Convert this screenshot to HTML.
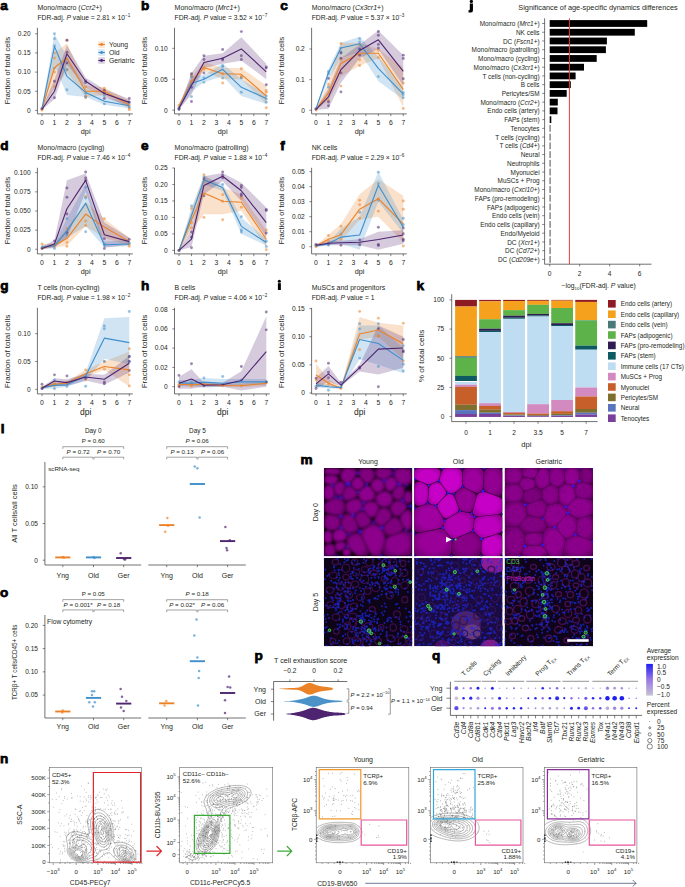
<!DOCTYPE html>
<html><head><meta charset="utf-8"><title>Figure</title>
<style>
html,body{margin:0;padding:0;background:#fff;}
body{width:685px;height:887px;overflow:hidden;position:relative;}
svg{position:absolute;left:0;top:0;display:block;}
text{font-family:"Liberation Sans", sans-serif;}
</style></head><body>
<svg width="685" height="887" viewBox="0 0 685 887">
<rect width="685" height="887" fill="#fff"/>
<g fill="#231f20">
<path d="M42.00,108.10 L54.47,52.95 L66.94,43.38 L85.65,85.51 L104.35,87.42 L129.29,100.83 L129.29,108.48 L104.35,95.08 L85.65,97.00 L66.94,72.10 L54.47,87.42 L42.00,110.02Z" fill="#EC8226" fill-opacity="0.24"/>
<path d="M42.00,107.34 L54.47,33.80 L66.94,56.78 L85.65,87.42 L104.35,97.00 L129.29,102.74 L129.29,108.48 L104.35,104.66 L85.65,97.00 L66.94,95.08 L54.47,64.44 L42.00,109.63Z" fill="#3F8FCB" fill-opacity="0.24"/>
<path d="M42.00,108.10 L54.47,79.76 L66.94,45.29 L85.65,77.84 L104.35,89.34 L129.29,98.91 L129.29,106.57 L104.35,97.00 L85.65,87.42 L66.94,64.44 L54.47,98.91 L42.00,110.02Z" fill="#4E2470" fill-opacity="0.24"/>
<circle cx="42.00" cy="109.25" r="1.45" fill="#EC8226" fill-opacity="0.55"/>
<circle cx="42.00" cy="110.02" r="1.45" fill="#EC8226" fill-opacity="0.55"/>
<circle cx="54.47" cy="52.95" r="1.45" fill="#EC8226" fill-opacity="0.55"/>
<circle cx="54.47" cy="57.93" r="1.45" fill="#EC8226" fill-opacity="0.55"/>
<circle cx="54.47" cy="72.10" r="1.45" fill="#EC8226" fill-opacity="0.55"/>
<circle cx="54.47" cy="86.65" r="1.45" fill="#EC8226" fill-opacity="0.55"/>
<circle cx="66.94" cy="40.31" r="1.45" fill="#EC8226" fill-opacity="0.55"/>
<circle cx="66.94" cy="69.80" r="1.45" fill="#EC8226" fill-opacity="0.55"/>
<circle cx="85.65" cy="87.04" r="1.45" fill="#EC8226" fill-opacity="0.55"/>
<circle cx="85.65" cy="97.76" r="1.45" fill="#EC8226" fill-opacity="0.55"/>
<circle cx="85.65" cy="96.23" r="1.45" fill="#EC8226" fill-opacity="0.55"/>
<circle cx="104.35" cy="88.19" r="1.45" fill="#EC8226" fill-opacity="0.55"/>
<circle cx="104.35" cy="90.48" r="1.45" fill="#EC8226" fill-opacity="0.55"/>
<circle cx="104.35" cy="93.17" r="1.45" fill="#EC8226" fill-opacity="0.55"/>
<circle cx="129.29" cy="108.10" r="1.45" fill="#EC8226" fill-opacity="0.55"/>
<circle cx="129.29" cy="109.63" r="1.45" fill="#EC8226" fill-opacity="0.55"/>
<circle cx="129.29" cy="105.04" r="1.45" fill="#EC8226" fill-opacity="0.55"/>
<circle cx="42.00" cy="108.10" r="1.45" fill="#3F8FCB" fill-opacity="0.55"/>
<circle cx="54.47" cy="33.80" r="1.45" fill="#3F8FCB" fill-opacity="0.55"/>
<circle cx="54.47" cy="38.78" r="1.45" fill="#3F8FCB" fill-opacity="0.55"/>
<circle cx="54.47" cy="45.67" r="1.45" fill="#3F8FCB" fill-opacity="0.55"/>
<circle cx="54.47" cy="68.27" r="1.45" fill="#3F8FCB" fill-opacity="0.55"/>
<circle cx="66.94" cy="69.80" r="1.45" fill="#3F8FCB" fill-opacity="0.55"/>
<circle cx="66.94" cy="89.72" r="1.45" fill="#3F8FCB" fill-opacity="0.55"/>
<circle cx="85.65" cy="97.00" r="1.45" fill="#3F8FCB" fill-opacity="0.55"/>
<circle cx="85.65" cy="93.17" r="1.45" fill="#3F8FCB" fill-opacity="0.55"/>
<circle cx="104.35" cy="95.46" r="1.45" fill="#3F8FCB" fill-opacity="0.55"/>
<circle cx="104.35" cy="103.89" r="1.45" fill="#3F8FCB" fill-opacity="0.55"/>
<circle cx="129.29" cy="102.74" r="1.45" fill="#3F8FCB" fill-opacity="0.55"/>
<circle cx="129.29" cy="106.95" r="1.45" fill="#3F8FCB" fill-opacity="0.55"/>
<circle cx="42.00" cy="108.87" r="1.45" fill="#4E2470" fill-opacity="0.55"/>
<circle cx="54.47" cy="81.29" r="1.45" fill="#4E2470" fill-opacity="0.55"/>
<circle cx="54.47" cy="97.76" r="1.45" fill="#4E2470" fill-opacity="0.55"/>
<circle cx="66.94" cy="40.31" r="1.45" fill="#4E2470" fill-opacity="0.55"/>
<circle cx="66.94" cy="52.18" r="1.45" fill="#4E2470" fill-opacity="0.55"/>
<circle cx="66.94" cy="62.91" r="1.45" fill="#4E2470" fill-opacity="0.55"/>
<circle cx="85.65" cy="80.91" r="1.45" fill="#4E2470" fill-opacity="0.55"/>
<circle cx="85.65" cy="82.44" r="1.45" fill="#4E2470" fill-opacity="0.55"/>
<circle cx="104.35" cy="90.48" r="1.45" fill="#4E2470" fill-opacity="0.55"/>
<circle cx="104.35" cy="92.78" r="1.45" fill="#4E2470" fill-opacity="0.55"/>
<circle cx="104.35" cy="98.53" r="1.45" fill="#4E2470" fill-opacity="0.55"/>
<circle cx="129.29" cy="98.53" r="1.45" fill="#4E2470" fill-opacity="0.55"/>
<circle cx="129.29" cy="101.97" r="1.45" fill="#4E2470" fill-opacity="0.55"/>
<path d="M42.00,109.25 L54.47,67.50 L66.94,58.31 L85.65,91.25 L104.35,91.25 L129.29,105.04" fill="none" stroke="#EC8226" stroke-width="1.1" stroke-linejoin="round"/>
<path d="M42.00,108.48 L54.47,46.44 L66.94,76.31 L85.65,92.40 L104.35,101.21 L129.29,105.80" fill="none" stroke="#3F8FCB" stroke-width="1.1" stroke-linejoin="round"/>
<path d="M42.00,109.25 L54.47,91.25 L66.94,53.72 L85.65,81.29 L104.35,93.55 L129.29,102.36" fill="none" stroke="#4E2470" stroke-width="1.1" stroke-linejoin="round"/>
<line x1="37.40" y1="27.80" x2="37.40" y2="113.90" stroke="#333" stroke-width="0.7" />
<line x1="37.40" y1="113.90" x2="132.79" y2="113.90" stroke="#333" stroke-width="0.7" />
<line x1="35.20" y1="110.40" x2="37.40" y2="110.40" stroke="#333" stroke-width="0.6" />
<text x="30.60" y="112.71" font-size="6.6" text-anchor="end" >0</text>
<line x1="35.20" y1="91.25" x2="37.40" y2="91.25" stroke="#333" stroke-width="0.6" />
<text x="30.60" y="93.56" font-size="6.6" text-anchor="end" >0.05</text>
<line x1="35.20" y1="72.10" x2="37.40" y2="72.10" stroke="#333" stroke-width="0.6" />
<text x="30.60" y="74.41" font-size="6.6" text-anchor="end" >0.10</text>
<line x1="35.20" y1="52.95" x2="37.40" y2="52.95" stroke="#333" stroke-width="0.6" />
<text x="30.60" y="55.26" font-size="6.6" text-anchor="end" >0.15</text>
<line x1="35.20" y1="33.80" x2="37.40" y2="33.80" stroke="#333" stroke-width="0.6" />
<text x="30.60" y="36.11" font-size="6.6" text-anchor="end" >0.20</text>
<line x1="42.00" y1="113.90" x2="42.00" y2="116.10" stroke="#333" stroke-width="0.6" />
<text x="42.00" y="124.98" font-size="6.8" text-anchor="middle" >0</text>
<line x1="54.47" y1="113.90" x2="54.47" y2="116.10" stroke="#333" stroke-width="0.6" />
<text x="54.47" y="124.98" font-size="6.8" text-anchor="middle" >1</text>
<line x1="66.94" y1="113.90" x2="66.94" y2="116.10" stroke="#333" stroke-width="0.6" />
<text x="66.94" y="124.98" font-size="6.8" text-anchor="middle" >2</text>
<line x1="79.41" y1="113.90" x2="79.41" y2="116.10" stroke="#333" stroke-width="0.6" />
<text x="79.41" y="124.98" font-size="6.8" text-anchor="middle" >3</text>
<line x1="91.88" y1="113.90" x2="91.88" y2="116.10" stroke="#333" stroke-width="0.6" />
<text x="91.88" y="124.98" font-size="6.8" text-anchor="middle" >4</text>
<line x1="104.35" y1="113.90" x2="104.35" y2="116.10" stroke="#333" stroke-width="0.6" />
<text x="104.35" y="124.98" font-size="6.8" text-anchor="middle" >5</text>
<line x1="116.82" y1="113.90" x2="116.82" y2="116.10" stroke="#333" stroke-width="0.6" />
<text x="116.82" y="124.98" font-size="6.8" text-anchor="middle" >6</text>
<line x1="129.29" y1="113.90" x2="129.29" y2="116.10" stroke="#333" stroke-width="0.6" />
<text x="129.29" y="124.98" font-size="6.8" text-anchor="middle" >7</text>
<text x="85.65" y="133.75" font-size="7.3" text-anchor="middle" >dpi</text>
<text x="7.70" y="72.95" font-size="7" text-anchor="middle" textLength="67.50" lengthAdjust="spacingAndGlyphs" transform="rotate(-90 7.70 70.50)" >Fraction of total cells</text>
<text x="37.50" y="10.30" font-size="7">Mono/macro (<tspan font-style="italic">Ccr2</tspan>+)</text>
<text x="37.50" y="20.00" font-size="6.75">FDR-adj. <tspan font-style="italic">P</tspan> value = 2.81 × 10<tspan font-size="4.6" dy="-2.8">−1</tspan></text>
<rect x="98.30" y="41.20" width="6.60" height="6.60" fill="#EC8226" fill-opacity="0.2"/>
<line x1="98.30" y1="44.50" x2="104.90" y2="44.50" stroke="#EC8226" stroke-width="1.1" />
<circle cx="101.60" cy="44.50" r="1.45" fill="#EC8226" />
<text x="109.00" y="46.88" font-size="6.8" >Young</text>
<rect x="98.30" y="49.20" width="6.60" height="6.60" fill="#3F8FCB" fill-opacity="0.2"/>
<line x1="98.30" y1="52.50" x2="104.90" y2="52.50" stroke="#3F8FCB" stroke-width="1.1" />
<circle cx="101.60" cy="52.50" r="1.45" fill="#3F8FCB" />
<text x="109.00" y="54.88" font-size="6.8" >Old</text>
<rect x="98.30" y="57.20" width="6.60" height="6.60" fill="#4E2470" fill-opacity="0.2"/>
<line x1="98.30" y1="60.50" x2="104.90" y2="60.50" stroke="#4E2470" stroke-width="1.1" />
<circle cx="101.60" cy="60.50" r="1.45" fill="#4E2470" />
<text x="109.00" y="62.88" font-size="6.8" >Geriatric</text>
<path d="M179.00,104.01 L191.47,77.39 L203.94,61.92 L222.65,68.11 L241.35,68.11 L266.29,85.44 L266.29,104.01 L241.35,79.25 L222.65,79.25 L203.94,71.20 L191.47,85.44 L179.00,107.72Z" fill="#EC8226" fill-opacity="0.24"/>
<path d="M179.00,106.49 L191.47,76.16 L203.94,74.92 L222.65,63.78 L241.35,79.25 L266.29,94.72 L266.29,104.01 L241.35,95.96 L222.65,76.16 L203.94,82.34 L191.47,91.63 L179.00,109.58Z" fill="#3F8FCB" fill-opacity="0.24"/>
<path d="M179.00,106.49 L191.47,73.06 L203.94,55.73 L222.65,53.25 L241.35,37.16 L266.29,63.78 L266.29,79.25 L241.35,60.68 L222.65,63.78 L203.94,68.11 L191.47,94.72 L179.00,109.58Z" fill="#4E2470" fill-opacity="0.24"/>
<circle cx="179.00" cy="105.56" r="1.45" fill="#EC8226" fill-opacity="0.55"/>
<circle cx="179.00" cy="107.11" r="1.45" fill="#EC8226" fill-opacity="0.55"/>
<circle cx="191.47" cy="74.92" r="1.45" fill="#EC8226" fill-opacity="0.55"/>
<circle cx="191.47" cy="76.16" r="1.45" fill="#EC8226" fill-opacity="0.55"/>
<circle cx="191.47" cy="81.73" r="1.45" fill="#EC8226" fill-opacity="0.55"/>
<circle cx="203.94" cy="67.49" r="1.45" fill="#EC8226" fill-opacity="0.55"/>
<circle cx="203.94" cy="69.35" r="1.45" fill="#EC8226" fill-opacity="0.55"/>
<circle cx="222.65" cy="73.68" r="1.45" fill="#EC8226" fill-opacity="0.55"/>
<circle cx="222.65" cy="82.96" r="1.45" fill="#EC8226" fill-opacity="0.55"/>
<circle cx="241.35" cy="68.73" r="1.45" fill="#EC8226" fill-opacity="0.55"/>
<circle cx="241.35" cy="76.16" r="1.45" fill="#EC8226" fill-opacity="0.55"/>
<circle cx="241.35" cy="77.39" r="1.45" fill="#EC8226" fill-opacity="0.55"/>
<circle cx="266.29" cy="90.39" r="1.45" fill="#EC8226" fill-opacity="0.55"/>
<circle cx="266.29" cy="92.25" r="1.45" fill="#EC8226" fill-opacity="0.55"/>
<circle cx="266.29" cy="107.72" r="1.45" fill="#EC8226" fill-opacity="0.55"/>
<circle cx="179.00" cy="108.96" r="1.45" fill="#3F8FCB" fill-opacity="0.55"/>
<circle cx="191.47" cy="76.77" r="1.45" fill="#3F8FCB" fill-opacity="0.55"/>
<circle cx="191.47" cy="96.58" r="1.45" fill="#3F8FCB" fill-opacity="0.55"/>
<circle cx="203.94" cy="78.01" r="1.45" fill="#3F8FCB" fill-opacity="0.55"/>
<circle cx="203.94" cy="82.34" r="1.45" fill="#3F8FCB" fill-opacity="0.55"/>
<circle cx="222.65" cy="65.63" r="1.45" fill="#3F8FCB" fill-opacity="0.55"/>
<circle cx="222.65" cy="66.87" r="1.45" fill="#3F8FCB" fill-opacity="0.55"/>
<circle cx="222.65" cy="78.01" r="1.45" fill="#3F8FCB" fill-opacity="0.55"/>
<circle cx="241.35" cy="92.25" r="1.45" fill="#3F8FCB" fill-opacity="0.55"/>
<circle cx="241.35" cy="78.01" r="1.45" fill="#3F8FCB" fill-opacity="0.55"/>
<circle cx="266.29" cy="95.96" r="1.45" fill="#3F8FCB" fill-opacity="0.55"/>
<circle cx="266.29" cy="99.06" r="1.45" fill="#3F8FCB" fill-opacity="0.55"/>
<circle cx="266.29" cy="102.15" r="1.45" fill="#3F8FCB" fill-opacity="0.55"/>
<circle cx="179.00" cy="109.58" r="1.45" fill="#4E2470" fill-opacity="0.55"/>
<circle cx="179.00" cy="108.34" r="1.45" fill="#4E2470" fill-opacity="0.55"/>
<circle cx="191.47" cy="73.68" r="1.45" fill="#4E2470" fill-opacity="0.55"/>
<circle cx="191.47" cy="87.30" r="1.45" fill="#4E2470" fill-opacity="0.55"/>
<circle cx="191.47" cy="101.53" r="1.45" fill="#4E2470" fill-opacity="0.55"/>
<circle cx="203.94" cy="55.73" r="1.45" fill="#4E2470" fill-opacity="0.55"/>
<circle cx="203.94" cy="59.44" r="1.45" fill="#4E2470" fill-opacity="0.55"/>
<circle cx="203.94" cy="73.06" r="1.45" fill="#4E2470" fill-opacity="0.55"/>
<circle cx="222.65" cy="49.54" r="1.45" fill="#4E2470" fill-opacity="0.55"/>
<circle cx="222.65" cy="58.82" r="1.45" fill="#4E2470" fill-opacity="0.55"/>
<circle cx="222.65" cy="60.06" r="1.45" fill="#4E2470" fill-opacity="0.55"/>
<circle cx="241.35" cy="31.59" r="1.45" fill="#4E2470" fill-opacity="0.55"/>
<circle cx="241.35" cy="55.73" r="1.45" fill="#4E2470" fill-opacity="0.55"/>
<circle cx="241.35" cy="59.44" r="1.45" fill="#4E2470" fill-opacity="0.55"/>
<circle cx="266.29" cy="66.87" r="1.45" fill="#4E2470" fill-opacity="0.55"/>
<circle cx="266.29" cy="68.11" r="1.45" fill="#4E2470" fill-opacity="0.55"/>
<circle cx="266.29" cy="84.82" r="1.45" fill="#4E2470" fill-opacity="0.55"/>
<path d="M179.00,105.56 L191.47,81.73 L203.94,67.49 L222.65,73.68 L241.35,74.30 L266.29,95.96" fill="none" stroke="#EC8226" stroke-width="1.1" stroke-linejoin="round"/>
<path d="M179.00,108.03 L191.47,83.58 L203.94,79.25 L222.65,69.35 L241.35,87.30 L266.29,98.44" fill="none" stroke="#3F8FCB" stroke-width="1.1" stroke-linejoin="round"/>
<path d="M179.00,108.34 L191.47,85.44 L203.94,62.54 L222.65,58.20 L241.35,48.92 L266.29,71.82" fill="none" stroke="#4E2470" stroke-width="1.1" stroke-linejoin="round"/>
<line x1="174.50" y1="27.80" x2="174.50" y2="113.90" stroke="#333" stroke-width="0.7" />
<line x1="174.50" y1="113.90" x2="269.79" y2="113.90" stroke="#333" stroke-width="0.7" />
<line x1="172.30" y1="110.20" x2="174.50" y2="110.20" stroke="#333" stroke-width="0.6" />
<text x="167.70" y="112.51" font-size="6.6" text-anchor="end" >0</text>
<line x1="172.30" y1="79.25" x2="174.50" y2="79.25" stroke="#333" stroke-width="0.6" />
<text x="167.70" y="81.56" font-size="6.6" text-anchor="end" >0.05</text>
<line x1="172.30" y1="48.30" x2="174.50" y2="48.30" stroke="#333" stroke-width="0.6" />
<text x="167.70" y="50.61" font-size="6.6" text-anchor="end" >0.10</text>
<line x1="179.00" y1="113.90" x2="179.00" y2="116.10" stroke="#333" stroke-width="0.6" />
<text x="179.00" y="124.98" font-size="6.8" text-anchor="middle" >0</text>
<line x1="191.47" y1="113.90" x2="191.47" y2="116.10" stroke="#333" stroke-width="0.6" />
<text x="191.47" y="124.98" font-size="6.8" text-anchor="middle" >1</text>
<line x1="203.94" y1="113.90" x2="203.94" y2="116.10" stroke="#333" stroke-width="0.6" />
<text x="203.94" y="124.98" font-size="6.8" text-anchor="middle" >2</text>
<line x1="216.41" y1="113.90" x2="216.41" y2="116.10" stroke="#333" stroke-width="0.6" />
<text x="216.41" y="124.98" font-size="6.8" text-anchor="middle" >3</text>
<line x1="228.88" y1="113.90" x2="228.88" y2="116.10" stroke="#333" stroke-width="0.6" />
<text x="228.88" y="124.98" font-size="6.8" text-anchor="middle" >4</text>
<line x1="241.35" y1="113.90" x2="241.35" y2="116.10" stroke="#333" stroke-width="0.6" />
<text x="241.35" y="124.98" font-size="6.8" text-anchor="middle" >5</text>
<line x1="253.82" y1="113.90" x2="253.82" y2="116.10" stroke="#333" stroke-width="0.6" />
<text x="253.82" y="124.98" font-size="6.8" text-anchor="middle" >6</text>
<line x1="266.29" y1="113.90" x2="266.29" y2="116.10" stroke="#333" stroke-width="0.6" />
<text x="266.29" y="124.98" font-size="6.8" text-anchor="middle" >7</text>
<text x="222.65" y="133.75" font-size="7.3" text-anchor="middle" >dpi</text>
<text x="144.70" y="72.95" font-size="7" text-anchor="middle" textLength="67.50" lengthAdjust="spacingAndGlyphs" transform="rotate(-90 144.70 70.50)" >Fraction of total cells</text>
<text x="174.60" y="10.30" font-size="7">Mono/macro (<tspan font-style="italic">Mrc1</tspan>+)</text>
<text x="174.60" y="20.00" font-size="6.75">FDR-adj. <tspan font-style="italic">P</tspan> value = 3.52 × 10<tspan font-size="4.6" dy="-2.8">−7</tspan></text>
<path d="M316.00,108.46 L328.47,82.72 L340.94,42.87 L359.64,42.87 L378.35,49.00 L403.29,67.39 L403.29,107.23 L378.35,58.19 L359.64,65.86 L340.94,76.58 L328.47,101.10 L316.00,109.99Z" fill="#EC8226" fill-opacity="0.24"/>
<path d="M316.00,107.85 L328.47,68.92 L340.94,42.87 L359.64,36.74 L378.35,56.66 L403.29,87.31 L403.29,99.57 L378.35,81.18 L359.64,52.06 L340.94,58.19 L328.47,79.65 L316.00,109.69Z" fill="#3F8FCB" fill-opacity="0.24"/>
<path d="M316.00,108.46 L328.47,88.84 L340.94,58.19 L359.64,44.40 L378.35,30.61 L403.29,55.13 L403.29,85.78 L378.35,49.00 L359.64,58.19 L340.94,82.72 L328.47,108.77 L316.00,109.99Z" fill="#4E2470" fill-opacity="0.24"/>
<circle cx="316.00" cy="109.38" r="1.45" fill="#EC8226" fill-opacity="0.55"/>
<circle cx="316.00" cy="109.99" r="1.45" fill="#EC8226" fill-opacity="0.55"/>
<circle cx="328.47" cy="84.55" r="1.45" fill="#EC8226" fill-opacity="0.55"/>
<circle cx="328.47" cy="100.49" r="1.45" fill="#EC8226" fill-opacity="0.55"/>
<circle cx="340.94" cy="43.48" r="1.45" fill="#EC8226" fill-opacity="0.55"/>
<circle cx="340.94" cy="59.42" r="1.45" fill="#EC8226" fill-opacity="0.55"/>
<circle cx="340.94" cy="86.09" r="1.45" fill="#EC8226" fill-opacity="0.55"/>
<circle cx="359.64" cy="44.40" r="1.45" fill="#EC8226" fill-opacity="0.55"/>
<circle cx="359.64" cy="59.73" r="1.45" fill="#EC8226" fill-opacity="0.55"/>
<circle cx="359.64" cy="65.55" r="1.45" fill="#EC8226" fill-opacity="0.55"/>
<circle cx="378.35" cy="50.23" r="1.45" fill="#EC8226" fill-opacity="0.55"/>
<circle cx="378.35" cy="57.58" r="1.45" fill="#EC8226" fill-opacity="0.55"/>
<circle cx="403.29" cy="83.02" r="1.45" fill="#EC8226" fill-opacity="0.55"/>
<circle cx="403.29" cy="108.46" r="1.45" fill="#EC8226" fill-opacity="0.55"/>
<circle cx="316.00" cy="108.77" r="1.45" fill="#3F8FCB" fill-opacity="0.55"/>
<circle cx="328.47" cy="71.37" r="1.45" fill="#3F8FCB" fill-opacity="0.55"/>
<circle cx="328.47" cy="73.52" r="1.45" fill="#3F8FCB" fill-opacity="0.55"/>
<circle cx="328.47" cy="87.31" r="1.45" fill="#3F8FCB" fill-opacity="0.55"/>
<circle cx="340.94" cy="48.08" r="1.45" fill="#3F8FCB" fill-opacity="0.55"/>
<circle cx="340.94" cy="52.06" r="1.45" fill="#3F8FCB" fill-opacity="0.55"/>
<circle cx="359.64" cy="38.58" r="1.45" fill="#3F8FCB" fill-opacity="0.55"/>
<circle cx="359.64" cy="41.95" r="1.45" fill="#3F8FCB" fill-opacity="0.55"/>
<circle cx="359.64" cy="49.31" r="1.45" fill="#3F8FCB" fill-opacity="0.55"/>
<circle cx="378.35" cy="76.58" r="1.45" fill="#3F8FCB" fill-opacity="0.55"/>
<circle cx="403.29" cy="92.52" r="1.45" fill="#3F8FCB" fill-opacity="0.55"/>
<circle cx="403.29" cy="94.67" r="1.45" fill="#3F8FCB" fill-opacity="0.55"/>
<circle cx="403.29" cy="97.73" r="1.45" fill="#3F8FCB" fill-opacity="0.55"/>
<circle cx="316.00" cy="109.07" r="1.45" fill="#4E2470" fill-opacity="0.55"/>
<circle cx="328.47" cy="78.42" r="1.45" fill="#4E2470" fill-opacity="0.55"/>
<circle cx="328.47" cy="102.02" r="1.45" fill="#4E2470" fill-opacity="0.55"/>
<circle cx="328.47" cy="105.70" r="1.45" fill="#4E2470" fill-opacity="0.55"/>
<circle cx="340.94" cy="52.98" r="1.45" fill="#4E2470" fill-opacity="0.55"/>
<circle cx="340.94" cy="58.19" r="1.45" fill="#4E2470" fill-opacity="0.55"/>
<circle cx="340.94" cy="72.91" r="1.45" fill="#4E2470" fill-opacity="0.55"/>
<circle cx="340.94" cy="91.91" r="1.45" fill="#4E2470" fill-opacity="0.55"/>
<circle cx="359.64" cy="49.00" r="1.45" fill="#4E2470" fill-opacity="0.55"/>
<circle cx="359.64" cy="55.13" r="1.45" fill="#4E2470" fill-opacity="0.55"/>
<circle cx="378.35" cy="31.53" r="1.45" fill="#4E2470" fill-opacity="0.55"/>
<circle cx="378.35" cy="35.21" r="1.45" fill="#4E2470" fill-opacity="0.55"/>
<circle cx="378.35" cy="44.40" r="1.45" fill="#4E2470" fill-opacity="0.55"/>
<circle cx="378.35" cy="48.08" r="1.45" fill="#4E2470" fill-opacity="0.55"/>
<circle cx="403.29" cy="55.13" r="1.45" fill="#4E2470" fill-opacity="0.55"/>
<circle cx="403.29" cy="58.50" r="1.45" fill="#4E2470" fill-opacity="0.55"/>
<circle cx="403.29" cy="78.73" r="1.45" fill="#4E2470" fill-opacity="0.55"/>
<path d="M316.00,109.38 L328.47,93.14 L340.94,63.41 L359.64,53.29 L378.35,53.29 L403.29,89.46" fill="none" stroke="#EC8226" stroke-width="1.1" stroke-linejoin="round"/>
<path d="M316.00,108.77 L328.47,72.91 L340.94,48.08 L359.64,43.79 L378.35,68.31 L403.29,94.06" fill="none" stroke="#3F8FCB" stroke-width="1.1" stroke-linejoin="round"/>
<path d="M316.00,109.38 L328.47,96.81 L340.94,69.54 L359.64,50.53 L378.35,39.80 L403.29,71.37" fill="none" stroke="#4E2470" stroke-width="1.1" stroke-linejoin="round"/>
<line x1="311.60" y1="27.80" x2="311.60" y2="113.90" stroke="#333" stroke-width="0.7" />
<line x1="311.60" y1="113.90" x2="406.79" y2="113.90" stroke="#333" stroke-width="0.7" />
<line x1="309.40" y1="110.30" x2="311.60" y2="110.30" stroke="#333" stroke-width="0.6" />
<text x="304.80" y="112.61" font-size="6.6" text-anchor="end" >0</text>
<line x1="309.40" y1="79.65" x2="311.60" y2="79.65" stroke="#333" stroke-width="0.6" />
<text x="304.80" y="81.96" font-size="6.6" text-anchor="end" >0.1</text>
<line x1="309.40" y1="49.00" x2="311.60" y2="49.00" stroke="#333" stroke-width="0.6" />
<text x="304.80" y="51.31" font-size="6.6" text-anchor="end" >0.2</text>
<line x1="316.00" y1="113.90" x2="316.00" y2="116.10" stroke="#333" stroke-width="0.6" />
<text x="316.00" y="124.98" font-size="6.8" text-anchor="middle" >0</text>
<line x1="328.47" y1="113.90" x2="328.47" y2="116.10" stroke="#333" stroke-width="0.6" />
<text x="328.47" y="124.98" font-size="6.8" text-anchor="middle" >1</text>
<line x1="340.94" y1="113.90" x2="340.94" y2="116.10" stroke="#333" stroke-width="0.6" />
<text x="340.94" y="124.98" font-size="6.8" text-anchor="middle" >2</text>
<line x1="353.41" y1="113.90" x2="353.41" y2="116.10" stroke="#333" stroke-width="0.6" />
<text x="353.41" y="124.98" font-size="6.8" text-anchor="middle" >3</text>
<line x1="365.88" y1="113.90" x2="365.88" y2="116.10" stroke="#333" stroke-width="0.6" />
<text x="365.88" y="124.98" font-size="6.8" text-anchor="middle" >4</text>
<line x1="378.35" y1="113.90" x2="378.35" y2="116.10" stroke="#333" stroke-width="0.6" />
<text x="378.35" y="124.98" font-size="6.8" text-anchor="middle" >5</text>
<line x1="390.82" y1="113.90" x2="390.82" y2="116.10" stroke="#333" stroke-width="0.6" />
<text x="390.82" y="124.98" font-size="6.8" text-anchor="middle" >6</text>
<line x1="403.29" y1="113.90" x2="403.29" y2="116.10" stroke="#333" stroke-width="0.6" />
<text x="403.29" y="124.98" font-size="6.8" text-anchor="middle" >7</text>
<text x="359.64" y="133.75" font-size="7.3" text-anchor="middle" >dpi</text>
<text x="281.70" y="72.95" font-size="7" text-anchor="middle" textLength="67.50" lengthAdjust="spacingAndGlyphs" transform="rotate(-90 281.70 70.50)" >Fraction of total cells</text>
<text x="311.70" y="10.30" font-size="7">Mono/macro (<tspan font-style="italic">Cx3cr1</tspan>+)</text>
<text x="311.70" y="20.00" font-size="6.75">FDR-adj. <tspan font-style="italic">P</tspan> value = 5.37 × 10<tspan font-size="4.6" dy="-2.8">−3</tspan></text>
<path d="M42.00,243.94 L54.47,243.17 L66.94,228.62 L85.65,201.81 L104.35,218.66 L129.29,237.81 L129.29,245.47 L104.35,237.81 L85.65,226.32 L66.94,245.47 L54.47,247.77 L42.00,249.30Z" fill="#EC8226" fill-opacity="0.24"/>
<path d="M42.00,245.47 L54.47,243.17 L66.94,218.66 L85.65,184.19 L104.35,241.64 L129.29,240.11 L129.29,246.24 L104.35,247.00 L85.65,226.32 L66.94,237.81 L54.47,248.53 L42.00,248.53Z" fill="#3F8FCB" fill-opacity="0.24"/>
<path d="M42.00,247.00 L54.47,240.11 L66.94,180.36 L85.65,173.47 L104.35,222.49 L129.29,237.81 L129.29,244.70 L104.35,247.77 L85.65,191.85 L66.94,237.81 L54.47,247.00 L42.00,249.30Z" fill="#4E2470" fill-opacity="0.24"/>
<circle cx="42.00" cy="243.94" r="1.45" fill="#EC8226" fill-opacity="0.55"/>
<circle cx="42.00" cy="248.53" r="1.45" fill="#EC8226" fill-opacity="0.55"/>
<circle cx="54.47" cy="244.70" r="1.45" fill="#EC8226" fill-opacity="0.55"/>
<circle cx="54.47" cy="246.24" r="1.45" fill="#EC8226" fill-opacity="0.55"/>
<circle cx="66.94" cy="228.62" r="1.45" fill="#EC8226" fill-opacity="0.55"/>
<circle cx="66.94" cy="242.41" r="1.45" fill="#EC8226" fill-opacity="0.55"/>
<circle cx="66.94" cy="246.24" r="1.45" fill="#EC8226" fill-opacity="0.55"/>
<circle cx="85.65" cy="196.45" r="1.45" fill="#EC8226" fill-opacity="0.55"/>
<circle cx="85.65" cy="220.96" r="1.45" fill="#EC8226" fill-opacity="0.55"/>
<circle cx="85.65" cy="225.55" r="1.45" fill="#EC8226" fill-opacity="0.55"/>
<circle cx="104.35" cy="218.66" r="1.45" fill="#EC8226" fill-opacity="0.55"/>
<circle cx="129.29" cy="246.24" r="1.45" fill="#EC8226" fill-opacity="0.55"/>
<circle cx="129.29" cy="243.94" r="1.45" fill="#EC8226" fill-opacity="0.55"/>
<circle cx="42.00" cy="247.00" r="1.45" fill="#3F8FCB" fill-opacity="0.55"/>
<circle cx="54.47" cy="248.53" r="1.45" fill="#3F8FCB" fill-opacity="0.55"/>
<circle cx="66.94" cy="218.66" r="1.45" fill="#3F8FCB" fill-opacity="0.55"/>
<circle cx="66.94" cy="234.75" r="1.45" fill="#3F8FCB" fill-opacity="0.55"/>
<circle cx="85.65" cy="187.25" r="1.45" fill="#3F8FCB" fill-opacity="0.55"/>
<circle cx="85.65" cy="197.98" r="1.45" fill="#3F8FCB" fill-opacity="0.55"/>
<circle cx="85.65" cy="231.68" r="1.45" fill="#3F8FCB" fill-opacity="0.55"/>
<circle cx="104.35" cy="243.94" r="1.45" fill="#3F8FCB" fill-opacity="0.55"/>
<circle cx="104.35" cy="245.47" r="1.45" fill="#3F8FCB" fill-opacity="0.55"/>
<circle cx="129.29" cy="243.17" r="1.45" fill="#3F8FCB" fill-opacity="0.55"/>
<circle cx="42.00" cy="248.53" r="1.45" fill="#4E2470" fill-opacity="0.55"/>
<circle cx="54.47" cy="240.87" r="1.45" fill="#4E2470" fill-opacity="0.55"/>
<circle cx="66.94" cy="188.02" r="1.45" fill="#4E2470" fill-opacity="0.55"/>
<circle cx="66.94" cy="197.21" r="1.45" fill="#4E2470" fill-opacity="0.55"/>
<circle cx="66.94" cy="214.06" r="1.45" fill="#4E2470" fill-opacity="0.55"/>
<circle cx="66.94" cy="232.45" r="1.45" fill="#4E2470" fill-opacity="0.55"/>
<circle cx="85.65" cy="171.93" r="1.45" fill="#4E2470" fill-opacity="0.55"/>
<circle cx="85.65" cy="178.06" r="1.45" fill="#4E2470" fill-opacity="0.55"/>
<circle cx="85.65" cy="180.36" r="1.45" fill="#4E2470" fill-opacity="0.55"/>
<circle cx="104.35" cy="238.58" r="1.45" fill="#4E2470" fill-opacity="0.55"/>
<circle cx="104.35" cy="248.53" r="1.45" fill="#4E2470" fill-opacity="0.55"/>
<circle cx="129.29" cy="239.34" r="1.45" fill="#4E2470" fill-opacity="0.55"/>
<path d="M42.00,247.77 L54.47,245.47 L66.94,238.58 L85.65,214.06 L104.35,227.09 L129.29,241.64" fill="none" stroke="#EC8226" stroke-width="1.1" stroke-linejoin="round"/>
<path d="M42.00,247.00 L54.47,245.85 L66.94,230.92 L85.65,203.34 L104.35,244.70 L129.29,243.94" fill="none" stroke="#3F8FCB" stroke-width="1.1" stroke-linejoin="round"/>
<path d="M42.00,248.53 L54.47,243.94 L66.94,208.70 L85.65,180.36 L104.35,234.75 L129.29,241.64" fill="none" stroke="#4E2470" stroke-width="1.1" stroke-linejoin="round"/>
<line x1="37.40" y1="167.80" x2="37.40" y2="253.90" stroke="#333" stroke-width="0.7" />
<line x1="37.40" y1="253.90" x2="132.79" y2="253.90" stroke="#333" stroke-width="0.7" />
<line x1="35.20" y1="249.30" x2="37.40" y2="249.30" stroke="#333" stroke-width="0.6" />
<text x="30.60" y="251.61" font-size="6.6" text-anchor="end" >0</text>
<line x1="35.20" y1="230.15" x2="37.40" y2="230.15" stroke="#333" stroke-width="0.6" />
<text x="30.60" y="232.46" font-size="6.6" text-anchor="end" >0.025</text>
<line x1="35.20" y1="211.00" x2="37.40" y2="211.00" stroke="#333" stroke-width="0.6" />
<text x="30.60" y="213.31" font-size="6.6" text-anchor="end" >0.050</text>
<line x1="35.20" y1="191.85" x2="37.40" y2="191.85" stroke="#333" stroke-width="0.6" />
<text x="30.60" y="194.16" font-size="6.6" text-anchor="end" >0.075</text>
<line x1="35.20" y1="172.70" x2="37.40" y2="172.70" stroke="#333" stroke-width="0.6" />
<text x="30.60" y="175.01" font-size="6.6" text-anchor="end" >0.100</text>
<line x1="42.00" y1="253.90" x2="42.00" y2="256.10" stroke="#333" stroke-width="0.6" />
<text x="42.00" y="264.98" font-size="6.8" text-anchor="middle" >0</text>
<line x1="54.47" y1="253.90" x2="54.47" y2="256.10" stroke="#333" stroke-width="0.6" />
<text x="54.47" y="264.98" font-size="6.8" text-anchor="middle" >1</text>
<line x1="66.94" y1="253.90" x2="66.94" y2="256.10" stroke="#333" stroke-width="0.6" />
<text x="66.94" y="264.98" font-size="6.8" text-anchor="middle" >2</text>
<line x1="79.41" y1="253.90" x2="79.41" y2="256.10" stroke="#333" stroke-width="0.6" />
<text x="79.41" y="264.98" font-size="6.8" text-anchor="middle" >3</text>
<line x1="91.88" y1="253.90" x2="91.88" y2="256.10" stroke="#333" stroke-width="0.6" />
<text x="91.88" y="264.98" font-size="6.8" text-anchor="middle" >4</text>
<line x1="104.35" y1="253.90" x2="104.35" y2="256.10" stroke="#333" stroke-width="0.6" />
<text x="104.35" y="264.98" font-size="6.8" text-anchor="middle" >5</text>
<line x1="116.82" y1="253.90" x2="116.82" y2="256.10" stroke="#333" stroke-width="0.6" />
<text x="116.82" y="264.98" font-size="6.8" text-anchor="middle" >6</text>
<line x1="129.29" y1="253.90" x2="129.29" y2="256.10" stroke="#333" stroke-width="0.6" />
<text x="129.29" y="264.98" font-size="6.8" text-anchor="middle" >7</text>
<text x="85.65" y="273.75" font-size="7.3" text-anchor="middle" >dpi</text>
<text x="7.70" y="212.95" font-size="7" text-anchor="middle" textLength="67.50" lengthAdjust="spacingAndGlyphs" transform="rotate(-90 7.70 210.50)" >Fraction of total cells</text>
<text x="37.50" y="150.30" font-size="7">Mono/macro (cycling)</text>
<text x="37.50" y="160.00" font-size="6.75">FDR-adj. <tspan font-style="italic">P</tspan> value = 7.46 × 10<tspan font-size="4.6" dy="-2.8">−4</tspan></text>
<path d="M179.00,249.74 L191.47,210.85 L203.94,174.59 L222.65,187.78 L241.35,194.37 L266.29,230.62 L266.29,247.10 L241.35,210.85 L222.65,214.14 L203.94,214.14 L191.47,230.62 L179.00,250.40Z" fill="#EC8226" fill-opacity="0.24"/>
<path d="M179.00,249.74 L191.47,207.55 L203.94,176.24 L222.65,184.48 L241.35,217.44 L266.29,238.86 L266.29,245.46 L241.35,233.92 L222.65,191.07 L203.94,184.48 L191.47,227.33 L179.00,250.40Z" fill="#3F8FCB" fill-opacity="0.24"/>
<path d="M179.00,249.74 L191.47,230.62 L203.94,176.24 L222.65,172.94 L241.35,182.83 L266.29,207.55 L266.29,237.22 L241.35,200.96 L222.65,181.18 L203.94,194.37 L191.47,247.10 L179.00,250.40Z" fill="#4E2470" fill-opacity="0.24"/>
<circle cx="179.00" cy="250.40" r="1.45" fill="#EC8226" fill-opacity="0.55"/>
<circle cx="191.47" cy="208.54" r="1.45" fill="#EC8226" fill-opacity="0.55"/>
<circle cx="191.47" cy="222.71" r="1.45" fill="#EC8226" fill-opacity="0.55"/>
<circle cx="191.47" cy="227.99" r="1.45" fill="#EC8226" fill-opacity="0.55"/>
<circle cx="203.94" cy="174.59" r="1.45" fill="#EC8226" fill-opacity="0.55"/>
<circle cx="203.94" cy="181.84" r="1.45" fill="#EC8226" fill-opacity="0.55"/>
<circle cx="203.94" cy="217.44" r="1.45" fill="#EC8226" fill-opacity="0.55"/>
<circle cx="222.65" cy="194.70" r="1.45" fill="#EC8226" fill-opacity="0.55"/>
<circle cx="222.65" cy="201.29" r="1.45" fill="#EC8226" fill-opacity="0.55"/>
<circle cx="222.65" cy="219.75" r="1.45" fill="#EC8226" fill-opacity="0.55"/>
<circle cx="241.35" cy="198.32" r="1.45" fill="#EC8226" fill-opacity="0.55"/>
<circle cx="241.35" cy="207.22" r="1.45" fill="#EC8226" fill-opacity="0.55"/>
<circle cx="266.29" cy="229.96" r="1.45" fill="#EC8226" fill-opacity="0.55"/>
<circle cx="266.29" cy="249.74" r="1.45" fill="#EC8226" fill-opacity="0.55"/>
<circle cx="179.00" cy="250.40" r="1.45" fill="#3F8FCB" fill-opacity="0.55"/>
<circle cx="191.47" cy="205.90" r="1.45" fill="#3F8FCB" fill-opacity="0.55"/>
<circle cx="203.94" cy="176.90" r="1.45" fill="#3F8FCB" fill-opacity="0.55"/>
<circle cx="222.65" cy="184.48" r="1.45" fill="#3F8FCB" fill-opacity="0.55"/>
<circle cx="241.35" cy="216.78" r="1.45" fill="#3F8FCB" fill-opacity="0.55"/>
<circle cx="241.35" cy="229.96" r="1.45" fill="#3F8FCB" fill-opacity="0.55"/>
<circle cx="241.35" cy="231.94" r="1.45" fill="#3F8FCB" fill-opacity="0.55"/>
<circle cx="266.29" cy="241.17" r="1.45" fill="#3F8FCB" fill-opacity="0.55"/>
<circle cx="266.29" cy="246.44" r="1.45" fill="#3F8FCB" fill-opacity="0.55"/>
<circle cx="179.00" cy="250.40" r="1.45" fill="#4E2470" fill-opacity="0.55"/>
<circle cx="191.47" cy="231.94" r="1.45" fill="#4E2470" fill-opacity="0.55"/>
<circle cx="191.47" cy="237.22" r="1.45" fill="#4E2470" fill-opacity="0.55"/>
<circle cx="191.47" cy="247.76" r="1.45" fill="#4E2470" fill-opacity="0.55"/>
<circle cx="203.94" cy="178.88" r="1.45" fill="#4E2470" fill-opacity="0.55"/>
<circle cx="203.94" cy="195.69" r="1.45" fill="#4E2470" fill-opacity="0.55"/>
<circle cx="222.65" cy="171.96" r="1.45" fill="#4E2470" fill-opacity="0.55"/>
<circle cx="222.65" cy="175.25" r="1.45" fill="#4E2470" fill-opacity="0.55"/>
<circle cx="222.65" cy="177.89" r="1.45" fill="#4E2470" fill-opacity="0.55"/>
<circle cx="241.35" cy="185.47" r="1.45" fill="#4E2470" fill-opacity="0.55"/>
<circle cx="241.35" cy="187.45" r="1.45" fill="#4E2470" fill-opacity="0.55"/>
<circle cx="241.35" cy="194.04" r="1.45" fill="#4E2470" fill-opacity="0.55"/>
<circle cx="241.35" cy="195.69" r="1.45" fill="#4E2470" fill-opacity="0.55"/>
<circle cx="266.29" cy="209.53" r="1.45" fill="#4E2470" fill-opacity="0.55"/>
<circle cx="266.29" cy="210.52" r="1.45" fill="#4E2470" fill-opacity="0.55"/>
<circle cx="266.29" cy="232.93" r="1.45" fill="#4E2470" fill-opacity="0.55"/>
<path d="M179.00,250.40 L191.47,219.75 L203.94,193.05 L222.65,201.29 L241.35,202.28 L266.29,239.19" fill="none" stroke="#EC8226" stroke-width="1.1" stroke-linejoin="round"/>
<path d="M179.00,250.40 L191.47,215.79 L203.94,179.87 L222.65,187.45 L241.35,226.34 L266.29,242.49" fill="none" stroke="#3F8FCB" stroke-width="1.1" stroke-linejoin="round"/>
<path d="M179.00,250.40 L191.47,239.19 L203.94,185.47 L222.65,176.24 L241.35,190.74 L266.29,222.71" fill="none" stroke="#4E2470" stroke-width="1.1" stroke-linejoin="round"/>
<line x1="174.50" y1="167.80" x2="174.50" y2="253.90" stroke="#333" stroke-width="0.7" />
<line x1="174.50" y1="253.90" x2="269.79" y2="253.90" stroke="#333" stroke-width="0.7" />
<line x1="172.30" y1="250.40" x2="174.50" y2="250.40" stroke="#333" stroke-width="0.6" />
<text x="167.70" y="252.71" font-size="6.6" text-anchor="end" >0</text>
<line x1="172.30" y1="233.92" x2="174.50" y2="233.92" stroke="#333" stroke-width="0.6" />
<text x="167.70" y="236.23" font-size="6.6" text-anchor="end" >0.05</text>
<line x1="172.30" y1="217.44" x2="174.50" y2="217.44" stroke="#333" stroke-width="0.6" />
<text x="167.70" y="219.75" font-size="6.6" text-anchor="end" >0.10</text>
<line x1="172.30" y1="200.96" x2="174.50" y2="200.96" stroke="#333" stroke-width="0.6" />
<text x="167.70" y="203.27" font-size="6.6" text-anchor="end" >0.15</text>
<line x1="172.30" y1="184.48" x2="174.50" y2="184.48" stroke="#333" stroke-width="0.6" />
<text x="167.70" y="186.79" font-size="6.6" text-anchor="end" >0.20</text>
<line x1="172.30" y1="168.00" x2="174.50" y2="168.00" stroke="#333" stroke-width="0.6" />
<text x="167.70" y="170.31" font-size="6.6" text-anchor="end" >0.25</text>
<line x1="179.00" y1="253.90" x2="179.00" y2="256.10" stroke="#333" stroke-width="0.6" />
<text x="179.00" y="264.98" font-size="6.8" text-anchor="middle" >0</text>
<line x1="191.47" y1="253.90" x2="191.47" y2="256.10" stroke="#333" stroke-width="0.6" />
<text x="191.47" y="264.98" font-size="6.8" text-anchor="middle" >1</text>
<line x1="203.94" y1="253.90" x2="203.94" y2="256.10" stroke="#333" stroke-width="0.6" />
<text x="203.94" y="264.98" font-size="6.8" text-anchor="middle" >2</text>
<line x1="216.41" y1="253.90" x2="216.41" y2="256.10" stroke="#333" stroke-width="0.6" />
<text x="216.41" y="264.98" font-size="6.8" text-anchor="middle" >3</text>
<line x1="228.88" y1="253.90" x2="228.88" y2="256.10" stroke="#333" stroke-width="0.6" />
<text x="228.88" y="264.98" font-size="6.8" text-anchor="middle" >4</text>
<line x1="241.35" y1="253.90" x2="241.35" y2="256.10" stroke="#333" stroke-width="0.6" />
<text x="241.35" y="264.98" font-size="6.8" text-anchor="middle" >5</text>
<line x1="253.82" y1="253.90" x2="253.82" y2="256.10" stroke="#333" stroke-width="0.6" />
<text x="253.82" y="264.98" font-size="6.8" text-anchor="middle" >6</text>
<line x1="266.29" y1="253.90" x2="266.29" y2="256.10" stroke="#333" stroke-width="0.6" />
<text x="266.29" y="264.98" font-size="6.8" text-anchor="middle" >7</text>
<text x="222.65" y="273.75" font-size="7.3" text-anchor="middle" >dpi</text>
<text x="144.70" y="212.95" font-size="7" text-anchor="middle" textLength="67.50" lengthAdjust="spacingAndGlyphs" transform="rotate(-90 144.70 210.50)" >Fraction of total cells</text>
<text x="174.60" y="150.30" font-size="7">Mono/macro (patrolling)</text>
<text x="174.60" y="160.00" font-size="6.75">FDR-adj. <tspan font-style="italic">P</tspan> value = 1.88 × 10<tspan font-size="4.6" dy="-2.8">−4</tspan></text>
<path d="M316.00,245.20 L328.47,234.70 L340.94,224.20 L359.64,194.20 L378.35,179.20 L403.29,195.70 L403.29,242.20 L378.35,216.70 L359.64,219.70 L340.94,240.70 L328.47,243.70 L316.00,246.70Z" fill="#EC8226" fill-opacity="0.24"/>
<path d="M316.00,245.20 L328.47,242.20 L340.94,228.70 L359.64,216.70 L378.35,171.70 L403.29,219.70 L403.29,233.20 L378.35,201.70 L359.64,249.70 L340.94,243.70 L328.47,245.20 L316.00,246.70Z" fill="#3F8FCB" fill-opacity="0.24"/>
<path d="M316.00,243.70 L328.47,240.70 L340.94,240.70 L359.64,239.20 L378.35,231.70 L403.29,230.20 L403.29,243.70 L378.35,249.70 L359.64,245.20 L340.94,245.20 L328.47,245.20 L316.00,246.70Z" fill="#4E2470" fill-opacity="0.24"/>
<circle cx="316.00" cy="245.95" r="1.45" fill="#EC8226" fill-opacity="0.55"/>
<circle cx="316.00" cy="246.70" r="1.45" fill="#EC8226" fill-opacity="0.55"/>
<circle cx="328.47" cy="235.45" r="1.45" fill="#EC8226" fill-opacity="0.55"/>
<circle cx="328.47" cy="240.70" r="1.45" fill="#EC8226" fill-opacity="0.55"/>
<circle cx="340.94" cy="226.30" r="1.45" fill="#EC8226" fill-opacity="0.55"/>
<circle cx="340.94" cy="239.20" r="1.45" fill="#EC8226" fill-opacity="0.55"/>
<circle cx="359.64" cy="200.20" r="1.45" fill="#EC8226" fill-opacity="0.55"/>
<circle cx="359.64" cy="204.70" r="1.45" fill="#EC8226" fill-opacity="0.55"/>
<circle cx="359.64" cy="218.20" r="1.45" fill="#EC8226" fill-opacity="0.55"/>
<circle cx="378.35" cy="211.15" r="1.45" fill="#EC8226" fill-opacity="0.55"/>
<circle cx="378.35" cy="198.70" r="1.45" fill="#EC8226" fill-opacity="0.55"/>
<circle cx="403.29" cy="200.95" r="1.45" fill="#EC8226" fill-opacity="0.55"/>
<circle cx="403.29" cy="209.20" r="1.45" fill="#EC8226" fill-opacity="0.55"/>
<circle cx="403.29" cy="245.95" r="1.45" fill="#EC8226" fill-opacity="0.55"/>
<circle cx="316.00" cy="245.20" r="1.45" fill="#3F8FCB" fill-opacity="0.55"/>
<circle cx="328.47" cy="245.20" r="1.45" fill="#3F8FCB" fill-opacity="0.55"/>
<circle cx="340.94" cy="234.10" r="1.45" fill="#3F8FCB" fill-opacity="0.55"/>
<circle cx="359.64" cy="212.20" r="1.45" fill="#3F8FCB" fill-opacity="0.55"/>
<circle cx="378.35" cy="172.30" r="1.45" fill="#3F8FCB" fill-opacity="0.55"/>
<circle cx="378.35" cy="183.70" r="1.45" fill="#3F8FCB" fill-opacity="0.55"/>
<circle cx="378.35" cy="200.20" r="1.45" fill="#3F8FCB" fill-opacity="0.55"/>
<circle cx="403.29" cy="218.20" r="1.45" fill="#3F8FCB" fill-opacity="0.55"/>
<circle cx="403.29" cy="224.80" r="1.45" fill="#3F8FCB" fill-opacity="0.55"/>
<circle cx="316.00" cy="244.45" r="1.45" fill="#4E2470" fill-opacity="0.55"/>
<circle cx="328.47" cy="243.70" r="1.45" fill="#4E2470" fill-opacity="0.55"/>
<circle cx="340.94" cy="245.20" r="1.45" fill="#4E2470" fill-opacity="0.55"/>
<circle cx="359.64" cy="239.95" r="1.45" fill="#4E2470" fill-opacity="0.55"/>
<circle cx="359.64" cy="244.75" r="1.45" fill="#4E2470" fill-opacity="0.55"/>
<circle cx="378.35" cy="227.20" r="1.45" fill="#4E2470" fill-opacity="0.55"/>
<circle cx="378.35" cy="244.45" r="1.45" fill="#4E2470" fill-opacity="0.55"/>
<circle cx="378.35" cy="245.50" r="1.45" fill="#4E2470" fill-opacity="0.55"/>
<circle cx="403.29" cy="227.95" r="1.45" fill="#4E2470" fill-opacity="0.55"/>
<circle cx="403.29" cy="233.65" r="1.45" fill="#4E2470" fill-opacity="0.55"/>
<circle cx="403.29" cy="239.20" r="1.45" fill="#4E2470" fill-opacity="0.55"/>
<circle cx="403.29" cy="240.70" r="1.45" fill="#4E2470" fill-opacity="0.55"/>
<path d="M316.00,245.95 L328.47,239.20 L340.94,234.70 L359.64,209.20 L378.35,198.70 L403.29,224.20" fill="none" stroke="#EC8226" stroke-width="1.1" stroke-linejoin="round"/>
<path d="M316.00,245.95 L328.47,243.70 L340.94,237.10 L359.64,235.00 L378.35,185.20 L403.29,227.20" fill="none" stroke="#3F8FCB" stroke-width="1.1" stroke-linejoin="round"/>
<path d="M316.00,245.20 L328.47,243.25 L340.94,242.80 L359.64,242.20 L378.35,239.50 L403.29,235.00" fill="none" stroke="#4E2470" stroke-width="1.1" stroke-linejoin="round"/>
<line x1="311.60" y1="167.80" x2="311.60" y2="253.90" stroke="#333" stroke-width="0.7" />
<line x1="311.60" y1="253.90" x2="406.79" y2="253.90" stroke="#333" stroke-width="0.7" />
<line x1="309.40" y1="246.70" x2="311.60" y2="246.70" stroke="#333" stroke-width="0.6" />
<text x="304.80" y="249.01" font-size="6.6" text-anchor="end" >0</text>
<line x1="309.40" y1="231.70" x2="311.60" y2="231.70" stroke="#333" stroke-width="0.6" />
<text x="304.80" y="234.01" font-size="6.6" text-anchor="end" >0.01</text>
<line x1="309.40" y1="216.70" x2="311.60" y2="216.70" stroke="#333" stroke-width="0.6" />
<text x="304.80" y="219.01" font-size="6.6" text-anchor="end" >0.02</text>
<line x1="309.40" y1="201.70" x2="311.60" y2="201.70" stroke="#333" stroke-width="0.6" />
<text x="304.80" y="204.01" font-size="6.6" text-anchor="end" >0.03</text>
<line x1="309.40" y1="186.70" x2="311.60" y2="186.70" stroke="#333" stroke-width="0.6" />
<text x="304.80" y="189.01" font-size="6.6" text-anchor="end" >0.04</text>
<line x1="309.40" y1="171.70" x2="311.60" y2="171.70" stroke="#333" stroke-width="0.6" />
<text x="304.80" y="174.01" font-size="6.6" text-anchor="end" >0.05</text>
<line x1="316.00" y1="253.90" x2="316.00" y2="256.10" stroke="#333" stroke-width="0.6" />
<text x="316.00" y="264.98" font-size="6.8" text-anchor="middle" >0</text>
<line x1="328.47" y1="253.90" x2="328.47" y2="256.10" stroke="#333" stroke-width="0.6" />
<text x="328.47" y="264.98" font-size="6.8" text-anchor="middle" >1</text>
<line x1="340.94" y1="253.90" x2="340.94" y2="256.10" stroke="#333" stroke-width="0.6" />
<text x="340.94" y="264.98" font-size="6.8" text-anchor="middle" >2</text>
<line x1="353.41" y1="253.90" x2="353.41" y2="256.10" stroke="#333" stroke-width="0.6" />
<text x="353.41" y="264.98" font-size="6.8" text-anchor="middle" >3</text>
<line x1="365.88" y1="253.90" x2="365.88" y2="256.10" stroke="#333" stroke-width="0.6" />
<text x="365.88" y="264.98" font-size="6.8" text-anchor="middle" >4</text>
<line x1="378.35" y1="253.90" x2="378.35" y2="256.10" stroke="#333" stroke-width="0.6" />
<text x="378.35" y="264.98" font-size="6.8" text-anchor="middle" >5</text>
<line x1="390.82" y1="253.90" x2="390.82" y2="256.10" stroke="#333" stroke-width="0.6" />
<text x="390.82" y="264.98" font-size="6.8" text-anchor="middle" >6</text>
<line x1="403.29" y1="253.90" x2="403.29" y2="256.10" stroke="#333" stroke-width="0.6" />
<text x="403.29" y="264.98" font-size="6.8" text-anchor="middle" >7</text>
<text x="359.64" y="273.75" font-size="7.3" text-anchor="middle" >dpi</text>
<text x="281.70" y="212.95" font-size="7" text-anchor="middle" textLength="67.50" lengthAdjust="spacingAndGlyphs" transform="rotate(-90 281.70 210.50)" >Fraction of total cells</text>
<text x="311.70" y="150.30" font-size="7">NK cells</text>
<text x="311.70" y="160.00" font-size="6.75">FDR-adj. <tspan font-style="italic">P</tspan> value = 2.29 × 10<tspan font-size="4.6" dy="-2.8">−6</tspan></text>
<path d="M42.00,385.96 L54.47,382.63 L66.94,381.52 L85.65,369.84 L104.35,361.50 L129.29,351.49 L129.29,386.52 L104.35,369.84 L85.65,377.07 L66.94,384.85 L54.47,386.52 L42.00,388.19Z" fill="#EC8226" fill-opacity="0.24"/>
<path d="M42.00,386.52 L54.47,382.63 L66.94,381.52 L85.65,372.62 L104.35,318.13 L129.29,317.02 L129.29,364.28 L104.35,358.72 L85.65,380.96 L66.94,386.52 L54.47,388.74 L42.00,388.74Z" fill="#3F8FCB" fill-opacity="0.24"/>
<path d="M42.00,387.08 L54.47,378.18 L66.94,379.29 L85.65,373.73 L104.35,374.84 L129.29,355.94 L129.29,372.62 L104.35,384.85 L85.65,380.40 L66.94,385.96 L54.47,385.41 L42.00,389.30Z" fill="#4E2470" fill-opacity="0.24"/>
<circle cx="42.00" cy="387.08" r="1.45" fill="#EC8226" fill-opacity="0.55"/>
<circle cx="54.47" cy="383.18" r="1.45" fill="#EC8226" fill-opacity="0.55"/>
<circle cx="54.47" cy="385.41" r="1.45" fill="#EC8226" fill-opacity="0.55"/>
<circle cx="66.94" cy="382.07" r="1.45" fill="#EC8226" fill-opacity="0.55"/>
<circle cx="85.65" cy="369.84" r="1.45" fill="#EC8226" fill-opacity="0.55"/>
<circle cx="85.65" cy="379.85" r="1.45" fill="#EC8226" fill-opacity="0.55"/>
<circle cx="104.35" cy="361.50" r="1.45" fill="#EC8226" fill-opacity="0.55"/>
<circle cx="104.35" cy="369.28" r="1.45" fill="#EC8226" fill-opacity="0.55"/>
<circle cx="129.29" cy="348.71" r="1.45" fill="#EC8226" fill-opacity="0.55"/>
<circle cx="129.29" cy="374.84" r="1.45" fill="#EC8226" fill-opacity="0.55"/>
<circle cx="129.29" cy="385.96" r="1.45" fill="#EC8226" fill-opacity="0.55"/>
<circle cx="42.00" cy="388.19" r="1.45" fill="#3F8FCB" fill-opacity="0.55"/>
<circle cx="54.47" cy="379.85" r="1.45" fill="#3F8FCB" fill-opacity="0.55"/>
<circle cx="54.47" cy="388.74" r="1.45" fill="#3F8FCB" fill-opacity="0.55"/>
<circle cx="66.94" cy="386.52" r="1.45" fill="#3F8FCB" fill-opacity="0.55"/>
<circle cx="85.65" cy="386.24" r="1.45" fill="#3F8FCB" fill-opacity="0.55"/>
<circle cx="104.35" cy="325.92" r="1.45" fill="#3F8FCB" fill-opacity="0.55"/>
<circle cx="104.35" cy="328.70" r="1.45" fill="#3F8FCB" fill-opacity="0.55"/>
<circle cx="104.35" cy="361.50" r="1.45" fill="#3F8FCB" fill-opacity="0.55"/>
<circle cx="129.29" cy="311.46" r="1.45" fill="#3F8FCB" fill-opacity="0.55"/>
<circle cx="129.29" cy="356.50" r="1.45" fill="#3F8FCB" fill-opacity="0.55"/>
<circle cx="129.29" cy="361.50" r="1.45" fill="#3F8FCB" fill-opacity="0.55"/>
<circle cx="42.00" cy="384.30" r="1.45" fill="#4E2470" fill-opacity="0.55"/>
<circle cx="42.00" cy="388.74" r="1.45" fill="#4E2470" fill-opacity="0.55"/>
<circle cx="54.47" cy="374.84" r="1.45" fill="#4E2470" fill-opacity="0.55"/>
<circle cx="66.94" cy="375.96" r="1.45" fill="#4E2470" fill-opacity="0.55"/>
<circle cx="85.65" cy="378.18" r="1.45" fill="#4E2470" fill-opacity="0.55"/>
<circle cx="104.35" cy="382.07" r="1.45" fill="#4E2470" fill-opacity="0.55"/>
<circle cx="104.35" cy="383.74" r="1.45" fill="#4E2470" fill-opacity="0.55"/>
<circle cx="129.29" cy="356.50" r="1.45" fill="#4E2470" fill-opacity="0.55"/>
<circle cx="129.29" cy="370.40" r="1.45" fill="#4E2470" fill-opacity="0.55"/>
<circle cx="129.29" cy="361.50" r="1.45" fill="#4E2470" fill-opacity="0.55"/>
<path d="M42.00,387.08 L54.47,384.30 L66.94,383.18 L85.65,373.73 L104.35,366.50 L129.29,369.84" fill="none" stroke="#EC8226" stroke-width="1.1" stroke-linejoin="round"/>
<path d="M42.00,387.63 L54.47,385.41 L66.94,384.85 L85.65,375.96 L104.35,338.15 L129.29,342.60" fill="none" stroke="#3F8FCB" stroke-width="1.1" stroke-linejoin="round"/>
<path d="M42.00,388.19 L54.47,380.96 L66.94,382.63 L85.65,377.07 L104.35,379.29 L129.29,363.17" fill="none" stroke="#4E2470" stroke-width="1.1" stroke-linejoin="round"/>
<line x1="37.40" y1="307.80" x2="37.40" y2="393.90" stroke="#333" stroke-width="0.7" />
<line x1="37.40" y1="393.90" x2="132.79" y2="393.90" stroke="#333" stroke-width="0.7" />
<line x1="35.20" y1="389.30" x2="37.40" y2="389.30" stroke="#333" stroke-width="0.6" />
<text x="30.60" y="391.61" font-size="6.6" text-anchor="end" >0</text>
<line x1="35.20" y1="361.50" x2="37.40" y2="361.50" stroke="#333" stroke-width="0.6" />
<text x="30.60" y="363.81" font-size="6.6" text-anchor="end" >0.05</text>
<line x1="35.20" y1="333.70" x2="37.40" y2="333.70" stroke="#333" stroke-width="0.6" />
<text x="30.60" y="336.01" font-size="6.6" text-anchor="end" >0.10</text>
<line x1="42.00" y1="393.90" x2="42.00" y2="396.10" stroke="#333" stroke-width="0.6" />
<text x="42.00" y="404.98" font-size="6.8" text-anchor="middle" >0</text>
<line x1="54.47" y1="393.90" x2="54.47" y2="396.10" stroke="#333" stroke-width="0.6" />
<text x="54.47" y="404.98" font-size="6.8" text-anchor="middle" >1</text>
<line x1="66.94" y1="393.90" x2="66.94" y2="396.10" stroke="#333" stroke-width="0.6" />
<text x="66.94" y="404.98" font-size="6.8" text-anchor="middle" >2</text>
<line x1="79.41" y1="393.90" x2="79.41" y2="396.10" stroke="#333" stroke-width="0.6" />
<text x="79.41" y="404.98" font-size="6.8" text-anchor="middle" >3</text>
<line x1="91.88" y1="393.90" x2="91.88" y2="396.10" stroke="#333" stroke-width="0.6" />
<text x="91.88" y="404.98" font-size="6.8" text-anchor="middle" >4</text>
<line x1="104.35" y1="393.90" x2="104.35" y2="396.10" stroke="#333" stroke-width="0.6" />
<text x="104.35" y="404.98" font-size="6.8" text-anchor="middle" >5</text>
<line x1="116.82" y1="393.90" x2="116.82" y2="396.10" stroke="#333" stroke-width="0.6" />
<text x="116.82" y="404.98" font-size="6.8" text-anchor="middle" >6</text>
<line x1="129.29" y1="393.90" x2="129.29" y2="396.10" stroke="#333" stroke-width="0.6" />
<text x="129.29" y="404.98" font-size="6.8" text-anchor="middle" >7</text>
<text x="85.65" y="414.78" font-size="8.5" text-anchor="middle" >dpi</text>
<text x="7.40" y="354.30" font-size="8.0" text-anchor="middle" textLength="73.60" lengthAdjust="spacingAndGlyphs" transform="rotate(-90 7.40 351.50)" >Fraction of total cells</text>
<text x="37.50" y="290.30" font-size="7">T cells (non-cycling)</text>
<text x="37.50" y="300.00" font-size="6.75">FDR-adj. <tspan font-style="italic">P</tspan> value = 1.98 × 10<tspan font-size="4.6" dy="-2.8">−2</tspan></text>
<path d="M179.00,382.36 L191.47,382.84 L203.94,382.36 L222.65,383.81 L241.35,383.81 L266.29,380.92 L266.29,385.74 L241.35,387.18 L222.65,386.70 L203.94,386.22 L191.47,386.70 L179.00,386.22Z" fill="#EC8226" fill-opacity="0.24"/>
<path d="M179.00,379.95 L191.47,379.95 L203.94,378.03 L222.65,378.99 L241.35,378.99 L266.29,378.99 L266.29,384.77 L241.35,384.77 L222.65,386.70 L203.94,387.66 L191.47,385.74 L179.00,385.74Z" fill="#3F8FCB" fill-opacity="0.24"/>
<path d="M179.00,377.06 L191.47,369.35 L203.94,382.84 L222.65,382.84 L241.35,371.28 L266.29,316.35 L266.29,386.70 L241.35,390.56 L222.65,386.70 L203.94,386.70 L191.47,388.63 L179.00,388.63Z" fill="#4E2470" fill-opacity="0.24"/>
<circle cx="179.00" cy="384.29" r="1.45" fill="#EC8226" fill-opacity="0.55"/>
<circle cx="179.00" cy="385.74" r="1.45" fill="#EC8226" fill-opacity="0.55"/>
<circle cx="191.47" cy="384.77" r="1.45" fill="#EC8226" fill-opacity="0.55"/>
<circle cx="191.47" cy="386.22" r="1.45" fill="#EC8226" fill-opacity="0.55"/>
<circle cx="203.94" cy="383.81" r="1.45" fill="#EC8226" fill-opacity="0.55"/>
<circle cx="222.65" cy="385.74" r="1.45" fill="#EC8226" fill-opacity="0.55"/>
<circle cx="241.35" cy="385.74" r="1.45" fill="#EC8226" fill-opacity="0.55"/>
<circle cx="266.29" cy="382.84" r="1.45" fill="#EC8226" fill-opacity="0.55"/>
<circle cx="179.00" cy="381.88" r="1.45" fill="#3F8FCB" fill-opacity="0.55"/>
<circle cx="191.47" cy="381.88" r="1.45" fill="#3F8FCB" fill-opacity="0.55"/>
<circle cx="203.94" cy="378.03" r="1.45" fill="#3F8FCB" fill-opacity="0.55"/>
<circle cx="222.65" cy="376.48" r="1.45" fill="#3F8FCB" fill-opacity="0.55"/>
<circle cx="241.35" cy="379.95" r="1.45" fill="#3F8FCB" fill-opacity="0.55"/>
<circle cx="266.29" cy="381.88" r="1.45" fill="#3F8FCB" fill-opacity="0.55"/>
<circle cx="179.00" cy="375.42" r="1.45" fill="#4E2470" fill-opacity="0.55"/>
<circle cx="179.00" cy="386.70" r="1.45" fill="#4E2470" fill-opacity="0.55"/>
<circle cx="191.47" cy="363.76" r="1.45" fill="#4E2470" fill-opacity="0.55"/>
<circle cx="203.94" cy="385.74" r="1.45" fill="#4E2470" fill-opacity="0.55"/>
<circle cx="222.65" cy="384.77" r="1.45" fill="#4E2470" fill-opacity="0.55"/>
<circle cx="241.35" cy="366.46" r="1.45" fill="#4E2470" fill-opacity="0.55"/>
<circle cx="266.29" cy="312.01" r="1.45" fill="#4E2470" fill-opacity="0.55"/>
<circle cx="266.29" cy="329.84" r="1.45" fill="#4E2470" fill-opacity="0.55"/>
<circle cx="266.29" cy="381.88" r="1.45" fill="#4E2470" fill-opacity="0.55"/>
<path d="M179.00,384.29 L191.47,384.77 L203.94,384.29 L222.65,385.45 L241.35,385.74 L266.29,383.23" fill="none" stroke="#EC8226" stroke-width="1.1" stroke-linejoin="round"/>
<path d="M179.00,382.84 L191.47,383.23 L203.94,382.17 L222.65,383.23 L241.35,381.88 L266.29,381.88" fill="none" stroke="#3F8FCB" stroke-width="1.1" stroke-linejoin="round"/>
<path d="M179.00,383.23 L191.47,378.99 L203.94,385.25 L222.65,384.77 L241.35,380.53 L266.29,351.52" fill="none" stroke="#4E2470" stroke-width="1.1" stroke-linejoin="round"/>
<line x1="174.50" y1="307.80" x2="174.50" y2="393.90" stroke="#333" stroke-width="0.7" />
<line x1="174.50" y1="393.90" x2="269.79" y2="393.90" stroke="#333" stroke-width="0.7" />
<line x1="172.30" y1="386.70" x2="174.50" y2="386.70" stroke="#333" stroke-width="0.6" />
<text x="167.70" y="389.01" font-size="6.6" text-anchor="end" >0</text>
<line x1="172.30" y1="367.43" x2="174.50" y2="367.43" stroke="#333" stroke-width="0.6" />
<text x="167.70" y="369.74" font-size="6.6" text-anchor="end" >0.02</text>
<line x1="172.30" y1="348.15" x2="174.50" y2="348.15" stroke="#333" stroke-width="0.6" />
<text x="167.70" y="350.46" font-size="6.6" text-anchor="end" >0.04</text>
<line x1="172.30" y1="328.88" x2="174.50" y2="328.88" stroke="#333" stroke-width="0.6" />
<text x="167.70" y="331.19" font-size="6.6" text-anchor="end" >0.06</text>
<line x1="172.30" y1="309.60" x2="174.50" y2="309.60" stroke="#333" stroke-width="0.6" />
<text x="167.70" y="311.91" font-size="6.6" text-anchor="end" >0.08</text>
<line x1="179.00" y1="393.90" x2="179.00" y2="396.10" stroke="#333" stroke-width="0.6" />
<text x="179.00" y="404.98" font-size="6.8" text-anchor="middle" >0</text>
<line x1="191.47" y1="393.90" x2="191.47" y2="396.10" stroke="#333" stroke-width="0.6" />
<text x="191.47" y="404.98" font-size="6.8" text-anchor="middle" >1</text>
<line x1="203.94" y1="393.90" x2="203.94" y2="396.10" stroke="#333" stroke-width="0.6" />
<text x="203.94" y="404.98" font-size="6.8" text-anchor="middle" >2</text>
<line x1="216.41" y1="393.90" x2="216.41" y2="396.10" stroke="#333" stroke-width="0.6" />
<text x="216.41" y="404.98" font-size="6.8" text-anchor="middle" >3</text>
<line x1="228.88" y1="393.90" x2="228.88" y2="396.10" stroke="#333" stroke-width="0.6" />
<text x="228.88" y="404.98" font-size="6.8" text-anchor="middle" >4</text>
<line x1="241.35" y1="393.90" x2="241.35" y2="396.10" stroke="#333" stroke-width="0.6" />
<text x="241.35" y="404.98" font-size="6.8" text-anchor="middle" >5</text>
<line x1="253.82" y1="393.90" x2="253.82" y2="396.10" stroke="#333" stroke-width="0.6" />
<text x="253.82" y="404.98" font-size="6.8" text-anchor="middle" >6</text>
<line x1="266.29" y1="393.90" x2="266.29" y2="396.10" stroke="#333" stroke-width="0.6" />
<text x="266.29" y="404.98" font-size="6.8" text-anchor="middle" >7</text>
<text x="222.65" y="414.78" font-size="8.5" text-anchor="middle" >dpi</text>
<text x="144.40" y="354.30" font-size="8.0" text-anchor="middle" textLength="73.60" lengthAdjust="spacingAndGlyphs" transform="rotate(-90 144.40 351.50)" >Fraction of total cells</text>
<text x="174.60" y="290.30" font-size="7">B cells</text>
<text x="174.60" y="300.00" font-size="6.75">FDR-adj. <tspan font-style="italic">P</tspan> value = 4.06 × 10<tspan font-size="4.6" dy="-2.8">−2</tspan></text>
<path d="M316.00,363.74 L328.47,378.93 L340.94,387.37 L359.64,317.04 L378.35,322.66 L403.29,325.48 L403.29,359.24 L378.35,336.73 L359.64,339.54 L340.94,389.06 L328.47,386.25 L316.00,387.37Z" fill="#EC8226" fill-opacity="0.24"/>
<path d="M316.00,382.87 L328.47,384.56 L340.94,386.81 L359.64,325.48 L378.35,325.48 L403.29,347.98 L403.29,373.31 L378.35,364.87 L359.64,359.24 L340.94,388.50 L328.47,388.50 L316.00,387.37Z" fill="#3F8FCB" fill-opacity="0.24"/>
<path d="M316.00,377.81 L328.47,365.99 L340.94,382.87 L359.64,364.87 L378.35,325.48 L403.29,336.73 L403.29,367.68 L378.35,374.43 L359.64,371.62 L340.94,386.25 L328.47,381.75 L316.00,388.50Z" fill="#4E2470" fill-opacity="0.24"/>
<circle cx="316.00" cy="360.93" r="1.45" fill="#EC8226" fill-opacity="0.55"/>
<circle cx="316.00" cy="380.06" r="1.45" fill="#EC8226" fill-opacity="0.55"/>
<circle cx="328.47" cy="382.87" r="1.45" fill="#EC8226" fill-opacity="0.55"/>
<circle cx="328.47" cy="384.56" r="1.45" fill="#EC8226" fill-opacity="0.55"/>
<circle cx="340.94" cy="388.50" r="1.45" fill="#EC8226" fill-opacity="0.55"/>
<circle cx="359.64" cy="311.41" r="1.45" fill="#EC8226" fill-opacity="0.55"/>
<circle cx="359.64" cy="349.67" r="1.45" fill="#EC8226" fill-opacity="0.55"/>
<circle cx="378.35" cy="318.16" r="1.45" fill="#EC8226" fill-opacity="0.55"/>
<circle cx="378.35" cy="335.60" r="1.45" fill="#EC8226" fill-opacity="0.55"/>
<circle cx="378.35" cy="336.73" r="1.45" fill="#EC8226" fill-opacity="0.55"/>
<circle cx="403.29" cy="323.23" r="1.45" fill="#EC8226" fill-opacity="0.55"/>
<circle cx="403.29" cy="360.93" r="1.45" fill="#EC8226" fill-opacity="0.55"/>
<circle cx="316.00" cy="386.25" r="1.45" fill="#3F8FCB" fill-opacity="0.55"/>
<circle cx="328.47" cy="390.19" r="1.45" fill="#3F8FCB" fill-opacity="0.55"/>
<circle cx="340.94" cy="387.37" r="1.45" fill="#3F8FCB" fill-opacity="0.55"/>
<circle cx="359.64" cy="323.79" r="1.45" fill="#3F8FCB" fill-opacity="0.55"/>
<circle cx="359.64" cy="328.85" r="1.45" fill="#3F8FCB" fill-opacity="0.55"/>
<circle cx="359.64" cy="358.11" r="1.45" fill="#3F8FCB" fill-opacity="0.55"/>
<circle cx="378.35" cy="323.79" r="1.45" fill="#3F8FCB" fill-opacity="0.55"/>
<circle cx="378.35" cy="366.55" r="1.45" fill="#3F8FCB" fill-opacity="0.55"/>
<circle cx="403.29" cy="345.73" r="1.45" fill="#3F8FCB" fill-opacity="0.55"/>
<circle cx="403.29" cy="364.30" r="1.45" fill="#3F8FCB" fill-opacity="0.55"/>
<circle cx="403.29" cy="371.05" r="1.45" fill="#3F8FCB" fill-opacity="0.55"/>
<circle cx="316.00" cy="378.09" r="1.45" fill="#4E2470" fill-opacity="0.55"/>
<circle cx="316.00" cy="388.50" r="1.45" fill="#4E2470" fill-opacity="0.55"/>
<circle cx="328.47" cy="363.18" r="1.45" fill="#4E2470" fill-opacity="0.55"/>
<circle cx="328.47" cy="372.18" r="1.45" fill="#4E2470" fill-opacity="0.55"/>
<circle cx="328.47" cy="377.81" r="1.45" fill="#4E2470" fill-opacity="0.55"/>
<circle cx="340.94" cy="382.31" r="1.45" fill="#4E2470" fill-opacity="0.55"/>
<circle cx="359.64" cy="367.12" r="1.45" fill="#4E2470" fill-opacity="0.55"/>
<circle cx="359.64" cy="368.24" r="1.45" fill="#4E2470" fill-opacity="0.55"/>
<circle cx="378.35" cy="328.85" r="1.45" fill="#4E2470" fill-opacity="0.55"/>
<circle cx="378.35" cy="386.81" r="1.45" fill="#4E2470" fill-opacity="0.55"/>
<circle cx="403.29" cy="339.54" r="1.45" fill="#4E2470" fill-opacity="0.55"/>
<circle cx="403.29" cy="350.80" r="1.45" fill="#4E2470" fill-opacity="0.55"/>
<circle cx="403.29" cy="351.92" r="1.45" fill="#4E2470" fill-opacity="0.55"/>
<path d="M316.00,374.99 L328.47,383.15 L340.94,388.27 L359.64,333.92 L378.35,329.98 L403.29,343.76" fill="none" stroke="#EC8226" stroke-width="1.1" stroke-linejoin="round"/>
<path d="M316.00,385.12 L328.47,386.81 L340.94,387.65 L359.64,339.54 L378.35,343.48 L403.29,360.36" fill="none" stroke="#3F8FCB" stroke-width="1.1" stroke-linejoin="round"/>
<path d="M316.00,383.83 L328.47,373.87 L340.94,385.12 L359.64,367.68 L378.35,349.11 L403.29,347.98" fill="none" stroke="#4E2470" stroke-width="1.1" stroke-linejoin="round"/>
<line x1="311.60" y1="307.80" x2="311.60" y2="393.90" stroke="#333" stroke-width="0.7" />
<line x1="311.60" y1="393.90" x2="406.79" y2="393.90" stroke="#333" stroke-width="0.7" />
<line x1="309.40" y1="393.00" x2="311.60" y2="393.00" stroke="#333" stroke-width="0.6" />
<text x="304.80" y="395.31" font-size="6.6" text-anchor="end" >0</text>
<line x1="309.40" y1="364.87" x2="311.60" y2="364.87" stroke="#333" stroke-width="0.6" />
<text x="304.80" y="367.18" font-size="6.6" text-anchor="end" >0.05</text>
<line x1="309.40" y1="336.73" x2="311.60" y2="336.73" stroke="#333" stroke-width="0.6" />
<text x="304.80" y="339.04" font-size="6.6" text-anchor="end" >0.10</text>
<line x1="309.40" y1="308.60" x2="311.60" y2="308.60" stroke="#333" stroke-width="0.6" />
<text x="304.80" y="310.91" font-size="6.6" text-anchor="end" >0.15</text>
<line x1="316.00" y1="393.90" x2="316.00" y2="396.10" stroke="#333" stroke-width="0.6" />
<text x="316.00" y="404.98" font-size="6.8" text-anchor="middle" >0</text>
<line x1="328.47" y1="393.90" x2="328.47" y2="396.10" stroke="#333" stroke-width="0.6" />
<text x="328.47" y="404.98" font-size="6.8" text-anchor="middle" >1</text>
<line x1="340.94" y1="393.90" x2="340.94" y2="396.10" stroke="#333" stroke-width="0.6" />
<text x="340.94" y="404.98" font-size="6.8" text-anchor="middle" >2</text>
<line x1="353.41" y1="393.90" x2="353.41" y2="396.10" stroke="#333" stroke-width="0.6" />
<text x="353.41" y="404.98" font-size="6.8" text-anchor="middle" >3</text>
<line x1="365.88" y1="393.90" x2="365.88" y2="396.10" stroke="#333" stroke-width="0.6" />
<text x="365.88" y="404.98" font-size="6.8" text-anchor="middle" >4</text>
<line x1="378.35" y1="393.90" x2="378.35" y2="396.10" stroke="#333" stroke-width="0.6" />
<text x="378.35" y="404.98" font-size="6.8" text-anchor="middle" >5</text>
<line x1="390.82" y1="393.90" x2="390.82" y2="396.10" stroke="#333" stroke-width="0.6" />
<text x="390.82" y="404.98" font-size="6.8" text-anchor="middle" >6</text>
<line x1="403.29" y1="393.90" x2="403.29" y2="396.10" stroke="#333" stroke-width="0.6" />
<text x="403.29" y="404.98" font-size="6.8" text-anchor="middle" >7</text>
<text x="359.64" y="414.78" font-size="8.5" text-anchor="middle" >dpi</text>
<text x="281.40" y="354.30" font-size="8.0" text-anchor="middle" textLength="73.60" lengthAdjust="spacingAndGlyphs" transform="rotate(-90 281.40 351.50)" >Fraction of total cells</text>
<text x="311.70" y="290.30" font-size="7">MuSCs and progenitors</text>
<text x="311.70" y="300.00" font-size="6.75">FDR-adj. <tspan font-style="italic">P</tspan> value = 1</text>
<text x="0.30" y="10.00" font-size="13.6" font-weight="bold" fill="#000" stroke="#000" stroke-width="0.75">a</text>
<text x="141.00" y="10.00" font-size="13.6" font-weight="bold" fill="#000" stroke="#000" stroke-width="0.75">b</text>
<text x="280.20" y="10.00" font-size="13.6" font-weight="bold" fill="#000" stroke="#000" stroke-width="0.75">c</text>
<text x="0.30" y="150.00" font-size="13.6" font-weight="bold" fill="#000" stroke="#000" stroke-width="0.75">d</text>
<text x="141.00" y="150.00" font-size="13.6" font-weight="bold" fill="#000" stroke="#000" stroke-width="0.75">e</text>
<text x="280.20" y="150.00" font-size="13.6" font-weight="bold" fill="#000" stroke="#000" stroke-width="0.75">f</text>
<text x="0.30" y="290.00" font-size="13.6" font-weight="bold" fill="#000" stroke="#000" stroke-width="0.75">g</text>
<text x="141.00" y="290.00" font-size="13.6" font-weight="bold" fill="#000" stroke="#000" stroke-width="0.75">h</text>
<rect x="277.9" y="283.2" width="2.95" height="6.8" fill="#000"/><circle cx="279.35" cy="281.2" r="1.55" fill="#000"/>
<path d="M469.8,3.5 H472.95 V10.4 Q472.95,12.6 470.3,12.6 H468.5 V10.2 H469.2 Q469.8,10.2 469.8,9.5 Z" fill="#000"/><circle cx="471.35" cy="1.45" r="1.6" fill="#000"/>
<text x="598.00" y="9.65" font-size="7" text-anchor="middle" textLength="159.30" lengthAdjust="spacingAndGlyphs" >Significance of age-specific dynamics differences</text>
<rect x="549.70" y="20.10" width="97.50" height="6.80" fill="#000" />
<line x1="542.20" y1="23.50" x2="544.60" y2="23.50" stroke="#333" stroke-width="0.6" />
<text x="539.6" y="26.10" font-size="6.45" text-anchor="end">Mono/macro (<tspan font-style="italic">Mrc1</tspan>+)</text>
<rect x="549.70" y="28.84" width="85.10" height="6.80" fill="#000" />
<line x1="542.20" y1="32.24" x2="544.60" y2="32.24" stroke="#333" stroke-width="0.6" />
<text x="539.6" y="34.84" font-size="6.45" text-anchor="end">NK cells</text>
<rect x="549.70" y="37.57" width="57.20" height="6.80" fill="#000" />
<line x1="542.20" y1="40.97" x2="544.60" y2="40.97" stroke="#333" stroke-width="0.6" />
<text x="539.6" y="43.57" font-size="6.45" text-anchor="end">DC (<tspan font-style="italic">Fscn1</tspan>+)</text>
<rect x="549.70" y="46.31" width="56.20" height="6.80" fill="#000" />
<line x1="542.20" y1="49.71" x2="544.60" y2="49.71" stroke="#333" stroke-width="0.6" />
<text x="539.6" y="52.31" font-size="6.45" text-anchor="end">Mono/macro (patrolling)</text>
<rect x="549.70" y="55.05" width="47.00" height="6.80" fill="#000" />
<line x1="542.20" y1="58.45" x2="544.60" y2="58.45" stroke="#333" stroke-width="0.6" />
<text x="539.6" y="61.05" font-size="6.45" text-anchor="end">Mono/macro (cycling)</text>
<rect x="549.70" y="63.79" width="34.30" height="6.80" fill="#000" />
<line x1="542.20" y1="67.19" x2="544.60" y2="67.19" stroke="#333" stroke-width="0.6" />
<text x="539.6" y="69.78" font-size="6.45" text-anchor="end">Mono/macro (<tspan font-style="italic">Cx3cr1</tspan>+)</text>
<rect x="549.70" y="72.52" width="25.90" height="6.80" fill="#000" />
<line x1="542.20" y1="75.92" x2="544.60" y2="75.92" stroke="#333" stroke-width="0.6" />
<text x="539.6" y="78.52" font-size="6.45" text-anchor="end">T cells (non-cycling)</text>
<rect x="549.70" y="81.26" width="21.10" height="6.80" fill="#000" />
<line x1="542.20" y1="84.66" x2="544.60" y2="84.66" stroke="#333" stroke-width="0.6" />
<text x="539.6" y="87.26" font-size="6.45" text-anchor="end">B cells</text>
<rect x="549.70" y="90.00" width="17.00" height="6.80" fill="#000" />
<line x1="542.20" y1="93.40" x2="544.60" y2="93.40" stroke="#333" stroke-width="0.6" />
<text x="539.6" y="96.00" font-size="6.45" text-anchor="end">Pericytes/SM</text>
<rect x="549.70" y="98.73" width="8.10" height="6.80" fill="#000" />
<line x1="542.20" y1="102.13" x2="544.60" y2="102.13" stroke="#333" stroke-width="0.6" />
<text x="539.6" y="104.73" font-size="6.45" text-anchor="end">Mono/macro (<tspan font-style="italic">Ccr2</tspan>+)</text>
<rect x="549.70" y="107.47" width="7.80" height="6.80" fill="#000" />
<line x1="542.20" y1="110.87" x2="544.60" y2="110.87" stroke="#333" stroke-width="0.6" />
<text x="539.6" y="113.47" font-size="6.45" text-anchor="end">Endo cells (artery)</text>
<rect x="549.70" y="116.21" width="1.60" height="6.80" fill="#000" />
<line x1="542.20" y1="119.61" x2="544.60" y2="119.61" stroke="#333" stroke-width="0.6" />
<text x="539.6" y="122.21" font-size="6.45" text-anchor="end">FAPs (stem)</text>
<rect x="549.70" y="124.94" width="0.70" height="6.80" fill="#000" />
<line x1="542.20" y1="128.34" x2="544.60" y2="128.34" stroke="#333" stroke-width="0.6" />
<text x="539.6" y="130.94" font-size="6.45" text-anchor="end">Tenocytes</text>
<rect x="549.70" y="133.68" width="0.70" height="6.80" fill="#000" />
<line x1="542.20" y1="137.08" x2="544.60" y2="137.08" stroke="#333" stroke-width="0.6" />
<text x="539.6" y="139.68" font-size="6.45" text-anchor="end">T cells (cycling)</text>
<rect x="549.70" y="142.42" width="0.70" height="6.80" fill="#000" />
<line x1="542.20" y1="145.82" x2="544.60" y2="145.82" stroke="#333" stroke-width="0.6" />
<text x="539.6" y="148.42" font-size="6.45" text-anchor="end">T cells (<tspan font-style="italic">Cd4</tspan>+)</text>
<rect x="549.70" y="151.16" width="0.70" height="6.80" fill="#000" />
<line x1="542.20" y1="154.56" x2="544.60" y2="154.56" stroke="#333" stroke-width="0.6" />
<text x="539.6" y="157.16" font-size="6.45" text-anchor="end">Neural</text>
<rect x="549.70" y="159.89" width="0.70" height="6.80" fill="#000" />
<line x1="542.20" y1="163.29" x2="544.60" y2="163.29" stroke="#333" stroke-width="0.6" />
<text x="539.6" y="165.89" font-size="6.45" text-anchor="end">Neutrophils</text>
<rect x="549.70" y="168.63" width="0.70" height="6.80" fill="#000" />
<line x1="542.20" y1="172.03" x2="544.60" y2="172.03" stroke="#333" stroke-width="0.6" />
<text x="539.6" y="174.63" font-size="6.45" text-anchor="end">Myonuclei</text>
<rect x="549.70" y="177.37" width="0.70" height="6.80" fill="#000" />
<line x1="542.20" y1="180.77" x2="544.60" y2="180.77" stroke="#333" stroke-width="0.6" />
<text x="539.6" y="183.37" font-size="6.45" text-anchor="end">MuSCs + Prog</text>
<rect x="549.70" y="186.10" width="0.70" height="6.80" fill="#000" />
<line x1="542.20" y1="189.50" x2="544.60" y2="189.50" stroke="#333" stroke-width="0.6" />
<text x="539.6" y="192.10" font-size="6.45" text-anchor="end">Mono/macro (<tspan font-style="italic">Cxcl10</tspan>+)</text>
<rect x="549.70" y="194.84" width="0.70" height="6.80" fill="#000" />
<line x1="542.20" y1="198.24" x2="544.60" y2="198.24" stroke="#333" stroke-width="0.6" />
<text x="539.6" y="200.84" font-size="6.45" text-anchor="end">FAPs (pro-remodeling)</text>
<rect x="549.70" y="203.58" width="0.70" height="6.80" fill="#000" />
<line x1="542.20" y1="206.98" x2="544.60" y2="206.98" stroke="#333" stroke-width="0.6" />
<text x="539.6" y="209.58" font-size="6.45" text-anchor="end">FAPs (adipogenic)</text>
<rect x="549.70" y="212.31" width="0.70" height="6.80" fill="#000" />
<line x1="542.20" y1="215.71" x2="544.60" y2="215.71" stroke="#333" stroke-width="0.6" />
<text x="539.6" y="218.31" font-size="6.45" text-anchor="end">Endo cells (vein)</text>
<rect x="549.70" y="221.05" width="0.70" height="6.80" fill="#000" />
<line x1="542.20" y1="224.45" x2="544.60" y2="224.45" stroke="#333" stroke-width="0.6" />
<text x="539.6" y="227.05" font-size="6.45" text-anchor="end">Endo cells (capillary)</text>
<rect x="549.70" y="229.79" width="0.70" height="6.80" fill="#000" />
<line x1="542.20" y1="233.19" x2="544.60" y2="233.19" stroke="#333" stroke-width="0.6" />
<text x="539.6" y="235.79" font-size="6.45" text-anchor="end">Endo/Myeloid</text>
<rect x="549.70" y="238.53" width="0.70" height="6.80" fill="#000" />
<line x1="542.20" y1="241.93" x2="544.60" y2="241.93" stroke="#333" stroke-width="0.6" />
<text x="539.6" y="244.53" font-size="6.45" text-anchor="end">DC (<tspan font-style="italic">Xcr1</tspan>+)</text>
<rect x="549.70" y="247.26" width="0.70" height="6.80" fill="#000" />
<line x1="542.20" y1="250.66" x2="544.60" y2="250.66" stroke="#333" stroke-width="0.6" />
<text x="539.6" y="253.26" font-size="6.45" text-anchor="end">DC (<tspan font-style="italic">Cd72</tspan>+)</text>
<rect x="549.70" y="256.00" width="0.70" height="6.80" fill="#000" />
<line x1="542.20" y1="259.40" x2="544.60" y2="259.40" stroke="#333" stroke-width="0.6" />
<text x="539.6" y="262.00" font-size="6.45" text-anchor="end">DC (<tspan font-style="italic">Cd209e</tspan>+)</text>
<line x1="544.60" y1="18.30" x2="544.60" y2="264.20" stroke="#333" stroke-width="0.7" />
<line x1="544.60" y1="264.20" x2="651.50" y2="264.20" stroke="#333" stroke-width="0.7" />
<line x1="569.40" y1="18.30" x2="569.40" y2="264.20" stroke="#E2403F" stroke-width="1.0" />
<line x1="549.70" y1="264.20" x2="549.70" y2="266.40" stroke="#333" stroke-width="0.6" />
<text x="549.70" y="276.31" font-size="6.6" text-anchor="middle" >0</text>
<line x1="579.70" y1="264.20" x2="579.70" y2="266.40" stroke="#333" stroke-width="0.6" />
<text x="579.70" y="276.31" font-size="6.6" text-anchor="middle" >2</text>
<line x1="609.70" y1="264.20" x2="609.70" y2="266.40" stroke="#333" stroke-width="0.6" />
<text x="609.70" y="276.31" font-size="6.6" text-anchor="middle" >4</text>
<line x1="639.70" y1="264.20" x2="639.70" y2="266.40" stroke="#333" stroke-width="0.6" />
<text x="639.70" y="276.31" font-size="6.6" text-anchor="middle" >6</text>
<text x="598.6" y="288.2" font-size="6.8" text-anchor="middle">−log<tspan font-size="4.4" dy="1.6">10</tspan><tspan dy="-1.6">(FDR-adj. </tspan><tspan font-style="italic">P</tspan> value)</text>
<text x="416.40" y="289.60" font-size="13.6" font-weight="bold" fill="#000" stroke="#000" stroke-width="0.75">k</text>
<rect x="455.10" y="299.90" width="21.80" height="6.65" fill="#8E1B24" />
<rect x="455.10" y="306.50" width="21.80" height="49.75" fill="#F5A11E" />
<rect x="455.10" y="356.20" width="21.80" height="1.65" fill="#4B7A78" />
<rect x="455.10" y="357.80" width="21.80" height="18.15" fill="#5DB34A" />
<rect x="455.10" y="375.90" width="21.80" height="5.25" fill="#0D5A63" />
<rect x="455.10" y="381.10" width="21.80" height="0.95" fill="#FFFFFF" />
<rect x="455.10" y="382.00" width="21.80" height="2.75" fill="#BEDCF2" />
<rect x="455.10" y="384.70" width="21.80" height="2.25" fill="#D28AC0" />
<rect x="455.10" y="386.90" width="21.80" height="17.85" fill="#C65F29" />
<rect x="455.10" y="404.70" width="21.80" height="5.45" fill="#7F6F2F" />
<rect x="455.10" y="410.10" width="21.80" height="3.95" fill="#5A73BF" />
<rect x="455.10" y="414.00" width="21.80" height="2.95" fill="#7A3F9B" />
<rect x="479.13" y="299.90" width="21.80" height="1.45" fill="#8E1B24" />
<rect x="479.13" y="301.30" width="21.80" height="17.95" fill="#F5A11E" />
<rect x="479.13" y="319.20" width="21.80" height="9.55" fill="#5DB34A" />
<rect x="479.13" y="328.70" width="21.80" height="2.15" fill="#2F1D52" />
<rect x="479.13" y="330.80" width="21.80" height="1.25" fill="#0D5A63" />
<rect x="479.13" y="332.00" width="21.80" height="71.25" fill="#BEDCF2" />
<rect x="479.13" y="403.20" width="21.80" height="2.75" fill="#D28AC0" />
<rect x="479.13" y="405.90" width="21.80" height="3.85" fill="#C65F29" />
<rect x="479.13" y="409.70" width="21.80" height="3.05" fill="#7F6F2F" />
<rect x="479.13" y="412.70" width="21.80" height="1.35" fill="#5A73BF" />
<rect x="479.13" y="414.00" width="21.80" height="2.95" fill="#7A3F9B" />
<rect x="503.16" y="299.90" width="21.80" height="1.15" fill="#8E1B24" />
<rect x="503.16" y="301.00" width="21.80" height="9.15" fill="#F5A11E" />
<rect x="503.16" y="310.10" width="21.80" height="5.65" fill="#5DB34A" />
<rect x="503.16" y="315.70" width="21.80" height="2.05" fill="#2F1D52" />
<rect x="503.16" y="317.70" width="21.80" height="1.15" fill="#0D5A63" />
<rect x="503.16" y="318.80" width="21.80" height="93.25" fill="#BEDCF2" />
<rect x="503.16" y="412.00" width="21.80" height="0.85" fill="#D28AC0" />
<rect x="503.16" y="412.80" width="21.80" height="1.75" fill="#C65F29" />
<rect x="503.16" y="414.50" width="21.80" height="1.05" fill="#7F6F2F" />
<rect x="503.16" y="415.50" width="21.80" height="0.55" fill="#5A73BF" />
<rect x="503.16" y="416.00" width="21.80" height="0.95" fill="#7A3F9B" />
<rect x="527.19" y="299.90" width="21.80" height="0.95" fill="#8E1B24" />
<rect x="527.19" y="300.80" width="21.80" height="4.05" fill="#F5A11E" />
<rect x="527.19" y="304.80" width="21.80" height="9.25" fill="#5DB34A" />
<rect x="527.19" y="314.00" width="21.80" height="1.55" fill="#2F1D52" />
<rect x="527.19" y="315.50" width="21.80" height="1.05" fill="#0D5A63" />
<rect x="527.19" y="316.50" width="21.80" height="87.75" fill="#BEDCF2" />
<rect x="527.19" y="404.20" width="21.80" height="9.45" fill="#D28AC0" />
<rect x="527.19" y="413.60" width="21.80" height="1.45" fill="#C65F29" />
<rect x="527.19" y="415.00" width="21.80" height="0.85" fill="#7F6F2F" />
<rect x="527.19" y="415.80" width="21.80" height="0.45" fill="#5A73BF" />
<rect x="527.19" y="416.20" width="21.80" height="0.75" fill="#7A3F9B" />
<rect x="551.22" y="299.90" width="21.80" height="0.75" fill="#8E1B24" />
<rect x="551.22" y="300.60" width="21.80" height="7.45" fill="#F5A11E" />
<rect x="551.22" y="308.00" width="21.80" height="15.25" fill="#5DB34A" />
<rect x="551.22" y="323.20" width="21.80" height="1.85" fill="#2F1D52" />
<rect x="551.22" y="325.00" width="21.80" height="1.05" fill="#0D5A63" />
<rect x="551.22" y="326.00" width="21.80" height="74.05" fill="#BEDCF2" />
<rect x="551.22" y="400.00" width="21.80" height="11.25" fill="#D28AC0" />
<rect x="551.22" y="411.20" width="21.80" height="2.65" fill="#C65F29" />
<rect x="551.22" y="413.80" width="21.80" height="1.55" fill="#7F6F2F" />
<rect x="551.22" y="415.30" width="21.80" height="0.65" fill="#5A73BF" />
<rect x="551.22" y="415.90" width="21.80" height="1.05" fill="#7A3F9B" />
<rect x="575.25" y="299.90" width="21.80" height="2.05" fill="#8E1B24" />
<rect x="575.25" y="301.90" width="21.80" height="18.15" fill="#F5A11E" />
<rect x="575.25" y="320.00" width="21.80" height="0.55" fill="#4B7A78" />
<rect x="575.25" y="320.50" width="21.80" height="25.25" fill="#5DB34A" />
<rect x="575.25" y="345.70" width="21.80" height="4.05" fill="#0D5A63" />
<rect x="575.25" y="349.70" width="21.80" height="37.85" fill="#BEDCF2" />
<rect x="575.25" y="387.50" width="21.80" height="9.05" fill="#D28AC0" />
<rect x="575.25" y="396.50" width="21.80" height="12.55" fill="#C65F29" />
<rect x="575.25" y="409.00" width="21.80" height="3.75" fill="#7F6F2F" />
<rect x="575.25" y="412.70" width="21.80" height="1.85" fill="#5A73BF" />
<rect x="575.25" y="414.50" width="21.80" height="2.45" fill="#7A3F9B" />
<line x1="451.70" y1="294.20" x2="451.70" y2="421.60" stroke="#333" stroke-width="0.7" />
<line x1="451.70" y1="421.60" x2="597.60" y2="421.60" stroke="#333" stroke-width="0.7" />
<line x1="449.50" y1="416.60" x2="451.70" y2="416.60" stroke="#333" stroke-width="0.6" />
<text x="444.30" y="418.91" font-size="6.6" text-anchor="end" >0</text>
<line x1="449.50" y1="387.43" x2="451.70" y2="387.43" stroke="#333" stroke-width="0.6" />
<text x="444.30" y="389.74" font-size="6.6" text-anchor="end" >25</text>
<line x1="449.50" y1="358.26" x2="451.70" y2="358.26" stroke="#333" stroke-width="0.6" />
<text x="444.30" y="360.57" font-size="6.6" text-anchor="end" >50</text>
<line x1="449.50" y1="329.09" x2="451.70" y2="329.09" stroke="#333" stroke-width="0.6" />
<text x="444.30" y="331.40" font-size="6.6" text-anchor="end" >75</text>
<line x1="449.50" y1="299.92" x2="451.70" y2="299.92" stroke="#333" stroke-width="0.6" />
<text x="444.30" y="302.23" font-size="6.6" text-anchor="end" >100</text>
<line x1="466.00" y1="421.60" x2="466.00" y2="423.80" stroke="#333" stroke-width="0.6" />
<text x="466.00" y="435.01" font-size="6.6" text-anchor="middle" >0</text>
<line x1="490.03" y1="421.60" x2="490.03" y2="423.80" stroke="#333" stroke-width="0.6" />
<text x="490.03" y="435.01" font-size="6.6" text-anchor="middle" >1</text>
<line x1="514.06" y1="421.60" x2="514.06" y2="423.80" stroke="#333" stroke-width="0.6" />
<text x="514.06" y="435.01" font-size="6.6" text-anchor="middle" >2</text>
<line x1="538.09" y1="421.60" x2="538.09" y2="423.80" stroke="#333" stroke-width="0.6" />
<text x="538.09" y="435.01" font-size="6.6" text-anchor="middle" >3.5</text>
<line x1="562.12" y1="421.60" x2="562.12" y2="423.80" stroke="#333" stroke-width="0.6" />
<text x="562.12" y="435.01" font-size="6.6" text-anchor="middle" >5</text>
<line x1="586.15" y1="421.60" x2="586.15" y2="423.80" stroke="#333" stroke-width="0.6" />
<text x="586.15" y="435.01" font-size="6.6" text-anchor="middle" >7</text>
<text x="526.40" y="446.56" font-size="7.6" text-anchor="middle" >dpi</text>
<text x="421.20" y="358.45" font-size="7" text-anchor="middle" textLength="52.40" lengthAdjust="spacingAndGlyphs" transform="rotate(-90 421.20 356.00)" >% of total cells</text>
<rect x="608.00" y="300.00" width="7.70" height="7.60" fill="#8E1B24" />
<text x="620.70" y="306.42" font-size="6.35" >Endo cells (artery)</text>
<rect x="608.00" y="310.40" width="7.70" height="7.60" fill="#F5A11E" />
<text x="620.70" y="316.82" font-size="6.35" >Endo cells (capillary)</text>
<rect x="608.00" y="320.80" width="7.70" height="7.60" fill="#4B7A78" />
<text x="620.70" y="327.22" font-size="6.35" >Endo cells (vein)</text>
<rect x="608.00" y="331.20" width="7.70" height="7.60" fill="#5DB34A" />
<text x="620.70" y="337.62" font-size="6.35" >FAPs (adipogenic)</text>
<rect x="608.00" y="341.60" width="7.70" height="7.60" fill="#2F1D52" />
<text x="620.70" y="348.02" font-size="6.35" >FAPs (pro-remodeling)</text>
<rect x="608.00" y="352.00" width="7.70" height="7.60" fill="#0D5A63" />
<text x="620.70" y="358.42" font-size="6.35" >FAPs (stem)</text>
<rect x="608.00" y="362.40" width="7.70" height="7.60" fill="#BEDCF2" />
<text x="620.70" y="368.82" font-size="6.35" >Immune cells (17 CTs)</text>
<rect x="608.00" y="372.80" width="7.70" height="7.60" fill="#D28AC0" />
<text x="620.70" y="379.22" font-size="6.35" >MuSCs + Prog</text>
<rect x="608.00" y="383.20" width="7.70" height="7.60" fill="#C65F29" />
<text x="620.70" y="389.62" font-size="6.35" >Myonuclei</text>
<rect x="608.00" y="393.60" width="7.70" height="7.60" fill="#7F6F2F" />
<text x="620.70" y="400.02" font-size="6.35" >Pericytes/SM</text>
<rect x="608.00" y="404.00" width="7.70" height="7.60" fill="#5A73BF" />
<text x="620.70" y="410.42" font-size="6.35" >Neural</text>
<rect x="608.00" y="414.40" width="7.70" height="7.60" fill="#7A3F9B" />
<text x="620.70" y="420.82" font-size="6.35" >Tenocytes</text>
<text x="0.80" y="432.60" font-size="13.6" font-weight="bold" fill="#000" stroke="#000" stroke-width="0.75">l</text>
<text x="93.30" y="432.54" font-size="6.4" text-anchor="middle" >Day 0</text>
<text x="197.40" y="432.54" font-size="6.4" text-anchor="middle" >Day 5</text>
<text x="93.25" y="443.37" font-size="6.2" text-anchor="middle">P = 0.60</text>
<path d="M62.80,448.90 L62.80,446.70 L123.70,446.70 L123.70,448.90" fill="none" stroke="#666" stroke-width="0.6" />
<text x="78.15" y="454.37" font-size="6.2" text-anchor="middle"><tspan font-style="italic">P</tspan> = 0.72</text>
<text x="108.60" y="454.37" font-size="6.2" text-anchor="middle"><tspan font-style="italic">P</tspan> = 0.70</text>
<path d="M62.80,459.40 L62.80,457.20 L93.00,457.20 L93.00,459.40" fill="none" stroke="#666" stroke-width="0.6" />
<path d="M94.00,459.40 L94.00,457.20 L123.70,457.20 L123.70,459.40" fill="none" stroke="#666" stroke-width="0.6" />
<text x="197.15" y="443.37" font-size="6.2" text-anchor="middle"><tspan font-style="italic">P</tspan> = 0.06</text>
<path d="M166.70,448.90 L166.70,446.70 L227.60,446.70 L227.60,448.90" fill="none" stroke="#666" stroke-width="0.6" />
<text x="182.05" y="454.37" font-size="6.2" text-anchor="middle"><tspan font-style="italic">P</tspan> = 0.13</text>
<text x="212.50" y="454.37" font-size="6.2" text-anchor="middle"><tspan font-style="italic">P</tspan> = 0.06</text>
<path d="M166.70,459.40 L166.70,457.20 L196.90,457.20 L196.90,459.40" fill="none" stroke="#666" stroke-width="0.6" />
<path d="M197.90,459.40 L197.90,457.20 L227.60,457.20 L227.60,459.40" fill="none" stroke="#666" stroke-width="0.6" />
<line x1="44.90" y1="462.00" x2="44.90" y2="565.00" stroke="#333" stroke-width="0.7" />
<line x1="44.90" y1="565.00" x2="141.20" y2="565.00" stroke="#333" stroke-width="0.7" />
<line x1="148.30" y1="565.00" x2="245.80" y2="565.00" stroke="#333" stroke-width="0.7" />
<line x1="42.70" y1="560.20" x2="44.90" y2="560.20" stroke="#333" stroke-width="0.6" />
<text x="38.00" y="562.51" font-size="6.6" text-anchor="end" >0</text>
<line x1="42.70" y1="523.50" x2="44.90" y2="523.50" stroke="#333" stroke-width="0.6" />
<text x="38.00" y="525.81" font-size="6.6" text-anchor="end" >0.05</text>
<line x1="42.70" y1="486.80" x2="44.90" y2="486.80" stroke="#333" stroke-width="0.6" />
<text x="38.00" y="489.11" font-size="6.6" text-anchor="end" >0.10</text>
<text x="48.20" y="470.77" font-size="6.2" >scRNA-seq</text>
<text x="14.30" y="516.05" font-size="7" text-anchor="middle" textLength="58.50" lengthAdjust="spacingAndGlyphs" transform="rotate(-90 14.30 513.60)" >All T cells/all cells</text>
<line x1="62.80" y1="565.00" x2="62.80" y2="567.20" stroke="#333" stroke-width="0.6" />
<text x="62.80" y="577.85" font-size="7" text-anchor="middle" >Yng</text>
<line x1="93.50" y1="565.00" x2="93.50" y2="567.20" stroke="#333" stroke-width="0.6" />
<text x="93.50" y="577.85" font-size="7" text-anchor="middle" >Old</text>
<line x1="123.70" y1="565.00" x2="123.70" y2="567.20" stroke="#333" stroke-width="0.6" />
<text x="123.70" y="577.85" font-size="7" text-anchor="middle" >Ger</text>
<line x1="166.70" y1="565.00" x2="166.70" y2="567.20" stroke="#333" stroke-width="0.6" />
<text x="166.70" y="577.85" font-size="7" text-anchor="middle" >Yng</text>
<line x1="197.40" y1="565.00" x2="197.40" y2="567.20" stroke="#333" stroke-width="0.6" />
<text x="197.40" y="577.85" font-size="7" text-anchor="middle" >Old</text>
<line x1="227.60" y1="565.00" x2="227.60" y2="567.20" stroke="#333" stroke-width="0.6" />
<text x="227.60" y="577.85" font-size="7" text-anchor="middle" >Ger</text>
<line x1="55.20" y1="557.40" x2="70.40" y2="557.40" stroke="#EC8226" stroke-width="1.9" />
<circle cx="62.80" cy="557.00" r="1.25" fill="#EC8226" fill-opacity="0.7"/>
<circle cx="63.80" cy="557.80" r="1.25" fill="#EC8226" fill-opacity="0.7"/>
<line x1="85.90" y1="557.40" x2="101.10" y2="557.40" stroke="#3F8FCB" stroke-width="1.9" />
<circle cx="93.50" cy="557.00" r="1.25" fill="#3F8FCB" fill-opacity="0.7"/>
<circle cx="94.50" cy="558.00" r="1.25" fill="#3F8FCB" fill-opacity="0.7"/>
<line x1="116.10" y1="558.00" x2="131.30" y2="558.00" stroke="#4E2470" stroke-width="1.9" />
<circle cx="120.70" cy="553.20" r="1.25" fill="#4E2470" fill-opacity="0.7"/>
<circle cx="124.20" cy="559.20" r="1.25" fill="#4E2470" fill-opacity="0.7"/>
<circle cx="125.20" cy="559.60" r="1.25" fill="#4E2470" fill-opacity="0.7"/>
<line x1="159.10" y1="525.10" x2="174.30" y2="525.10" stroke="#EC8226" stroke-width="1.9" />
<circle cx="167.40" cy="517.90" r="1.25" fill="#EC8226" fill-opacity="0.7"/>
<circle cx="168.00" cy="525.80" r="1.25" fill="#EC8226" fill-opacity="0.7"/>
<circle cx="165.20" cy="531.70" r="1.25" fill="#EC8226" fill-opacity="0.7"/>
<line x1="189.80" y1="484.00" x2="205.00" y2="484.00" stroke="#3F8FCB" stroke-width="1.9" />
<circle cx="194.70" cy="466.40" r="1.25" fill="#3F8FCB" fill-opacity="0.7"/>
<circle cx="197.40" cy="468.20" r="1.25" fill="#3F8FCB" fill-opacity="0.7"/>
<circle cx="199.60" cy="517.40" r="1.25" fill="#3F8FCB" fill-opacity="0.7"/>
<line x1="220.00" y1="541.10" x2="235.20" y2="541.10" stroke="#4E2470" stroke-width="1.9" />
<circle cx="225.40" cy="527.10" r="1.25" fill="#4E2470" fill-opacity="0.7"/>
<circle cx="229.80" cy="540.20" r="1.25" fill="#4E2470" fill-opacity="0.7"/>
<circle cx="226.50" cy="548.10" r="1.25" fill="#4E2470" fill-opacity="0.7"/>
<circle cx="227.10" cy="550.30" r="1.25" fill="#4E2470" fill-opacity="0.7"/>
<text x="0.00" y="596.90" font-size="13.6" font-weight="bold" fill="#000" stroke="#000" stroke-width="0.75">o</text>
<text x="93.25" y="596.27" font-size="6.2" text-anchor="middle">P = 0.05</text>
<path d="M62.80,601.80 L62.80,599.60 L123.70,599.60 L123.70,601.80" fill="none" stroke="#666" stroke-width="0.6" />
<text x="78.15" y="607.07" font-size="6.2" text-anchor="middle"><tspan font-style="italic">P</tspan> = 0.001*</text>
<text x="108.60" y="607.07" font-size="6.2" text-anchor="middle"><tspan font-style="italic">P</tspan> = 0.18</text>
<path d="M62.80,612.10 L62.80,609.90 L93.00,609.90 L93.00,612.10" fill="none" stroke="#666" stroke-width="0.6" />
<path d="M94.00,612.10 L94.00,609.90 L123.70,609.90 L123.70,612.10" fill="none" stroke="#666" stroke-width="0.6" />
<text x="197.15" y="596.37" font-size="6.2" text-anchor="middle"><tspan font-style="italic">P</tspan> = 0.18</text>
<path d="M166.70,601.90 L166.70,599.70 L227.60,599.70 L227.60,601.90" fill="none" stroke="#666" stroke-width="0.6" />
<text x="182.05" y="607.17" font-size="6.2" text-anchor="middle"><tspan font-style="italic">P</tspan> = 0.02*</text>
<text x="212.50" y="607.17" font-size="6.2" text-anchor="middle"><tspan font-style="italic">P</tspan> = 0.06</text>
<path d="M166.70,612.20 L166.70,610.00 L196.90,610.00 L196.90,612.20" fill="none" stroke="#666" stroke-width="0.6" />
<path d="M197.90,612.20 L197.90,610.00 L227.60,610.00 L227.60,612.20" fill="none" stroke="#666" stroke-width="0.6" />
<line x1="44.90" y1="615.00" x2="44.90" y2="718.00" stroke="#333" stroke-width="0.7" />
<line x1="44.90" y1="718.00" x2="141.20" y2="718.00" stroke="#333" stroke-width="0.7" />
<line x1="148.30" y1="718.00" x2="245.80" y2="718.00" stroke="#333" stroke-width="0.7" />
<line x1="42.70" y1="695.07" x2="44.90" y2="695.07" stroke="#333" stroke-width="0.6" />
<text x="38.00" y="697.38" font-size="6.6" text-anchor="end" >0.05</text>
<line x1="42.70" y1="671.85" x2="44.90" y2="671.85" stroke="#333" stroke-width="0.6" />
<text x="38.00" y="674.16" font-size="6.6" text-anchor="end" >0.10</text>
<line x1="42.70" y1="648.62" x2="44.90" y2="648.62" stroke="#333" stroke-width="0.6" />
<text x="38.00" y="650.93" font-size="6.6" text-anchor="end" >0.15</text>
<line x1="42.70" y1="625.40" x2="44.90" y2="625.40" stroke="#333" stroke-width="0.6" />
<text x="38.00" y="627.71" font-size="6.6" text-anchor="end" >0.20</text>
<text x="47.10" y="624.35" font-size="6.7" >Flow cytometry</text>
<text x="14.30" y="664.75" font-size="7" text-anchor="middle" textLength="75.40" lengthAdjust="spacingAndGlyphs" transform="rotate(-90 14.30 662.30)" >TCRβ+ T cells/CD45+ cells</text>
<line x1="62.80" y1="718.00" x2="62.80" y2="720.20" stroke="#333" stroke-width="0.6" />
<text x="62.80" y="729.45" font-size="7" text-anchor="middle" >Yng</text>
<line x1="93.50" y1="718.00" x2="93.50" y2="720.20" stroke="#333" stroke-width="0.6" />
<text x="93.50" y="729.45" font-size="7" text-anchor="middle" >Old</text>
<line x1="123.70" y1="718.00" x2="123.70" y2="720.20" stroke="#333" stroke-width="0.6" />
<text x="123.70" y="729.45" font-size="7" text-anchor="middle" >Ger</text>
<line x1="166.70" y1="718.00" x2="166.70" y2="720.20" stroke="#333" stroke-width="0.6" />
<text x="166.70" y="729.45" font-size="7" text-anchor="middle" >Yng</text>
<line x1="197.40" y1="718.00" x2="197.40" y2="720.20" stroke="#333" stroke-width="0.6" />
<text x="197.40" y="729.45" font-size="7" text-anchor="middle" >Old</text>
<line x1="227.60" y1="718.00" x2="227.60" y2="720.20" stroke="#333" stroke-width="0.6" />
<text x="227.60" y="729.45" font-size="7" text-anchor="middle" >Ger</text>
<line x1="55.20" y1="711.50" x2="70.40" y2="711.50" stroke="#EC8226" stroke-width="1.9" />
<circle cx="62.80" cy="710.50" r="1.25" fill="#EC8226" fill-opacity="0.7"/>
<circle cx="62.30" cy="712.50" r="1.25" fill="#EC8226" fill-opacity="0.7"/>
<line x1="85.90" y1="697.90" x2="101.10" y2="697.90" stroke="#3F8FCB" stroke-width="1.9" />
<circle cx="92.00" cy="691.30" r="1.25" fill="#3F8FCB" fill-opacity="0.7"/>
<circle cx="94.20" cy="691.30" r="1.25" fill="#3F8FCB" fill-opacity="0.7"/>
<circle cx="92.00" cy="695.00" r="1.25" fill="#3F8FCB" fill-opacity="0.7"/>
<circle cx="89.30" cy="702.30" r="1.25" fill="#3F8FCB" fill-opacity="0.7"/>
<circle cx="94.80" cy="702.30" r="1.25" fill="#3F8FCB" fill-opacity="0.7"/>
<circle cx="93.00" cy="706.60" r="1.25" fill="#3F8FCB" fill-opacity="0.7"/>
<line x1="116.10" y1="703.60" x2="131.30" y2="703.60" stroke="#4E2470" stroke-width="1.9" />
<circle cx="120.60" cy="688.90" r="1.25" fill="#4E2470" fill-opacity="0.7"/>
<circle cx="122.00" cy="696.80" r="1.25" fill="#4E2470" fill-opacity="0.7"/>
<circle cx="126.30" cy="701.00" r="1.25" fill="#4E2470" fill-opacity="0.7"/>
<circle cx="121.00" cy="707.50" r="1.25" fill="#4E2470" fill-opacity="0.7"/>
<circle cx="123.70" cy="711.00" r="1.25" fill="#4E2470" fill-opacity="0.7"/>
<line x1="159.10" y1="703.30" x2="174.30" y2="703.30" stroke="#EC8226" stroke-width="1.9" />
<circle cx="166.30" cy="701.00" r="1.25" fill="#EC8226" fill-opacity="0.7"/>
<circle cx="164.50" cy="705.50" r="1.25" fill="#EC8226" fill-opacity="0.7"/>
<line x1="189.80" y1="661.20" x2="205.00" y2="661.20" stroke="#3F8FCB" stroke-width="1.9" />
<circle cx="196.50" cy="619.60" r="1.25" fill="#3F8FCB" fill-opacity="0.7"/>
<circle cx="194.30" cy="635.60" r="1.25" fill="#3F8FCB" fill-opacity="0.7"/>
<circle cx="197.40" cy="657.50" r="1.25" fill="#3F8FCB" fill-opacity="0.7"/>
<circle cx="199.10" cy="671.10" r="1.25" fill="#3F8FCB" fill-opacity="0.7"/>
<circle cx="198.70" cy="677.90" r="1.25" fill="#3F8FCB" fill-opacity="0.7"/>
<circle cx="198.00" cy="705.50" r="1.25" fill="#3F8FCB" fill-opacity="0.7"/>
<line x1="220.00" y1="693.00" x2="235.20" y2="693.00" stroke="#4E2470" stroke-width="1.9" />
<circle cx="229.10" cy="676.60" r="1.25" fill="#4E2470" fill-opacity="0.7"/>
<circle cx="227.60" cy="687.10" r="1.25" fill="#4E2470" fill-opacity="0.7"/>
<circle cx="230.20" cy="687.50" r="1.25" fill="#4E2470" fill-opacity="0.7"/>
<circle cx="225.00" cy="700.20" r="1.25" fill="#4E2470" fill-opacity="0.7"/>
<circle cx="225.00" cy="713.10" r="1.25" fill="#4E2470" fill-opacity="0.7"/>
<defs><clipPath id="clipT"><rect x="0" y="0" width="88.50" height="88.40"/></clipPath><filter id="blur0" x="-5%" y="-5%" width="110%" height="110%"><feGaussianBlur stdDeviation="0.85"/></filter><filter id="blur1" x="-5%" y="-5%" width="110%" height="110%"><feGaussianBlur stdDeviation="0.7"/></filter><filter id="blur2" x="-5%" y="-5%" width="110%" height="110%"><feGaussianBlur stdDeviation="0.7"/></filter><radialGradient id="edgeShade" cx="0.5" cy="0.5" r="0.62"><stop offset="0.55" stop-color="#000" stop-opacity="0"/><stop offset="1" stop-color="#000" stop-opacity="1"/></radialGradient><filter id="blur5" x="-5%" y="-5%" width="110%" height="110%"><feGaussianBlur stdDeviation="0.4"/></filter></defs>
<text x="300.60" y="463.80" font-size="13.6" font-weight="bold" fill="#000" stroke="#000" stroke-width="0.75">m</text>
<text x="368.00" y="464.35" font-size="7" text-anchor="middle" >Young</text>
<text x="458.20" y="464.05" font-size="7" text-anchor="middle" >Old</text>
<text x="548.70" y="464.05" font-size="7" text-anchor="middle" >Geriatric</text>
<text x="315.40" y="514.65" font-size="7" text-anchor="middle" transform="rotate(-90 315.40 512.20)" >Day 0</text>
<text x="315.40" y="604.45" font-size="7" text-anchor="middle" transform="rotate(-90 315.40 602.00)" >Day 5</text>
<g transform="translate(323.80,467.90)" clip-path="url(#clipT)">
<rect x="0.00" y="0.00" width="88.50" height="88.40" fill="#160016" />
<g filter="url(#blur0)">
<path d="M13.42,29.58 L11.26,29.93 L2.36,34.48 L0.93,35.81 L0.40,37.69 L0.40,41.63 L0.76,43.20 L1.77,44.46 L3.23,45.15 L15.03,47.75 L16.60,47.74 L18.01,47.08 L19.64,45.82 L20.67,44.56 L21.04,42.98 L21.06,35.78 L20.78,34.38 L19.98,33.20 L17.64,30.90 L15.64,29.90Z" fill="#800080"/>
<path d="M13.42,29.58 L11.26,29.93 L2.36,34.48 L0.93,35.81 L0.40,37.69 L0.40,41.63 L0.76,43.20 L1.77,44.46 L3.23,45.15 L15.03,47.75 L16.60,47.74 L18.01,47.08 L19.64,45.82 L20.67,44.56 L21.04,42.98 L21.06,35.78 L20.78,34.38 L19.98,33.20 L17.64,30.90 L15.64,29.90Z" fill="url(#edgeShade)" fill-opacity="0.35"/>
<path d="M51.67,6.69 L52.39,8.33 L53.81,9.42 L58.50,11.42 L60.29,11.69 L61.99,11.05 L67.43,7.19 L68.89,4.87 L68.69,2.57 L67.36,0.99 L65.39,0.40 L54.88,0.40 L52.91,0.98 L51.58,2.55 L51.33,4.58Z" fill="#800080"/>
<path d="M51.67,6.69 L52.39,8.33 L53.81,9.42 L58.50,11.42 L60.29,11.69 L61.99,11.05 L67.43,7.19 L68.89,4.87 L68.69,2.57 L67.36,0.99 L65.39,0.40 L54.88,0.40 L52.91,0.98 L51.58,2.55 L51.33,4.58Z" fill="url(#edgeShade)" fill-opacity="0.35"/>
<path d="M20.80,80.12 L21.97,78.61 L22.19,76.71 L21.42,74.96 L19.86,73.86 L17.95,73.71 L13.93,74.49 L12.13,75.42 L11.12,77.19 L11.23,79.23 L11.86,80.99 L12.77,82.39 L14.21,83.23 L15.88,83.33 L17.41,82.67Z" fill="#860086"/>
<path d="M20.80,80.12 L21.97,78.61 L22.19,76.71 L21.42,74.96 L19.86,73.86 L17.95,73.71 L13.93,74.49 L12.13,75.42 L11.12,77.19 L11.23,79.23 L11.86,80.99 L12.77,82.39 L14.21,83.23 L15.88,83.33 L17.41,82.67Z" fill="url(#edgeShade)" fill-opacity="0.35"/>
<path d="M12.96,14.11 L14.11,12.77 L14.48,11.04 L13.99,9.35 L12.75,8.09 L11.07,7.57 L4.18,7.22 L2.31,7.64 L0.91,8.97 L0.40,10.82 L0.40,12.35 L1.14,14.54 L3.06,15.83 L6.82,16.84 L8.39,16.91 L9.84,16.31Z" fill="#880088"/>
<path d="M12.96,14.11 L14.11,12.77 L14.48,11.04 L13.99,9.35 L12.75,8.09 L11.07,7.57 L4.18,7.22 L2.31,7.64 L0.91,8.97 L0.40,10.82 L0.40,12.35 L1.14,14.54 L3.06,15.83 L6.82,16.84 L8.39,16.91 L9.84,16.31Z" fill="url(#edgeShade)" fill-opacity="0.35"/>
<path d="M88.10,45.43 L87.71,43.79 L86.61,42.51 L85.05,41.87 L83.37,42.01 L81.94,42.90 L77.11,47.80 L76.10,49.86 L76.55,52.11 L81.37,60.57 L82.69,61.90 L84.49,62.39 L86.29,61.91 L87.62,60.59 L88.10,58.79Z" fill="#8a008a"/>
<path d="M88.10,45.43 L87.71,43.79 L86.61,42.51 L85.05,41.87 L83.37,42.01 L81.94,42.90 L77.11,47.80 L76.10,49.86 L76.55,52.11 L81.37,60.57 L82.69,61.90 L84.49,62.39 L86.29,61.91 L87.62,60.59 L88.10,58.79Z" fill="url(#edgeShade)" fill-opacity="0.35"/>
<path d="M32.57,45.66 L31.42,46.89 L30.96,48.51 L31.28,50.16 L35.01,58.35 L36.31,59.86 L38.22,60.45 L40.15,59.93 L45.92,56.44 L47.31,54.89 L47.61,52.82 L46.72,50.94 L40.51,44.09 L39.12,43.14 L37.45,42.92 L35.86,43.50Z" fill="#7f007f"/>
<path d="M32.57,45.66 L31.42,46.89 L30.96,48.51 L31.28,50.16 L35.01,58.35 L36.31,59.86 L38.22,60.45 L40.15,59.93 L45.92,56.44 L47.31,54.89 L47.61,52.82 L46.72,50.94 L40.51,44.09 L39.12,43.14 L37.45,42.92 L35.86,43.50Z" fill="url(#edgeShade)" fill-opacity="0.35"/>
<path d="M54.16,25.92 L52.94,26.86 L52.22,28.23 L51.65,30.32 L51.59,32.00 L52.30,33.53 L55.48,37.50 L56.62,38.45 L58.05,38.85 L62.73,39.17 L64.56,38.81 L65.96,37.58 L68.60,33.66 L69.19,32.02 L68.95,30.30 L67.37,26.36 L66.58,25.16 L65.39,24.37 L62.60,23.24 L61.15,22.97 L59.71,23.31Z" fill="#8a008a"/>
<path d="M54.16,25.92 L52.94,26.86 L52.22,28.23 L51.65,30.32 L51.59,32.00 L52.30,33.53 L55.48,37.50 L56.62,38.45 L58.05,38.85 L62.73,39.17 L64.56,38.81 L65.96,37.58 L68.60,33.66 L69.19,32.02 L68.95,30.30 L67.37,26.36 L66.58,25.16 L65.39,24.37 L62.60,23.24 L61.15,22.97 L59.71,23.31Z" fill="url(#edgeShade)" fill-opacity="0.35"/>
<path d="M9.15,70.32 L9.78,72.27 L11.38,73.57 L13.43,73.77 L19.85,72.53 L21.42,71.80 L22.47,70.42 L23.10,68.96 L23.31,66.75 L22.18,64.83 L18.82,61.87 L17.01,61.02 L15.03,61.26 L11.24,62.88 L9.63,64.24 L9.06,66.27Z" fill="#8d008d"/>
<path d="M9.15,70.32 L9.78,72.27 L11.38,73.57 L13.43,73.77 L19.85,72.53 L21.42,71.80 L22.47,70.42 L23.10,68.96 L23.31,66.75 L22.18,64.83 L18.82,61.87 L17.01,61.02 L15.03,61.26 L11.24,62.88 L9.63,64.24 L9.06,66.27Z" fill="url(#edgeShade)" fill-opacity="0.35"/>
<path d="M50.72,51.20 L50.34,52.95 L50.85,54.66 L52.12,55.91 L55.43,57.84 L56.93,58.32 L58.49,58.12 L59.81,57.26 L67.08,49.87 L68.08,47.86 L67.70,45.66 L65.69,41.88 L64.47,40.54 L62.76,39.97 L58.90,39.71 L56.87,40.18 L55.44,41.70Z" fill="#810081"/>
<path d="M50.72,51.20 L50.34,52.95 L50.85,54.66 L52.12,55.91 L55.43,57.84 L56.93,58.32 L58.49,58.12 L59.81,57.26 L67.08,49.87 L68.08,47.86 L67.70,45.66 L65.69,41.88 L64.47,40.54 L62.76,39.97 L58.90,39.71 L56.87,40.18 L55.44,41.70Z" fill="url(#edgeShade)" fill-opacity="0.35"/>
<path d="M66.67,37.96 L66.07,39.78 L66.48,41.65 L69.00,46.41 L69.89,47.50 L72.49,48.58 L74.43,48.63 L76.11,47.67 L82.54,41.16 L83.48,39.42 L83.37,37.44 L82.23,35.83 L79.60,33.71 L77.54,32.92 L72.36,32.64 L70.56,33.01 L69.18,34.23Z" fill="#810081"/>
<path d="M66.67,37.96 L66.07,39.78 L66.48,41.65 L69.00,46.41 L69.89,47.50 L72.49,48.58 L74.43,48.63 L76.11,47.67 L82.54,41.16 L83.48,39.42 L83.37,37.44 L82.23,35.83 L79.60,33.71 L77.54,32.92 L72.36,32.64 L70.56,33.01 L69.18,34.23Z" fill="url(#edgeShade)" fill-opacity="0.35"/>
<path d="M88.10,26.61 L87.69,24.94 L86.55,23.65 L84.95,23.04 L83.24,23.23 L81.82,24.20 L81.01,25.72 L79.87,30.20 L79.94,32.22 L81.10,33.89 L82.24,34.81 L84.08,35.58 L86.05,35.25 L87.55,33.92 L88.10,32.00Z" fill="#830083"/>
<path d="M88.10,26.61 L87.69,24.94 L86.55,23.65 L84.95,23.04 L83.24,23.23 L81.82,24.20 L81.01,25.72 L79.87,30.20 L79.94,32.22 L81.10,33.89 L82.24,34.81 L84.08,35.58 L86.05,35.25 L87.55,33.92 L88.10,32.00Z" fill="url(#edgeShade)" fill-opacity="0.35"/>
<path d="M52.03,34.47 L50.35,33.30 L48.30,33.24 L42.34,34.81 L40.66,35.80 L39.74,37.52 L39.34,39.35 L39.38,41.05 L40.19,42.54 L45.65,48.56 L47.09,49.53 L48.81,49.71 L50.42,49.07 L51.54,47.75 L54.77,41.23 L55.13,39.25 L54.36,37.39Z" fill="#890089"/>
<path d="M52.03,34.47 L50.35,33.30 L48.30,33.24 L42.34,34.81 L40.66,35.80 L39.74,37.52 L39.34,39.35 L39.38,41.05 L40.19,42.54 L45.65,48.56 L47.09,49.53 L48.81,49.71 L50.42,49.07 L51.54,47.75 L54.77,41.23 L55.13,39.25 L54.36,37.39Z" fill="url(#edgeShade)" fill-opacity="0.35"/>
<path d="M29.90,49.06 L28.96,47.83 L27.60,47.09 L23.26,45.87 L21.60,45.80 L20.08,46.49 L18.65,47.60 L17.59,48.92 L17.25,50.58 L17.53,58.17 L17.87,59.57 L18.74,60.73 L23.36,64.81 L24.84,65.60 L26.52,65.63 L32.10,64.41 L33.94,63.37 L34.88,61.49 L34.61,59.40Z" fill="#7f007f"/>
<path d="M29.90,49.06 L28.96,47.83 L27.60,47.09 L23.26,45.87 L21.60,45.80 L20.08,46.49 L18.65,47.60 L17.59,48.92 L17.25,50.58 L17.53,58.17 L17.87,59.57 L18.74,60.73 L23.36,64.81 L24.84,65.60 L26.52,65.63 L32.10,64.41 L33.94,63.37 L34.88,61.49 L34.61,59.40Z" fill="url(#edgeShade)" fill-opacity="0.35"/>
<path d="M23.40,77.42 L24.49,79.35 L32.82,87.04 L35.26,88.00 L41.23,88.00 L42.97,87.55 L44.28,86.31 L44.82,84.60 L44.47,82.83 L36.82,67.02 L35.83,65.78 L34.40,65.08 L32.81,65.07 L26.71,66.41 L25.19,67.14 L24.17,68.49 L22.86,71.52 L22.64,73.67Z" fill="#840084"/>
<path d="M23.40,77.42 L24.49,79.35 L32.82,87.04 L35.26,88.00 L41.23,88.00 L42.97,87.55 L44.28,86.31 L44.82,84.60 L44.47,82.83 L36.82,67.02 L35.83,65.78 L34.40,65.08 L32.81,65.07 L26.71,66.41 L25.19,67.14 L24.17,68.49 L22.86,71.52 L22.64,73.67Z" fill="url(#edgeShade)" fill-opacity="0.35"/>
<path d="M81.66,17.07 L83.52,16.89 L85.76,16.06 L87.46,14.74 L88.10,12.68 L88.10,4.00 L87.62,2.20 L86.30,0.88 L84.50,0.40 L73.51,0.40 L71.89,0.79 L70.61,1.86 L69.96,3.39 L69.66,5.11 L70.17,7.65 L74.61,14.67 L75.66,15.74 L77.06,16.30Z" fill="#840084"/>
<path d="M81.66,17.07 L83.52,16.89 L85.76,16.06 L87.46,14.74 L88.10,12.68 L88.10,4.00 L87.62,2.20 L86.30,0.88 L84.50,0.40 L73.51,0.40 L71.89,0.79 L70.61,1.86 L69.96,3.39 L69.66,5.11 L70.17,7.65 L74.61,14.67 L75.66,15.74 L77.06,16.30Z" fill="url(#edgeShade)" fill-opacity="0.35"/>
<path d="M46.50,19.15 L44.96,17.95 L43.03,17.74 L41.26,18.56 L35.67,23.36 L34.78,24.51 L34.42,25.93 L34.35,27.46 L34.60,28.95 L35.44,30.20 L38.53,33.19 L40.13,34.09 L41.95,34.09 L48.39,32.38 L50.01,31.46 L50.94,29.86 L51.42,28.12 L51.49,26.50 L50.85,25.02Z" fill="#8d008d"/>
<path d="M46.50,19.15 L44.96,17.95 L43.03,17.74 L41.26,18.56 L35.67,23.36 L34.78,24.51 L34.42,25.93 L34.35,27.46 L34.60,28.95 L35.44,30.20 L38.53,33.19 L40.13,34.09 L41.95,34.09 L48.39,32.38 L50.01,31.46 L50.94,29.86 L51.42,28.12 L51.49,26.50 L50.85,25.02Z" fill="url(#edgeShade)" fill-opacity="0.35"/>
<path d="M3.15,76.53 L1.73,77.23 L0.75,78.48 L0.40,80.03 L0.40,84.40 L0.88,86.20 L2.20,87.52 L4.00,88.00 L8.40,88.00 L10.05,87.60 L11.34,86.48 L11.96,84.89 L11.79,83.19 L10.01,78.19 L9.05,76.74 L7.51,75.91 L5.77,75.90Z" fill="#820082"/>
<path d="M3.15,76.53 L1.73,77.23 L0.75,78.48 L0.40,80.03 L0.40,84.40 L0.88,86.20 L2.20,87.52 L4.00,88.00 L8.40,88.00 L10.05,87.60 L11.34,86.48 L11.96,84.89 L11.79,83.19 L10.01,78.19 L9.05,76.74 L7.51,75.91 L5.77,75.90Z" fill="url(#edgeShade)" fill-opacity="0.35"/>
<path d="M31.75,21.52 L33.26,22.33 L34.98,22.36 L36.51,21.58 L39.43,19.07 L40.47,17.57 L40.64,15.76 L39.90,14.09 L36.58,9.93 L34.82,8.73 L32.70,8.73 L30.95,9.93 L28.03,13.60 L27.30,15.24 L27.45,17.02 L28.43,18.51Z" fill="#870087"/>
<path d="M31.75,21.52 L33.26,22.33 L34.98,22.36 L36.51,21.58 L39.43,19.07 L40.47,17.57 L40.64,15.76 L39.90,14.09 L36.58,9.93 L34.82,8.73 L32.70,8.73 L30.95,9.93 L28.03,13.60 L27.30,15.24 L27.45,17.02 L28.43,18.51Z" fill="url(#edgeShade)" fill-opacity="0.35"/>
<path d="M50.70,23.47 L51.94,24.53 L53.53,24.93 L55.12,24.59 L58.46,23.02 L60.04,21.57 L60.52,19.48 L60.18,15.12 L59.52,13.30 L58.01,12.08 L54.30,10.50 L51.99,10.32 L50.05,11.59 L47.55,14.78 L46.78,16.95 L47.49,19.14Z" fill="#890089"/>
<path d="M50.70,23.47 L51.94,24.53 L53.53,24.93 L55.12,24.59 L58.46,23.02 L60.04,21.57 L60.52,19.48 L60.18,15.12 L59.52,13.30 L58.01,12.08 L54.30,10.50 L51.99,10.32 L50.05,11.59 L47.55,14.78 L46.78,16.95 L47.49,19.14Z" fill="url(#edgeShade)" fill-opacity="0.35"/>
<path d="M69.54,29.61 L70.78,31.19 L72.68,31.86 L75.59,32.01 L77.20,31.73 L78.52,30.76 L79.27,29.31 L81.20,21.76 L81.14,19.80 L80.08,18.16 L78.30,17.32 L77.22,17.13 L75.51,17.26 L74.05,18.16 L69.23,23.05 L68.27,24.87 L68.46,26.92Z" fill="#7f007f"/>
<path d="M69.54,29.61 L70.78,31.19 L72.68,31.86 L75.59,32.01 L77.20,31.73 L78.52,30.76 L79.27,29.31 L81.20,21.76 L81.14,19.80 L80.08,18.16 L78.30,17.32 L77.22,17.13 L75.51,17.26 L74.05,18.16 L69.23,23.05 L68.27,24.87 L68.46,26.92Z" fill="url(#edgeShade)" fill-opacity="0.35"/>
<path d="M8.99,30.20 L10.27,29.10 L10.91,27.55 L10.78,25.87 L8.82,19.90 L7.88,18.41 L6.34,17.54 L4.94,17.16 L3.30,17.11 L1.81,17.78 L0.77,19.05 L0.40,20.64 L0.40,28.70 L0.86,30.46 L2.12,31.77 L3.86,32.30 L5.64,31.91Z" fill="#8b008b"/>
<path d="M8.99,30.20 L10.27,29.10 L10.91,27.55 L10.78,25.87 L8.82,19.90 L7.88,18.41 L6.34,17.54 L4.94,17.16 L3.30,17.11 L1.81,17.78 L0.77,19.05 L0.40,20.64 L0.40,28.70 L0.86,30.46 L2.12,31.77 L3.86,32.30 L5.64,31.91Z" fill="url(#edgeShade)" fill-opacity="0.35"/>
<path d="M27.84,46.33 L29.37,46.42 L30.80,45.87 L36.93,41.84 L38.47,39.60 L39.01,37.14 L38.94,35.33 L37.99,33.78 L35.44,31.31 L33.64,30.37 L31.62,30.55 L24.14,33.48 L22.48,34.80 L21.86,36.82 L21.84,41.90 L22.57,44.08 L24.46,45.38Z" fill="#860086"/>
<path d="M27.84,46.33 L29.37,46.42 L30.80,45.87 L36.93,41.84 L38.47,39.60 L39.01,37.14 L38.94,35.33 L37.99,33.78 L35.44,31.31 L33.64,30.37 L31.62,30.55 L24.14,33.48 L22.48,34.80 L21.86,36.82 L21.84,41.90 L22.57,44.08 L24.46,45.38Z" fill="url(#edgeShade)" fill-opacity="0.35"/>
<path d="M83.15,63.17 L80.68,63.20 L64.45,69.37 L63.04,70.34 L62.24,71.85 L59.25,83.51 L59.37,85.66 L60.69,87.36 L62.74,88.00 L84.50,88.00 L86.30,87.52 L87.62,86.20 L88.10,84.40 L88.10,67.45 L87.44,65.37 L85.69,64.06Z" fill="#8b008b"/>
<path d="M83.15,63.17 L80.68,63.20 L64.45,69.37 L63.04,70.34 L62.24,71.85 L59.25,83.51 L59.37,85.66 L60.69,87.36 L62.74,88.00 L84.50,88.00 L86.30,87.52 L87.62,86.20 L88.10,84.40 L88.10,67.45 L87.44,65.37 L85.69,64.06Z" fill="url(#edgeShade)" fill-opacity="0.35"/>
<path d="M21.50,14.92 L23.20,15.61 L25.01,15.37 L26.47,14.28 L32.60,6.57 L33.39,4.06 L32.92,2.24 L31.60,0.89 L29.79,0.40 L21.08,0.40 L18.92,1.12 L17.62,3.00 L16.58,6.60 L16.50,8.28 L16.89,10.30 L18.27,12.50Z" fill="#850085"/>
<path d="M21.50,14.92 L23.20,15.61 L25.01,15.37 L26.47,14.28 L32.60,6.57 L33.39,4.06 L32.92,2.24 L31.60,0.89 L29.79,0.40 L21.08,0.40 L18.92,1.12 L17.62,3.00 L16.58,6.60 L16.50,8.28 L16.89,10.30 L18.27,12.50Z" fill="url(#edgeShade)" fill-opacity="0.35"/>
<path d="M20.26,81.52 L19.15,82.91 L18.84,84.66 L19.40,86.35 L20.70,87.56 L22.43,88.00 L23.47,88.00 L25.13,87.59 L26.42,86.47 L27.04,84.88 L26.86,83.18 L25.45,81.32 L24.01,80.51 L22.35,80.43Z" fill="#8c008c"/>
<path d="M20.26,81.52 L19.15,82.91 L18.84,84.66 L19.40,86.35 L20.70,87.56 L22.43,88.00 L23.47,88.00 L25.13,87.59 L26.42,86.47 L27.04,84.88 L26.86,83.18 L25.45,81.32 L24.01,80.51 L22.35,80.43Z" fill="url(#edgeShade)" fill-opacity="0.35"/>
<path d="M38.76,61.71 L37.53,62.96 L37.03,64.64 L37.39,66.36 L46.88,85.97 L48.20,87.45 L50.12,88.00 L54.48,88.00 L56.02,87.66 L57.26,86.69 L57.97,85.29 L61.63,70.99 L61.43,68.63 L58.07,61.10 L56.60,59.46 L51.27,56.34 L49.42,55.84 L47.58,56.36Z" fill="#8c008c"/>
<path d="M38.76,61.71 L37.53,62.96 L37.03,64.64 L37.39,66.36 L46.88,85.97 L48.20,87.45 L50.12,88.00 L54.48,88.00 L56.02,87.66 L57.26,86.69 L57.97,85.29 L61.63,70.99 L61.43,68.63 L58.07,61.10 L56.60,59.46 L51.27,56.34 L49.42,55.84 L47.58,56.36Z" fill="url(#edgeShade)" fill-opacity="0.35"/>
<path d="M2.56,0.40 L1.48,0.69 L0.69,1.48 L0.40,2.56 L0.40,4.18 L0.67,5.23 L1.42,6.01 L2.45,6.34 L13.92,6.91 L14.87,6.75 L15.65,6.19 L16.11,5.36 L16.74,3.16 L16.79,2.17 L16.40,1.26 L15.63,0.63 L14.67,0.40Z" fill="#820082"/>
<path d="M2.56,0.40 L1.48,0.69 L0.69,1.48 L0.40,2.56 L0.40,4.18 L0.67,5.23 L1.42,6.01 L2.45,6.34 L13.92,6.91 L14.87,6.75 L15.65,6.19 L16.11,5.36 L16.74,3.16 L16.79,2.17 L16.40,1.26 L15.63,0.63 L14.67,0.40Z" fill="url(#edgeShade)" fill-opacity="0.35"/>
<path d="M71.63,49.15 L69.69,49.11 L68.01,50.07 L60.11,58.10 L59.13,59.98 L59.39,62.09 L61.19,66.12 L62.31,67.53 L63.97,68.22 L65.76,68.02 L77.39,63.60 L79.02,62.36 L79.71,60.43 L79.24,58.45 L75.13,51.25 L73.06,49.59Z" fill="#7f007f"/>
<path d="M71.63,49.15 L69.69,49.11 L68.01,50.07 L60.11,58.10 L59.13,59.98 L59.39,62.09 L61.19,66.12 L62.31,67.53 L63.97,68.22 L65.76,68.02 L77.39,63.60 L79.02,62.36 L79.71,60.43 L79.24,58.45 L75.13,51.25 L73.06,49.59Z" fill="url(#edgeShade)" fill-opacity="0.35"/>
<path d="M27.47,18.72 L26.00,17.92 L24.31,17.87 L22.79,18.59 L21.77,19.93 L18.48,27.33 L18.23,29.46 L19.25,31.35 L19.90,31.99 L21.70,32.95 L23.73,32.78 L31.30,29.81 L32.92,28.56 L33.59,26.62 L33.34,24.50 L32.43,23.21Z" fill="#810081"/>
<path d="M27.47,18.72 L26.00,17.92 L24.31,17.87 L22.79,18.59 L21.77,19.93 L18.48,27.33 L18.23,29.46 L19.25,31.35 L19.90,31.99 L21.70,32.95 L23.73,32.78 L31.30,29.81 L32.92,28.56 L33.59,26.62 L33.34,24.50 L32.43,23.21Z" fill="url(#edgeShade)" fill-opacity="0.35"/>
<path d="M11.52,25.58 L12.43,27.03 L13.91,27.91 L15.62,27.99 L17.18,27.28 L18.23,25.92 L21.22,19.20 L21.52,17.63 L21.12,16.08 L20.08,14.86 L18.88,13.96 L16.77,13.24 L14.65,13.90 L11.18,16.34 L9.84,18.15 L9.83,20.40Z" fill="#850085"/>
<path d="M11.52,25.58 L12.43,27.03 L13.91,27.91 L15.62,27.99 L17.18,27.28 L18.23,25.92 L21.22,19.20 L21.52,17.63 L21.12,16.08 L20.08,14.86 L18.88,13.96 L16.77,13.24 L14.65,13.90 L11.18,16.34 L9.84,18.15 L9.83,20.40Z" fill="url(#edgeShade)" fill-opacity="0.35"/>
<path d="M5.90,63.01 L3.54,62.58 L1.94,63.20 L0.81,64.49 L0.40,66.15 L0.40,71.80 L1.03,73.84 L2.71,75.16 L4.85,75.30 L7.07,74.39 L8.05,73.11 L8.37,71.53 L8.26,66.31 L7.59,64.30Z" fill="#8c008c"/>
<path d="M5.90,63.01 L3.54,62.58 L1.94,63.20 L0.81,64.49 L0.40,66.15 L0.40,71.80 L1.03,73.84 L2.71,75.16 L4.85,75.30 L7.07,74.39 L8.05,73.11 L8.37,71.53 L8.26,66.31 L7.59,64.30Z" fill="url(#edgeShade)" fill-opacity="0.35"/>
<path d="M34.18,4.32 L34.97,6.63 L41.19,14.42 L42.95,15.62 L45.08,15.61 L46.83,14.40 L50.23,10.06 L50.89,8.74 L50.95,7.26 L50.32,3.42 L49.68,1.87 L48.40,0.79 L46.77,0.40 L37.79,0.40 L36.01,0.87 L34.69,2.16Z" fill="#800080"/>
<path d="M34.18,4.32 L34.97,6.63 L41.19,14.42 L42.95,15.62 L45.08,15.61 L46.83,14.40 L50.23,10.06 L50.89,8.74 L50.95,7.26 L50.32,3.42 L49.68,1.87 L48.40,0.79 L46.77,0.40 L37.79,0.40 L36.01,0.87 L34.69,2.16Z" fill="url(#edgeShade)" fill-opacity="0.35"/>
<path d="M61.34,19.71 L62.02,21.55 L63.57,22.76 L64.78,23.26 L66.86,23.45 L68.70,22.45 L72.72,18.38 L73.56,17.02 L73.73,15.43 L73.19,13.92 L70.92,10.34 L69.50,9.05 L67.61,8.67 L65.80,9.33 L62.48,11.68 L61.30,13.09 L60.97,14.90Z" fill="#8a008a"/>
<path d="M61.34,19.71 L62.02,21.55 L63.57,22.76 L64.78,23.26 L66.86,23.45 L68.70,22.45 L72.72,18.38 L73.56,17.02 L73.73,15.43 L73.19,13.92 L70.92,10.34 L69.50,9.05 L67.61,8.67 L65.80,9.33 L62.48,11.68 L61.30,13.09 L60.97,14.90Z" fill="url(#edgeShade)" fill-opacity="0.35"/>
<path d="M7.24,62.65 L9.90,62.58 L14.51,60.61 L16.14,59.23 L16.69,57.17 L16.49,51.65 L16.09,50.13 L15.09,48.93 L13.66,48.27 L4.77,46.31 L2.67,46.48 L1.02,47.81 L0.40,49.83 L0.40,57.63 L1.05,59.69 L2.76,61.01Z" fill="#810081"/>
<path d="M7.24,62.65 L9.90,62.58 L14.51,60.61 L16.14,59.23 L16.69,57.17 L16.49,51.65 L16.09,50.13 L15.09,48.93 L13.66,48.27 L4.77,46.31 L2.67,46.48 L1.02,47.81 L0.40,49.83 L0.40,57.63 L1.05,59.69 L2.76,61.01Z" fill="url(#edgeShade)" fill-opacity="0.35"/>
<circle cx="88.50" cy="88.40" r="1.22" fill="#2a1cf4" fill-opacity="1"/>
<circle cx="88.50" cy="38.41" r="1.22" fill="#2a1cf4" fill-opacity="1"/>
<circle cx="69.00" cy="6.56" r="1.04" fill="#2a1cf4" fill-opacity="1"/>
<circle cx="82.66" cy="17.65" r="1.12" fill="#2a1cf4" fill-opacity="1"/>
<circle cx="33.76" cy="5.75" r="1.10" fill="#2a1cf4" fill-opacity="1"/>
<circle cx="22.88" cy="16.45" r="1.28" fill="#2a1cf4" fill-opacity="1"/>
<circle cx="81.90" cy="62.31" r="1.02" fill="#2a1cf4" fill-opacity="1"/>
<circle cx="88.50" cy="64.62" r="1.22" fill="#2a1cf4" fill-opacity="1"/>
<circle cx="38.51" cy="41.28" r="1.18" fill="#2a1cf4" fill-opacity="1"/>
<circle cx="17.19" cy="59.90" r="1.22" fill="#2a1cf4" fill-opacity="1"/>
<circle cx="88.50" cy="0.00" r="1.07" fill="#2a1cf4" fill-opacity="1"/>
<circle cx="24.62" cy="66.45" r="1.04" fill="#2a1cf4" fill-opacity="1"/>
<circle cx="8.53" cy="17.72" r="1.17" fill="#2a1cf4" fill-opacity="1"/>
<circle cx="42.62" cy="16.86" r="1.22" fill="#2a1cf4" fill-opacity="1"/>
<circle cx="34.10" cy="24.18" r="1.00" fill="#2a1cf4" fill-opacity="1"/>
<circle cx="78.85" cy="32.59" r="1.17" fill="#2a1cf4" fill-opacity="1"/>
<circle cx="23.27" cy="78.76" r="1.03" fill="#2a1cf4" fill-opacity="1"/>
<circle cx="16.99" cy="29.70" r="1.33" fill="#2a1cf4" fill-opacity="1"/>
<circle cx="49.41" cy="54.79" r="1.07" fill="#2a1cf4" fill-opacity="1"/>
<circle cx="29.49" cy="47.21" r="1.39" fill="#2a1cf4" fill-opacity="1"/>
<circle cx="12.22" cy="29.00" r="1.04" fill="#2a1cf4" fill-opacity="1"/>
<circle cx="70.14" cy="0.00" r="1.35" fill="#2a1cf4" fill-opacity="1"/>
<circle cx="0.00" cy="88.40" r="1.36" fill="#2a1cf4" fill-opacity="1"/>
<circle cx="36.51" cy="62.61" r="1.03" fill="#2a1cf4" fill-opacity="1"/>
<circle cx="75.23" cy="16.39" r="1.37" fill="#2a1cf4" fill-opacity="1"/>
<circle cx="57.91" cy="59.76" r="1.37" fill="#2a1cf4" fill-opacity="1"/>
<circle cx="16.77" cy="48.54" r="1.28" fill="#2a1cf4" fill-opacity="1"/>
<circle cx="85.92" cy="38.29" r="1.36" fill="#2a1cf4" fill-opacity="1"/>
<circle cx="39.88" cy="35.05" r="1.15" fill="#2a1cf4" fill-opacity="1"/>
<circle cx="35.81" cy="64.00" r="1.30" fill="#2a1cf4" fill-opacity="1"/>
<circle cx="57.59" cy="88.40" r="1.26" fill="#2a1cf4" fill-opacity="1"/>
<circle cx="25.38" cy="16.29" r="1.33" fill="#2a1cf4" fill-opacity="1"/>
<circle cx="12.74" cy="88.40" r="1.32" fill="#2a1cf4" fill-opacity="1"/>
<circle cx="60.40" cy="12.67" r="1.26" fill="#2a1cf4" fill-opacity="1"/>
</g>
</g>
<g transform="translate(414.10,467.90)" clip-path="url(#clipT)">
<rect x="0.00" y="0.00" width="88.50" height="88.40" fill="#300030" />
<g filter="url(#blur1)">
<path d="M22.40,39.59 L19.76,37.58 L14.80,36.18 L12.12,36.26 L3.34,39.27 L1.14,40.91 L0.30,43.53 L0.30,60.06 L1.06,62.56 L3.09,64.22 L5.70,64.47 L25.60,60.42 L27.83,59.25 L29.08,57.05 L29.74,54.27 L29.22,50.91Z" fill="#9f039f"/>
<path d="M22.40,39.59 L19.76,37.58 L14.80,36.18 L12.12,36.26 L3.34,39.27 L1.14,40.91 L0.30,43.53 L0.30,60.06 L1.06,62.56 L3.09,64.22 L5.70,64.47 L25.60,60.42 L27.83,59.25 L29.08,57.05 L29.74,54.27 L29.22,50.91Z" fill="url(#edgeShade)" fill-opacity="0.25"/>
<path d="M51.05,20.40 L48.59,19.97 L46.28,20.91 L42.47,23.91 L40.92,26.23 L41.03,29.01 L45.28,40.52 L46.57,42.38 L48.60,43.37 L53.37,44.34 L55.60,44.23 L57.50,43.07 L58.60,41.14 L61.76,29.74 L61.85,27.68 L61.00,25.80 L59.41,24.50Z" fill="#940294"/>
<path d="M51.05,20.40 L48.59,19.97 L46.28,20.91 L42.47,23.91 L40.92,26.23 L41.03,29.01 L45.28,40.52 L46.57,42.38 L48.60,43.37 L53.37,44.34 L55.60,44.23 L57.50,43.07 L58.60,41.14 L61.76,29.74 L61.85,27.68 L61.00,25.80 L59.41,24.50Z" fill="url(#edgeShade)" fill-opacity="0.25"/>
<path d="M13.01,16.25 L14.80,16.60 L16.59,16.21 L22.47,13.59 L24.03,12.44 L24.96,10.73 L26.31,6.05 L26.41,3.98 L25.58,2.09 L23.99,0.77 L21.98,0.30 L4.80,0.30 L2.55,0.90 L0.90,2.55 L0.30,4.80 L0.30,7.90 L1.05,10.39 L3.05,12.05Z" fill="#c403c4"/>
<path d="M13.01,16.25 L14.80,16.60 L16.59,16.21 L22.47,13.59 L24.03,12.44 L24.96,10.73 L26.31,6.05 L26.41,3.98 L25.58,2.09 L23.99,0.77 L21.98,0.30 L4.80,0.30 L2.55,0.90 L0.90,2.55 L0.30,4.80 L0.30,7.90 L1.05,10.39 L3.05,12.05Z" fill="url(#edgeShade)" fill-opacity="0.25"/>
<path d="M24.47,35.36 L23.44,37.02 L23.22,38.97 L23.84,40.82 L28.26,48.17 L29.94,49.78 L32.20,50.35 L34.44,49.70 L42.37,44.92 L43.84,43.49 L44.52,41.55 L44.26,39.51 L40.28,28.73 L38.83,26.74 L36.55,25.81 L34.20,26.01 L32.50,27.11Z" fill="#c403c4"/>
<path d="M24.47,35.36 L23.44,37.02 L23.22,38.97 L23.84,40.82 L28.26,48.17 L29.94,49.78 L32.20,50.35 L34.44,49.70 L42.37,44.92 L43.84,43.49 L44.52,41.55 L44.26,39.51 L40.28,28.73 L38.83,26.74 L36.55,25.81 L34.20,26.01 L32.50,27.11Z" fill="url(#edgeShade)" fill-opacity="0.25"/>
<path d="M10.35,36.23 L12.45,34.72 L13.37,32.31 L14.25,20.76 L13.61,18.07 L11.51,16.27 L6.55,14.18 L4.38,13.84 L2.31,14.57 L0.83,16.20 L0.30,18.32 L0.30,33.38 L0.80,35.44 L2.19,37.04 L4.15,37.83 L6.26,37.63Z" fill="#bb03bb"/>
<path d="M10.35,36.23 L12.45,34.72 L13.37,32.31 L14.25,20.76 L13.61,18.07 L11.51,16.27 L6.55,14.18 L4.38,13.84 L2.31,14.57 L0.83,16.20 L0.30,18.32 L0.30,33.38 L0.80,35.44 L2.19,37.04 L4.15,37.83 L6.26,37.63Z" fill="url(#edgeShade)" fill-opacity="0.25"/>
<path d="M85.06,65.10 L87.33,63.47 L88.20,60.82 L88.20,51.41 L87.52,49.04 L85.69,47.38 L83.25,46.94 L64.24,48.83 L62.31,49.49 L60.86,50.94 L60.21,52.87 L59.44,60.70 L59.69,62.68 L60.77,64.35 L65.38,68.86 L67.49,70.02 L69.89,69.93Z" fill="#bd03bd"/>
<path d="M85.06,65.10 L87.33,63.47 L88.20,60.82 L88.20,51.41 L87.52,49.04 L85.69,47.38 L83.25,46.94 L64.24,48.83 L62.31,49.49 L60.86,50.94 L60.21,52.87 L59.44,60.70 L59.69,62.68 L60.77,64.35 L65.38,68.86 L67.49,70.02 L69.89,69.93Z" fill="url(#edgeShade)" fill-opacity="0.25"/>
<path d="M83.70,88.10 L85.95,87.50 L87.60,85.85 L88.20,83.60 L88.20,70.89 L87.71,68.85 L86.36,67.26 L84.43,66.45 L82.34,66.60 L70.61,70.33 L68.36,71.93 L67.47,74.53 L67.30,83.52 L67.88,85.80 L69.53,87.48 L71.80,88.10Z" fill="#c503c5"/>
<path d="M83.70,88.10 L85.95,87.50 L87.60,85.85 L88.20,83.60 L88.20,70.89 L87.71,68.85 L86.36,67.26 L84.43,66.45 L82.34,66.60 L70.61,70.33 L68.36,71.93 L67.47,74.53 L67.30,83.52 L67.88,85.80 L69.53,87.48 L71.80,88.10Z" fill="url(#edgeShade)" fill-opacity="0.25"/>
<path d="M52.96,0.30 L50.68,0.92 L49.03,2.61 L48.46,4.90 L48.70,15.88 L49.41,18.21 L51.22,19.82 L61.17,24.69 L63.12,25.15 L65.08,24.71 L66.18,24.19 L67.99,22.62 L68.74,20.35 L69.50,5.02 L68.97,2.68 L67.32,0.94 L65.00,0.30Z" fill="#9d039d"/>
<path d="M52.96,0.30 L50.68,0.92 L49.03,2.61 L48.46,4.90 L48.70,15.88 L49.41,18.21 L51.22,19.82 L61.17,24.69 L63.12,25.15 L65.08,24.71 L66.18,24.19 L67.99,22.62 L68.74,20.35 L69.50,5.02 L68.97,2.68 L67.32,0.94 L65.00,0.30Z" fill="url(#edgeShade)" fill-opacity="0.25"/>
<path d="M58.82,42.61 L58.76,44.77 L59.71,46.71 L61.46,47.98 L63.60,48.29 L84.15,46.24 L86.20,45.51 L87.67,43.89 L88.20,41.77 L88.20,33.59 L87.38,31.00 L85.21,29.35 L70.67,24.18 L68.93,23.92 L67.23,24.36 L65.22,25.31 L63.71,26.48 L62.82,28.17Z" fill="#c603c6"/>
<path d="M58.82,42.61 L58.76,44.77 L59.71,46.71 L61.46,47.98 L63.60,48.29 L84.15,46.24 L86.20,45.51 L87.67,43.89 L88.20,41.77 L88.20,33.59 L87.38,31.00 L85.21,29.35 L70.67,24.18 L68.93,23.92 L67.23,24.36 L65.22,25.31 L63.71,26.48 L62.82,28.17Z" fill="url(#edgeShade)" fill-opacity="0.25"/>
<path d="M0.30,83.60 L0.90,85.85 L2.55,87.50 L4.80,88.10 L32.74,88.10 L34.93,87.53 L36.56,85.97 L37.23,83.80 L37.68,73.82 L36.72,70.84 L30.26,62.62 L28.27,61.17 L25.83,60.99 L3.90,65.45 L2.05,66.29 L0.76,67.87 L0.30,69.86Z" fill="#980398"/>
<path d="M0.30,83.60 L0.90,85.85 L2.55,87.50 L4.80,88.10 L32.74,88.10 L34.93,87.53 L36.56,85.97 L37.23,83.80 L37.68,73.82 L36.72,70.84 L30.26,62.62 L28.27,61.17 L25.83,60.99 L3.90,65.45 L2.05,66.29 L0.76,67.87 L0.30,69.86Z" fill="url(#edgeShade)" fill-opacity="0.25"/>
<path d="M69.37,19.68 L70.13,22.40 L72.36,24.14 L82.19,27.64 L84.31,27.86 L86.29,27.08 L87.70,25.47 L88.20,23.40 L88.20,4.80 L87.60,2.55 L85.95,0.90 L83.70,0.30 L74.61,0.30 L72.43,0.87 L70.79,2.42 L70.12,4.58Z" fill="#910291"/>
<path d="M69.37,19.68 L70.13,22.40 L72.36,24.14 L82.19,27.64 L84.31,27.86 L86.29,27.08 L87.70,25.47 L88.20,23.40 L88.20,4.80 L87.60,2.55 L85.95,0.90 L83.70,0.30 L74.61,0.30 L72.43,0.87 L70.79,2.42 L70.12,4.58Z" fill="url(#edgeShade)" fill-opacity="0.25"/>
<path d="M25.58,10.73 L25.48,12.80 L26.32,14.69 L32.91,23.39 L34.28,24.59 L36.01,25.15 L37.62,25.32 L40.89,24.39 L46.40,20.06 L47.69,18.44 L48.12,16.42 L47.85,4.70 L47.22,2.49 L45.58,0.89 L43.35,0.30 L31.97,0.30 L29.27,1.20 L27.65,3.55Z" fill="#c904c9"/>
<path d="M25.58,10.73 L25.48,12.80 L26.32,14.69 L32.91,23.39 L34.28,24.59 L36.01,25.15 L37.62,25.32 L40.89,24.39 L46.40,20.06 L47.69,18.44 L48.12,16.42 L47.85,4.70 L47.22,2.49 L45.58,0.89 L43.35,0.30 L31.97,0.30 L29.27,1.20 L27.65,3.55Z" fill="url(#edgeShade)" fill-opacity="0.25"/>
<path d="M66.90,73.15 L66.56,71.36 L65.54,69.85 L61.02,65.43 L58.69,64.22 L56.08,64.52 L40.92,71.13 L39.01,72.71 L38.22,75.05 L37.85,83.40 L38.38,85.73 L40.04,87.46 L42.35,88.10 L62.20,88.10 L64.43,87.51 L66.07,85.90 L66.70,83.68Z" fill="#870287"/>
<path d="M66.90,73.15 L66.56,71.36 L65.54,69.85 L61.02,65.43 L58.69,64.22 L56.08,64.52 L40.92,71.13 L39.01,72.71 L38.22,75.05 L37.85,83.40 L38.38,85.73 L40.04,87.46 L42.35,88.10 L62.20,88.10 L64.43,87.51 L66.07,85.90 L66.70,83.68Z" fill="url(#edgeShade)" fill-opacity="0.25"/>
<path d="M56.21,63.81 L58.05,62.33 L58.89,60.12 L59.81,50.78 L58.90,47.60 L58.55,47.14 L55.88,45.47 L47.69,43.80 L44.47,44.35 L32.37,51.65 L31.05,52.85 L30.31,54.47 L29.49,57.92 L29.48,59.93 L30.33,61.74 L36.00,68.95 L37.52,70.19 L39.42,70.67 L41.34,70.29Z" fill="#b103b1"/>
<path d="M56.21,63.81 L58.05,62.33 L58.89,60.12 L59.81,50.78 L58.90,47.60 L58.55,47.14 L55.88,45.47 L47.69,43.80 L44.47,44.35 L32.37,51.65 L31.05,52.85 L30.31,54.47 L29.49,57.92 L29.48,59.93 L30.33,61.74 L36.00,68.95 L37.52,70.19 L39.42,70.67 L41.34,70.29Z" fill="url(#edgeShade)" fill-opacity="0.25"/>
<path d="M19.01,36.74 L21.39,36.76 L23.45,35.55 L30.83,27.97 L31.90,26.15 L32.03,24.05 L31.19,22.11 L26.69,16.18 L25.16,14.89 L23.23,14.39 L21.27,14.78 L17.55,16.44 L15.70,17.96 L14.89,20.21 L14.03,31.59 L14.34,33.61 L15.51,35.28 L17.30,36.26Z" fill="#c703c7"/>
<path d="M19.01,36.74 L21.39,36.76 L23.45,35.55 L30.83,27.97 L31.90,26.15 L32.03,24.05 L31.19,22.11 L26.69,16.18 L25.16,14.89 L23.23,14.39 L21.27,14.78 L17.55,16.44 L15.70,17.96 L14.89,20.21 L14.03,31.59 L14.34,33.61 L15.51,35.28 L17.30,36.26Z" fill="url(#edgeShade)" fill-opacity="0.25"/>
<circle cx="0.00" cy="88.40" r="1.44" fill="#2a1cf4" fill-opacity="1"/>
<circle cx="28.36" cy="0.00" r="1.44" fill="#2a1cf4" fill-opacity="1"/>
<circle cx="88.50" cy="0.00" r="1.04" fill="#2a1cf4" fill-opacity="1"/>
<circle cx="88.50" cy="64.33" r="1.06" fill="#2a1cf4" fill-opacity="1"/>
<circle cx="67.23" cy="71.09" r="1.41" fill="#2a1cf4" fill-opacity="1"/>
<circle cx="24.63" cy="12.96" r="1.13" fill="#2a1cf4" fill-opacity="1"/>
<circle cx="60.29" cy="48.92" r="1.26" fill="#2a1cf4" fill-opacity="1"/>
<circle cx="-0.00" cy="-0.00" r="1.25" fill="#2a1cf4" fill-opacity="1"/>
<circle cx="-0.00" cy="65.93" r="1.10" fill="#2a1cf4" fill-opacity="1"/>
<circle cx="37.33" cy="88.40" r="1.22" fill="#2a1cf4" fill-opacity="1"/>
<circle cx="0.00" cy="40.10" r="1.33" fill="#2a1cf4" fill-opacity="1"/>
<circle cx="21.67" cy="37.80" r="1.27" fill="#2a1cf4" fill-opacity="1"/>
<circle cx="13.44" cy="35.49" r="1.12" fill="#2a1cf4" fill-opacity="1"/>
<circle cx="70.05" cy="0.00" r="1.42" fill="#2a1cf4" fill-opacity="1"/>
<circle cx="66.91" cy="88.40" r="1.08" fill="#2a1cf4" fill-opacity="1"/>
<circle cx="48.05" cy="-0.00" r="1.15" fill="#2a1cf4" fill-opacity="1"/>
<circle cx="57.70" cy="45.53" r="1.07" fill="#2a1cf4" fill-opacity="1"/>
<circle cx="68.90" cy="23.23" r="1.35" fill="#2a1cf4" fill-opacity="1"/>
<circle cx="28.67" cy="60.11" r="1.27" fill="#2a1cf4" fill-opacity="1"/>
<circle cx="48.47" cy="18.81" r="1.09" fill="#2a1cf4" fill-opacity="1"/>
<circle cx="58.92" cy="62.96" r="1.14" fill="#2a1cf4" fill-opacity="1"/>
<circle cx="88.50" cy="88.40" r="1.28" fill="#2a1cf4" fill-opacity="1"/>
<circle cx="33.92" cy="25.22" r="1.41" fill="#2a1cf4" fill-opacity="1"/>
<circle cx="39.54" cy="25.83" r="1.07" fill="#2a1cf4" fill-opacity="1"/>
<circle cx="38.06" cy="72.05" r="1.16" fill="#2a1cf4" fill-opacity="1"/>
<circle cx="88.50" cy="46.11" r="1.08" fill="#2a1cf4" fill-opacity="1"/>
<circle cx="30.48" cy="52.44" r="1.07" fill="#2a1cf4" fill-opacity="1"/>
<circle cx="14.81" cy="17.34" r="1.02" fill="#2a1cf4" fill-opacity="1"/>
<circle cx="0.00" cy="11.09" r="1.43" fill="#2a1cf4" fill-opacity="1"/>
<circle cx="45.92" cy="43.13" r="1.12" fill="#2a1cf4" fill-opacity="1"/>
</g>
</g>
<g transform="translate(504.60,467.90)" clip-path="url(#clipT)">
<rect x="0.00" y="0.00" width="88.50" height="88.40" fill="#500050" />
<g filter="url(#blur2)">
<path d="M59.67,69.62 L61.31,70.56 L63.19,70.32 L69.26,67.41 L70.43,66.42 L70.96,64.97 L72.05,52.63 L71.73,50.99 L70.58,49.77 L65.38,46.73 L64.08,46.32 L62.74,46.54 L61.62,47.32 L52.44,57.61 L51.76,58.89 L51.77,60.34 L52.45,61.61Z" fill="#900490"/>
<path d="M59.67,69.62 L61.31,70.56 L63.19,70.32 L69.26,67.41 L70.43,66.42 L70.96,64.97 L72.05,52.63 L71.73,50.99 L70.58,49.77 L65.38,46.73 L64.08,46.32 L62.74,46.54 L61.62,47.32 L52.44,57.61 L51.76,58.89 L51.77,60.34 L52.45,61.61Z" fill="url(#edgeShade)" fill-opacity="0.3"/>
<path d="M19.79,79.03 L20.15,77.38 L19.40,66.44 L18.64,64.63 L14.32,59.84 L13.34,59.12 L12.16,58.85 L3.31,58.67 L1.79,59.05 L0.66,60.15 L0.25,61.67 L0.25,85.15 L0.65,86.65 L1.75,87.75 L3.25,88.15 L13.01,88.15 L14.53,87.73 L15.64,86.59Z" fill="#850485"/>
<path d="M19.79,79.03 L20.15,77.38 L19.40,66.44 L18.64,64.63 L14.32,59.84 L13.34,59.12 L12.16,58.85 L3.31,58.67 L1.79,59.05 L0.66,60.15 L0.25,61.67 L0.25,85.15 L0.65,86.65 L1.75,87.75 L3.25,88.15 L13.01,88.15 L14.53,87.73 L15.64,86.59Z" fill="url(#edgeShade)" fill-opacity="0.3"/>
<path d="M38.64,32.76 L37.18,31.94 L35.50,32.03 L23.54,36.24 L22.35,37.01 L21.65,38.24 L21.59,39.65 L22.66,45.10 L23.46,46.62 L24.97,47.45 L35.77,49.80 L37.20,49.76 L38.46,49.05 L39.24,47.84 L42.32,38.90 L42.41,37.26 L41.63,35.82Z" fill="#880488"/>
<path d="M38.64,32.76 L37.18,31.94 L35.50,32.03 L23.54,36.24 L22.35,37.01 L21.65,38.24 L21.59,39.65 L22.66,45.10 L23.46,46.62 L24.97,47.45 L35.77,49.80 L37.20,49.76 L38.46,49.05 L39.24,47.84 L42.32,38.90 L42.41,37.26 L41.63,35.82Z" fill="url(#edgeShade)" fill-opacity="0.3"/>
<path d="M75.00,10.58 L75.55,12.37 L77.07,13.49 L84.32,15.85 L85.72,15.96 L87.01,15.42 L87.92,14.36 L88.25,13.00 L88.25,3.25 L87.85,1.75 L86.75,0.65 L85.25,0.25 L78.14,0.25 L76.66,0.64 L75.56,1.72 L75.14,3.19Z" fill="#7b037b"/>
<path d="M75.00,10.58 L75.55,12.37 L77.07,13.49 L84.32,15.85 L85.72,15.96 L87.01,15.42 L87.92,14.36 L88.25,13.00 L88.25,3.25 L87.85,1.75 L86.75,0.65 L85.25,0.25 L78.14,0.25 L76.66,0.64 L75.56,1.72 L75.14,3.19Z" fill="url(#edgeShade)" fill-opacity="0.3"/>
<path d="M17.47,9.63 L17.83,7.53 L16.88,2.67 L16.31,1.43 L15.26,0.56 L13.93,0.25 L3.25,0.25 L1.75,0.65 L0.65,1.75 L0.25,3.25 L0.25,12.73 L0.66,14.24 L1.76,15.34 L3.27,15.73 L12.24,15.66 L13.72,15.26 L14.80,14.18Z" fill="#890489"/>
<path d="M17.47,9.63 L17.83,7.53 L16.88,2.67 L16.31,1.43 L15.26,0.56 L13.93,0.25 L3.25,0.25 L1.75,0.65 L0.65,1.75 L0.25,3.25 L0.25,12.73 L0.66,14.24 L1.76,15.34 L3.27,15.73 L12.24,15.66 L13.72,15.26 L14.80,14.18Z" fill="url(#edgeShade)" fill-opacity="0.3"/>
<path d="M71.51,64.40 L71.96,66.26 L73.44,67.47 L84.19,71.53 L85.62,71.70 L86.96,71.19 L87.91,70.11 L88.25,68.72 L88.25,50.73 L87.72,49.03 L86.30,47.93 L84.52,47.82 L74.78,50.28 L73.23,51.24 L72.53,52.92Z" fill="#890489"/>
<path d="M71.51,64.40 L71.96,66.26 L73.44,67.47 L84.19,71.53 L85.62,71.70 L86.96,71.19 L87.91,70.11 L88.25,68.72 L88.25,50.73 L87.72,49.03 L86.30,47.93 L84.52,47.82 L74.78,50.28 L73.23,51.24 L72.53,52.92Z" fill="url(#edgeShade)" fill-opacity="0.3"/>
<path d="M29.97,13.33 L29.17,12.00 L27.80,11.25 L20.60,9.51 L18.72,9.66 L17.31,10.90 L15.33,14.28 L14.91,15.88 L15.41,17.45 L18.07,21.46 L19.03,22.38 L20.31,22.79 L21.63,22.61 L28.98,19.82 L30.19,18.98 L30.85,17.66 L30.80,16.18Z" fill="#8b048b"/>
<path d="M29.97,13.33 L29.17,12.00 L27.80,11.25 L20.60,9.51 L18.72,9.66 L17.31,10.90 L15.33,14.28 L14.91,15.88 L15.41,17.45 L18.07,21.46 L19.03,22.38 L20.31,22.79 L21.63,22.61 L28.98,19.82 L30.19,18.98 L30.85,17.66 L30.80,16.18Z" fill="url(#edgeShade)" fill-opacity="0.3"/>
<path d="M37.53,29.91 L38.37,31.77 L42.18,35.67 L43.42,36.43 L44.87,36.53 L51.75,35.26 L53.03,34.69 L53.92,33.59 L54.20,32.21 L53.85,21.53 L53.28,19.88 L51.90,18.82 L47.21,17.06 L45.87,16.89 L44.59,17.32 L38.46,21.07 L37.36,22.27 L37.04,23.87Z" fill="#870487"/>
<path d="M37.53,29.91 L38.37,31.77 L42.18,35.67 L43.42,36.43 L44.87,36.53 L51.75,35.26 L53.03,34.69 L53.92,33.59 L54.20,32.21 L53.85,21.53 L53.28,19.88 L51.90,18.82 L47.21,17.06 L45.87,16.89 L44.59,17.32 L38.46,21.07 L37.36,22.27 L37.04,23.87Z" fill="url(#edgeShade)" fill-opacity="0.3"/>
<path d="M24.73,47.91 L23.10,48.01 L21.76,48.95 L15.52,56.63 L14.91,57.89 L14.95,59.30 L15.62,60.53 L18.71,63.96 L19.81,64.73 L21.13,64.95 L37.20,63.93 L38.41,63.59 L39.38,62.77 L41.27,60.34 L41.89,58.78 L41.57,57.13 L39.01,52.14 L38.17,51.13 L36.98,50.57Z" fill="#820382"/>
<path d="M24.73,47.91 L23.10,48.01 L21.76,48.95 L15.52,56.63 L14.91,57.89 L14.95,59.30 L15.62,60.53 L18.71,63.96 L19.81,64.73 L21.13,64.95 L37.20,63.93 L38.41,63.59 L39.38,62.77 L41.27,60.34 L41.89,58.78 L41.57,57.13 L39.01,52.14 L38.17,51.13 L36.98,50.57Z" fill="url(#edgeShade)" fill-opacity="0.3"/>
<path d="M18.78,25.03 L18.34,22.78 L14.85,17.50 L13.76,16.51 L12.32,16.16 L3.23,16.23 L1.74,16.64 L0.65,17.74 L0.25,19.23 L0.25,31.30 L0.69,32.86 L1.87,33.97 L3.46,34.30 L14.82,33.50 L16.59,32.77 L17.55,31.10Z" fill="#890489"/>
<path d="M18.78,25.03 L18.34,22.78 L14.85,17.50 L13.76,16.51 L12.32,16.16 L3.23,16.23 L1.74,16.64 L0.65,17.74 L0.25,19.23 L0.25,31.30 L0.69,32.86 L1.87,33.97 L3.46,34.30 L14.82,33.50 L16.59,32.77 L17.55,31.10Z" fill="url(#edgeShade)" fill-opacity="0.3"/>
<path d="M55.45,35.80 L53.43,35.46 L45.12,36.99 L43.71,37.66 L42.83,38.96 L39.22,49.43 L39.06,50.62 L39.39,51.77 L42.15,57.17 L43.13,58.28 L44.52,58.79 L48.69,59.20 L50.07,59.01 L51.22,58.22 L61.82,46.35 L62.51,45.01 L62.46,43.50 L61.47,40.18 L60.07,38.42Z" fill="#8f048f"/>
<path d="M55.45,35.80 L53.43,35.46 L45.12,36.99 L43.71,37.66 L42.83,38.96 L39.22,49.43 L39.06,50.62 L39.39,51.77 L42.15,57.17 L43.13,58.28 L44.52,58.79 L48.69,59.20 L50.07,59.01 L51.22,58.22 L61.82,46.35 L62.51,45.01 L62.46,43.50 L61.47,40.18 L60.07,38.42Z" fill="url(#edgeShade)" fill-opacity="0.3"/>
<path d="M22.25,78.44 L20.84,78.90 L19.83,79.98 L17.79,83.71 L17.42,85.20 L17.84,86.68 L18.93,87.76 L20.42,88.15 L39.32,88.15 L40.84,87.74 L41.94,86.61 L42.32,85.09 L41.87,83.58 L38.97,78.86 L37.78,77.76 L36.20,77.44Z" fill="#8f048f"/>
<path d="M22.25,78.44 L20.84,78.90 L19.83,79.98 L17.79,83.71 L17.42,85.20 L17.84,86.68 L18.93,87.76 L20.42,88.15 L39.32,88.15 L40.84,87.74 L41.94,86.61 L42.32,85.09 L41.87,83.58 L38.97,78.86 L37.78,77.76 L36.20,77.44Z" fill="url(#edgeShade)" fill-opacity="0.3"/>
<path d="M74.64,3.31 L74.26,1.78 L73.16,0.66 L71.64,0.25 L62.79,0.25 L61.22,0.69 L60.12,1.88 L59.79,3.47 L60.52,13.37 L61.16,15.02 L62.64,16.02 L67.13,17.39 L68.64,17.45 L69.98,16.77 L73.46,13.74 L74.20,12.74 L74.48,11.54Z" fill="#8f048f"/>
<path d="M74.64,3.31 L74.26,1.78 L73.16,0.66 L71.64,0.25 L62.79,0.25 L61.22,0.69 L60.12,1.88 L59.79,3.47 L60.52,13.37 L61.16,15.02 L62.64,16.02 L67.13,17.39 L68.64,17.45 L69.98,16.77 L73.46,13.74 L74.20,12.74 L74.48,11.54Z" fill="url(#edgeShade)" fill-opacity="0.3"/>
<path d="M27.33,10.62 L29.25,10.45 L30.67,9.15 L33.10,4.69 L33.47,3.20 L33.05,1.72 L31.96,0.64 L30.47,0.25 L20.56,0.25 L18.89,0.75 L17.79,2.10 L17.61,3.83 L18.16,6.60 L18.93,8.10 L20.39,8.94Z" fill="#8a048a"/>
<path d="M27.33,10.62 L29.25,10.45 L30.67,9.15 L33.10,4.69 L33.47,3.20 L33.05,1.72 L31.96,0.64 L30.47,0.25 L20.56,0.25 L18.89,0.75 L17.79,2.10 L17.61,3.83 L18.16,6.60 L18.93,8.10 L20.39,8.94Z" fill="url(#edgeShade)" fill-opacity="0.3"/>
<path d="M70.48,17.00 L69.58,18.39 L69.56,20.05 L71.47,27.08 L72.32,28.49 L73.79,29.23 L84.67,31.38 L86.40,31.21 L87.75,30.10 L88.25,28.44 L88.25,19.83 L87.68,18.07 L86.18,16.98 L76.38,13.79 L74.85,13.70 L73.48,14.38Z" fill="#840384"/>
<path d="M70.48,17.00 L69.58,18.39 L69.56,20.05 L71.47,27.08 L72.32,28.49 L73.79,29.23 L84.67,31.38 L86.40,31.21 L87.75,30.10 L88.25,28.44 L88.25,19.83 L87.68,18.07 L86.18,16.98 L76.38,13.79 L74.85,13.70 L73.48,14.38Z" fill="url(#edgeShade)" fill-opacity="0.3"/>
<path d="M35.23,77.00 L36.60,76.56 L37.61,75.52 L38.01,74.14 L38.28,67.68 L37.89,66.07 L36.71,64.92 L35.09,64.56 L22.85,65.34 L21.38,65.84 L20.35,67.01 L20.05,68.54 L20.49,75.04 L20.99,76.51 L22.17,77.53 L23.70,77.83Z" fill="#890489"/>
<path d="M35.23,77.00 L36.60,76.56 L37.61,75.52 L38.01,74.14 L38.28,67.68 L37.89,66.07 L36.71,64.92 L35.09,64.56 L22.85,65.34 L21.38,65.84 L20.35,67.01 L20.05,68.54 L20.49,75.04 L20.99,76.51 L22.17,77.53 L23.70,77.83Z" fill="url(#edgeShade)" fill-opacity="0.3"/>
<path d="M30.55,10.40 L30.30,12.67 L31.76,17.71 L33.08,19.44 L35.06,20.65 L36.63,21.09 L38.20,20.65 L43.89,17.16 L45.03,15.90 L45.30,14.22 L43.87,2.87 L43.35,1.54 L42.28,0.59 L40.89,0.25 L37.88,0.25 L36.35,0.67 L35.25,1.81Z" fill="#8d048d"/>
<path d="M30.55,10.40 L30.30,12.67 L31.76,17.71 L33.08,19.44 L35.06,20.65 L36.63,21.09 L38.20,20.65 L43.89,17.16 L45.03,15.90 L45.30,14.22 L43.87,2.87 L43.35,1.54 L42.28,0.59 L40.89,0.25 L37.88,0.25 L36.35,0.67 L35.25,1.81Z" fill="url(#edgeShade)" fill-opacity="0.3"/>
<path d="M33.10,20.04 L31.82,19.61 L30.47,19.79 L21.06,23.36 L19.83,24.22 L19.18,25.57 L17.91,31.88 L17.98,33.37 L18.77,34.64 L19.53,35.37 L20.98,36.14 L22.61,36.04 L34.93,31.70 L36.03,31.01 L36.74,29.92 L36.92,28.63 L36.51,23.57 L36.08,22.24 L35.09,21.25Z" fill="#7b037b"/>
<path d="M33.10,20.04 L31.82,19.61 L30.47,19.79 L21.06,23.36 L19.83,24.22 L19.18,25.57 L17.91,31.88 L17.98,33.37 L18.77,34.64 L19.53,35.37 L20.98,36.14 L22.61,36.04 L34.93,31.70 L36.03,31.01 L36.74,29.92 L36.92,28.63 L36.51,23.57 L36.08,22.24 L35.09,21.25Z" fill="url(#edgeShade)" fill-opacity="0.3"/>
<path d="M38.44,76.06 L38.88,77.76 L44.40,86.72 L45.49,87.77 L46.95,88.15 L54.86,88.15 L56.18,87.85 L57.22,87.00 L57.80,85.78 L60.51,73.17 L60.48,71.76 L59.81,70.53 L50.96,60.72 L49.03,59.74 L44.50,59.29 L43.02,59.52 L41.83,60.43 L39.51,63.42 L38.88,65.13Z" fill="#920492"/>
<path d="M38.44,76.06 L38.88,77.76 L44.40,86.72 L45.49,87.77 L46.95,88.15 L54.86,88.15 L56.18,87.85 L57.22,87.00 L57.80,85.78 L60.51,73.17 L60.48,71.76 L59.81,70.53 L50.96,60.72 L49.03,59.74 L44.50,59.29 L43.02,59.52 L41.83,60.43 L39.51,63.42 L38.88,65.13Z" fill="url(#edgeShade)" fill-opacity="0.3"/>
<path d="M58.55,16.41 L59.69,15.22 L60.03,13.60 L59.26,3.03 L58.79,1.63 L57.71,0.62 L56.27,0.25 L47.44,0.25 L45.83,0.72 L44.73,1.97 L44.46,3.63 L45.81,14.29 L46.43,15.78 L47.74,16.73 L52.67,18.57 L53.97,18.75 L55.23,18.35Z" fill="#8b048b"/>
<path d="M58.55,16.41 L59.69,15.22 L60.03,13.60 L59.26,3.03 L58.79,1.63 L57.71,0.62 L56.27,0.25 L47.44,0.25 L45.83,0.72 L44.73,1.97 L44.46,3.63 L45.81,14.29 L46.43,15.78 L47.74,16.73 L52.67,18.57 L53.97,18.75 L55.23,18.35Z" fill="url(#edgeShade)" fill-opacity="0.3"/>
<path d="M62.97,37.66 L62.13,39.07 L62.15,40.70 L63.08,43.87 L64.44,45.60 L71.46,49.71 L73.71,50.03 L85.98,46.94 L87.16,46.35 L87.96,45.31 L88.25,44.03 L88.25,35.06 L87.94,33.73 L87.07,32.68 L85.83,32.12 L73.35,29.66 L71.94,29.72 L70.71,30.41Z" fill="#8f048f"/>
<path d="M62.97,37.66 L62.13,39.07 L62.15,40.70 L63.08,43.87 L64.44,45.60 L71.46,49.71 L73.71,50.03 L85.98,46.94 L87.16,46.35 L87.96,45.31 L88.25,44.03 L88.25,35.06 L87.94,33.73 L87.07,32.68 L85.83,32.12 L73.35,29.66 L71.94,29.72 L70.71,30.41Z" fill="url(#edgeShade)" fill-opacity="0.3"/>
<path d="M69.02,19.95 L68.27,18.65 L66.99,17.87 L61.71,16.26 L60.49,16.15 L59.33,16.54 L55.83,18.58 L54.71,19.72 L54.34,21.27 L54.74,33.18 L55.17,34.63 L56.26,35.69 L59.38,37.46 L61.22,37.82 L62.91,37.03 L70.16,30.24 L71.00,28.87 L71.00,27.27Z" fill="#910491"/>
<path d="M69.02,19.95 L68.27,18.65 L66.99,17.87 L61.71,16.26 L60.49,16.15 L59.33,16.54 L55.83,18.58 L54.71,19.72 L54.34,21.27 L54.74,33.18 L55.17,34.63 L56.26,35.69 L59.38,37.46 L61.22,37.82 L62.91,37.03 L70.16,30.24 L71.00,28.87 L71.00,27.27Z" fill="url(#edgeShade)" fill-opacity="0.3"/>
<path d="M20.75,38.00 L19.89,36.41 L18.18,34.76 L17.12,34.10 L15.89,33.93 L3.04,34.83 L1.63,35.29 L0.62,36.38 L0.25,37.82 L0.25,55.17 L0.64,56.65 L1.71,57.74 L3.19,58.17 L11.99,58.35 L13.31,58.07 L14.37,57.24 L21.67,48.27 L22.26,47.10 L22.29,45.80Z" fill="#890489"/>
<path d="M20.75,38.00 L19.89,36.41 L18.18,34.76 L17.12,34.10 L15.89,33.93 L3.04,34.83 L1.63,35.29 L0.62,36.38 L0.25,37.82 L0.25,55.17 L0.64,56.65 L1.71,57.74 L3.19,58.17 L11.99,58.35 L13.31,58.07 L14.37,57.24 L21.67,48.27 L22.26,47.10 L22.29,45.80Z" fill="url(#edgeShade)" fill-opacity="0.3"/>
<path d="M62.65,71.13 L61.59,71.98 L61.01,73.21 L58.58,84.52 L58.73,86.27 L59.83,87.64 L61.51,88.15 L85.25,88.15 L86.75,87.75 L87.85,86.65 L88.25,85.15 L88.25,75.66 L87.72,73.96 L86.31,72.86 L72.25,67.56 L71.07,67.37 L69.90,67.66Z" fill="#8b048b"/>
<path d="M62.65,71.13 L61.59,71.98 L61.01,73.21 L58.58,84.52 L58.73,86.27 L59.83,87.64 L61.51,88.15 L85.25,88.15 L86.75,87.75 L87.85,86.65 L88.25,85.15 L88.25,75.66 L87.72,73.96 L86.31,72.86 L72.25,67.56 L71.07,67.37 L69.90,67.66Z" fill="url(#edgeShade)" fill-opacity="0.3"/>
<circle cx="20.80" cy="36.94" r="1.36" fill="#2a1cf4" fill-opacity="1"/>
<circle cx="14.93" cy="88.40" r="1.18" fill="#2a1cf4" fill-opacity="1"/>
<circle cx="88.50" cy="73.42" r="1.37" fill="#2a1cf4" fill-opacity="1"/>
<circle cx="20.46" cy="78.31" r="1.41" fill="#2a1cf4" fill-opacity="1"/>
<circle cx="63.21" cy="45.17" r="1.35" fill="#2a1cf4" fill-opacity="1"/>
<circle cx="88.50" cy="0.00" r="1.29" fill="#2a1cf4" fill-opacity="1"/>
<circle cx="68.79" cy="18.15" r="1.37" fill="#2a1cf4" fill-opacity="1"/>
<circle cx="74.95" cy="-0.00" r="1.03" fill="#2a1cf4" fill-opacity="1"/>
<circle cx="61.34" cy="38.85" r="1.30" fill="#2a1cf4" fill-opacity="1"/>
<circle cx="50.31" cy="59.62" r="1.23" fill="#2a1cf4" fill-opacity="1"/>
<circle cx="38.14" cy="77.05" r="1.28" fill="#2a1cf4" fill-opacity="1"/>
<circle cx="43.75" cy="0.00" r="1.32" fill="#2a1cf4" fill-opacity="1"/>
<circle cx="38.53" cy="50.65" r="1.00" fill="#2a1cf4" fill-opacity="1"/>
<circle cx="71.04" cy="66.84" r="1.23" fill="#2a1cf4" fill-opacity="1"/>
<circle cx="59.29" cy="0.00" r="1.33" fill="#2a1cf4" fill-opacity="1"/>
<circle cx="74.70" cy="12.98" r="1.23" fill="#2a1cf4" fill-opacity="1"/>
</g>
<path d="M6.4,7.5h.01M7.4,2.7h.01M27.9,21.2h.01M30.0,56.3h.01M69.8,52.8h.01M78.4,61.8h.01M48.1,38.0h.01M78.1,10.5h.01M7.3,71.1h.01M70.4,55.0h.01M72.0,42.2h.01M50.9,55.2h.01M3.9,16.0h.01M13.9,9.6h.01M2.3,30.3h.01M33.2,21.6h.01M10.8,57.3h.01M10.4,85.8h.01M73.5,65.8h.01M15.4,85.7h.01M15.0,57.9h.01M72.7,62.3h.01M32.1,73.2h.01M32.4,10.6h.01M0.6,63.3h.01M31.6,27.8h.01M3.9,45.7h.01M53.3,3.5h.01M84.4,40.7h.01M30.3,46.1h.01M27.3,29.4h.01M67.6,71.6h.01M22.3,78.9h.01M33.4,16.9h.01M52.5,41.2h.01M66.8,80.1h.01M58.0,71.9h.01M9.8,71.6h.01M48.9,12.0h.01M40.8,76.8h.01M77.2,15.9h.01M41.6,76.4h.01M41.5,37.7h.01M77.6,8.2h.01M73.8,3.3h.01M8.6,79.1h.01M41.9,19.5h.01M4.0,49.1h.01M34.2,45.0h.01M8.0,58.4h.01M56.5,24.4h.01M77.5,52.2h.01M34.6,49.3h.01M59.6,24.3h.01M85.7,65.6h.01M77.1,35.1h.01M56.7,64.5h.01M45.5,43.3h.01M54.5,60.9h.01M48.5,69.7h.01M65.3,36.2h.01M42.6,43.7h.01M71.9,30.9h.01M69.9,25.3h.01M39.2,39.5h.01M22.9,34.1h.01M73.7,58.3h.01M75.9,2.5h.01M88.1,68.0h.01M29.3,60.1h.01M49.3,61.6h.01M7.5,74.1h.01M69.2,33.6h.01M88.2,6.2h.01M60.1,77.4h.01M86.3,46.3h.01M85.8,60.8h.01M9.3,65.0h.01M48.3,20.4h.01M32.8,39.0h.01M43.1,1.1h.01M7.8,46.8h.01M30.7,36.7h.01M45.1,18.4h.01M22.9,40.2h.01M16.5,76.6h.01M13.2,40.9h.01M59.3,23.0h.01M67.1,43.3h.01M39.9,41.6h.01M14.4,48.0h.01M45.0,13.2h.01M28.8,48.3h.01M41.1,5.6h.01M38.7,80.3h.01M43.7,49.4h.01M25.8,71.6h.01M13.2,59.0h.01M16.9,69.3h.01M56.2,17.6h.01M27.7,32.5h.01M30.4,49.8h.01M4.4,87.0h.01M53.9,46.0h.01M44.5,40.1h.01M61.1,22.2h.01M15.4,24.4h.01M14.0,71.4h.01M69.6,19.5h.01M75.9,64.5h.01M33.8,52.4h.01M66.7,48.3h.01M77.8,44.2h.01M77.6,10.7h.01M32.3,67.9h.01M21.5,82.1h.01M58.9,61.4h.01M57.2,6.4h.01M73.1,78.5h.01M57.1,79.8h.01M9.6,63.7h.01M5.6,63.2h.01M13.7,20.2h.01M69.9,39.4h.01M27.5,76.8h.01M48.8,13.6h.01M15.8,74.4h.01M81.5,76.2h.01M81.7,65.2h.01M3.2,64.1h.01M26.4,84.6h.01M23.3,72.6h.01M86.8,6.2h.01M11.2,66.5h.01M46.0,43.8h.01M80.8,80.8h.01M21.2,11.2h.01M80.9,70.4h.01M64.4,72.0h.01M55.3,11.5h.01M86.5,41.7h.01M21.2,44.3h.01M45.1,3.0h.01M82.1,0.0h.01M41.2,54.9h.01M86.4,10.3h.01M65.4,70.7h.01M73.9,46.9h.01M63.7,56.6h.01M2.7,53.0h.01M9.0,44.3h.01M30.5,24.2h.01M3.3,87.9h.01M78.4,5.1h.01M52.8,37.2h.01M25.4,2.6h.01M54.1,29.1h.01M50.2,8.3h.01M40.6,55.4h.01M1.0,34.9h.01M79.1,66.5h.01M53.3,87.7h.01M18.4,52.4h.01M76.0,8.1h.01M17.2,5.5h.01M51.8,74.1h.01M66.4,74.5h.01M38.1,14.1h.01M5.3,48.3h.01M18.5,18.6h.01M87.0,49.6h.01M54.1,44.7h.01M74.9,27.0h.01M43.9,23.3h.01M44.5,64.7h.01M31.1,39.4h.01M79.0,58.1h.01M61.3,71.3h.01M5.7,18.3h.01M54.3,81.7h.01M13.2,49.0h.01M38.8,27.2h.01M28.1,51.2h.01M48.0,68.4h.01M23.0,13.3h.01M27.2,77.7h.01M20.6,3.8h.01M69.0,52.3h.01M42.6,38.3h.01M24.8,56.9h.01M76.6,40.5h.01M23.3,80.5h.01M85.0,47.2h.01M45.8,48.7h.01M6.7,3.7h.01M66.3,41.9h.01M72.3,19.6h.01M50.1,48.0h.01M59.9,34.4h.01M68.4,59.7h.01M13.9,86.8h.01M31.8,44.2h.01M28.2,80.1h.01M77.5,46.1h.01M44.0,75.6h.01M5.9,85.0h.01M53.4,77.2h.01M50.0,12.7h.01M77.3,6.1h.01M23.0,0.9h.01M79.1,26.7h.01M17.8,34.0h.01M2.1,36.7h.01M9.5,37.6h.01M43.1,86.9h.01M54.8,43.5h.01M77.1,82.4h.01M2.7,13.2h.01M34.1,9.7h.01M15.5,53.9h.01M40.6,81.6h.01M27.6,65.8h.01M23.0,30.0h.01M42.3,35.9h.01M21.2,3.1h.01M27.1,38.3h.01M46.6,5.7h.01M83.1,57.5h.01M49.8,56.5h.01M83.2,30.3h.01M57.1,46.3h.01M10.6,23.4h.01M74.4,22.6h.01M35.8,20.8h.01M34.4,8.0h.01M44.7,9.5h.01M8.8,78.7h.01M52.8,55.8h.01M74.2,59.7h.01M51.4,77.4h.01M44.0,37.8h.01M27.0,9.8h.01M59.1,15.4h.01M38.0,35.9h.01M27.5,53.4h.01M71.0,44.5h.01M47.7,34.6h.01M14.6,86.3h.01M42.6,76.8h.01M73.9,23.7h.01M41.5,21.8h.01M11.3,41.2h.01M74.6,46.4h.01M85.6,10.9h.01M77.3,61.7h.01M79.5,19.8h.01M59.9,65.7h.01M20.4,59.2h.01M2.3,39.6h.01M16.4,69.1h.01M42.5,85.0h.01M25.7,79.8h.01M28.8,32.8h.01M87.7,67.2h.01M23.3,9.0h.01M50.8,72.4h.01M28.9,31.1h.01M36.0,59.5h.01M75.0,59.2h.01M51.4,44.6h.01M77.5,63.2h.01M62.2,77.3h.01M79.1,7.1h.01M71.7,25.9h.01M85.2,15.3h.01M42.0,67.2h.01M21.6,38.1h.01M61.8,52.0h.01M75.3,68.4h.01M40.0,11.0h.01M32.9,15.3h.01M34.8,35.7h.01M9.4,75.1h.01M2.7,57.4h.01M2.1,8.5h.01M62.9,74.0h.01M36.4,87.9h.01M26.0,47.1h.01M86.0,1.5h.01M62.2,57.3h.01M41.7,32.2h.01M67.8,64.6h.01M10.5,80.4h.01M51.5,55.0h.01M19.4,43.4h.01M1.6,16.2h.01M79.6,10.6h.01M70.0,6.7h.01M31.5,62.4h.01M46.4,78.0h.01" stroke="#4a084a" stroke-width="0.9" stroke-linecap="round" stroke-opacity="0.55"/>
</g>
<g transform="translate(323.80,557.90)" clip-path="url(#clipT)">
<rect x="0.00" y="0.00" width="88.50" height="88.40" fill="#0e0418" />
<g filter="url(#blur5)">
<ellipse cx="27.8" cy="76.7" rx="4.1" ry="3.7" fill="none" stroke="#3a0c48" stroke-width="1.3"/>
<ellipse cx="22.3" cy="19.3" rx="3.2" ry="2.8" fill="none" stroke="#3a0c48" stroke-width="1.3"/>
<ellipse cx="80.1" cy="15.1" rx="3.9" ry="3.4" fill="none" stroke="#3a0c48" stroke-width="1.3"/>
<ellipse cx="22.0" cy="10.3" rx="3.9" ry="4.1" fill="none" stroke="#3a0c48" stroke-width="1.3"/>
<ellipse cx="48.2" cy="78.1" rx="3.4" ry="3.3" fill="none" stroke="#3a0c48" stroke-width="1.3"/>
<ellipse cx="52.1" cy="29.3" rx="4.1" ry="4.4" fill="none" stroke="#3a0c48" stroke-width="1.3"/>
<ellipse cx="81.0" cy="41.8" rx="3.0" ry="3.2" fill="none" stroke="#3a0c48" stroke-width="1.3"/>
<ellipse cx="21.4" cy="53.2" rx="3.4" ry="3.9" fill="none" stroke="#3a0c48" stroke-width="1.3"/>
<ellipse cx="84.9" cy="77.2" rx="3.1" ry="2.9" fill="none" stroke="#3a0c48" stroke-width="1.3"/>
<ellipse cx="40.9" cy="21.4" rx="4.1" ry="4.1" fill="none" stroke="#3a0c48" stroke-width="1.3"/>
<ellipse cx="45.5" cy="4.2" rx="3.8" ry="3.9" fill="none" stroke="#3a0c48" stroke-width="1.3"/>
<ellipse cx="57.2" cy="7.4" rx="3.1" ry="2.6" fill="none" stroke="#3a0c48" stroke-width="1.3"/>
<ellipse cx="12.6" cy="73.6" rx="2.9" ry="2.7" fill="none" stroke="#3a0c48" stroke-width="1.3"/>
<ellipse cx="14.3" cy="38.6" rx="2.9" ry="2.5" fill="none" stroke="#3a0c48" stroke-width="1.3"/>
<ellipse cx="6.0" cy="32.4" rx="3.5" ry="3.2" fill="none" stroke="#3a0c48" stroke-width="1.3"/>
<ellipse cx="32.2" cy="14.8" rx="3.6" ry="3.3" fill="none" stroke="#3a0c48" stroke-width="1.3"/>
<ellipse cx="25.0" cy="37.0" rx="3.6" ry="3.7" fill="none" stroke="#3a0c48" stroke-width="1.3"/>
<ellipse cx="80.2" cy="71.2" rx="4.0" ry="3.2" fill="none" stroke="#3a0c48" stroke-width="1.3"/>
<ellipse cx="69.0" cy="4.3" rx="3.9" ry="3.6" fill="none" stroke="#3a0c48" stroke-width="1.3"/>
<ellipse cx="48.4" cy="51.4" rx="3.1" ry="2.6" fill="none" stroke="#3a0c48" stroke-width="1.3"/>
<ellipse cx="17.8" cy="46.9" rx="3.6" ry="3.7" fill="none" stroke="#3a0c48" stroke-width="1.3"/>
<ellipse cx="38.5" cy="77.5" rx="4.2" ry="3.8" fill="none" stroke="#3a0c48" stroke-width="1.3"/>
<ellipse cx="44.7" cy="68.8" rx="4.2" ry="4.1" fill="none" stroke="#3a0c48" stroke-width="1.3"/>
<ellipse cx="67.2" cy="80.7" rx="4.1" ry="3.4" fill="none" stroke="#3a0c48" stroke-width="1.3"/>
<ellipse cx="60.3" cy="21.0" rx="2.9" ry="2.7" fill="none" stroke="#3a0c48" stroke-width="1.3"/>
<ellipse cx="85.6" cy="84.6" rx="2.8" ry="2.6" fill="none" stroke="#3a0c48" stroke-width="1.3"/>
<ellipse cx="79.3" cy="5.7" rx="2.8" ry="3.1" fill="none" stroke="#3a0c48" stroke-width="1.3"/>
<ellipse cx="9.1" cy="83.4" rx="2.9" ry="2.9" fill="none" stroke="#3a0c48" stroke-width="1.3"/>
<ellipse cx="62.6" cy="4.7" rx="4.2" ry="4.0" fill="none" stroke="#3a0c48" stroke-width="1.3"/>
<ellipse cx="69.4" cy="69.5" rx="3.2" ry="3.6" fill="none" stroke="#3a0c48" stroke-width="1.3"/>
<ellipse cx="9.5" cy="17.6" rx="3.8" ry="3.3" fill="none" stroke="#3a0c48" stroke-width="1.3"/>
<ellipse cx="54.4" cy="83.4" rx="3.4" ry="3.1" fill="none" stroke="#3a0c48" stroke-width="1.3"/>
<ellipse cx="16.6" cy="28.6" rx="3.9" ry="3.8" fill="none" stroke="#3a0c48" stroke-width="1.3"/>
<ellipse cx="67.8" cy="12.5" rx="3.4" ry="3.2" fill="none" stroke="#3a0c48" stroke-width="1.3"/>
<ellipse cx="78.3" cy="83.2" rx="3.8" ry="4.3" fill="none" stroke="#3a0c48" stroke-width="1.3"/>
<ellipse cx="80.7" cy="27.3" rx="3.7" ry="3.5" fill="none" stroke="#3a0c48" stroke-width="1.3"/>
<ellipse cx="29.1" cy="64.7" rx="3.7" ry="4.2" fill="none" stroke="#3a0c48" stroke-width="1.3"/>
<ellipse cx="28.9" cy="58.6" rx="4.1" ry="3.4" fill="none" stroke="#3a0c48" stroke-width="1.3"/>
<ellipse cx="30.8" cy="4.1" rx="3.1" ry="3.1" fill="none" stroke="#3a0c48" stroke-width="1.3"/>
<ellipse cx="23.6" cy="68.1" rx="3.5" ry="3.3" fill="none" stroke="#3a0c48" stroke-width="1.3"/>
<ellipse cx="73.2" cy="56.5" rx="3.3" ry="3.5" fill="none" stroke="#3a0c48" stroke-width="1.3"/>
<ellipse cx="41.2" cy="11.7" rx="3.5" ry="2.9" fill="none" stroke="#3a0c48" stroke-width="1.3"/>
<ellipse cx="71.0" cy="23.4" rx="3.6" ry="4.1" fill="none" stroke="#3a0c48" stroke-width="1.3"/>
<ellipse cx="22.9" cy="83.3" rx="3.3" ry="3.1" fill="none" stroke="#3a0c48" stroke-width="1.3"/>
<ellipse cx="35.3" cy="66.9" rx="4.0" ry="4.0" fill="none" stroke="#3a0c48" stroke-width="1.3"/>
<ellipse cx="30.2" cy="48.4" rx="3.5" ry="3.1" fill="none" stroke="#3a0c48" stroke-width="1.3"/>
<ellipse cx="31.3" cy="26.4" rx="3.6" ry="3.1" fill="none" stroke="#3a0c48" stroke-width="1.3"/>
<ellipse cx="66.1" cy="37.1" rx="3.6" ry="3.9" fill="none" stroke="#3a0c48" stroke-width="1.3"/>
<ellipse cx="24.1" cy="27.0" rx="2.9" ry="3.1" fill="none" stroke="#3a0c48" stroke-width="1.3"/>
<ellipse cx="12.2" cy="59.3" rx="3.9" ry="3.3" fill="none" stroke="#3a0c48" stroke-width="1.3"/>
<ellipse cx="36.7" cy="39.7" rx="4.0" ry="3.2" fill="none" stroke="#3a0c48" stroke-width="1.3"/>
<ellipse cx="42.9" cy="85.0" rx="4.1" ry="3.8" fill="none" stroke="#3a0c48" stroke-width="1.3"/>
<ellipse cx="43.8" cy="33.3" rx="3.3" ry="3.0" fill="none" stroke="#3a0c48" stroke-width="1.3"/>
<ellipse cx="11.5" cy="4.2" rx="3.2" ry="2.7" fill="none" stroke="#3a0c48" stroke-width="1.3"/>
<ellipse cx="6.7" cy="46.8" rx="3.6" ry="3.0" fill="none" stroke="#3a0c48" stroke-width="1.3"/>
<ellipse cx="50.1" cy="14.9" rx="3.4" ry="2.8" fill="none" stroke="#3a0c48" stroke-width="1.3"/>
<ellipse cx="33.6" cy="84.1" rx="3.7" ry="3.2" fill="none" stroke="#3a0c48" stroke-width="1.3"/>
<ellipse cx="57.3" cy="69.2" rx="2.9" ry="2.4" fill="none" stroke="#3a0c48" stroke-width="1.3"/>
<path d="M1.5,11.5h.01M-2.4,10.2h.01M27.8,20.6h.01M28.9,21.1h.01M36.2,30.2h.01M37.2,33.1h.01M11.6,50.2h.01M12.3,52.3h.01M9.8,24.9h.01M11.5,24.7h.01M19.6,27.0h.01M17.9,24.0h.01M16.1,20.0h.01M12.8,19.6h.01M-4.2,-0.0h.01M-0.2,1.4h.01M18.0,11.8h.01M14.7,12.4h.01M15.4,11.9h.01M14.8,15.2h.01M45.5,42.5h.01M44.4,42.6h.01M38.9,48.2h.01M37.0,46.9h.01M38.5,57.6h.01M38.7,55.8h.01M42.1,28.8h.01M37.8,24.4h.01M87.8,57.6h.01M86.5,54.6h.01M-0.4,40.3h.01M-2.1,41.4h.01M1.1,21.1h.01M-5.6,24.3h.01M27.3,53.2h.01M23.5,51.5h.01M23.4,47.9h.01M23.8,49.3h.01M12.2,50.4h.01M14.3,55.2h.01M20.9,59.0h.01M26.9,60.4h.01M16.0,69.0h.01M13.8,66.5h.01M22.5,60.4h.01M20.9,59.4h.01M19.1,63.0h.01M15.6,61.7h.01M29.0,70.8h.01M29.1,70.7h.01M21.4,71.1h.01M21.7,76.4h.01M0.1,57.1h.01M1.8,61.2h.01M24.4,34.9h.01M17.7,35.7h.01M24.6,43.0h.01M25.1,46.5h.01M26.8,43.1h.01M29.1,41.8h.01M31.3,35.4h.01M32.0,32.6h.01M26.4,30.7h.01M29.2,30.3h.01M13.7,35.2h.01M12.7,29.0h.01M7.9,40.6h.01M8.9,40.1h.01M15.0,47.2h.01M12.5,45.9h.01M23.9,42.4h.01M21.1,45.0h.01M15.4,37.2h.01M18.7,30.3h.01M22.8,2.9h.01M20.9,1.1h.01M28.3,13.9h.01M26.9,16.2h.01M27.5,20.3h.01M27.1,18.6h.01M37.6,17.2h.01M38.2,17.7h.01M36.0,22.2h.01M33.5,20.2h.01M27.9,74.0h.01M32.1,70.4h.01M33.4,74.9h.01M31.8,72.4h.01M32.1,61.4h.01M36.2,60.5h.01M41.8,57.8h.01M38.9,58.7h.01M86.4,58.5h.01M88.7,62.4h.01M59.5,57.1h.01M58.0,54.8h.01M1.3,70.1h.01M2.4,64.1h.01M33.3,6.6h.01M35.0,11.1h.01M30.0,10.0h.01M28.3,5.4h.01M81.7,-0.7h.01M85.0,-0.4h.01M58.4,14.8h.01M59.2,11.7h.01M19.5,77.8h.01M19.0,78.4h.01M85.9,85.7h.01M87.6,88.0h.01M76.6,63.8h.01M75.4,61.3h.01M65.6,59.6h.01M63.8,60.8h.01M77.3,72.7h.01M73.6,78.7h.01M58.7,72.9h.01M62.8,74.2h.01M39.2,60.3h.01M39.2,61.3h.01M50.8,58.6h.01M53.6,61.4h.01M51.8,73.2h.01M50.1,70.6h.01M39.9,74.0h.01M39.9,70.3h.01M46.7,73.0h.01M42.7,73.8h.01M44.1,17.3h.01M45.4,15.0h.01M55.7,16.1h.01M58.8,12.8h.01M73.5,45.9h.01M72.2,46.7h.01M62.3,49.0h.01M61.9,48.8h.01M73.8,8.5h.01M72.7,8.7h.01M33.9,78.9h.01M32.8,77.9h.01M29.2,85.4h.01M28.7,83.2h.01M87.0,68.8h.01M88.1,72.8h.01M90.0,82.0h.01M88.4,80.9h.01M53.8,41.0h.01M50.4,40.7h.01M54.6,38.2h.01M51.0,40.8h.01M60.5,29.7h.01M61.3,30.7h.01M54.9,19.8h.01M53.6,24.4h.01M47.9,24.6h.01M46.2,27.1h.01M47.7,20.2h.01M48.0,24.6h.01M74.4,34.4h.01M74.5,36.7h.01M88.6,31.0h.01M84.1,34.2h.01M20.4,-1.1h.01M24.1,2.2h.01M62.6,12.3h.01M64.8,10.8h.01M65.3,5.1h.01M67.4,10.8h.01M55.1,-0.9h.01M55.6,1.1h.01M15.4,82.8h.01M13.7,85.3h.01M2.7,87.8h.01M-1.6,86.4h.01M0.6,74.7h.01M-0.6,73.9h.01M15.9,88.0h.01M15.0,90.6h.01M84.9,80.8h.01M83.5,80.1h.01M80.1,73.8h.01M79.3,77.9h.01M74.0,75.4h.01M74.4,76.4h.01M74.3,86.1h.01M68.1,88.9h.01M81.4,88.0h.01M80.4,90.5h.01M63.1,76.3h.01M62.5,78.2h.01M56.8,76.2h.01M55.3,78.8h.01M60.8,88.8h.01M63.5,87.4h.01M62.7,27.6h.01M66.2,29.0h.01M72.6,30.5h.01M74.4,31.9h.01M66.3,17.1h.01M65.8,17.4h.01M39.6,4.9h.01M35.4,5.9h.01M46.2,14.2h.01M46.6,10.7h.01M50.1,7.6h.01M50.7,8.6h.01M75.8,3.6h.01M76.1,2.0h.01M62.2,3.4h.01M61.4,1.0h.01M79.3,21.6h.01M75.6,26.1h.01M76.4,11.1h.01M78.2,15.7h.01M71.9,17.5h.01M69.6,15.0h.01M88.7,12.6h.01M89.9,15.4h.01M89.8,16.9h.01M87.3,23.7h.01M39.9,-0.3h.01M40.4,1.5h.01M54.4,-3.7h.01M53.3,-3.0h.01M25.6,90.5h.01M28.0,89.1h.01M40.4,81.2h.01M36.7,82.4h.01M43.3,78.8h.01M42.9,83.1h.01M47.9,83.7h.01M46.8,82.5h.01M38.8,88.4h.01M38.7,87.6h.01M52.0,91.6h.01M49.1,91.0h.01M52.1,56.3h.01M9.2,84.4h.01M7.3,86.5h.01M86.8,83.4h.01M31.6,82.9h.01M60.7,53.3h.01M50.8,16.7h.01M20.5,4.4h.01M24.4,0.1h.01M3.9,56.7h.01M40.1,35.9h.01M29.4,84.9h.01M21.4,52.7h.01M76.8,66.6h.01M10.9,12.5h.01M15.3,17.1h.01M45.3,86.4h.01M82.0,50.7h.01M67.8,16.5h.01M5.2,60.4h.01M16.3,6.2h.01M75.5,50.1h.01M31.6,32.6h.01M71.9,31.9h.01M64.4,82.3h.01M0.7,58.1h.01M13.7,1.1h.01M44.2,25.5h.01M62.2,20.4h.01M58.4,33.4h.01M40.6,14.4h.01M36.5,53.3h.01M46.0,75.9h.01M10.1,9.6h.01M71.6,0.6h.01M10.4,8.4h.01M7.5,39.2h.01M4.9,16.7h.01M38.0,41.2h.01M60.5,87.8h.01M18.6,67.8h.01M84.8,3.6h.01M19.0,61.6h.01M39.3,30.8h.01M23.3,70.0h.01M74.8,21.8h.01M69.6,10.2h.01M46.8,63.7h.01M2.8,69.1h.01M47.0,53.0h.01M7.2,80.0h.01M69.6,79.3h.01M14.2,70.7h.01M43.3,52.6h.01M3.6,18.1h.01M58.2,48.4h.01M6.5,47.9h.01M33.3,48.1h.01M84.9,22.6h.01M38.8,56.5h.01M76.8,85.4h.01M63.7,0.1h.01M44.3,71.6h.01M14.2,45.3h.01M62.7,69.7h.01M30.9,2.8h.01M7.4,23.0h.01M38.3,39.4h.01M83.2,22.1h.01M81.5,11.6h.01M66.4,34.5h.01M24.9,24.8h.01M53.1,10.3h.01M14.6,22.4h.01M49.8,9.5h.01M81.4,30.6h.01M32.7,15.8h.01M38.5,77.0h.01M71.6,15.7h.01M4.0,73.8h.01M51.7,40.1h.01M10.4,30.8h.01M55.4,12.8h.01M57.7,36.7h.01M19.1,63.9h.01M38.4,59.5h.01M41.7,55.0h.01M88.4,34.6h.01M23.7,86.1h.01M54.6,19.0h.01M54.8,0.1h.01M85.0,53.9h.01M82.6,59.4h.01M20.5,33.6h.01M67.7,38.2h.01M14.6,30.6h.01M84.6,63.5h.01M51.3,27.5h.01M29.9,14.6h.01M52.3,24.9h.01M42.5,2.8h.01M24.2,33.2h.01M3.4,34.1h.01M2.3,47.6h.01M66.7,83.6h.01M16.4,66.6h.01M84.4,21.3h.01M72.5,59.1h.01M52.1,81.2h.01M44.0,76.2h.01M61.4,-1.4h.01M62.7,36.2h.01M51.1,19.5h.01M64.5,16.6h.01M67.6,23.0h.01M67.9,-3.9h.01M63.5,20.6h.01M63.4,11.4h.01M66.7,9.0h.01M69.9,11.2h.01M67.6,14.3h.01M61.1,17.6h.01M60.1,25.6h.01M45.8,42.1h.01M64.1,21.9h.01M58.6,3.1h.01M49.5,15.8h.01M54.6,26.1h.01M67.5,30.0h.01M60.3,10.9h.01M62.0,31.8h.01M54.9,38.4h.01M64.0,16.6h.01M61.2,19.4h.01M66.5,-0.4h.01M68.8,8.0h.01M75.9,18.1h.01M45.8,44.5h.01M49.6,1.7h.01M55.7,29.4h.01M62.6,31.3h.01M61.9,36.0h.01M68.2,34.6h.01M72.2,7.4h.01M66.5,24.9h.01M60.3,13.1h.01M61.4,25.2h.01M39.7,22.9h.01M60.7,19.2h.01M59.4,10.2h.01M54.2,10.5h.01M44.9,11.6h.01M63.7,30.6h.01M55.0,6.7h.01M46.3,29.9h.01M64.3,25.1h.01M48.8,26.1h.01M60.4,21.7h.01M62.1,31.4h.01M44.7,12.7h.01M70.1,4.1h.01M64.9,3.9h.01M49.5,10.6h.01M60.9,45.5h.01M62.9,15.0h.01M51.6,16.3h.01M54.4,13.1h.01M64.8,11.9h.01M61.6,11.9h.01M71.8,34.0h.01M45.8,56.8h.01M29.3,63.4h.01M38.7,87.0h.01M51.0,69.9h.01M51.5,80.9h.01M40.3,63.6h.01M54.8,72.8h.01M23.2,68.8h.01M34.1,83.0h.01M43.3,57.8h.01M57.1,69.4h.01M41.2,71.1h.01M37.2,60.4h.01M34.1,69.8h.01M53.3,65.3h.01M37.5,88.8h.01M50.6,63.7h.01M36.3,74.7h.01M54.5,61.0h.01M47.8,59.8h.01M43.4,68.5h.01M52.8,79.0h.01M41.5,55.7h.01M51.8,54.7h.01M47.1,83.0h.01M40.9,71.6h.01M36.2,58.0h.01M53.4,64.0h.01M60.7,65.0h.01M37.9,69.1h.01M46.8,66.7h.01M67.1,60.4h.01M47.9,63.7h.01M54.6,72.0h.01M37.7,65.9h.01M41.6,68.5h.01M28.6,81.9h.01M63.9,87.2h.01M67.8,63.7h.01M29.8,69.1h.01M44.9,79.6h.01M24.1,67.1h.01M34.4,58.1h.01M41.0,61.9h.01M42.8,83.7h.01M45.4,72.2h.01M50.1,61.4h.01M49.9,71.7h.01M42.8,82.8h.01M31.4,72.4h.01M38.3,73.3h.01M32.5,72.3h.01M45.0,62.3h.01M39.1,79.7h.01M42.1,73.0h.01M49.6,78.9h.01M42.8,68.4h.01M39.7,73.7h.01M51.9,71.4h.01M43.2,69.0h.01M37.8,71.3h.01M40.3,75.4h.01M46.0,73.2h.01M45.1,58.3h.01M24.1,57.1h.01M43.9,75.8h.01M45.9,66.0h.01M31.8,76.4h.01M63.3,63.3h.01M64.5,62.3h.01M12.7,25.7h.01M13.9,43.3h.01M17.0,41.5h.01M39.3,44.1h.01M11.5,46.8h.01M22.4,66.5h.01M1.9,40.4h.01M31.8,50.8h.01M24.2,30.9h.01M24.0,39.2h.01M15.6,40.0h.01M28.8,50.6h.01M16.2,54.2h.01M21.7,33.4h.01M4.3,50.2h.01M21.0,58.9h.01M14.7,49.7h.01M13.4,48.8h.01M26.2,36.7h.01M15.0,45.6h.01M14.0,71.2h.01M-2.4,50.2h.01M21.6,24.7h.01M23.2,38.6h.01M9.6,49.3h.01M23.0,51.4h.01M26.3,36.1h.01M16.0,42.8h.01M28.3,52.6h.01M23.3,59.9h.01M27.3,52.7h.01M13.6,46.4h.01M16.4,26.2h.01M25.6,53.9h.01M27.5,60.5h.01M29.3,42.3h.01M22.6,38.2h.01M12.8,39.8h.01M9.4,42.3h.01M36.1,62.8h.01" stroke="#1a28e0" stroke-width="2.0" stroke-linecap="round" stroke-opacity="0.72"/>
<circle cx="59.6" cy="7.3" r="1.5" fill="#2a9a3a" fill-opacity="0.55" stroke="#50e060" stroke-width="0.8"/>
<circle cx="71.0" cy="28.9" r="1.6" fill="#2a9a3a" fill-opacity="0.55" stroke="#50e060" stroke-width="0.8"/>
<circle cx="37.1" cy="63.7" r="1.7" fill="#2a9a3a" fill-opacity="0.55" stroke="#50e060" stroke-width="0.8"/>
<circle cx="45.2" cy="72.7" r="1.8" fill="#2a9a3a" fill-opacity="0.55" stroke="#50e060" stroke-width="0.8"/>
<circle cx="47.5" cy="75.5" r="1.4" fill="#2a9a3a" fill-opacity="0.55" stroke="#50e060" stroke-width="0.8"/>
<circle cx="82.1" cy="78.8" r="1.5" fill="#2a9a3a" fill-opacity="0.55" stroke="#50e060" stroke-width="0.8"/>
<circle cx="5.8" cy="72.4" r="1.3" fill="#2a9a3a" fill-opacity="0.55" stroke="#50e060" stroke-width="0.8"/>
<circle cx="71.5" cy="12.9" r="1.3" fill="#2a9a3a" fill-opacity="0.55" stroke="#50e060" stroke-width="0.8"/>
<circle cx="86.4" cy="24.3" r="1.3" fill="#2a9a3a" fill-opacity="0.55" stroke="#50e060" stroke-width="0.8"/>
<circle cx="55.8" cy="85.6" r="1.3" fill="#2a9a3a" fill-opacity="0.55" stroke="#50e060" stroke-width="0.8"/>
</g>
</g>
<g transform="translate(414.10,557.90)" clip-path="url(#clipT)">
<rect x="0.00" y="0.00" width="88.50" height="88.40" fill="#1a0c42" />
<g filter="url(#blur5)">
<ellipse cx="80" cy="4" rx="13" ry="11.0" fill="#8a1a96"/>
<ellipse cx="52" cy="66" rx="15" ry="12.8" fill="#4e2266"/>
<ellipse cx="58" cy="74" rx="9" ry="7.6" fill="#6a3a7a"/>
<ellipse cx="76" cy="90" rx="10" ry="8.5" fill="#7a1a8a"/>
<ellipse cx="28" cy="88" rx="7" ry="6.0" fill="#4a1060"/>
<ellipse cx="54.1" cy="49.4" rx="3.7" ry="3.9" fill="none" stroke="#30125a" stroke-width="1.3"/>
<ellipse cx="79.0" cy="77.8" rx="3.9" ry="3.5" fill="none" stroke="#30125a" stroke-width="1.3"/>
<ellipse cx="41.6" cy="68.1" rx="3.8" ry="4.2" fill="none" stroke="#30125a" stroke-width="1.3"/>
<ellipse cx="49.2" cy="35.9" rx="3.5" ry="3.9" fill="none" stroke="#30125a" stroke-width="1.3"/>
<ellipse cx="4.9" cy="63.1" rx="4.0" ry="3.5" fill="none" stroke="#30125a" stroke-width="1.3"/>
<ellipse cx="69.8" cy="66.3" rx="4.0" ry="3.2" fill="none" stroke="#30125a" stroke-width="1.3"/>
<ellipse cx="85.4" cy="69.9" rx="3.1" ry="2.8" fill="none" stroke="#30125a" stroke-width="1.3"/>
<ellipse cx="6.2" cy="80.0" rx="3.0" ry="2.8" fill="none" stroke="#30125a" stroke-width="1.3"/>
<ellipse cx="72.2" cy="58.9" rx="3.7" ry="3.5" fill="none" stroke="#30125a" stroke-width="1.3"/>
<ellipse cx="61.4" cy="7.1" rx="4.0" ry="4.1" fill="none" stroke="#30125a" stroke-width="1.3"/>
<ellipse cx="7.1" cy="39.6" rx="4.0" ry="3.6" fill="none" stroke="#30125a" stroke-width="1.3"/>
<ellipse cx="80.7" cy="62.2" rx="3.7" ry="3.0" fill="none" stroke="#30125a" stroke-width="1.3"/>
<ellipse cx="83.1" cy="25.3" rx="3.0" ry="2.9" fill="none" stroke="#30125a" stroke-width="1.3"/>
<ellipse cx="36.3" cy="24.9" rx="3.7" ry="3.5" fill="none" stroke="#30125a" stroke-width="1.3"/>
<ellipse cx="50.4" cy="75.7" rx="3.1" ry="3.2" fill="none" stroke="#30125a" stroke-width="1.3"/>
<ellipse cx="49.4" cy="62.5" rx="3.9" ry="4.3" fill="none" stroke="#30125a" stroke-width="1.3"/>
<ellipse cx="80.9" cy="40.2" rx="3.9" ry="3.7" fill="none" stroke="#30125a" stroke-width="1.3"/>
<ellipse cx="41.0" cy="50.5" rx="3.0" ry="3.4" fill="none" stroke="#30125a" stroke-width="1.3"/>
<ellipse cx="42.6" cy="76.4" rx="3.8" ry="3.8" fill="none" stroke="#30125a" stroke-width="1.3"/>
<ellipse cx="48.5" cy="22.8" rx="2.9" ry="2.5" fill="none" stroke="#30125a" stroke-width="1.3"/>
<ellipse cx="41.2" cy="8.5" rx="4.1" ry="3.7" fill="none" stroke="#30125a" stroke-width="1.3"/>
<ellipse cx="44.4" cy="42.6" rx="3.8" ry="3.8" fill="none" stroke="#30125a" stroke-width="1.3"/>
<ellipse cx="72.8" cy="28.4" rx="4.1" ry="3.4" fill="none" stroke="#30125a" stroke-width="1.3"/>
<ellipse cx="77.2" cy="11.5" rx="3.4" ry="3.1" fill="none" stroke="#30125a" stroke-width="1.3"/>
<ellipse cx="33.1" cy="73.8" rx="4.1" ry="3.8" fill="none" stroke="#30125a" stroke-width="1.3"/>
<ellipse cx="28.5" cy="38.1" rx="3.9" ry="3.7" fill="none" stroke="#30125a" stroke-width="1.3"/>
<ellipse cx="62.8" cy="58.0" rx="3.3" ry="3.3" fill="none" stroke="#30125a" stroke-width="1.3"/>
<ellipse cx="6.6" cy="13.9" rx="3.0" ry="3.0" fill="none" stroke="#30125a" stroke-width="1.3"/>
<ellipse cx="17.1" cy="48.0" rx="3.0" ry="3.3" fill="none" stroke="#30125a" stroke-width="1.3"/>
<ellipse cx="38.5" cy="83.9" rx="3.3" ry="2.7" fill="none" stroke="#30125a" stroke-width="1.3"/>
<ellipse cx="19.7" cy="76.3" rx="3.7" ry="4.1" fill="none" stroke="#30125a" stroke-width="1.3"/>
<ellipse cx="77.4" cy="52.2" rx="4.0" ry="3.8" fill="none" stroke="#30125a" stroke-width="1.3"/>
<ellipse cx="29.8" cy="58.9" rx="3.5" ry="3.8" fill="none" stroke="#30125a" stroke-width="1.3"/>
<ellipse cx="65.4" cy="41.8" rx="3.3" ry="3.0" fill="none" stroke="#30125a" stroke-width="1.3"/>
<ellipse cx="12.2" cy="58.5" rx="4.0" ry="3.7" fill="none" stroke="#30125a" stroke-width="1.3"/>
<ellipse cx="62.3" cy="24.1" rx="3.8" ry="3.2" fill="none" stroke="#30125a" stroke-width="1.3"/>
<ellipse cx="54.1" cy="84.6" rx="3.8" ry="3.5" fill="none" stroke="#30125a" stroke-width="1.3"/>
<ellipse cx="54.1" cy="14.1" rx="3.9" ry="3.9" fill="none" stroke="#30125a" stroke-width="1.3"/>
<ellipse cx="20.7" cy="16.5" rx="3.5" ry="3.5" fill="none" stroke="#30125a" stroke-width="1.3"/>
<ellipse cx="63.1" cy="75.8" rx="3.8" ry="3.5" fill="none" stroke="#30125a" stroke-width="1.3"/>
<path d="M1.0,-1.0h.01M-1.4,-1.4h.01M49.7,42.8h.01M50.7,40.8h.01M49.2,50.4h.01M49.0,47.4h.01M16.7,2.7h.01M16.6,0.5h.01M52.4,5.8h.01M49.2,4.6h.01M87.9,1.4h.01M89.1,0.4h.01M25.7,-0.1h.01M26.2,0.3h.01M29.9,49.0h.01M33.4,46.9h.01M27.4,47.4h.01M29.5,49.6h.01M36.3,42.7h.01M35.8,44.5h.01M8.9,68.9h.01M11.9,70.5h.01M21.1,65.0h.01M19.6,63.6h.01M14.8,68.6h.01M13.5,69.4h.01M21.9,57.4h.01M19.7,52.8h.01M26.9,66.2h.01M25.7,67.6h.01M28.0,86.8h.01M27.8,85.8h.01M73.8,2.8h.01M74.1,1.4h.01M51.1,-0.1h.01M51.7,-0.0h.01M35.4,12.6h.01M32.1,15.6h.01M23.6,28.4h.01M26.0,25.2h.01M37.1,35.3h.01M39.7,32.2h.01M36.1,33.7h.01M39.6,33.3h.01M16.4,89.8h.01M13.6,90.6h.01M3.6,87.4h.01M-2.6,89.8h.01M8.8,50.1h.01M7.1,50.9h.01M-0.7,51.1h.01M1.0,52.8h.01M9.8,26.0h.01M11.8,23.3h.01M16.3,37.6h.01M20.8,39.2h.01M19.2,32.5h.01M19.0,30.2h.01M-1.6,24.6h.01M2.1,24.7h.01M45.9,55.6h.01M47.1,55.4h.01M76.2,70.3h.01M75.7,70.9h.01M88.2,81.1h.01M88.0,76.9h.01M74.0,65.5h.01M75.6,64.0h.01M77.5,70.7h.01M75.9,70.2h.01M91.3,59.3h.01M87.7,60.9h.01M46.4,15.6h.01M45.9,15.0h.01M39.2,17.3h.01M44.2,18.7h.01M45.5,28.9h.01M44.7,27.1h.01M-0.1,72.4h.01M-2.7,73.4h.01M-1.6,54.8h.01M1.1,50.4h.01M66.9,61.6h.01M65.7,63.6h.01M53.9,54.4h.01M53.6,57.6h.01M32.2,63.3h.01M33.5,66.0h.01M38.0,59.5h.01M40.2,60.6h.01M43.1,58.4h.01M42.9,59.6h.01M68.4,74.6h.01M74.6,75.3h.01M58.3,63.8h.01M60.2,70.5h.01M58.6,70.4h.01M57.7,65.8h.01M86.4,84.7h.01M88.2,86.9h.01M70.7,89.8h.01M67.7,86.7h.01M75.6,57.5h.01M77.9,54.7h.01M88.8,45.6h.01M87.5,48.6h.01M89.4,52.6h.01M88.9,52.7h.01M66.8,10.5h.01M65.0,16.4h.01M70.2,19.6h.01M70.5,19.1h.01M58.5,16.2h.01M61.8,12.3h.01M54.9,23.5h.01M55.6,19.7h.01M57.1,24.6h.01M54.8,27.1h.01M77.0,20.1h.01M74.3,21.9h.01M78.2,32.4h.01M79.8,27.4h.01M91.3,16.7h.01M86.6,12.3h.01M88.0,35.0h.01M88.2,31.8h.01M58.0,39.3h.01M58.1,38.8h.01M60.3,32.5h.01M58.1,33.0h.01M66.3,33.1h.01M64.5,30.6h.01M75.1,37.8h.01M71.2,36.1h.01M72.0,44.1h.01M76.3,46.4h.01M62.1,47.8h.01M65.5,46.1h.01M67.0,51.7h.01M67.3,50.5h.01M69.7,51.2h.01M69.7,48.8h.01M48.8,71.3h.01M48.3,69.3h.01M58.0,70.3h.01M56.6,69.7h.01M28.4,87.9h.01M28.8,89.2h.01M49.8,70.4h.01M49.3,71.3h.01M39.0,79.3h.01M34.9,80.9h.01M38.3,72.1h.01M42.5,73.2h.01M56.3,76.7h.01M60.4,77.0h.01M46.6,82.5h.01M47.8,83.9h.01M46.2,79.0h.01M47.4,81.2h.01M70.2,89.8h.01M67.8,89.8h.01M46.7,89.4h.01M46.7,88.2h.01M27.2,66.0h.01M24.5,2.6h.01M73.4,49.5h.01M69.0,13.9h.01M78.3,30.8h.01M60.7,52.4h.01M25.6,1.8h.01M17.3,53.4h.01M87.1,29.5h.01M25.9,7.3h.01M41.7,50.4h.01M81.1,24.7h.01M30.5,34.8h.01M86.4,36.9h.01M4.9,26.9h.01M61.5,12.9h.01M19.5,82.5h.01M22.6,79.8h.01M16.0,35.8h.01M62.7,13.5h.01M23.8,28.6h.01M28.0,25.0h.01M68.4,20.5h.01M2.7,0.8h.01M48.3,39.5h.01M17.0,14.3h.01M42.0,11.1h.01M37.5,74.4h.01M73.4,61.6h.01M82.9,10.0h.01M42.5,46.9h.01M49.7,32.1h.01M43.3,30.4h.01M88.4,48.3h.01M16.2,30.9h.01M80.3,73.4h.01M18.9,15.3h.01M61.6,29.5h.01M8.0,31.9h.01M69.8,83.0h.01M75.7,56.8h.01M19.4,10.4h.01M33.8,84.0h.01M71.1,30.8h.01M40.5,71.6h.01M4.0,65.2h.01M16.1,27.3h.01M8.4,11.2h.01M66.3,23.1h.01M36.7,22.2h.01M56.9,25.7h.01M57.1,59.2h.01M68.2,86.1h.01M11.7,8.0h.01M67.7,25.3h.01M63.5,45.4h.01M14.6,72.8h.01M34.8,10.6h.01M82.5,8.6h.01M59.4,7.3h.01M11.9,44.1h.01M61.8,0.8h.01M31.6,56.6h.01M84.5,87.3h.01M38.6,75.4h.01M37.3,18.9h.01M37.1,40.4h.01M17.2,22.7h.01M14.6,15.9h.01M1.6,29.2h.01M14.8,21.2h.01M16.1,66.7h.01M34.0,82.5h.01M7.2,5.0h.01M68.0,51.1h.01M38.5,44.2h.01M59.8,40.7h.01M10.5,75.0h.01M43.9,84.3h.01M81.2,16.2h.01M14.1,14.2h.01M52.0,79.3h.01M70.0,36.3h.01M76.8,75.4h.01M81.7,86.4h.01M5.6,86.7h.01M49.4,14.7h.01M30.8,87.8h.01M60.9,7.0h.01M20.1,52.4h.01M14.3,86.7h.01M28.4,73.9h.01M82.4,61.4h.01M6.3,4.8h.01M67.9,4.8h.01M9.3,53.2h.01M39.1,50.9h.01M52.4,48.9h.01M50.2,75.4h.01M79.5,21.7h.01M68.6,21.5h.01M9.7,5.9h.01M52.1,73.1h.01M44.4,37.5h.01M55.8,54.8h.01M1.0,63.5h.01M39.0,73.2h.01M49.4,40.0h.01M64.1,73.7h.01M80.0,19.4h.01M38.7,30.5h.01M27.9,7.9h.01M8.1,59.7h.01M87.1,70.3h.01M59.3,88.3h.01M49.2,1.3h.01M7.2,17.0h.01M48.9,10.6h.01M85.8,5.2h.01M32.9,4.5h.01M44.7,21.8h.01M55.7,3.1h.01M10.9,8.9h.01M20.2,53.2h.01M32.1,15.0h.01M28.2,32.9h.01M21.2,37.6h.01M53.5,47.0h.01M9.5,85.8h.01M73.0,12.7h.01M45.9,77.0h.01M34.2,4.7h.01M50.9,61.9h.01M6.7,68.3h.01M20.2,4.3h.01M68.5,27.1h.01M56.7,84.9h.01M88.2,71.5h.01M67.1,39.6h.01M33.9,74.2h.01M28.5,81.0h.01M34.8,85.3h.01M24.0,7.8h.01M20.9,28.4h.01M83.0,23.7h.01M57.4,0.1h.01M29.5,51.0h.01M71.5,79.7h.01M4.7,31.7h.01M45.2,52.7h.01M29.6,26.2h.01M81.1,80.1h.01M22.9,75.0h.01M70.7,14.4h.01M62.6,25.5h.01M71.3,47.4h.01M85.4,79.8h.01M11.3,31.9h.01M46.2,31.4h.01M22.7,21.1h.01M38.7,35.9h.01M26.8,75.0h.01M73.1,43.4h.01M28.6,16.0h.01M33.7,82.2h.01M54.6,63.1h.01M82.5,37.2h.01M46.1,25.9h.01M59.0,1.4h.01M67.7,43.5h.01M52.3,42.5h.01M88.2,86.0h.01M37.9,4.5h.01M21.0,28.8h.01M74.6,56.2h.01M19.1,15.0h.01M55.8,61.0h.01M32.9,36.5h.01M72.6,49.4h.01M23.1,41.6h.01M71.8,57.0h.01M73.8,33.1h.01M7.8,45.8h.01M63.1,13.7h.01M37.9,9.9h.01M0.7,71.0h.01M5.8,47.9h.01M51.8,60.7h.01M7.3,71.2h.01M66.1,27.6h.01M51.3,86.5h.01M66.8,30.6h.01M5.2,47.6h.01M39.5,67.9h.01M16.5,79.2h.01M77.5,64.7h.01M29.2,31.7h.01M66.4,7.6h.01M29.7,19.4h.01M34.8,53.9h.01M3.3,53.7h.01M53.7,60.3h.01M22.5,50.0h.01M58.0,71.1h.01M24.1,8.2h.01M82.8,46.5h.01M31.1,47.3h.01M16.2,34.3h.01M47.6,75.8h.01M70.7,25.5h.01M40.0,88.1h.01M7.0,81.8h.01M45.7,36.4h.01M64.6,28.5h.01M42.9,36.0h.01M52.4,10.9h.01M81.1,64.3h.01M82.5,86.7h.01M3.2,20.5h.01M58.2,74.5h.01M25.3,79.2h.01M71.3,54.7h.01M17.6,63.7h.01M74.6,38.0h.01M44.8,48.6h.01M69.6,20.5h.01M18.1,6.4h.01M54.9,34.0h.01M6.9,61.2h.01M45.0,38.6h.01M43.5,88.2h.01M50.9,47.3h.01M77.4,72.0h.01M86.0,86.4h.01M52.5,1.6h.01M4.0,52.4h.01M11.3,50.0h.01M46.5,75.4h.01M77.2,4.6h.01M41.9,49.9h.01M55.3,84.1h.01M15.2,62.4h.01M35.0,17.1h.01M49.5,76.8h.01M52.4,27.4h.01M76.1,55.7h.01M45.3,72.8h.01M87.0,3.0h.01M20.8,1.8h.01M61.8,88.2h.01M7.0,27.9h.01M17.2,2.6h.01M50.4,1.8h.01M23.0,0.9h.01M1.9,81.7h.01M66.1,79.9h.01M67.6,3.5h.01M55.2,33.4h.01M67.4,2.6h.01M70.2,80.4h.01M44.7,60.3h.01M11.1,52.9h.01M27.0,54.5h.01M2.9,5.8h.01M44.1,12.5h.01M44.7,84.6h.01M73.1,75.6h.01M33.7,64.3h.01M56.0,27.8h.01M80.5,75.1h.01M31.4,27.5h.01M27.7,49.9h.01M70.3,79.0h.01M86.6,18.1h.01M39.1,63.9h.01M2.1,66.4h.01M26.4,83.6h.01M55.5,4.9h.01M44.8,0.3h.01M56.8,2.4h.01M29.8,16.8h.01M75.5,75.1h.01M68.4,13.2h.01M48.5,52.1h.01M15.5,10.6h.01M16.5,86.2h.01M57.9,38.1h.01M62.7,68.6h.01M80.0,19.9h.01M47.3,36.6h.01M9.1,11.2h.01M58.8,52.7h.01M86.5,8.4h.01M77.2,40.2h.01M36.3,6.1h.01M28.1,48.4h.01M2.8,4.0h.01M52.3,0.7h.01M82.4,13.4h.01M77.2,24.7h.01M35.8,20.2h.01M37.6,27.4h.01M42.6,37.9h.01M24.7,35.8h.01M25.9,16.3h.01M24.8,41.3h.01M33.6,31.8h.01M51.1,10.7h.01M53.0,31.8h.01M57.9,15.5h.01M34.1,29.3h.01M21.7,33.7h.01M35.6,50.3h.01M21.8,29.5h.01M46.6,30.5h.01M24.2,50.0h.01M28.1,27.0h.01M27.6,22.0h.01M35.5,24.5h.01M33.2,38.7h.01M41.8,28.1h.01M53.1,31.7h.01M33.2,29.8h.01M42.8,30.0h.01M29.4,39.6h.01M35.1,19.3h.01M15.9,28.5h.01M27.0,28.9h.01M38.7,53.0h.01M52.6,40.0h.01M50.0,29.3h.01M28.9,38.7h.01M49.9,38.3h.01M35.0,18.2h.01M43.4,28.2h.01M21.5,30.3h.01M51.4,13.2h.01M25.2,37.7h.01M44.7,21.2h.01M41.3,20.4h.01M56.3,37.5h.01M30.8,26.0h.01M43.8,43.2h.01M27.9,23.3h.01M32.5,29.1h.01M27.7,47.1h.01M36.4,33.8h.01M44.2,52.1h.01M41.5,35.4h.01M32.4,12.9h.01M16.1,30.1h.01M32.4,24.6h.01M24.1,40.0h.01M29.7,35.3h.01M32.7,34.4h.01M44.2,25.8h.01M38.1,21.5h.01M26.1,33.9h.01M13.4,23.4h.01M31.3,44.6h.01M24.4,48.3h.01M31.1,33.8h.01M31.7,19.8h.01M42.2,27.4h.01M39.0,35.2h.01M31.0,42.4h.01M35.7,31.3h.01M45.5,25.8h.01M25.3,40.5h.01M33.5,41.5h.01M37.7,26.8h.01M23.3,31.2h.01M30.2,21.0h.01M51.9,33.9h.01M27.7,25.4h.01M52.8,34.6h.01M31.4,37.7h.01M46.5,27.9h.01M36.1,27.7h.01M54.8,19.6h.01M25.6,38.4h.01M41.9,20.4h.01M36.0,32.5h.01M27.9,19.5h.01M34.2,21.5h.01M35.0,29.8h.01M55.4,31.3h.01M31.8,31.2h.01M18.3,37.8h.01M49.4,11.6h.01M12.5,60.2h.01M14.1,59.3h.01M31.4,60.5h.01M9.3,65.4h.01M35.5,49.5h.01M7.6,77.7h.01M37.8,82.4h.01M23.1,73.6h.01M8.7,77.1h.01M23.6,48.3h.01M19.3,66.6h.01M30.5,69.6h.01M12.4,44.3h.01M19.8,68.8h.01M13.7,70.9h.01M9.0,52.7h.01M26.0,46.9h.01M24.8,66.1h.01M27.4,61.2h.01M23.6,41.1h.01M41.0,66.5h.01M26.0,60.4h.01M26.6,51.4h.01M34.8,64.9h.01M33.0,56.7h.01M27.0,77.1h.01M17.8,54.1h.01M24.0,67.9h.01M24.3,68.1h.01M9.5,46.1h.01M12.3,63.0h.01M19.1,78.9h.01M9.7,64.4h.01M36.5,91.7h.01M12.6,55.0h.01M2.5,45.9h.01M19.1,64.7h.01M21.7,60.0h.01M28.6,61.3h.01M7.3,54.3h.01M25.8,60.1h.01M-3.2,46.6h.01M17.7,51.9h.01M21.6,40.9h.01M30.4,50.9h.01M24.4,75.5h.01M16.7,49.3h.01M27.8,75.3h.01M18.8,42.1h.01M36.4,76.4h.01M24.4,73.8h.01M19.9,37.5h.01M33.7,51.0h.01M25.4,76.1h.01M12.2,68.8h.01M31.9,65.4h.01M22.6,54.3h.01M19.8,53.9h.01M6.1,74.9h.01M21.5,47.9h.01" stroke="#1a28e0" stroke-width="2.0" stroke-linecap="round" stroke-opacity="0.72"/>
<circle cx="40.8" cy="14.2" r="1.6" fill="#2a9a3a" fill-opacity="0.55" stroke="#50e060" stroke-width="0.8"/>
<circle cx="32.6" cy="31.8" r="1.6" fill="#2a9a3a" fill-opacity="0.55" stroke="#50e060" stroke-width="0.8"/>
<circle cx="44.9" cy="35.9" r="1.5" fill="#2a9a3a" fill-opacity="0.55" stroke="#50e060" stroke-width="0.8"/>
<circle cx="14.2" cy="48.1" r="1.7" fill="#2a9a3a" fill-opacity="0.55" stroke="#50e060" stroke-width="0.8"/>
<circle cx="16.2" cy="51.1" r="1.5" fill="#2a9a3a" fill-opacity="0.55" stroke="#50e060" stroke-width="0.8"/>
<circle cx="63.3" cy="13.4" r="1.4" fill="#2a9a3a" fill-opacity="0.55" stroke="#50e060" stroke-width="0.8"/>
<circle cx="40" cy="76" r="1.2" fill="#2a9a3a" fill-opacity="0.55" stroke="#50e060" stroke-width="0.8"/>
</g>
</g>
<g transform="translate(504.60,557.90)" clip-path="url(#clipT)">
<rect x="0.00" y="0.00" width="88.50" height="88.40" fill="#10041a" />
<g filter="url(#blur5)">
<ellipse cx="64.4" cy="3.9" rx="3.5" ry="3.2" fill="none" stroke="#46104f" stroke-width="1.3"/>
<ellipse cx="4.9" cy="53.2" rx="3.2" ry="3.6" fill="none" stroke="#46104f" stroke-width="1.3"/>
<ellipse cx="51.0" cy="19.1" rx="3.1" ry="2.5" fill="none" stroke="#46104f" stroke-width="1.3"/>
<ellipse cx="54.1" cy="72.0" rx="4.0" ry="3.4" fill="none" stroke="#46104f" stroke-width="1.3"/>
<ellipse cx="61.0" cy="12.5" rx="4.0" ry="4.2" fill="none" stroke="#46104f" stroke-width="1.3"/>
<ellipse cx="71.5" cy="27.3" rx="2.9" ry="2.4" fill="none" stroke="#46104f" stroke-width="1.3"/>
<ellipse cx="48.9" cy="27.4" rx="3.4" ry="3.6" fill="none" stroke="#46104f" stroke-width="1.3"/>
<ellipse cx="54.0" cy="36.3" rx="3.0" ry="2.6" fill="none" stroke="#46104f" stroke-width="1.3"/>
<ellipse cx="51.0" cy="50.9" rx="3.9" ry="3.5" fill="none" stroke="#46104f" stroke-width="1.3"/>
<ellipse cx="57.7" cy="63.2" rx="3.9" ry="3.3" fill="none" stroke="#46104f" stroke-width="1.3"/>
<ellipse cx="9.8" cy="28.1" rx="4.1" ry="3.3" fill="none" stroke="#46104f" stroke-width="1.3"/>
<ellipse cx="28.8" cy="8.9" rx="3.0" ry="2.5" fill="none" stroke="#46104f" stroke-width="1.3"/>
<ellipse cx="19.0" cy="44.3" rx="3.7" ry="4.2" fill="none" stroke="#46104f" stroke-width="1.3"/>
<ellipse cx="63.3" cy="46.1" rx="2.9" ry="2.7" fill="none" stroke="#46104f" stroke-width="1.3"/>
<ellipse cx="46.4" cy="9.3" rx="4.0" ry="3.3" fill="none" stroke="#46104f" stroke-width="1.3"/>
<ellipse cx="78.8" cy="44.8" rx="3.3" ry="3.1" fill="none" stroke="#46104f" stroke-width="1.3"/>
<ellipse cx="39.7" cy="65.5" rx="3.4" ry="3.8" fill="none" stroke="#46104f" stroke-width="1.3"/>
<ellipse cx="37.5" cy="22.8" rx="4.0" ry="4.5" fill="none" stroke="#46104f" stroke-width="1.3"/>
<ellipse cx="82.0" cy="10.1" rx="2.9" ry="2.7" fill="none" stroke="#46104f" stroke-width="1.3"/>
<ellipse cx="63.4" cy="55.6" rx="3.8" ry="4.0" fill="none" stroke="#46104f" stroke-width="1.3"/>
<ellipse cx="25.0" cy="33.3" rx="4.1" ry="4.1" fill="none" stroke="#46104f" stroke-width="1.3"/>
<ellipse cx="80.5" cy="79.7" rx="3.0" ry="2.8" fill="none" stroke="#46104f" stroke-width="1.3"/>
<ellipse cx="62.4" cy="82.6" rx="3.0" ry="2.5" fill="none" stroke="#46104f" stroke-width="1.3"/>
<ellipse cx="83.0" cy="25.1" rx="4.1" ry="4.0" fill="none" stroke="#46104f" stroke-width="1.3"/>
<ellipse cx="44.1" cy="80.6" rx="3.2" ry="3.3" fill="none" stroke="#46104f" stroke-width="1.3"/>
<ellipse cx="30.8" cy="46.0" rx="3.4" ry="3.9" fill="none" stroke="#46104f" stroke-width="1.3"/>
<ellipse cx="17.1" cy="60.5" rx="3.0" ry="2.8" fill="none" stroke="#46104f" stroke-width="1.3"/>
<ellipse cx="65.8" cy="36.8" rx="3.1" ry="3.2" fill="none" stroke="#46104f" stroke-width="1.3"/>
<ellipse cx="10.1" cy="63.1" rx="3.0" ry="3.2" fill="none" stroke="#46104f" stroke-width="1.3"/>
<ellipse cx="70.2" cy="71.9" rx="3.6" ry="3.5" fill="none" stroke="#46104f" stroke-width="1.3"/>
<ellipse cx="71.4" cy="62.2" rx="3.4" ry="2.8" fill="none" stroke="#46104f" stroke-width="1.3"/>
<ellipse cx="11.7" cy="15.9" rx="3.5" ry="3.3" fill="none" stroke="#46104f" stroke-width="1.3"/>
<ellipse cx="10.5" cy="5.5" rx="4.0" ry="3.9" fill="none" stroke="#46104f" stroke-width="1.3"/>
<ellipse cx="73.9" cy="52.4" rx="3.1" ry="3.5" fill="none" stroke="#46104f" stroke-width="1.3"/>
<ellipse cx="26.2" cy="80.7" rx="3.1" ry="3.3" fill="none" stroke="#46104f" stroke-width="1.3"/>
<ellipse cx="70.3" cy="16.0" rx="3.6" ry="4.0" fill="none" stroke="#46104f" stroke-width="1.3"/>
<ellipse cx="25.6" cy="56.9" rx="3.7" ry="4.1" fill="none" stroke="#46104f" stroke-width="1.3"/>
<ellipse cx="23.7" cy="22.1" rx="3.4" ry="3.2" fill="none" stroke="#46104f" stroke-width="1.3"/>
<ellipse cx="76.9" cy="19.9" rx="3.6" ry="4.1" fill="none" stroke="#46104f" stroke-width="1.3"/>
<ellipse cx="14.0" cy="36.5" rx="2.8" ry="2.9" fill="none" stroke="#46104f" stroke-width="1.3"/>
<ellipse cx="13.1" cy="51.6" rx="4.2" ry="4.2" fill="none" stroke="#46104f" stroke-width="1.3"/>
<ellipse cx="6.4" cy="41.9" rx="4.0" ry="3.5" fill="none" stroke="#46104f" stroke-width="1.3"/>
<ellipse cx="82.8" cy="61.1" rx="3.7" ry="4.2" fill="none" stroke="#46104f" stroke-width="1.3"/>
<ellipse cx="61.1" cy="24.6" rx="3.5" ry="3.8" fill="none" stroke="#46104f" stroke-width="1.3"/>
<ellipse cx="71.2" cy="5.7" rx="3.6" ry="3.1" fill="none" stroke="#46104f" stroke-width="1.3"/>
<ellipse cx="7.8" cy="78.1" rx="3.1" ry="2.9" fill="none" stroke="#46104f" stroke-width="1.3"/>
<ellipse cx="20.9" cy="70.1" rx="3.2" ry="2.8" fill="none" stroke="#46104f" stroke-width="1.3"/>
<ellipse cx="3.2" cy="63.6" rx="3.5" ry="2.8" fill="none" stroke="#46104f" stroke-width="1.3"/>
<ellipse cx="79.5" cy="35.6" rx="4.2" ry="4.7" fill="none" stroke="#46104f" stroke-width="1.3"/>
<ellipse cx="57.0" cy="4.8" rx="4.1" ry="4.4" fill="none" stroke="#46104f" stroke-width="1.3"/>
<ellipse cx="40.4" cy="37.9" rx="3.2" ry="2.9" fill="none" stroke="#46104f" stroke-width="1.3"/>
<ellipse cx="39.0" cy="53.1" rx="3.2" ry="2.8" fill="none" stroke="#46104f" stroke-width="1.3"/>
<path d="M0.1,-0.5h.01M1.4,0.7h.01M74.3,80.5h.01M75.6,81.6h.01M89.1,90.1h.01M87.6,89.3h.01M8.3,35.4h.01M7.8,32.4h.01M82.9,69.9h.01M75.2,73.4h.01M89.6,72.0h.01M88.3,70.6h.01M73.7,92.7h.01M73.8,90.2h.01M0.3,86.2h.01M-0.3,88.2h.01M13.8,43.6h.01M12.7,40.2h.01M9.7,43.2h.01M8.4,42.7h.01M21.3,53.4h.01M16.9,51.3h.01M20.8,51.9h.01M20.7,52.3h.01M17.4,29.4h.01M15.7,28.6h.01M18.1,25.4h.01M16.9,27.7h.01M23.9,38.7h.01M21.1,39.8h.01M15.7,26.3h.01M14.4,20.7h.01M0.4,19.5h.01M-1.7,20.4h.01M-4.2,12.7h.01M-1.2,12.3h.01M53.1,23.6h.01M56.4,22.5h.01M90.6,-0.6h.01M92.7,-2.6h.01M60.0,18.0h.01M60.6,17.3h.01M13.3,88.2h.01M16.0,87.7h.01M8.1,47.3h.01M7.0,45.1h.01M1.3,73.7h.01M-1.5,74.7h.01M-0.2,33.7h.01M-0.9,34.7h.01M80.1,59.5h.01M77.4,56.1h.01M78.8,66.5h.01M76.5,68.0h.01M70.8,56.1h.01M72.4,58.1h.01M66.3,51.0h.01M69.8,51.1h.01M58.2,54.5h.01M63.9,53.8h.01M59.3,74.4h.01M61.0,71.9h.01M51.7,78.8h.01M52.3,81.2h.01M7.1,70.5h.01M6.1,68.8h.01M9.8,59.3h.01M6.3,60.3h.01M14.0,56.3h.01M10.4,57.1h.01M8.7,56.8h.01M12.1,57.3h.01M19.1,9.8h.01M17.4,8.8h.01M24.9,13.6h.01M20.1,16.7h.01M23.2,0.1h.01M19.3,-1.3h.01M28.2,42.8h.01M27.0,43.0h.01M33.1,54.0h.01M32.0,53.4h.01M22.7,49.3h.01M21.0,45.7h.01M30.7,25.2h.01M32.3,27.8h.01M47.3,25.0h.01M46.2,20.8h.01M28.8,19.3h.01M31.8,13.0h.01M34.3,88.4h.01M36.2,93.2h.01M54.1,87.2h.01M56.7,89.8h.01M-0.4,48.2h.01M2.2,48.5h.01M0.3,56.6h.01M-1.5,57.3h.01M58.0,26.8h.01M53.1,31.4h.01M55.2,44.1h.01M55.7,42.6h.01M67.1,68.2h.01M64.8,63.1h.01M62.8,74.0h.01M65.8,69.3h.01M62.9,65.4h.01M66.9,63.8h.01M54.7,56.5h.01M52.1,55.0h.01M45.2,71.6h.01M44.1,69.9h.01M34.4,57.7h.01M32.3,58.4h.01M50.3,63.8h.01M47.7,62.9h.01M32.3,76.5h.01M37.5,71.9h.01M43.8,59.5h.01M49.0,59.3h.01M44.1,63.7h.01M49.4,57.1h.01M14.8,67.1h.01M15.2,67.3h.01M11.1,71.1h.01M12.1,69.8h.01M17.0,78.2h.01M18.0,77.6h.01M22.6,67.7h.01M25.2,62.9h.01M31.8,66.7h.01M27.6,67.1h.01M32.1,70.0h.01M30.8,71.1h.01M54.7,11.0h.01M51.4,15.0h.01M45.1,16.2h.01M43.1,14.8h.01M37.1,13.9h.01M36.6,14.1h.01M42.5,29.7h.01M43.9,27.1h.01M47.1,31.4h.01M46.3,32.1h.01M33.3,36.9h.01M28.7,36.3h.01M34.5,31.1h.01M33.7,31.4h.01M40.8,45.6h.01M41.5,46.3h.01M42.8,45.7h.01M44.9,44.8h.01M45.9,41.9h.01M47.1,41.5h.01M89.3,14.3h.01M87.3,19.1h.01M83.4,16.2h.01M83.3,17.9h.01M76.9,28.1h.01M79.7,23.8h.01M76.5,27.5h.01M76.9,26.7h.01M87.5,32.6h.01M89.3,34.6h.01M60.9,40.9h.01M58.8,40.3h.01M72.4,31.1h.01M74.7,36.1h.01M65.1,30.4h.01M65.4,31.0h.01M61.6,33.8h.01M60.1,28.8h.01M36.2,1.8h.01M40.3,0.3h.01M60.3,8.1h.01M61.9,6.7h.01M52.6,11.7h.01M57.4,11.3h.01M60.1,1.4h.01M63.0,2.2h.01M49.7,3.0h.01M53.1,0.6h.01M62.3,18.8h.01M63.2,17.6h.01M68.2,22.7h.01M66.0,22.6h.01M77.4,23.7h.01M71.8,20.3h.01M75.6,14.7h.01M75.5,14.0h.01M82.8,53.0h.01M82.6,50.4h.01M73.3,41.0h.01M74.7,38.5h.01M69.9,45.1h.01M71.0,45.4h.01M67.7,44.0h.01M73.7,43.9h.01M89.3,40.2h.01M90.4,43.1h.01M89.2,53.2h.01M86.4,50.1h.01M66.2,7.4h.01M63.2,8.8h.01M65.6,13.1h.01M64.1,11.4h.01M74.8,12.5h.01M76.6,10.9h.01M79.8,0.8h.01M79.7,-0.2h.01M72.4,1.3h.01M69.1,-0.8h.01M87.2,73.4h.01M34.1,29.2h.01M72.3,36.1h.01M55.6,62.0h.01M30.7,17.1h.01M48.1,11.6h.01M1.4,16.4h.01M59.7,73.1h.01M34.4,12.2h.01M12.9,76.0h.01M82.4,68.3h.01M60.6,29.4h.01M11.4,34.3h.01M80.1,73.3h.01M70.6,32.8h.01M20.4,23.6h.01M0.1,83.9h.01M65.6,44.8h.01M60.1,54.8h.01M29.6,34.9h.01M0.7,81.3h.01M21.5,4.0h.01M67.3,87.8h.01M65.6,81.8h.01M15.3,14.1h.01M57.5,51.6h.01M12.0,59.9h.01M0.9,63.7h.01M55.0,74.5h.01M9.3,8.4h.01M85.4,57.7h.01M39.0,7.7h.01M31.0,57.7h.01M55.9,73.7h.01M32.0,0.2h.01M79.8,79.7h.01M84.2,52.8h.01M84.5,51.7h.01M38.6,60.0h.01M9.7,85.0h.01M10.9,24.7h.01M68.4,71.0h.01M38.0,20.6h.01M45.2,79.8h.01M35.1,59.2h.01M20.4,1.7h.01M27.2,83.4h.01M57.1,30.1h.01M78.2,82.7h.01M69.3,9.8h.01M34.8,66.5h.01M51.1,78.6h.01M55.8,13.2h.01M76.3,67.0h.01M60.8,4.8h.01M55.3,44.3h.01M1.8,0.1h.01M64.6,28.1h.01M7.0,77.1h.01M2.6,24.8h.01M7.0,33.6h.01M1.6,37.9h.01M1.6,33.9h.01M57.4,72.5h.01M37.4,66.4h.01M40.3,48.3h.01M10.4,59.5h.01M27.8,52.1h.01M26.9,51.7h.01M12.4,65.6h.01M69.2,67.5h.01M23.6,81.6h.01M73.3,38.9h.01M3.4,49.4h.01M21.9,15.8h.01M2.9,1.7h.01M18.7,24.0h.01M81.1,41.5h.01M87.0,0.8h.01M27.4,22.8h.01M54.1,84.0h.01M87.2,28.1h.01M83.6,17.2h.01M38.0,87.7h.01M12.7,10.8h.01M26.9,87.9h.01M72.3,86.6h.01M27.8,67.9h.01M60.4,70.8h.01M31.3,44.7h.01M6.8,82.7h.01M78.7,23.1h.01M25.7,71.8h.01M14.0,25.2h.01M15.8,58.0h.01M47.4,36.8h.01M65.9,82.1h.01M86.0,82.2h.01M65.2,31.6h.01M36.9,40.9h.01M82.3,39.7h.01M85.6,79.8h.01M37.8,65.2h.01M9.6,35.5h.01M27.1,60.6h.01M44.5,80.4h.01M74.0,44.6h.01M24.3,53.7h.01M68.1,79.4h.01M75.4,87.3h.01M41.8,67.1h.01M45.2,22.3h.01M39.8,56.4h.01M36.6,44.8h.01M44.7,51.1h.01M41.7,61.9h.01M35.1,56.9h.01M43.1,47.1h.01M39.4,79.6h.01M42.4,22.3h.01M38.6,51.7h.01M39.4,-12.9h.01M39.2,70.1h.01M36.8,46.2h.01M33.4,79.3h.01M37.5,66.8h.01M42.9,32.9h.01M43.1,13.8h.01M38.7,16.5h.01M39.7,46.3h.01M43.6,30.0h.01M35.8,48.5h.01M34.9,41.5h.01M45.2,48.8h.01M42.1,36.8h.01M39.7,26.1h.01M43.5,44.8h.01M42.2,22.7h.01M40.4,52.1h.01M37.9,20.1h.01M37.8,56.3h.01M43.1,73.5h.01M39.3,25.6h.01M37.9,16.8h.01M42.6,45.4h.01M42.8,23.2h.01M36.6,26.6h.01M29.7,31.6h.01M40.8,42.8h.01M40.3,59.1h.01M35.1,49.7h.01M43.0,42.6h.01M37.3,36.2h.01M43.8,-12.2h.01M37.6,56.0h.01M42.1,32.1h.01M50.4,-2.7h.01M41.7,36.6h.01M37.1,54.9h.01M43.1,37.3h.01M44.8,5.7h.01M43.2,6.1h.01M47.7,51.2h.01M35.6,66.6h.01M44.8,21.4h.01M45.0,47.8h.01M31.8,13.9h.01M43.1,35.7h.01M37.9,96.2h.01M44.6,20.4h.01M42.1,33.3h.01M47.3,41.5h.01M41.5,63.9h.01M45.5,18.2h.01M41.9,60.0h.01M44.2,60.5h.01M34.0,12.2h.01M37.8,15.4h.01M45.5,7.4h.01M34.4,52.5h.01M34.1,49.6h.01M38.5,43.7h.01M42.3,57.4h.01M37.4,38.5h.01M39.9,36.7h.01M47.4,44.6h.01M39.5,18.4h.01M52.9,40.8h.01M43.8,29.8h.01M46.4,9.8h.01M39.4,79.9h.01M44.6,31.0h.01M43.1,64.6h.01M47.6,49.3h.01M43.7,39.1h.01M40.1,18.9h.01M39.4,35.5h.01M45.1,7.3h.01M38.7,22.7h.01M34.5,24.4h.01M39.8,15.3h.01M38.5,54.8h.01M45.4,7.7h.01M42.0,51.4h.01M31.5,42.8h.01M41.7,31.1h.01M46.2,49.7h.01M39.0,38.4h.01M36.6,33.9h.01M42.2,5.6h.01M35.4,2.4h.01M47.2,27.7h.01M48.9,83.1h.01M43.5,12.1h.01M40.2,26.7h.01M43.7,69.7h.01M43.4,39.7h.01M41.2,2.0h.01M39.7,27.7h.01M37.6,74.9h.01M41.3,31.0h.01M49.3,78.0h.01M52.2,84.4h.01M33.1,36.5h.01M41.7,16.5h.01M48.5,38.3h.01M39.2,24.4h.01M37.3,43.9h.01M43.3,20.2h.01M40.1,59.1h.01M74.9,70.2h.01M86.8,71.2h.01M69.7,77.1h.01M77.0,86.6h.01M72.5,82.4h.01M76.0,71.2h.01M83.3,76.8h.01M78.3,82.7h.01M71.8,80.0h.01M73.4,66.1h.01M90.9,80.3h.01M75.8,69.1h.01M75.7,75.2h.01M93.8,74.6h.01M73.3,80.6h.01M82.4,72.6h.01M71.1,71.9h.01M80.7,71.3h.01M75.6,75.3h.01M77.4,78.6h.01M80.8,80.7h.01M82.2,86.3h.01M80.7,78.8h.01M79.7,82.2h.01M77.4,73.3h.01" stroke="#1a28e0" stroke-width="2.0" stroke-linecap="round" stroke-opacity="0.72"/>
<circle cx="42.3" cy="15.4" r="1.8" fill="#2a9a3a" fill-opacity="0.55" stroke="#50e060" stroke-width="0.8"/>
<circle cx="40.3" cy="29.7" r="1.8" fill="#2a9a3a" fill-opacity="0.55" stroke="#50e060" stroke-width="0.8"/>
<circle cx="39.4" cy="44.1" r="1.8" fill="#2a9a3a" fill-opacity="0.55" stroke="#50e060" stroke-width="0.8"/>
<circle cx="40.3" cy="58.4" r="1.8" fill="#2a9a3a" fill-opacity="0.55" stroke="#50e060" stroke-width="0.8"/>
<circle cx="43" cy="22" r="1.4" fill="#2a9a3a" fill-opacity="0.55" stroke="#50e060" stroke-width="0.8"/>
<circle cx="38" cy="37" r="1.4" fill="#2a9a3a" fill-opacity="0.55" stroke="#50e060" stroke-width="0.8"/>
<circle cx="41" cy="51" r="1.4" fill="#2a9a3a" fill-opacity="0.55" stroke="#50e060" stroke-width="0.8"/>
<circle cx="81.1" cy="74.7" r="1.6" fill="#2a9a3a" fill-opacity="0.55" stroke="#50e060" stroke-width="0.8"/>
<circle cx="79" cy="78.8" r="1.5" fill="#2a9a3a" fill-opacity="0.55" stroke="#50e060" stroke-width="0.8"/>
<circle cx="10" cy="32" r="1.2" fill="#2a9a3a" fill-opacity="0.55" stroke="#50e060" stroke-width="0.8"/>
</g>
</g>
<path d="M446.0,536.8 L451.8,539.6 L446.0,542.4 Z" fill="#fff"/>
<circle cx="455.60" cy="539.50" r="1.10" fill="#30d060" />
<rect x="567.20" y="639.20" width="21.50" height="2.60" fill="#fff" />
<text x="506.30" y="563.61" font-size="6.6" fill="#3ccf4a" >CD3</text>
<text x="506.30" y="572.21" font-size="6.6" fill="#2a3cf0" >DAPI</text>
<text x="506.30" y="580.81" font-size="6.6" fill="#d21ed2" >Phalloidin</text>
<text x="254.60" y="660.30" font-size="13.6" font-weight="bold" fill="#000" stroke="#000" stroke-width="0.75">p</text>
<text x="274.00" y="662.85" font-size="7" textLength="73.30" lengthAdjust="spacingAndGlyphs" >T cell exhaustion score</text>
<text x="289.90" y="673.31" font-size="6.6" text-anchor="middle" >−0.2</text>
<line x1="289.90" y1="679.30" x2="289.90" y2="681.50" stroke="#333" stroke-width="0.6" />
<text x="314.00" y="673.31" font-size="6.6" text-anchor="middle" >0</text>
<line x1="314.00" y1="679.30" x2="314.00" y2="681.50" stroke="#333" stroke-width="0.6" />
<text x="338.10" y="673.31" font-size="6.6" text-anchor="middle" >0.2</text>
<line x1="338.10" y1="679.30" x2="338.10" y2="681.50" stroke="#333" stroke-width="0.6" />
<line x1="273.60" y1="681.50" x2="347.30" y2="681.50" stroke="#333" stroke-width="0.7" />
<line x1="273.60" y1="681.50" x2="273.60" y2="720.70" stroke="#333" stroke-width="0.7" />
<text x="266.00" y="691.65" font-size="7" text-anchor="end" >Yng</text>
<line x1="270.80" y1="689.20" x2="273.60" y2="689.20" stroke="#333" stroke-width="0.6" />
<text x="266.00" y="704.05" font-size="7" text-anchor="end" >Old</text>
<line x1="270.80" y1="701.60" x2="273.60" y2="701.60" stroke="#333" stroke-width="0.6" />
<text x="266.00" y="716.45" font-size="7" text-anchor="end" >Ger</text>
<line x1="270.80" y1="714.00" x2="273.60" y2="714.00" stroke="#333" stroke-width="0.6" />
<path d="M279.66,688.57 L280.10,688.56 L280.55,688.54 L280.99,688.53 L281.44,688.51 L281.89,688.50 L282.33,688.48 L282.78,688.46 L283.22,688.43 L283.67,688.41 L284.11,688.38 L284.56,688.36 L285.00,688.33 L285.45,688.30 L285.90,688.27 L286.34,688.25 L286.79,688.22 L287.23,688.19 L287.68,688.16 L288.12,688.13 L288.57,688.11 L289.01,688.08 L289.46,688.06 L289.91,688.04 L290.35,688.02 L290.80,688.00 L291.24,687.98 L291.69,687.97 L292.13,687.96 L292.58,687.95 L293.02,687.94 L293.47,687.93 L293.91,687.92 L294.36,687.90 L294.81,687.89 L295.25,687.87 L295.70,687.85 L296.14,687.82 L296.59,687.78 L297.03,687.73 L297.48,687.67 L297.92,687.60 L298.37,687.52 L298.82,687.42 L299.26,687.30 L299.71,687.17 L300.15,687.02 L300.60,686.85 L301.04,686.67 L301.49,686.47 L301.93,686.26 L302.38,686.03 L302.83,685.79 L303.27,685.54 L303.72,685.28 L304.16,685.02 L304.61,684.76 L305.05,684.51 L305.50,684.27 L305.94,684.03 L306.39,683.82 L306.84,683.62 L307.28,683.44 L307.73,683.30 L308.17,683.18 L308.62,683.09 L309.06,683.03 L309.51,683.00 L309.95,683.00 L310.40,683.04 L310.85,683.10 L311.29,683.19 L311.74,683.30 L312.18,683.43 L312.63,683.59 L313.07,683.75 L313.52,683.92 L313.96,684.10 L314.41,684.29 L314.86,684.47 L315.30,684.65 L315.75,684.83 L316.19,685.00 L316.64,685.16 L317.08,685.31 L317.53,685.45 L317.97,685.58 L318.42,685.70 L318.87,685.81 L319.31,685.91 L319.76,686.01 L320.20,686.10 L320.65,686.18 L321.09,686.25 L321.54,686.33 L321.98,686.39 L322.43,686.46 L322.88,686.52 L323.32,686.58 L323.77,686.64 L324.21,686.69 L324.66,686.75 L325.10,686.80 L325.55,686.85 L325.99,686.90 L326.44,686.96 L326.89,687.01 L327.33,687.06 L327.78,687.12 L328.22,687.18 L328.67,687.24 L329.11,687.31 L329.56,687.38 L330.00,687.45 L330.45,687.53 L330.90,687.61 L331.34,687.70 L331.79,687.78 L332.23,687.87 L332.68,687.95 L332.68,689.65 L332.23,689.73 L331.79,689.82 L331.34,689.90 L330.90,689.99 L330.45,690.07 L330.00,690.15 L329.56,690.22 L329.11,690.29 L328.67,690.36 L328.22,690.42 L327.78,690.48 L327.33,690.54 L326.89,690.59 L326.44,690.64 L325.99,690.70 L325.55,690.75 L325.10,690.80 L324.66,690.85 L324.21,690.91 L323.77,690.96 L323.32,691.02 L322.88,691.08 L322.43,691.14 L321.98,691.21 L321.54,691.27 L321.09,691.35 L320.65,691.42 L320.20,691.50 L319.76,691.59 L319.31,691.69 L318.87,691.79 L318.42,691.90 L317.97,692.02 L317.53,692.15 L317.08,692.29 L316.64,692.44 L316.19,692.60 L315.75,692.77 L315.30,692.95 L314.86,693.13 L314.41,693.31 L313.96,693.50 L313.52,693.68 L313.07,693.85 L312.63,694.01 L312.18,694.17 L311.74,694.30 L311.29,694.41 L310.85,694.50 L310.40,694.56 L309.95,694.60 L309.51,694.60 L309.06,694.57 L308.62,694.51 L308.17,694.42 L307.73,694.30 L307.28,694.16 L306.84,693.98 L306.39,693.78 L305.94,693.57 L305.50,693.33 L305.05,693.09 L304.61,692.84 L304.16,692.58 L303.72,692.32 L303.27,692.06 L302.83,691.81 L302.38,691.57 L301.93,691.34 L301.49,691.13 L301.04,690.93 L300.60,690.75 L300.15,690.58 L299.71,690.43 L299.26,690.30 L298.82,690.18 L298.37,690.08 L297.92,690.00 L297.48,689.93 L297.03,689.87 L296.59,689.82 L296.14,689.78 L295.70,689.75 L295.25,689.73 L294.81,689.71 L294.36,689.70 L293.91,689.68 L293.47,689.67 L293.02,689.66 L292.58,689.65 L292.13,689.64 L291.69,689.63 L291.24,689.62 L290.80,689.60 L290.35,689.58 L289.91,689.56 L289.46,689.54 L289.01,689.52 L288.57,689.49 L288.12,689.47 L287.68,689.44 L287.23,689.41 L286.79,689.38 L286.34,689.35 L285.90,689.33 L285.45,689.30 L285.00,689.27 L284.56,689.24 L284.11,689.22 L283.67,689.19 L283.22,689.17 L282.78,689.14 L282.33,689.12 L281.89,689.10 L281.44,689.09 L280.99,689.07 L280.55,689.06 L280.10,689.04 L279.66,689.03Z" fill="#EC8226" />
<path d="M283.88,701.13 L284.37,701.13 L284.86,701.12 L285.35,701.11 L285.84,701.11 L286.33,701.09 L286.82,701.08 L287.31,701.07 L287.80,701.05 L288.30,701.03 L288.79,701.01 L289.28,700.98 L289.77,700.95 L290.26,700.91 L290.75,700.87 L291.24,700.83 L291.73,700.78 L292.22,700.73 L292.72,700.67 L293.21,700.60 L293.70,700.54 L294.19,700.46 L294.68,700.38 L295.17,700.30 L295.66,700.22 L296.15,700.13 L296.64,700.04 L297.14,699.94 L297.63,699.85 L298.12,699.75 L298.61,699.65 L299.10,699.55 L299.59,699.45 L300.08,699.35 L300.57,699.24 L301.06,699.14 L301.56,699.03 L302.05,698.92 L302.54,698.80 L303.03,698.68 L303.52,698.56 L304.01,698.43 L304.50,698.29 L304.99,698.15 L305.48,698.00 L305.98,697.84 L306.47,697.67 L306.96,697.50 L307.45,697.33 L307.94,697.15 L308.43,696.97 L308.92,696.79 L309.41,696.62 L309.90,696.45 L310.40,696.30 L310.89,696.15 L311.38,696.02 L311.87,695.91 L312.36,695.82 L312.85,695.76 L313.34,695.72 L313.83,695.70 L314.32,695.71 L314.82,695.75 L315.31,695.81 L315.80,695.89 L316.29,696.00 L316.78,696.13 L317.27,696.27 L317.76,696.43 L318.25,696.61 L318.74,696.79 L319.24,696.98 L319.73,697.17 L320.22,697.36 L320.71,697.55 L321.20,697.74 L321.69,697.92 L322.18,698.09 L322.67,698.26 L323.16,698.42 L323.66,698.57 L324.15,698.71 L324.64,698.84 L325.13,698.96 L325.62,699.08 L326.11,699.19 L326.60,699.29 L327.09,699.39 L327.58,699.48 L328.08,699.57 L328.57,699.66 L329.06,699.74 L329.55,699.81 L330.04,699.88 L330.53,699.95 L331.02,700.01 L331.51,700.07 L332.00,700.13 L332.50,700.18 L332.99,700.23 L333.48,700.27 L333.97,700.31 L334.46,700.35 L334.95,700.38 L335.44,700.41 L335.93,700.44 L336.42,700.47 L336.92,700.50 L337.41,700.53 L337.90,700.56 L338.39,700.59 L338.88,700.62 L339.37,700.65 L339.86,700.68 L340.35,700.71 L340.84,700.74 L341.34,700.77 L341.83,700.81 L342.32,700.84 L342.32,701.76 L341.83,701.79 L341.34,701.83 L340.84,701.86 L340.35,701.89 L339.86,701.92 L339.37,701.95 L338.88,701.98 L338.39,702.01 L337.90,702.04 L337.41,702.07 L336.92,702.10 L336.42,702.13 L335.93,702.16 L335.44,702.19 L334.95,702.22 L334.46,702.25 L333.97,702.29 L333.48,702.33 L332.99,702.37 L332.50,702.42 L332.00,702.47 L331.51,702.53 L331.02,702.59 L330.53,702.65 L330.04,702.72 L329.55,702.79 L329.06,702.86 L328.57,702.94 L328.08,703.03 L327.58,703.12 L327.09,703.21 L326.60,703.31 L326.11,703.41 L325.62,703.52 L325.13,703.64 L324.64,703.76 L324.15,703.89 L323.66,704.03 L323.16,704.18 L322.67,704.34 L322.18,704.51 L321.69,704.68 L321.20,704.86 L320.71,705.05 L320.22,705.24 L319.73,705.43 L319.24,705.62 L318.74,705.81 L318.25,705.99 L317.76,706.17 L317.27,706.33 L316.78,706.47 L316.29,706.60 L315.80,706.71 L315.31,706.79 L314.82,706.85 L314.32,706.89 L313.83,706.90 L313.34,706.88 L312.85,706.84 L312.36,706.78 L311.87,706.69 L311.38,706.58 L310.89,706.45 L310.40,706.30 L309.90,706.15 L309.41,705.98 L308.92,705.81 L308.43,705.63 L307.94,705.45 L307.45,705.27 L306.96,705.10 L306.47,704.93 L305.98,704.76 L305.48,704.60 L304.99,704.45 L304.50,704.31 L304.01,704.17 L303.52,704.04 L303.03,703.92 L302.54,703.80 L302.05,703.68 L301.56,703.57 L301.06,703.46 L300.57,703.36 L300.08,703.25 L299.59,703.15 L299.10,703.05 L298.61,702.95 L298.12,702.85 L297.63,702.75 L297.14,702.66 L296.64,702.56 L296.15,702.47 L295.66,702.38 L295.17,702.30 L294.68,702.22 L294.19,702.14 L293.70,702.06 L293.21,702.00 L292.72,701.93 L292.22,701.87 L291.73,701.82 L291.24,701.77 L290.75,701.73 L290.26,701.69 L289.77,701.65 L289.28,701.62 L288.79,701.59 L288.30,701.57 L287.80,701.55 L287.31,701.53 L286.82,701.52 L286.33,701.51 L285.84,701.49 L285.35,701.49 L284.86,701.48 L284.37,701.47 L283.88,701.47Z" fill="#4A92C8" />
<path d="M286.29,713.71 L286.78,713.68 L287.28,713.66 L287.77,713.62 L288.27,713.59 L288.77,713.55 L289.26,713.50 L289.76,713.45 L290.25,713.39 L290.75,713.33 L291.25,713.27 L291.74,713.20 L292.24,713.12 L292.74,713.05 L293.23,712.96 L293.73,712.88 L294.22,712.79 L294.72,712.69 L295.22,712.60 L295.71,712.50 L296.21,712.40 L296.70,712.30 L297.20,712.20 L297.70,712.10 L298.19,711.99 L298.69,711.89 L299.19,711.78 L299.68,711.66 L300.18,711.55 L300.67,711.43 L301.17,711.30 L301.67,711.17 L302.16,711.04 L302.66,710.89 L303.15,710.74 L303.65,710.58 L304.15,710.42 L304.64,710.24 L305.14,710.06 L305.64,709.88 L306.13,709.69 L306.63,709.49 L307.12,709.30 L307.62,709.11 L308.12,708.92 L308.61,708.74 L309.11,708.57 L309.61,708.41 L310.10,708.26 L310.60,708.14 L311.09,708.02 L311.59,707.93 L312.09,707.87 L312.58,707.82 L313.08,707.80 L313.57,707.80 L314.07,707.83 L314.57,707.88 L315.06,707.95 L315.56,708.04 L316.06,708.15 L316.55,708.27 L317.05,708.41 L317.54,708.56 L318.04,708.72 L318.54,708.89 L319.03,709.06 L319.53,709.23 L320.02,709.40 L320.52,709.57 L321.02,709.74 L321.51,709.91 L322.01,710.07 L322.51,710.22 L323.00,710.37 L323.50,710.51 L323.99,710.64 L324.49,710.77 L324.99,710.89 L325.48,711.01 L325.98,711.12 L326.48,711.23 L326.97,711.33 L327.47,711.43 L327.96,711.53 L328.46,711.62 L328.96,711.71 L329.45,711.80 L329.95,711.89 L330.44,711.97 L330.94,712.04 L331.44,712.12 L331.93,712.18 L332.43,712.25 L332.93,712.30 L333.42,712.36 L333.92,712.40 L334.41,712.44 L334.91,712.47 L335.41,712.50 L335.90,712.53 L336.40,712.55 L336.89,712.57 L337.39,712.59 L337.89,712.61 L338.38,712.62 L338.88,712.64 L339.38,712.67 L339.87,712.70 L340.37,712.73 L340.86,712.77 L341.36,712.81 L341.86,712.86 L342.35,712.91 L342.85,712.96 L343.35,713.02 L343.84,713.09 L344.34,713.15 L344.83,713.21 L345.33,713.27 L345.33,714.73 L344.83,714.79 L344.34,714.85 L343.84,714.91 L343.35,714.98 L342.85,715.04 L342.35,715.09 L341.86,715.14 L341.36,715.19 L340.86,715.23 L340.37,715.27 L339.87,715.30 L339.38,715.33 L338.88,715.36 L338.38,715.38 L337.89,715.39 L337.39,715.41 L336.89,715.43 L336.40,715.45 L335.90,715.47 L335.41,715.50 L334.91,715.53 L334.41,715.56 L333.92,715.60 L333.42,715.64 L332.93,715.70 L332.43,715.75 L331.93,715.82 L331.44,715.88 L330.94,715.96 L330.44,716.03 L329.95,716.11 L329.45,716.20 L328.96,716.29 L328.46,716.38 L327.96,716.47 L327.47,716.57 L326.97,716.67 L326.48,716.77 L325.98,716.88 L325.48,716.99 L324.99,717.11 L324.49,717.23 L323.99,717.36 L323.50,717.49 L323.00,717.63 L322.51,717.78 L322.01,717.93 L321.51,718.09 L321.02,718.26 L320.52,718.43 L320.02,718.60 L319.53,718.77 L319.03,718.94 L318.54,719.11 L318.04,719.28 L317.54,719.44 L317.05,719.59 L316.55,719.73 L316.06,719.85 L315.56,719.96 L315.06,720.05 L314.57,720.12 L314.07,720.17 L313.57,720.20 L313.08,720.20 L312.58,720.18 L312.09,720.13 L311.59,720.07 L311.09,719.98 L310.60,719.86 L310.10,719.74 L309.61,719.59 L309.11,719.43 L308.61,719.26 L308.12,719.08 L307.62,718.89 L307.12,718.70 L306.63,718.51 L306.13,718.31 L305.64,718.12 L305.14,717.94 L304.64,717.76 L304.15,717.58 L303.65,717.42 L303.15,717.26 L302.66,717.11 L302.16,716.96 L301.67,716.83 L301.17,716.70 L300.67,716.57 L300.18,716.45 L299.68,716.34 L299.19,716.22 L298.69,716.11 L298.19,716.01 L297.70,715.90 L297.20,715.80 L296.70,715.70 L296.21,715.60 L295.71,715.50 L295.22,715.40 L294.72,715.31 L294.22,715.21 L293.73,715.12 L293.23,715.04 L292.74,714.95 L292.24,714.88 L291.74,714.80 L291.25,714.73 L290.75,714.67 L290.25,714.61 L289.76,714.55 L289.26,714.50 L288.77,714.45 L288.27,714.41 L287.77,714.38 L287.28,714.34 L286.78,714.32 L286.29,714.29Z" fill="#4E2470" />
<path d="M346.60,688.80 L348.80,688.80 L348.80,700.10 L346.60,700.10" fill="none" stroke="#555" stroke-width="0.6" />
<path d="M346.60,701.90 L348.80,701.90 L348.80,713.30 L346.60,713.30" fill="none" stroke="#555" stroke-width="0.6" />
<path d="M388.10,688.80 L390.30,688.80 L390.30,714.20 L388.10,714.20" fill="none" stroke="#555" stroke-width="0.6" />
<text x="350.6" y="696.5" font-size="5.9"><tspan font-style="italic">P</tspan> = 2.2 × 10<tspan font-size="3.9" dy="-2.5">−10</tspan></text>
<text x="350.6" y="709.8" font-size="5.9"><tspan font-style="italic">P</tspan> = 0.94</text>
<text x="391.0" y="703.1" font-size="5.9"><tspan font-style="italic">P</tspan> = 1.1 × 10<tspan font-size="3.9" dy="-2.5">−14</tspan></text>
<text x="431.90" y="660.00" font-size="13.6" font-weight="bold" fill="#000" stroke="#000" stroke-width="0.75">q</text>
<line x1="450.40" y1="681.70" x2="450.40" y2="715.40" stroke="#333" stroke-width="0.7" />
<line x1="450.40" y1="715.40" x2="642.00" y2="715.40" stroke="#333" stroke-width="0.7" />
<text x="442.40" y="690.65" font-size="7" text-anchor="end" >Yng</text>
<line x1="446.40" y1="688.20" x2="450.40" y2="688.20" stroke="#333" stroke-width="0.6" />
<text x="442.40" y="700.65" font-size="7" text-anchor="end" >Old</text>
<line x1="446.40" y1="698.20" x2="450.40" y2="698.20" stroke="#333" stroke-width="0.6" />
<text x="442.40" y="710.65" font-size="7" text-anchor="end" >Ger</text>
<line x1="446.40" y1="708.20" x2="450.40" y2="708.20" stroke="#333" stroke-width="0.6" />
<circle cx="456.40" cy="688.20" r="1.90" fill="#8166e8" />
<circle cx="463.59" cy="688.20" r="1.00" fill="#9e7fe4" />
<circle cx="470.79" cy="688.20" r="1.20" fill="#876ae7" />
<circle cx="477.98" cy="688.20" r="1.45" fill="#2422f1" />
<circle cx="485.17" cy="688.20" r="0.80" fill="#a78ee0" />
<circle cx="492.36" cy="688.20" r="1.50" fill="#2a27f0" />
<circle cx="499.56" cy="688.20" r="0.80" fill="#bdb3d6" />
<circle cx="506.75" cy="688.20" r="0.80" fill="#ab95de" />
<circle cx="513.94" cy="688.20" r="1.00" fill="#8166e8" />
<circle cx="521.14" cy="688.20" r="0.80" fill="#ab95de" />
<circle cx="528.33" cy="688.20" r="0.70" fill="#b09ddc" />
<circle cx="535.52" cy="688.20" r="0.80" fill="#b09ddc" />
<circle cx="542.72" cy="688.20" r="1.30" fill="#2a27f0" />
<circle cx="549.91" cy="688.20" r="1.00" fill="#8d6fe7" />
<circle cx="557.10" cy="688.20" r="1.30" fill="#876ae7" />
<circle cx="564.29" cy="688.20" r="0.90" fill="#9e7fe4" />
<circle cx="571.49" cy="688.20" r="0.90" fill="#bdb3d6" />
<circle cx="578.68" cy="688.20" r="0.90" fill="#ab95de" />
<circle cx="585.87" cy="688.20" r="1.30" fill="#c1bad4" />
<circle cx="593.07" cy="688.20" r="0.70" fill="#b09ddc" />
<circle cx="600.26" cy="688.20" r="0.70" fill="#bdb3d6" />
<circle cx="607.45" cy="688.20" r="1.60" fill="#9e7fe4" />
<circle cx="614.65" cy="688.20" r="1.40" fill="#b09ddc" />
<circle cx="621.84" cy="688.20" r="1.20" fill="#a78ee0" />
<circle cx="629.03" cy="688.20" r="0.70" fill="#b09ddc" />
<circle cx="636.22" cy="688.20" r="0.70" fill="#ab95de" />
<circle cx="456.40" cy="698.20" r="1.80" fill="#c6c2d2" />
<circle cx="463.59" cy="698.20" r="1.20" fill="#2422f1" />
<circle cx="470.79" cy="698.20" r="1.60" fill="#302bf0" />
<circle cx="477.98" cy="698.20" r="1.60" fill="#a78ee0" />
<circle cx="485.17" cy="698.20" r="0.90" fill="#a78ee0" />
<circle cx="492.36" cy="698.20" r="1.20" fill="#bdb3d6" />
<circle cx="499.56" cy="698.20" r="1.50" fill="#2a27f0" />
<circle cx="506.75" cy="698.20" r="0.90" fill="#ab95de" />
<circle cx="513.94" cy="698.20" r="0.80" fill="#c1bad4" />
<circle cx="521.14" cy="698.20" r="0.80" fill="#b09ddc" />
<circle cx="528.33" cy="698.20" r="1.00" fill="#1e1ef2" />
<circle cx="535.52" cy="698.20" r="1.20" fill="#2422f1" />
<circle cx="542.72" cy="698.20" r="1.20" fill="#8d6fe7" />
<circle cx="549.91" cy="698.20" r="1.30" fill="#2422f1" />
<circle cx="557.10" cy="698.20" r="2.00" fill="#302bf0" />
<circle cx="564.29" cy="698.20" r="1.10" fill="#1e1ef2" />
<circle cx="571.49" cy="698.20" r="1.20" fill="#8d6fe7" />
<circle cx="578.68" cy="698.20" r="0.90" fill="#9e7fe4" />
<circle cx="585.87" cy="698.20" r="1.50" fill="#6854ea" />
<circle cx="593.07" cy="698.20" r="1.30" fill="#2a27f0" />
<circle cx="600.26" cy="698.20" r="1.20" fill="#4f42ed" />
<circle cx="607.45" cy="698.20" r="2.20" fill="#1e1ef2" />
<circle cx="614.65" cy="698.20" r="2.30" fill="#1e1ef2" />
<circle cx="621.84" cy="698.20" r="2.30" fill="#1e1ef2" />
<circle cx="629.03" cy="698.20" r="0.80" fill="#9e7fe4" />
<circle cx="636.22" cy="698.20" r="0.80" fill="#9e7fe4" />
<circle cx="456.40" cy="708.20" r="2.10" fill="#624feb" />
<circle cx="463.59" cy="708.20" r="1.10" fill="#a78ee0" />
<circle cx="470.79" cy="708.20" r="1.20" fill="#bdb3d6" />
<circle cx="477.98" cy="708.20" r="1.30" fill="#ab95de" />
<circle cx="485.17" cy="708.20" r="1.00" fill="#2422f1" />
<circle cx="492.36" cy="708.20" r="1.50" fill="#9373e6" />
<circle cx="499.56" cy="708.20" r="1.50" fill="#8166e8" />
<circle cx="506.75" cy="708.20" r="1.20" fill="#2422f1" />
<circle cx="513.94" cy="708.20" r="1.20" fill="#2a27f0" />
<circle cx="521.14" cy="708.20" r="1.20" fill="#2422f1" />
<circle cx="528.33" cy="708.20" r="0.90" fill="#ab95de" />
<circle cx="535.52" cy="708.20" r="1.00" fill="#a78ee0" />
<circle cx="542.72" cy="708.20" r="1.30" fill="#bdb3d6" />
<circle cx="549.91" cy="708.20" r="1.20" fill="#ab95de" />
<circle cx="557.10" cy="708.20" r="1.20" fill="#bdb3d6" />
<circle cx="564.29" cy="708.20" r="0.90" fill="#ab95de" />
<circle cx="571.49" cy="708.20" r="1.50" fill="#2a27f0" />
<circle cx="578.68" cy="708.20" r="1.40" fill="#2422f1" />
<circle cx="585.87" cy="708.20" r="2.00" fill="#6854ea" />
<circle cx="593.07" cy="708.20" r="1.30" fill="#9373e6" />
<circle cx="600.26" cy="708.20" r="1.30" fill="#6854ea" />
<circle cx="607.45" cy="708.20" r="1.80" fill="#b8abd8" />
<circle cx="614.65" cy="708.20" r="1.70" fill="#a286e2" />
<circle cx="621.84" cy="708.20" r="1.60" fill="#a286e2" />
<circle cx="629.03" cy="708.20" r="0.90" fill="#2422f1" />
<circle cx="636.22" cy="708.20" r="1.00" fill="#2422f1" />
<line x1="456.40" y1="715.40" x2="456.40" y2="718.40" stroke="#333" stroke-width="0.6" />
<text x="458.80" y="721.8" font-size="6.8" font-style="italic" text-anchor="end" transform="rotate(-90 458.80 721.8)">Cd3e</text>
<line x1="463.59" y1="715.40" x2="463.59" y2="718.40" stroke="#333" stroke-width="0.6" />
<text x="465.99" y="721.8" font-size="6.8" font-style="italic" text-anchor="end" transform="rotate(-90 465.99 721.8)">Cd4</text>
<line x1="470.79" y1="715.40" x2="470.79" y2="718.40" stroke="#333" stroke-width="0.6" />
<text x="473.19" y="721.8" font-size="6.8" font-style="italic" text-anchor="end" transform="rotate(-90 473.19 721.8)">Cd8a</text>
<line x1="477.98" y1="715.40" x2="477.98" y2="718.40" stroke="#333" stroke-width="0.6" />
<text x="480.38" y="721.8" font-size="6.8" font-style="italic" text-anchor="end" transform="rotate(-90 480.38 721.8)">Cd8b1</text>
<line x1="485.17" y1="715.40" x2="485.17" y2="718.40" stroke="#333" stroke-width="0.6" />
<text x="487.57" y="721.8" font-size="6.8" font-style="italic" text-anchor="end" transform="rotate(-90 487.57 721.8)">Cdk1</text>
<line x1="492.36" y1="715.40" x2="492.36" y2="718.40" stroke="#333" stroke-width="0.6" />
<text x="494.76" y="721.8" font-size="6.8" font-style="italic" text-anchor="end" transform="rotate(-90 494.76 721.8)">Cdk4</text>
<line x1="499.56" y1="715.40" x2="499.56" y2="718.40" stroke="#333" stroke-width="0.6" />
<text x="501.96" y="721.8" font-size="6.8" font-style="italic" text-anchor="end" transform="rotate(-90 501.96 721.8)">Ctla4</text>
<line x1="506.75" y1="715.40" x2="506.75" y2="718.40" stroke="#333" stroke-width="0.6" />
<text x="509.15" y="721.8" font-size="6.8" font-style="italic" text-anchor="end" transform="rotate(-90 509.15 721.8)">Pdcd1</text>
<line x1="513.94" y1="715.40" x2="513.94" y2="718.40" stroke="#333" stroke-width="0.6" />
<text x="516.34" y="721.8" font-size="6.8" font-style="italic" text-anchor="end" transform="rotate(-90 516.34 721.8)">Lag3</text>
<line x1="521.14" y1="715.40" x2="521.14" y2="718.40" stroke="#333" stroke-width="0.6" />
<text x="523.54" y="721.8" font-size="6.8" font-style="italic" text-anchor="end" transform="rotate(-90 523.54 721.8)">Havcr2</text>
<line x1="528.33" y1="715.40" x2="528.33" y2="718.40" stroke="#333" stroke-width="0.6" />
<text x="530.73" y="721.8" font-size="6.8" font-style="italic" text-anchor="end" transform="rotate(-90 530.73 721.8)">Bach2</text>
<line x1="535.52" y1="715.40" x2="535.52" y2="718.40" stroke="#333" stroke-width="0.6" />
<text x="537.92" y="721.8" font-size="6.8" font-style="italic" text-anchor="end" transform="rotate(-90 537.92 721.8)">Irf4</text>
<line x1="542.72" y1="715.40" x2="542.72" y2="718.40" stroke="#333" stroke-width="0.6" />
<text x="545.12" y="721.8" font-size="6.8" font-style="italic" text-anchor="end" transform="rotate(-90 545.12 721.8)">Batf</text>
<line x1="549.91" y1="715.40" x2="549.91" y2="718.40" stroke="#333" stroke-width="0.6" />
<text x="552.31" y="721.8" font-size="6.8" font-style="italic" text-anchor="end" transform="rotate(-90 552.31 721.8)">Slamf6</text>
<line x1="557.10" y1="715.40" x2="557.10" y2="718.40" stroke="#333" stroke-width="0.6" />
<text x="559.50" y="721.8" font-size="6.8" font-style="italic" text-anchor="end" transform="rotate(-90 559.50 721.8)">Tcf7</text>
<line x1="564.29" y1="715.40" x2="564.29" y2="718.40" stroke="#333" stroke-width="0.6" />
<text x="566.69" y="721.8" font-size="6.8" font-style="italic" text-anchor="end" transform="rotate(-90 566.69 721.8)">Tbx21</text>
<line x1="571.49" y1="715.40" x2="571.49" y2="718.40" stroke="#333" stroke-width="0.6" />
<text x="573.89" y="721.8" font-size="6.8" font-style="italic" text-anchor="end" transform="rotate(-90 573.89 721.8)">Runx1</text>
<line x1="578.68" y1="715.40" x2="578.68" y2="718.40" stroke="#333" stroke-width="0.6" />
<text x="581.08" y="721.8" font-size="6.8" font-style="italic" text-anchor="end" transform="rotate(-90 581.08 721.8)">Runx2</text>
<line x1="585.87" y1="715.40" x2="585.87" y2="718.40" stroke="#333" stroke-width="0.6" />
<text x="588.27" y="721.8" font-size="6.8" font-style="italic" text-anchor="end" transform="rotate(-90 588.27 721.8)">Runx3</text>
<line x1="593.07" y1="715.40" x2="593.07" y2="718.40" stroke="#333" stroke-width="0.6" />
<text x="595.47" y="721.8" font-size="6.8" font-style="italic" text-anchor="end" transform="rotate(-90 595.47 721.8)">Eomes</text>
<line x1="600.26" y1="715.40" x2="600.26" y2="718.40" stroke="#333" stroke-width="0.6" />
<text x="602.66" y="721.8" font-size="6.8" font-style="italic" text-anchor="end" transform="rotate(-90 602.66 721.8)">Tox</text>
<line x1="607.45" y1="715.40" x2="607.45" y2="718.40" stroke="#333" stroke-width="0.6" />
<text x="609.85" y="721.8" font-size="6.8" font-style="italic" text-anchor="end" transform="rotate(-90 609.85 721.8)">Nr4a1</text>
<line x1="614.65" y1="715.40" x2="614.65" y2="718.40" stroke="#333" stroke-width="0.6" />
<text x="617.05" y="721.8" font-size="6.8" font-style="italic" text-anchor="end" transform="rotate(-90 617.05 721.8)">Nr4a2</text>
<line x1="621.84" y1="715.40" x2="621.84" y2="718.40" stroke="#333" stroke-width="0.6" />
<text x="624.24" y="721.8" font-size="6.8" font-style="italic" text-anchor="end" transform="rotate(-90 624.24 721.8)">Nr4a3</text>
<line x1="629.03" y1="715.40" x2="629.03" y2="718.40" stroke="#333" stroke-width="0.6" />
<text x="631.43" y="721.8" font-size="6.8" font-style="italic" text-anchor="end" transform="rotate(-90 631.43 721.8)">Cd38</text>
<line x1="636.22" y1="715.40" x2="636.22" y2="718.40" stroke="#333" stroke-width="0.6" />
<text x="638.62" y="721.8" font-size="6.8" font-style="italic" text-anchor="end" transform="rotate(-90 638.62 721.8)">Entpd1</text>
<line x1="454.30" y1="681.30" x2="480.90" y2="681.30" stroke="#777" stroke-width="0.8" />
<text x="464.00" y="676.6" font-size="6.6" transform="rotate(-45 464.00 676.6)">T cells</text>
<line x1="481.90" y1="681.30" x2="496.00" y2="681.30" stroke="#777" stroke-width="0.8" />
<text x="485.80" y="676.6" font-size="6.6" transform="rotate(-45 485.80 676.6)">Cycling</text>
<line x1="497.70" y1="681.30" x2="524.20" y2="681.30" stroke="#777" stroke-width="0.8" />
<text x="507.90" y="676.6" font-size="6.6" transform="rotate(-45 507.90 676.6)">Inhibitory</text>
<line x1="526.30" y1="681.30" x2="560.50" y2="681.30" stroke="#777" stroke-width="0.8" />
<text x="538.10" y="676.6" font-size="6.6" transform="rotate(-45 538.10 676.6)">Prog T<tspan font-size="4.4" dy="1.5">EX</tspan></text>
<line x1="562.40" y1="681.30" x2="589.00" y2="681.30" stroke="#777" stroke-width="0.8" />
<text x="569.50" y="676.6" font-size="6.6" transform="rotate(-45 569.50 676.6)">Trans T<tspan font-size="4.4" dy="1.5">EX</tspan></text>
<line x1="592.40" y1="681.30" x2="638.00" y2="681.30" stroke="#777" stroke-width="0.8" />
<text x="610.00" y="676.6" font-size="6.6" transform="rotate(-45 610.00 676.6)">Term T<tspan font-size="4.4" dy="1.5">EX</tspan></text>
<text x="646.80" y="652.51" font-size="6.6" >Average</text>
<text x="646.80" y="660.11" font-size="6.6" >expression</text>
<defs><linearGradient id="qg" x1="0" y1="0" x2="0" y2="1"><stop offset="0" stop-color="#1E1EF2"/><stop offset="0.5" stop-color="#9A78E6"/><stop offset="1" stop-color="#C6C2D2"/></linearGradient></defs>
<rect x="646.20" y="663.90" width="6.70" height="31.70" fill="url(#qg)" />
<text x="657.00" y="668.51" font-size="6.6" >1.0</text>
<text x="657.00" y="675.41" font-size="6.6" >0.5</text>
<text x="657.00" y="682.31" font-size="6.6" >0</text>
<text x="657.00" y="689.31" font-size="6.6" >−0.5</text>
<text x="657.00" y="696.51" font-size="6.6" >−1.0</text>
<text x="646.80" y="706.71" font-size="6.6" >Percent</text>
<text x="646.80" y="713.81" font-size="6.6" >expressed</text>
<circle cx="649.80" cy="721.30" r="0.45" fill="#333" />
<text x="657.00" y="723.61" font-size="6.6" >0</text>
<circle cx="649.8" cy="727.8" r="1.0" fill="none" stroke="#333" stroke-width="0.6"/>
<text x="657.00" y="730.11" font-size="6.6" >25</text>
<circle cx="649.8" cy="734.4" r="1.6" fill="none" stroke="#333" stroke-width="0.6"/>
<text x="657.00" y="736.71" font-size="6.6" >50</text>
<circle cx="649.8" cy="740.6" r="2.1" fill="none" stroke="#333" stroke-width="0.6"/>
<text x="657.00" y="742.91" font-size="6.6" >75</text>
<circle cx="649.8" cy="746.5" r="2.6" fill="none" stroke="#333" stroke-width="0.6"/>
<text x="657.00" y="748.81" font-size="6.6" >100</text>
<text x="0.00" y="762.80" font-size="13.6" font-weight="bold" fill="#000" stroke="#000" stroke-width="0.75">n</text>
<path d="M58.9,812.5h.01M114.2,834.7h.01M96.9,838.1h.01M94.0,790.9h.01M118.4,837.3h.01M86.2,792.4h.01M121.1,846.4h.01M79.4,838.0h.01M131.6,841.9h.01M66.4,814.2h.01M125.2,851.8h.01M94.6,821.6h.01M58.2,822.9h.01M134.4,858.6h.01M82.7,833.4h.01M104.4,802.8h.01M77.4,855.1h.01M104.2,793.8h.01M96.4,847.5h.01M104.3,861.1h.01M131.7,849.0h.01M135.8,851.2h.01M124.8,856.1h.01M78.5,847.2h.01M96.2,839.9h.01M61.6,789.8h.01M80.1,796.6h.01M97.3,794.8h.01M109.5,815.3h.01M103.9,823.9h.01M135.7,850.3h.01M87.5,822.0h.01M93.8,807.8h.01M72.8,836.5h.01M76.2,844.8h.01M108.3,809.7h.01M95.7,797.3h.01M80.2,838.0h.01M95.1,827.9h.01M101.1,834.9h.01M61.3,823.7h.01M94.5,813.0h.01M107.9,823.9h.01M87.2,851.0h.01M84.6,852.2h.01M86.2,848.7h.01M95.7,822.8h.01M90.8,852.6h.01M64.7,848.3h.01M87.7,819.2h.01M118.3,823.6h.01M77.2,839.7h.01M92.8,841.7h.01M95.7,811.6h.01M97.6,819.4h.01M75.9,809.5h.01M102.9,826.5h.01M74.3,843.4h.01M113.3,838.2h.01M108.6,834.8h.01M124.9,842.8h.01M117.1,826.7h.01M98.8,828.4h.01M69.9,849.0h.01M119.4,849.7h.01M97.2,861.0h.01M91.4,847.5h.01M69.1,818.1h.01M129.0,835.1h.01M117.1,813.9h.01M82.4,807.4h.01M77.4,831.5h.01M74.6,851.3h.01M77.2,836.4h.01M93.3,853.8h.01M84.7,789.6h.01M102.3,820.3h.01M89.4,827.0h.01M80.3,810.8h.01M82.9,857.1h.01M135.7,859.4h.01M103.5,836.6h.01M100.1,843.4h.01M62.3,852.3h.01M110.4,813.7h.01M110.6,830.3h.01M105.0,828.0h.01M63.4,845.8h.01M89.6,820.0h.01M65.1,845.7h.01M101.4,830.1h.01M64.4,796.6h.01M73.0,832.2h.01M105.4,840.7h.01M64.9,851.7h.01M91.9,848.7h.01M73.6,848.0h.01M83.6,838.8h.01M77.9,831.1h.01M66.1,832.7h.01M92.1,833.6h.01M85.2,852.1h.01M108.8,832.6h.01M103.3,819.7h.01M119.3,850.7h.01M107.2,788.8h.01M139.9,854.9h.01M114.2,851.2h.01M66.2,837.0h.01M90.1,819.3h.01M63.3,841.4h.01M73.1,831.6h.01M100.5,823.3h.01M75.6,847.9h.01M95.9,803.4h.01M84.3,844.3h.01M81.6,786.0h.01M95.3,848.7h.01M92.9,818.4h.01M88.8,841.3h.01M92.4,824.0h.01M99.6,823.3h.01M100.6,851.8h.01M134.5,859.3h.01M88.0,836.3h.01M95.9,842.8h.01M73.1,846.1h.01M118.5,829.3h.01M85.3,842.8h.01M87.2,858.1h.01M92.7,807.7h.01M114.0,852.9h.01M75.2,857.6h.01M103.3,789.1h.01M76.7,822.6h.01M92.7,853.0h.01M68.2,840.4h.01M89.9,829.8h.01M72.8,835.9h.01M115.1,829.6h.01M122.1,847.0h.01M61.8,803.8h.01M112.2,831.8h.01M69.4,843.6h.01M95.5,807.3h.01M104.5,855.1h.01M98.6,843.0h.01M97.7,853.9h.01M95.9,856.3h.01M85.2,849.7h.01M71.1,858.8h.01M108.6,840.2h.01M95.4,798.2h.01M72.9,840.0h.01M101.1,838.0h.01M107.2,849.2h.01M64.0,846.3h.01M122.1,846.0h.01M68.6,834.6h.01M64.8,798.3h.01M106.6,790.4h.01M106.1,828.2h.01M98.0,795.7h.01M101.7,816.3h.01M117.4,814.1h.01M89.1,852.5h.01M86.7,800.7h.01M85.8,826.7h.01M60.2,825.9h.01M103.8,833.3h.01M116.3,848.5h.01M68.3,834.5h.01M94.4,818.4h.01M87.3,834.8h.01M101.3,823.5h.01M83.7,858.2h.01M125.4,850.7h.01M114.9,855.6h.01M82.9,847.1h.01M55.0,831.8h.01M56.2,799.5h.01M92.8,855.4h.01M77.3,836.7h.01M76.9,841.0h.01M127.1,848.1h.01M82.7,831.7h.01M72.4,847.5h.01M104.1,828.9h.01M113.0,820.8h.01M103.0,831.2h.01M87.7,833.8h.01M91.7,845.8h.01M97.3,830.7h.01M73.7,829.8h.01M79.4,835.5h.01M95.1,832.8h.01M91.9,823.1h.01M114.3,825.1h.01M81.8,846.8h.01M77.7,849.4h.01M59.9,853.9h.01M73.0,835.4h.01M125.9,838.5h.01M100.0,859.8h.01M115.0,842.7h.01M89.7,831.7h.01M104.5,831.1h.01M89.2,833.2h.01M125.7,834.6h.01M137.9,853.8h.01M74.2,841.7h.01M80.2,801.1h.01M95.4,844.0h.01M114.7,813.3h.01M79.7,821.7h.01M68.5,824.8h.01M88.3,797.3h.01M111.3,829.9h.01M125.7,848.0h.01M115.3,821.2h.01M108.6,825.2h.01M115.1,814.5h.01M69.5,843.1h.01M88.6,802.0h.01M114.7,848.6h.01M92.2,834.9h.01M95.2,814.0h.01M92.5,837.5h.01M90.5,797.1h.01M96.2,855.4h.01M77.5,839.2h.01M76.6,845.8h.01M76.7,845.2h.01M69.2,848.5h.01M68.5,830.9h.01M128.4,830.6h.01M119.7,848.9h.01M74.0,852.5h.01M82.8,856.3h.01M125.6,859.6h.01M117.7,852.0h.01M129.1,851.9h.01M99.4,792.2h.01M117.4,840.9h.01M63.2,800.6h.01M91.8,819.2h.01M79.7,811.5h.01M65.4,784.1h.01M107.9,840.7h.01M129.2,840.0h.01M88.5,795.8h.01M95.4,810.4h.01M110.6,844.1h.01M133.5,861.6h.01M117.1,835.2h.01M83.4,826.4h.01M87.7,844.6h.01M82.9,841.0h.01M73.9,847.3h.01M108.5,795.1h.01M81.8,845.8h.01M112.0,836.8h.01M87.4,821.2h.01M124.2,854.3h.01M78.8,840.8h.01M108.0,805.2h.01M83.9,843.7h.01M109.0,840.0h.01M116.6,848.4h.01M64.3,832.1h.01M70.2,815.6h.01M74.7,825.0h.01M81.5,845.4h.01M100.5,815.8h.01M110.4,809.3h.01M91.7,810.4h.01M96.0,826.1h.01M81.3,834.3h.01M63.9,825.7h.01M69.4,842.7h.01M117.8,856.4h.01M78.7,819.5h.01M96.7,816.7h.01M110.5,828.7h.01M60.4,851.4h.01M56.4,793.0h.01M97.0,859.0h.01M80.1,835.7h.01M85.0,806.5h.01M120.5,835.8h.01M106.4,839.3h.01M115.2,829.1h.01M81.4,855.9h.01M105.3,821.6h.01M70.6,821.3h.01M110.8,823.0h.01M115.8,810.7h.01M92.6,812.1h.01M125.6,855.0h.01M118.8,840.6h.01M72.1,837.5h.01M92.5,829.3h.01M130.7,848.8h.01M81.6,835.4h.01M109.9,826.9h.01M73.4,839.3h.01M80.6,859.0h.01M118.8,855.4h.01M109.3,823.2h.01M101.7,820.2h.01M101.9,827.3h.01M122.6,861.3h.01M78.6,856.6h.01M118.7,820.4h.01M130.7,857.0h.01M90.6,849.6h.01M110.4,820.0h.01M94.0,853.0h.01M102.3,841.2h.01M92.6,850.9h.01M74.6,843.0h.01M82.5,812.7h.01M111.8,812.7h.01M107.2,815.1h.01M75.6,847.1h.01M81.7,855.1h.01M92.1,821.8h.01M113.7,827.0h.01M125.5,851.7h.01M84.8,833.9h.01M111.6,843.5h.01M83.5,801.7h.01M119.0,859.8h.01M101.8,829.3h.01M77.2,826.3h.01M81.6,855.7h.01M100.8,851.4h.01M68.8,832.9h.01M72.5,840.0h.01M124.7,856.1h.01M91.3,797.8h.01M77.2,854.7h.01M112.1,840.0h.01M96.9,844.9h.01M133.7,831.1h.01M85.4,821.9h.01M101.9,829.0h.01M73.9,821.2h.01M99.4,840.2h.01M103.2,836.2h.01M77.5,796.0h.01M105.8,841.5h.01M110.9,828.8h.01M64.7,841.7h.01M87.8,859.0h.01M80.7,830.0h.01M121.4,800.4h.01M99.5,826.7h.01M53.3,807.2h.01M136.0,861.1h.01M94.3,819.5h.01M82.0,843.2h.01M59.2,796.6h.01M92.8,810.2h.01M84.2,810.6h.01M74.4,841.2h.01M82.7,855.1h.01M122.9,849.6h.01M105.6,809.1h.01M95.5,832.6h.01M78.3,843.3h.01M75.4,850.8h.01M123.5,859.4h.01M75.2,833.0h.01M91.8,844.5h.01M106.2,845.3h.01M87.3,838.5h.01M88.1,783.1h.01M100.7,822.1h.01M75.1,814.2h.01M99.9,820.3h.01M77.7,854.7h.01M117.8,844.2h.01M109.2,848.4h.01M136.0,851.8h.01M76.5,829.9h.01M104.0,823.7h.01M81.7,842.1h.01M74.1,833.4h.01M108.1,844.4h.01M83.4,844.3h.01M114.5,856.2h.01M94.3,843.6h.01M68.7,823.6h.01M110.1,830.2h.01M99.9,836.9h.01M79.2,820.4h.01M91.9,806.4h.01M124.7,838.6h.01M97.5,832.6h.01M110.0,843.5h.01M91.6,826.0h.01M61.8,788.5h.01M113.8,850.1h.01M115.8,849.9h.01M107.1,833.1h.01M87.3,822.5h.01M91.0,837.0h.01M119.2,841.8h.01M108.9,850.6h.01M86.7,849.3h.01M97.1,849.4h.01M105.6,837.1h.01M81.9,835.7h.01M86.8,820.6h.01M88.6,835.7h.01M101.5,837.5h.01M125.2,852.8h.01M85.9,846.5h.01M92.0,829.0h.01M75.6,846.2h.01M126.2,846.3h.01M138.4,861.5h.01M126.4,857.6h.01M95.5,809.2h.01M106.4,849.3h.01M97.7,841.0h.01M127.9,816.9h.01M71.5,798.1h.01M97.4,819.1h.01M74.9,848.1h.01M126.6,853.8h.01M52.3,799.4h.01M65.8,835.4h.01M131.7,824.2h.01M113.9,836.2h.01M114.1,820.9h.01M104.8,842.7h.01M60.0,809.7h.01M104.4,825.1h.01M110.2,835.0h.01M114.3,812.3h.01M111.9,824.0h.01M121.0,856.6h.01M132.7,849.8h.01M84.4,847.6h.01M89.3,836.9h.01M79.7,840.5h.01M119.8,838.3h.01M104.4,822.0h.01M85.8,850.4h.01M85.3,833.2h.01M115.7,860.1h.01M118.8,821.6h.01M98.8,832.7h.01M123.2,858.1h.01M86.2,836.7h.01M135.1,850.4h.01M77.3,817.0h.01M98.2,825.3h.01M125.8,858.2h.01M110.8,835.7h.01M83.1,827.8h.01M114.5,803.2h.01M107.1,835.5h.01M62.3,853.8h.01M96.6,825.7h.01M90.7,843.8h.01M104.9,818.1h.01M107.4,853.7h.01M58.1,848.8h.01M98.2,861.5h.01M111.2,847.1h.01M88.2,835.1h.01M120.5,819.7h.01M57.1,832.3h.01M126.3,848.0h.01M85.5,832.9h.01M124.2,860.2h.01M126.4,847.5h.01M88.4,823.9h.01M84.1,797.1h.01M79.0,837.5h.01M86.2,805.9h.01M110.7,818.8h.01M101.3,833.0h.01M123.1,811.5h.01M79.3,857.0h.01M134.4,843.9h.01M108.3,831.2h.01M96.3,828.4h.01M86.1,799.1h.01M111.1,838.8h.01M95.6,828.2h.01M96.6,817.2h.01M105.1,816.4h.01M115.6,828.1h.01M117.8,809.0h.01M98.0,802.0h.01M110.2,824.7h.01M119.6,847.8h.01M123.8,848.0h.01M123.4,847.0h.01M99.3,809.7h.01M88.1,834.3h.01M82.8,840.7h.01M71.2,854.2h.01M106.3,797.7h.01M120.4,846.3h.01M131.2,857.4h.01M96.6,797.3h.01M67.4,862.0h.01M96.8,799.8h.01M100.5,797.5h.01M107.1,825.5h.01M87.0,815.3h.01M134.0,854.3h.01M95.0,858.4h.01M110.3,825.9h.01M90.9,795.6h.01M105.5,841.6h.01M134.5,862.1h.01M79.8,846.3h.01M112.2,823.7h.01M102.4,856.4h.01M67.3,799.0h.01M92.3,841.6h.01M82.6,851.8h.01M112.1,834.1h.01M104.7,838.8h.01M133.6,855.1h.01M82.4,854.2h.01M74.0,831.3h.01M97.1,844.0h.01M129.6,849.2h.01M90.2,832.6h.01M74.5,831.6h.01M73.2,832.6h.01M69.0,839.8h.01M100.3,841.6h.01M104.9,826.9h.01M117.1,826.1h.01M75.5,835.5h.01M72.5,842.4h.01M80.2,847.3h.01M126.3,829.6h.01M86.3,856.8h.01M71.7,821.7h.01M99.4,849.9h.01M107.5,838.0h.01M60.2,836.4h.01M79.3,858.9h.01M108.8,857.4h.01M125.5,850.3h.01M89.1,855.5h.01M96.4,852.6h.01M65.2,833.9h.01M109.7,796.9h.01M93.7,828.5h.01M100.3,808.6h.01M90.1,799.3h.01M115.0,829.7h.01M121.5,812.9h.01M114.7,837.2h.01M103.2,828.5h.01M94.1,813.0h.01M51.3,844.3h.01M115.3,844.9h.01M127.9,817.9h.01M92.0,842.6h.01M110.9,826.2h.01M60.4,860.2h.01M93.7,839.6h.01M82.7,847.7h.01M71.4,834.0h.01M134.1,862.1h.01M84.2,831.5h.01M87.9,823.5h.01M106.6,833.2h.01M86.3,851.9h.01M82.0,840.6h.01M108.1,834.0h.01M102.9,828.2h.01M119.8,827.3h.01M69.2,828.7h.01M123.6,851.6h.01M119.1,855.3h.01M117.8,852.9h.01M112.6,837.5h.01M123.7,856.5h.01M64.8,850.1h.01M80.6,852.4h.01M101.8,840.8h.01M62.9,844.3h.01M71.1,840.3h.01M128.2,860.6h.01M119.6,859.3h.01M76.7,860.2h.01M77.2,845.0h.01M111.2,809.1h.01M96.8,844.2h.01M71.4,793.6h.01M71.3,835.2h.01M77.7,857.9h.01M74.7,830.1h.01M116.8,842.2h.01M119.3,849.9h.01M129.2,841.3h.01M64.9,815.9h.01M101.9,827.8h.01M89.3,829.6h.01M127.0,836.1h.01M81.3,815.4h.01M95.7,850.3h.01M77.6,845.7h.01M122.2,808.0h.01M119.0,835.1h.01M96.7,853.3h.01M74.5,822.9h.01M81.2,847.7h.01M100.0,834.1h.01M106.6,832.2h.01M106.2,823.8h.01M106.5,827.1h.01M60.4,862.2h.01M76.0,839.7h.01M88.5,783.3h.01M98.8,832.5h.01M94.8,819.0h.01M98.9,832.0h.01M130.1,853.7h.01M90.1,801.9h.01M105.0,822.8h.01M77.4,837.0h.01M103.3,817.8h.01M125.4,829.4h.01M111.6,803.2h.01M110.6,843.6h.01M123.0,812.6h.01M114.6,836.2h.01M128.2,842.3h.01M94.6,860.3h.01M106.5,836.0h.01M118.0,846.8h.01M101.4,826.6h.01M80.5,823.3h.01M123.4,854.3h.01M101.9,797.5h.01M97.9,808.8h.01M52.4,847.6h.01M74.6,838.9h.01M131.4,835.9h.01M71.6,819.4h.01M111.8,815.3h.01M103.6,827.8h.01M114.3,839.8h.01M112.4,805.1h.01M133.2,847.2h.01M83.0,851.2h.01M126.4,844.7h.01M96.8,834.1h.01M118.7,837.7h.01M104.2,847.3h.01M103.9,829.7h.01M93.0,857.5h.01M80.0,846.8h.01M76.4,833.6h.01M76.2,853.5h.01M87.0,853.6h.01M87.1,836.5h.01M103.6,853.1h.01M75.2,808.9h.01M98.1,843.3h.01M126.5,840.7h.01M81.7,847.4h.01M106.9,830.5h.01M72.2,797.8h.01M112.9,823.7h.01M105.6,831.9h.01M127.8,835.3h.01M93.6,852.6h.01M136.7,859.1h.01M107.6,800.4h.01M104.0,809.3h.01M78.8,818.8h.01M131.3,852.6h.01M129.1,859.1h.01M122.2,841.7h.01M112.1,800.7h.01M105.4,789.8h.01M133.0,845.7h.01M114.8,842.9h.01M85.5,858.1h.01M114.7,805.6h.01M86.5,850.1h.01M86.6,835.4h.01M73.7,839.2h.01" stroke="#333" stroke-width="0.5" stroke-linecap="round" stroke-opacity="0.75"/>
<path d="M124.1,863.0 123.3,862.8 122.7,862.6 121.7,862.2 121.2,862.0 120.6,861.8 119.9,861.4 119.2,861.0 118.6,860.7 118.0,860.4 117.5,860.0 117.0,859.7 116.5,859.3 115.9,858.9 115.4,858.5 114.9,858.1 114.4,857.6 113.9,857.1 113.4,856.7 113.0,856.3 112.6,855.9 112.2,855.5 111.8,854.9 111.2,854.3 110.8,853.9 110.4,853.5 109.9,853.1 109.2,852.8 108.1,852.7 107.1,852.9 106.5,853.1 105.5,853.5 105.0,853.7 104.5,854.0 103.9,854.3 103.3,854.7 102.8,855.1 102.4,855.5 101.8,856.0 101.3,856.6 100.8,857.1 100.4,857.5 100.0,857.8 99.5,858.2 98.9,858.6 98.2,859.0 97.7,859.3 97.2,859.5 96.2,859.8 95.6,860.0 94.5,860.2 94.0,860.2 93.0,860.4 91.9,860.5 90.9,860.6 90.4,860.7 89.3,861.0 88.8,861.1 87.8,861.4 87.2,861.6 86.3,861.8 85.7,862.0 84.6,862.1 84.1,862.2 83.1,862.3 82.0,862.3 81.0,862.2 80.4,862.2 79.4,862.0 78.4,861.8 77.8,861.7 77.1,861.4 76.3,861.1 75.7,860.9 75.1,860.6 74.4,860.2 73.7,859.8 73.1,859.5 72.6,859.2 72.1,858.8 71.6,858.3 71.1,857.9 70.6,857.5 70.2,857.1 69.8,856.7 69.5,856.2 69.0,855.5 68.7,855.1 68.4,854.7 68.0,853.9 67.9,853.5 67.6,852.7 67.4,851.9 67.3,851.5 67.2,850.7 67.2,849.9 67.2,849.1 67.3,848.3 67.4,847.9 67.5,847.2 67.6,846.4 67.6,845.6 67.6,844.8 67.4,844.0 67.4,843.6 67.1,842.8 66.9,842.0 66.8,841.6 66.7,840.8 66.5,840.0 66.5,839.2 66.5,838.4 66.6,837.6 66.8,836.8 66.9,836.5 67.2,835.7 67.4,835.3 67.9,834.6 68.4,834.1 68.8,833.7 69.4,833.3 70.0,832.9 70.5,832.7 71.1,832.4 72.1,832.1 72.6,832.0 73.7,831.8 74.7,831.8 75.7,831.8 76.8,831.8 77.8,831.9 78.7,832.1 79.4,832.2 80.4,832.5 81.0,832.6 82.0,832.9 82.5,833.0 83.4,833.3 84.1,833.5 84.6,833.7 85.7,834.0 86.2,834.2 87.2,834.4 88.3,834.4 88.9,834.1 89.2,833.3 89.1,832.5 89.0,831.7 88.9,830.9 88.8,830.4 88.6,829.7 88.5,828.9 88.3,828.1 88.3,827.7 88.1,826.9 88.0,826.2 87.9,825.4 87.8,824.6 87.8,823.8 87.8,823.0 87.8,822.2 87.8,821.4 87.9,820.6 88.0,819.8 88.1,819.0 88.3,818.4 88.4,817.8 88.7,817.0 88.8,816.6 89.1,815.8 89.3,815.4 89.7,814.7 89.9,814.3 90.4,813.6 90.7,813.1 91.1,812.7 91.4,812.3 91.9,811.8 92.5,811.4 93.0,811.0 93.5,810.7 94.2,810.3 95.1,809.9 95.6,809.8 96.6,809.6 97.2,809.5 98.2,809.5 98.7,809.5 99.8,809.7 100.7,809.9 101.3,810.1 101.8,810.3 102.6,810.7 103.3,811.1 103.9,811.5 104.5,811.9 105.0,812.3 105.5,812.7 105.9,813.1 106.3,813.5 106.7,813.9 107.1,814.3 107.6,814.9 108.0,815.5 108.3,815.8 108.6,816.3 109.1,817.0 109.3,817.4 109.7,818.0 110.0,818.6 110.2,819.0 110.6,819.8 110.8,820.2 111.1,821.0 111.2,821.4 111.5,822.2 111.8,822.9 111.9,823.4 112.1,824.2 112.3,824.8 112.4,825.4 112.6,826.2 112.7,826.9 112.8,827.4 112.9,828.1 113.0,828.9 113.1,829.7 113.2,830.5 113.2,831.3 113.2,832.1 113.2,832.9 113.2,833.7 113.2,834.5 113.2,835.3 113.2,836.1 113.1,836.8 113.1,837.6 113.1,838.4 113.1,839.2 113.1,840.0 113.2,840.8 113.3,841.6 113.5,842.0 113.9,842.5 114.5,842.8 115.4,842.8 116.0,842.8 117.0,842.7 118.0,842.5 119.1,842.4 119.9,842.4 120.6,842.4 121.2,842.4 122.2,842.5 123.3,842.6 124.0,842.8 124.8,843.0 125.5,843.2 126.4,843.5 126.9,843.7 127.6,844.0 128.4,844.4 129.0,844.7 129.5,845.0 130.0,845.3 130.6,845.7 131.1,846.1 131.6,846.5 132.1,847.0 132.6,847.5 133.0,847.9 133.3,848.3 133.7,848.8 134.2,849.5 134.4,849.9 134.7,850.6 135.0,851.1 135.3,851.9 135.4,852.3 135.6,853.1 135.8,853.9 135.8,854.3 135.9,855.1 135.9,855.9 135.9,856.7 135.8,857.4 135.7,857.8 135.5,858.6 135.3,859.2 134.9,859.8 134.7,860.2 134.2,860.8 133.7,861.3 133.2,861.7 132.6,862.1 132.1,862.4 131.6,862.6 130.6,863.0 M97.0,813.1 97.7,812.9 98.7,812.9 99.8,813.0 100.3,813.1 101.3,813.4 101.8,813.6 102.4,813.9 103.1,814.3 103.7,814.7 104.2,815.1 104.7,815.5 105.1,815.8 105.5,816.3 106.0,816.8 106.5,817.4 106.8,817.8 107.1,818.2 107.6,818.9 107.9,819.4 108.1,819.8 108.5,820.6 108.7,821.0 109.1,821.8 109.3,822.2 109.6,823.0 109.7,823.4 110.0,824.2 110.2,824.8 110.4,825.4 110.6,826.2 110.7,826.9 110.8,827.3 111.0,828.1 111.1,828.9 111.2,829.7 111.2,830.2 111.3,830.9 111.4,831.7 111.4,832.5 111.4,833.3 111.4,834.1 111.4,834.9 111.4,835.7 111.4,836.5 111.3,837.2 111.2,838.0 111.2,838.4 111.1,839.2 111.0,840.0 110.9,840.8 110.8,841.6 110.7,842.0 110.6,842.8 110.4,843.6 110.2,844.3 110.1,844.8 109.8,845.6 109.6,846.0 109.2,846.8 108.9,847.2 108.6,847.5 108.1,848.0 107.6,848.5 107.1,848.8 106.5,849.1 105.7,849.5 105.0,849.8 104.2,849.9 103.4,850.0 102.4,850.1 101.3,850.1 100.3,850.3 99.8,850.6 99.3,851.1 99.1,851.5 98.8,852.3 98.6,852.7 98.2,853.5 98.0,853.9 97.7,854.4 97.2,855.1 96.8,855.5 96.3,855.9 95.8,856.3 95.1,856.7 94.5,856.9 94.0,857.1 93.0,857.4 92.5,857.6 91.4,857.8 90.9,858.0 90.3,858.2 89.4,858.6 88.8,859.0 88.3,859.2 87.8,859.5 87.2,859.8 86.3,860.2 85.7,860.5 85.1,860.6 84.1,860.9 83.4,861.0 82.5,861.1 81.5,861.1 80.4,861.1 79.9,861.0 78.9,860.8 78.1,860.6 77.3,860.4 76.8,860.2 75.9,859.8 75.2,859.5 74.7,859.2 74.2,858.9 73.7,858.6 73.1,858.2 72.6,857.8 72.1,857.4 71.6,856.9 71.1,856.3 70.7,855.9 70.4,855.5 70.0,854.9 69.6,854.3 69.4,853.9 69.1,853.1 69.0,852.5 68.8,851.9 68.7,851.1 68.7,850.3 68.8,849.5 69.0,848.9 69.1,848.3 69.4,847.5 69.6,847.2 69.9,846.4 70.0,846.0 70.2,845.2 70.3,844.4 70.3,843.6 70.2,842.8 70.0,842.0 70.0,841.6 69.9,840.8 69.9,840.0 70.0,839.2 70.1,838.8 70.3,838.0 70.5,837.6 71.1,836.9 71.4,836.5 71.9,836.1 72.4,835.7 73.1,835.3 73.7,835.1 74.3,834.9 75.2,834.7 76.3,834.6 77.3,834.6 78.4,834.6 79.4,834.8 80.0,834.9 81.0,835.1 81.7,835.3 82.5,835.5 83.1,835.7 84.1,836.1 84.6,836.3 85.1,836.5 85.9,836.8 86.7,837.2 87.2,837.5 87.8,837.7 88.3,838.0 89.1,838.4 89.8,838.8 90.4,839.2 90.9,839.4 91.4,839.7 92.1,840.0 93.0,840.2 93.5,839.7 93.6,839.2 93.5,838.4 93.5,838.0 93.3,837.2 93.1,836.5 93.0,836.0 92.8,835.3 92.5,834.5 92.4,834.1 92.2,833.3 92.0,832.5 91.8,832.1 91.6,831.3 91.4,830.5 91.3,830.1 91.1,829.3 90.9,828.5 90.9,828.1 90.7,827.3 90.6,826.5 90.5,825.8 90.5,825.0 90.4,824.2 90.4,823.4 90.5,822.6 90.5,821.8 90.7,821.0 90.8,820.2 90.9,819.8 91.2,819.0 91.4,818.3 91.6,817.8 91.9,817.2 92.3,816.6 92.5,816.2 93.0,815.6 93.5,815.1 93.9,814.7 94.4,814.3 95.0,813.9 95.6,813.6 96.1,813.3 97.0,813.1 M119.0,845.2 119.6,845.1 120.6,845.0 121.7,845.0 122.7,845.1 123.4,845.2 124.3,845.4 125.0,845.6 125.9,845.9 126.4,846.1 126.9,846.4 127.6,846.8 128.3,847.2 128.8,847.5 129.3,847.9 129.8,848.3 130.2,848.7 130.6,849.2 131.1,849.8 131.5,850.3 131.8,850.7 132.1,851.3 132.5,851.9 132.7,852.3 133.1,853.1 133.3,853.5 133.6,854.3 133.7,854.7 133.9,855.5 134.0,856.3 134.0,857.1 133.9,857.8 133.7,858.6 133.5,859.0 133.2,859.6 132.7,860.2 132.3,860.6 131.8,861.0 131.1,861.4 130.6,861.7 130.0,861.9 129.0,862.1 128.4,862.2 127.4,862.3 126.4,862.2 125.9,862.2 124.8,862.0 124.1,861.8 123.3,861.5 122.7,861.3 122.0,861.0 121.3,860.6 120.6,860.3 120.1,859.9 119.6,859.5 119.1,859.1 118.6,858.7 118.1,858.2 117.7,857.8 117.3,857.5 116.9,857.1 116.5,856.5 116.0,855.9 115.7,855.5 115.4,855.1 114.9,854.3 114.7,853.9 114.4,853.3 114.1,852.7 113.9,851.9 113.7,851.5 113.6,850.7 113.6,849.9 113.8,849.1 113.9,848.7 114.3,847.9 114.6,847.5 115.0,847.2 115.4,846.8 116.0,846.4 116.7,846.0 117.5,845.6 118.0,845.4 119.0,845.2 M98.8,815.8 99.6,815.8 100.3,815.9 101.3,816.2 101.8,816.4 102.4,816.7 103.0,817.0 103.5,817.4 104.0,817.8 104.5,818.2 105.0,818.8 105.5,819.4 105.8,819.8 106.1,820.2 106.5,820.8 106.9,821.4 107.1,821.8 107.5,822.6 107.7,823.0 108.1,823.8 108.2,824.2 108.5,825.0 108.6,825.4 108.9,826.2 109.1,826.9 109.2,827.3 109.4,828.1 109.5,828.9 109.7,829.7 109.7,830.1 109.8,830.9 109.9,831.7 110.0,832.5 110.0,833.3 110.0,834.1 110.0,834.9 110.0,835.7 109.9,836.5 109.9,837.2 109.8,838.0 109.7,838.6 109.6,839.2 109.4,840.0 109.2,840.8 109.1,841.2 108.9,842.0 108.6,842.7 108.5,843.2 108.1,843.9 107.8,844.4 107.6,844.8 107.1,845.4 106.5,845.9 106.0,846.3 105.5,846.6 105.0,846.8 103.9,847.1 102.9,847.0 101.9,846.8 101.3,846.5 100.8,846.2 100.3,845.9 99.8,845.4 99.2,844.9 98.8,844.4 98.4,844.0 98.2,843.6 97.7,842.8 97.5,842.4 97.2,841.8 96.9,841.2 96.6,840.7 96.3,840.0 96.1,839.4 95.9,838.8 95.6,838.0 95.4,837.6 95.2,836.8 95.0,836.5 94.8,835.7 94.5,834.9 94.4,834.5 94.2,833.7 94.0,833.2 93.8,832.5 93.6,831.7 93.5,831.2 93.3,830.5 93.2,829.7 93.0,828.9 93.0,828.5 92.8,827.7 92.7,826.9 92.7,826.2 92.7,825.4 92.7,824.6 92.7,823.8 92.8,823.0 92.9,822.2 93.0,821.8 93.2,821.0 93.5,820.3 93.7,819.8 94.0,819.2 94.3,818.6 94.6,818.2 95.1,817.7 95.6,817.2 96.1,816.8 96.6,816.5 97.2,816.2 98.2,815.9 98.8,815.8 M77.2,837.2 77.8,837.2 78.9,837.1 79.9,837.2 80.4,837.3 81.5,837.5 82.0,837.6 83.1,838.0 83.6,838.1 84.3,838.4 85.1,838.8 85.7,839.0 86.2,839.3 86.7,839.6 87.4,840.0 88.0,840.4 88.6,840.8 89.2,841.2 89.7,841.6 90.2,842.0 90.6,842.4 91.1,842.8 91.5,843.2 91.9,843.6 92.5,844.2 92.9,844.8 93.2,845.2 93.5,845.6 94.0,846.4 94.2,846.8 94.5,847.5 94.7,847.9 94.9,848.7 95.1,849.5 95.1,849.9 95.1,850.7 95.0,851.1 94.8,851.9 94.5,852.4 94.1,853.1 93.7,853.5 93.3,853.9 92.7,854.3 92.0,854.7 91.4,855.0 90.9,855.2 90.4,855.5 89.8,855.9 89.2,856.3 88.7,856.7 88.3,857.1 87.8,857.6 87.2,858.0 86.7,858.4 86.2,858.8 85.7,859.1 85.0,859.4 84.1,859.8 83.6,859.9 82.5,860.1 81.5,860.2 80.4,860.1 79.4,860.0 78.6,859.8 77.8,859.6 77.2,859.4 76.3,859.1 75.7,858.8 75.2,858.5 74.7,858.2 74.1,857.8 73.6,857.5 73.1,857.1 72.6,856.6 72.1,856.1 71.6,855.5 71.3,855.1 71.0,854.7 70.6,853.9 70.4,853.5 70.2,852.7 70.0,851.9 70.0,851.5 70.0,850.7 70.0,850.3 70.2,849.5 70.5,848.8 70.7,848.3 71.1,847.8 71.5,847.2 71.8,846.8 72.1,846.3 72.6,845.6 72.8,845.2 73.0,844.4 73.0,843.6 73.0,842.8 73.0,842.0 73.1,841.2 73.1,840.7 73.3,840.0 73.7,839.3 74.0,838.8 74.4,838.4 75.0,838.0 75.7,837.6 76.3,837.4 77.2,837.2 M119.9,847.9 120.6,847.8 121.7,847.6 122.7,847.7 123.8,847.8 124.3,848.0 125.3,848.3 125.9,848.6 126.4,848.9 126.9,849.2 127.5,849.5 128.0,849.9 128.5,850.3 129.0,850.7 129.5,851.2 130.0,851.7 130.6,852.3 130.9,852.7 131.2,853.1 131.6,853.7 131.9,854.3 132.1,854.7 132.4,855.5 132.6,856.3 132.6,857.0 132.6,857.1 132.6,857.8 132.3,858.6 132.1,859.0 131.6,859.7 131.1,860.2 130.6,860.5 130.0,860.8 129.4,861.0 128.5,861.3 127.4,861.4 126.4,861.3 125.3,861.2 124.6,861.0 123.8,860.8 123.3,860.5 122.6,860.2 121.9,859.8 121.3,859.4 120.8,859.0 120.3,858.6 119.9,858.2 119.5,857.8 119.1,857.3 118.6,856.7 118.4,856.3 118.0,855.6 117.8,855.1 117.5,854.4 117.3,853.9 117.2,853.1 117.1,852.3 117.0,851.5 117.2,850.7 117.5,849.9 117.7,849.5 118.0,849.1 118.6,848.6 119.1,848.3 119.9,847.9 M99.0,818.6 99.8,818.5 100.7,818.6 101.3,818.8 101.9,819.0 102.6,819.4 103.2,819.8 103.7,820.2 104.1,820.6 104.5,821.0 105.0,821.6 105.4,822.2 105.7,822.6 106.0,823.2 106.4,823.8 106.6,824.2 106.9,825.0 107.1,825.4 107.4,826.2 107.6,826.7 107.8,827.3 108.0,828.1 108.1,828.7 108.3,829.3 108.4,830.1 108.5,830.9 108.6,831.7 108.6,832.1 108.7,832.9 108.7,833.7 108.7,834.5 108.7,835.3 108.7,836.1 108.6,836.5 108.5,837.2 108.4,838.0 108.3,838.8 108.1,839.4 107.9,840.0 107.7,840.8 107.5,841.2 107.1,842.0 106.9,842.4 106.5,842.9 106.0,843.5 105.5,844.0 105.0,844.3 104.5,844.5 103.4,844.6 102.4,844.5 101.8,844.2 101.3,844.0 100.8,843.6 100.3,843.1 99.8,842.6 99.3,842.0 99.0,841.6 98.7,841.1 98.3,840.4 98.1,840.0 97.7,839.3 97.5,838.8 97.2,838.1 97.0,837.6 96.7,836.8 96.5,836.5 96.2,835.7 96.1,835.3 95.9,834.5 95.6,833.7 95.5,833.3 95.3,832.5 95.1,831.7 95.1,831.3 94.9,830.5 94.8,829.7 94.7,828.9 94.6,828.1 94.6,827.3 94.5,826.5 94.6,825.8 94.6,825.0 94.7,824.2 94.9,823.4 95.1,822.8 95.3,822.2 95.6,821.5 95.8,821.0 96.1,820.6 96.6,820.0 97.2,819.5 97.7,819.1 98.2,818.9 99.0,818.6 M78.7,840.0 79.4,839.9 80.4,839.8 81.5,839.9 82.0,840.0 83.1,840.3 83.6,840.5 84.4,840.8 85.1,841.2 85.7,841.4 86.2,841.8 86.7,842.1 87.2,842.4 87.8,842.8 88.3,843.3 88.8,843.8 89.3,844.3 89.7,844.8 90.1,845.2 90.4,845.6 90.8,846.4 91.0,846.8 91.4,847.5 91.5,847.9 91.6,848.7 91.6,849.5 91.4,850.3 91.2,850.7 90.9,851.3 90.4,851.8 89.8,852.3 89.3,852.7 88.9,853.1 88.6,853.5 88.3,853.9 87.8,854.7 87.6,855.1 87.2,855.6 86.9,856.3 86.6,856.7 86.2,857.1 85.7,857.6 85.1,858.1 84.6,858.4 84.1,858.7 83.1,859.0 82.5,859.2 81.5,859.3 80.4,859.3 79.4,859.2 78.6,859.0 77.8,858.8 77.3,858.6 76.3,858.2 75.7,857.9 75.2,857.6 74.7,857.3 74.2,856.9 73.7,856.5 73.1,856.0 72.7,855.5 72.4,855.1 72.1,854.7 71.6,853.9 71.5,853.5 71.2,852.7 71.1,851.9 71.1,851.1 71.2,850.3 71.5,849.5 71.7,849.1 72.1,848.6 72.6,848.0 73.1,847.5 73.6,847.2 74.0,846.8 74.5,846.4 75.0,846.0 75.3,845.6 75.7,844.9 75.9,844.4 76.1,843.6 76.2,842.8 76.3,842.4 76.6,841.6 76.9,841.2 77.3,840.7 77.8,840.4 78.7,840.0 M121.4,850.7 122.2,850.5 123.3,850.4 124.3,850.4 125.3,850.7 125.9,850.8 126.6,851.1 127.4,851.5 127.9,851.8 128.5,852.2 129.0,852.6 129.5,853.0 130.0,853.5 130.3,853.9 130.6,854.3 131.1,855.1 131.2,855.5 131.5,856.3 131.5,857.1 131.4,857.8 131.1,858.6 130.8,859.0 130.4,859.4 129.8,859.8 129.0,860.2 128.5,860.4 127.4,860.5 126.4,860.5 125.3,860.4 124.7,860.2 123.8,859.9 123.3,859.6 122.7,859.4 122.2,859.0 121.7,858.6 121.2,858.1 120.6,857.5 120.3,857.1 120.0,856.7 119.7,855.9 119.5,855.5 119.4,854.7 119.3,853.9 119.4,853.1 119.6,852.6 120.0,851.9 120.3,851.5 120.7,851.1 121.4,850.7 M98.9,821.8 99.8,821.5 100.8,821.4 101.8,821.7 102.4,822.0 102.9,822.3 103.4,822.8 103.9,823.3 104.3,823.8 104.6,824.2 105.0,824.7 105.4,825.4 105.6,825.8 105.9,826.5 106.1,826.9 106.4,827.7 106.5,828.3 106.7,828.9 106.9,829.7 107.1,830.5 107.1,830.9 107.3,831.7 107.3,832.5 107.4,833.3 107.4,834.1 107.4,834.9 107.3,835.7 107.2,836.5 107.1,837.2 107.0,837.6 106.8,838.4 106.5,839.2 106.4,839.6 106.0,840.3 105.7,840.8 105.3,841.2 104.9,841.6 104.1,842.0 103.4,842.1 102.4,842.0 101.8,841.8 101.3,841.4 100.8,841.0 100.3,840.4 99.9,840.0 99.7,839.6 99.2,839.0 98.9,838.4 98.7,838.0 98.3,837.2 98.2,836.8 97.8,836.1 97.7,835.6 97.4,834.9 97.2,834.1 97.1,833.7 96.9,832.9 96.7,832.1 96.6,831.5 96.5,830.9 96.4,830.1 96.4,829.3 96.3,828.5 96.3,827.7 96.4,826.9 96.5,826.2 96.6,825.4 96.7,825.0 97.0,824.2 97.2,823.8 97.6,823.0 97.9,822.6 98.3,822.2 98.9,821.8 M81.9,844.4 82.5,844.2 83.6,844.4 84.1,844.6 84.6,844.8 85.1,845.2 85.7,845.7 86.1,846.4 86.3,846.8 86.4,847.5 86.3,848.3 86.2,848.9 86.0,849.5 86.0,850.3 86.0,851.1 86.0,851.9 86.0,852.7 86.0,853.5 85.9,854.3 85.7,855.1 85.6,855.5 85.2,856.3 84.9,856.7 84.5,857.1 84.0,857.5 83.3,857.8 82.5,858.2 82.0,858.3 81.0,858.4 79.9,858.4 78.9,858.3 78.4,858.2 77.4,857.8 76.8,857.6 76.3,857.3 75.7,857.0 75.2,856.7 74.6,856.3 74.2,855.9 73.7,855.3 73.2,854.7 72.9,854.3 72.6,853.7 72.4,853.1 72.2,852.3 72.2,851.5 72.3,850.7 72.6,850.0 72.9,849.5 73.3,849.1 73.7,848.7 74.3,848.3 75.0,847.9 75.7,847.6 76.3,847.4 77.1,847.2 77.8,846.9 78.5,846.8 79.4,846.4 79.9,846.1 80.4,845.7 81.0,845.2 81.3,844.8 81.9,844.4 M123.1,852.3 123.8,852.2 124.8,852.1 125.8,852.3 126.4,852.5 126.9,852.7 127.7,853.1 128.3,853.5 128.8,853.9 129.2,854.3 129.5,854.7 130.0,855.5 130.2,855.9 130.4,856.7 130.3,857.5 130.0,858.1 129.6,858.6 129.2,859.0 128.5,859.4 127.9,859.6 126.9,859.7 125.9,859.6 125.0,859.4 124.3,859.2 123.8,859.0 123.2,858.6 122.7,858.2 122.2,857.8 121.7,857.2 121.4,856.7 121.2,856.2 121.0,855.5 120.9,854.7 121.2,853.9 121.4,853.5 121.7,853.1 122.2,852.7 123.1,852.3 M99.8,825.0 100.8,824.6 101.8,824.8 102.4,825.0 102.9,825.4 103.4,825.9 103.9,826.5 104.2,826.9 104.5,827.5 104.8,828.1 105.0,828.6 105.2,829.3 105.4,830.1 105.5,830.5 105.7,831.3 105.8,832.1 105.9,832.9 105.9,833.7 105.9,834.5 105.8,835.3 105.7,836.1 105.5,836.7 105.3,837.2 105.0,837.9 104.6,838.4 104.3,838.8 103.6,839.2 102.9,839.3 102.3,839.2 101.6,838.8 101.1,838.4 100.8,838.0 100.3,837.4 100.0,836.8 99.7,836.5 99.4,835.7 99.2,835.3 98.9,834.5 98.7,833.8 98.6,833.3 98.4,832.5 98.3,831.7 98.2,831.1 98.1,830.5 98.1,829.7 98.1,828.9 98.2,828.4 98.3,827.7 98.5,826.9 98.7,826.4 99.1,825.8 99.4,825.4 99.8,825.0 M76.6,848.7 77.3,848.6 78.4,848.6 79.4,848.7 79.9,848.8 80.9,849.1 81.5,849.4 82.0,849.7 82.5,850.1 83.1,850.7 83.4,851.1 83.7,851.5 84.1,852.3 84.2,852.7 84.4,853.5 84.4,854.3 84.3,855.1 84.1,855.5 83.6,856.3 83.1,856.7 82.5,857.1 82.0,857.3 81.3,857.5 80.4,857.6 79.4,857.5 78.9,857.4 77.8,857.2 77.3,857.0 76.7,856.7 76.0,856.3 75.5,855.9 75.0,855.5 74.6,855.1 74.2,854.5 73.8,853.9 73.6,853.5 73.3,852.7 73.3,851.9 73.5,851.1 73.7,850.7 74.2,850.0 74.7,849.5 75.2,849.2 75.7,849.0 76.6,848.7 M124.6,853.5 125.3,853.5 125.9,853.6 126.8,853.9 127.4,854.2 127.9,854.6 128.4,855.1 128.7,855.5 129.0,856.1 129.1,856.7 129.0,857.3 128.7,857.8 128.3,858.2 127.4,858.6 126.9,858.7 125.9,858.7 125.3,858.6 124.4,858.2 123.8,857.8 123.3,857.5 123.0,857.1 122.7,856.7 122.4,855.9 122.4,855.1 122.7,854.4 123.3,853.9 123.8,853.7 124.6,853.5 M101.3,829.7 101.3,829.6 101.8,829.5 102.3,829.7 102.4,829.7 102.7,830.1 102.9,830.4 103.0,830.5 103.1,830.9 103.3,831.3 103.4,831.7 103.4,831.9 103.5,832.1 103.5,832.5 103.5,832.9 103.5,833.3 103.4,833.7 103.4,833.7 103.3,834.1 103.0,834.5 102.9,834.7 102.4,834.8 101.8,834.6 101.8,834.5 101.5,834.1 101.3,833.9 101.2,833.7 101.1,833.3 100.9,832.9 100.8,832.5 100.8,832.4 100.8,832.1 100.7,831.7 100.7,831.3 100.8,830.9 100.8,830.6 100.8,830.5 101.0,830.1 101.3,829.7 M77.5,849.9 78.2,849.9 78.9,850.0 79.9,850.3 80.4,850.6 81.0,850.9 81.5,851.3 82.0,851.8 82.4,852.3 82.6,852.7 82.9,853.5 82.9,854.3 82.7,855.1 82.4,855.5 82.0,855.9 81.3,856.3 80.4,856.5 79.4,856.5 78.4,856.3 77.8,856.2 77.2,855.9 76.5,855.5 76.0,855.1 75.6,854.7 75.2,854.2 74.8,853.5 74.7,853.1 74.6,852.3 74.7,851.7 75.0,851.1 75.4,850.7 76.0,850.3 76.8,850.0 77.5,849.9 M124.6,855.5 124.8,855.3 125.3,855.1 125.9,855.2 126.4,855.4 126.6,855.5 126.9,855.8 127.0,855.9 127.2,856.3 127.2,856.7 126.9,857.1 126.9,857.1 126.4,857.3 125.9,857.3 125.3,857.1 125.2,857.1 124.8,856.8 124.7,856.7 124.5,856.3 124.4,855.9 124.6,855.5" fill="none" stroke="#4a4a4a" stroke-width="0.4" stroke-linejoin="round"/>
<rect x="49.40" y="767.60" width="92.10" height="95.20" fill="none" stroke="#666" stroke-width="0.6"/>
<path d="M49.4,778.2h-2.2M49.4,794.6h-2.2M49.4,811.7h-2.2M49.4,828.3h-2.2M49.4,845.4h-2.2M49.4,862.3h-2.2M49.4,786.5h-1.2M49.4,802.9h-1.2M49.4,820.0h-1.2M49.4,836.6h-1.2M49.4,853.7h-1.2M49.4,770.0h-1.2" stroke="#444" stroke-width="0.5"/>
<text x="45.80" y="780.37" font-size="6.2" text-anchor="end" >500K</text>
<text x="45.80" y="796.77" font-size="6.2" text-anchor="end" >400K</text>
<text x="45.80" y="813.87" font-size="6.2" text-anchor="end" >300K</text>
<text x="45.80" y="830.47" font-size="6.2" text-anchor="end" >200K</text>
<text x="45.80" y="847.57" font-size="6.2" text-anchor="end" >100K</text>
<text x="45.80" y="864.47" font-size="6.2" text-anchor="end" >0</text>
<path d="M53.2,862.8v2.2M76.2,862.8v2.2M97.9,862.8v2.2M115.4,862.8v2.2M132.0,862.8v2.2M103.2,862.8v1.2M106.2,862.8v1.2M108.4,862.8v1.2M110.1,862.8v1.2M111.5,862.8v1.2M112.7,862.8v1.2M113.7,862.8v1.2M114.6,862.8v1.2M120.4,862.8v1.2M123.3,862.8v1.2M125.4,862.8v1.2M127.0,862.8v1.2M128.3,862.8v1.2M129.4,862.8v1.2M130.4,862.8v1.2M131.2,862.8v1.2M137.0,862.8v1.2M139.9,862.8v1.2M142.0,862.8v1.2M60.0,862.8v1.2M65.0,862.8v1.2M70.0,862.8v1.2M83.0,862.8v1.2M88.0,862.8v1.2M92.0,862.8v1.2" stroke="#444" stroke-width="0.5"/>
<text x="53.20" y="873.80" font-size="6.2" text-anchor="middle">−10<tspan font-size="4.3" dy="-2.6">3</tspan></text>
<text x="76.20" y="873.80" font-size="6.2" text-anchor="middle">0</text>
<text x="97.90" y="873.80" font-size="6.2" text-anchor="middle">10<tspan font-size="4.3" dy="-2.6">3</tspan></text>
<text x="115.40" y="873.80" font-size="6.2" text-anchor="middle">10<tspan font-size="4.3" dy="-2.6">4</tspan></text>
<text x="132.00" y="873.80" font-size="6.2" text-anchor="middle">10<tspan font-size="4.3" dy="-2.6">5</tspan></text>
<path d="M93.4,772.5 H140.6 V862.2 H93.4 Z" fill="none" stroke="#E2262C" stroke-width="1.2" />
<text x="51.90" y="777.07" font-size="6.2" >CD45+</text>
<text x="51.90" y="783.67" font-size="6.2" >52.3%</text>
<text x="20.10" y="817.01" font-size="6.6" text-anchor="middle" transform="rotate(-90 20.10 814.70)" >SSC-A</text>
<text x="90.20" y="884.98" font-size="6.8" text-anchor="middle" >CD45-PECy7</text>
<path d="M146.80,851.10 L161.50,851.10 M156.90,846.50 L161.50,851.10 L156.90,855.70" fill="none" stroke="#E2262C" stroke-width="1.25" stroke-linecap="round" stroke-linejoin="round"/>
<path d="M261.4,849.3h.01M216.1,808.7h.01M198.0,857.3h.01M189.4,849.5h.01M207.3,800.7h.01M206.9,841.0h.01M214.1,825.8h.01M220.5,813.2h.01M253.1,858.5h.01M259.2,794.9h.01M186.8,851.9h.01M236.5,804.5h.01M222.2,799.4h.01M226.0,806.7h.01M187.1,856.5h.01M231.4,836.6h.01M214.3,810.7h.01M213.8,804.0h.01M193.8,841.3h.01M220.4,816.9h.01M192.7,860.3h.01M228.0,783.9h.01M244.8,810.5h.01M230.0,786.6h.01M202.9,814.8h.01M222.5,825.2h.01M203.1,810.7h.01M235.5,825.4h.01M181.7,812.9h.01M222.5,812.2h.01M223.7,813.6h.01M181.2,792.6h.01M209.6,818.6h.01M191.3,853.8h.01M203.9,837.5h.01M200.9,818.0h.01M203.9,831.2h.01M226.2,842.6h.01M248.1,803.6h.01M223.3,854.0h.01M206.1,801.0h.01M194.5,828.6h.01M261.9,800.5h.01M216.3,841.0h.01M208.6,811.1h.01M235.9,798.7h.01M246.7,813.7h.01M208.0,842.2h.01M212.6,830.7h.01M190.4,854.7h.01M237.4,827.9h.01M221.9,847.1h.01M204.2,858.8h.01M196.6,833.5h.01M232.8,856.9h.01M209.4,835.4h.01M194.2,858.0h.01M222.6,834.3h.01M216.5,826.9h.01M203.1,835.6h.01M193.8,857.6h.01M204.9,836.2h.01M215.7,813.9h.01M248.8,812.3h.01M200.9,818.4h.01M215.6,832.3h.01M238.9,823.2h.01M210.2,795.0h.01M185.5,853.8h.01M238.7,829.0h.01M196.2,826.9h.01M234.3,824.9h.01M192.5,855.7h.01M244.9,830.4h.01M187.2,837.7h.01M228.5,812.6h.01M205.3,841.8h.01M246.9,797.6h.01M206.3,852.1h.01M267.5,836.2h.01M185.6,861.3h.01M227.6,840.4h.01M217.7,804.5h.01M217.5,816.2h.01M200.4,823.1h.01M190.9,853.5h.01M218.9,790.7h.01M234.2,812.1h.01M239.9,844.8h.01M206.7,834.3h.01M187.1,857.2h.01M216.4,807.3h.01M217.1,802.0h.01M189.5,851.3h.01M195.5,855.2h.01M197.3,838.4h.01M191.8,835.4h.01M209.2,840.3h.01M266.7,789.1h.01M235.3,810.6h.01M187.2,840.9h.01M229.6,789.0h.01M210.5,845.7h.01M195.3,852.0h.01M202.7,851.5h.01M225.1,799.5h.01M227.2,796.1h.01M198.4,853.6h.01M202.5,794.8h.01M212.5,818.2h.01M212.4,796.0h.01M221.0,814.5h.01M198.7,846.8h.01M240.7,816.7h.01M197.5,854.5h.01M228.9,824.8h.01M197.5,854.2h.01M257.7,799.7h.01M218.3,797.3h.01M229.7,801.6h.01M205.8,853.9h.01M220.7,794.9h.01M198.9,855.3h.01M220.9,807.2h.01M206.7,832.6h.01M265.2,828.7h.01M192.2,856.2h.01M241.3,800.6h.01M212.4,809.7h.01M204.5,852.9h.01M222.1,824.9h.01M189.2,860.8h.01M215.4,806.3h.01M223.3,793.3h.01M211.2,841.9h.01M237.2,839.1h.01M199.5,829.9h.01M204.8,830.8h.01M233.7,799.2h.01M210.8,821.5h.01M231.4,792.5h.01M218.0,840.3h.01M183.7,851.0h.01M232.6,838.0h.01M239.6,802.4h.01M193.7,856.7h.01M207.4,835.7h.01M195.8,820.7h.01M212.0,831.1h.01M208.4,815.8h.01M190.8,856.7h.01M202.5,836.2h.01M211.7,842.6h.01M196.9,831.0h.01M264.1,849.3h.01M218.8,815.0h.01M215.1,840.7h.01M209.9,809.3h.01M215.9,831.3h.01M192.8,851.8h.01M252.6,827.6h.01M227.1,792.6h.01M228.9,794.3h.01M251.7,812.7h.01M221.5,820.1h.01M220.0,829.9h.01M223.2,800.0h.01M237.2,841.9h.01M242.2,852.1h.01M205.9,827.4h.01M199.4,826.2h.01M198.2,792.1h.01M235.6,851.6h.01M207.7,827.4h.01M188.3,852.9h.01M207.8,838.1h.01M205.1,852.7h.01M216.9,826.5h.01M200.1,841.6h.01M203.8,855.7h.01M213.1,839.7h.01M214.9,828.3h.01M192.3,861.3h.01M232.2,793.4h.01M199.9,851.8h.01M267.2,835.1h.01M225.1,799.1h.01M219.5,831.4h.01M198.2,856.5h.01M197.3,854.9h.01M222.0,787.9h.01M199.0,859.3h.01M222.8,809.4h.01M212.5,811.0h.01M183.8,856.4h.01M228.9,786.4h.01M218.0,829.2h.01M212.2,842.7h.01M248.1,814.3h.01M226.8,795.4h.01M221.0,820.0h.01M265.1,814.7h.01M218.4,809.9h.01M222.2,842.2h.01M213.1,828.6h.01M215.8,839.8h.01M236.7,792.1h.01M206.0,839.9h.01M234.8,815.6h.01M195.9,858.6h.01M216.7,833.8h.01M256.6,805.0h.01M210.8,822.6h.01M203.6,829.9h.01M215.3,800.1h.01M220.4,799.5h.01M208.4,837.9h.01M253.4,827.5h.01M223.2,840.0h.01M218.0,830.7h.01M197.3,856.4h.01M201.3,825.1h.01M228.8,816.7h.01M207.6,805.8h.01M256.3,801.9h.01M197.8,844.1h.01M256.2,796.9h.01M198.1,846.8h.01M224.0,836.5h.01M248.3,808.8h.01M208.6,826.2h.01M205.0,852.5h.01M206.6,829.3h.01M244.9,801.5h.01M216.5,835.0h.01M233.2,803.2h.01M230.5,808.2h.01M212.9,825.7h.01M239.2,810.1h.01M228.3,857.9h.01M200.9,851.8h.01M211.9,828.3h.01M187.2,850.3h.01M214.6,800.6h.01M201.7,827.8h.01M229.3,810.8h.01M214.1,815.3h.01M202.6,851.9h.01M190.9,859.7h.01M217.9,832.2h.01M204.1,845.4h.01M204.5,822.3h.01M222.0,846.1h.01M234.9,798.1h.01M193.7,835.5h.01M247.5,797.2h.01M207.7,802.5h.01M230.1,849.3h.01M203.3,848.2h.01M199.4,837.8h.01M218.2,836.7h.01M238.3,789.6h.01M239.2,796.0h.01M215.6,826.0h.01M254.1,806.3h.01M197.6,858.3h.01M242.4,802.7h.01M246.3,801.3h.01M218.4,784.3h.01M186.9,857.4h.01M247.4,803.1h.01M217.6,816.4h.01M230.2,818.3h.01M192.1,855.6h.01M225.6,830.4h.01M232.6,789.9h.01M233.1,790.0h.01M215.0,827.0h.01M206.6,849.3h.01M223.8,812.7h.01M208.2,832.0h.01M206.9,825.7h.01M199.0,845.1h.01M212.5,829.1h.01M218.7,830.5h.01M225.4,814.6h.01M216.7,830.5h.01M240.2,787.4h.01M235.8,801.6h.01M220.6,846.8h.01M204.6,854.4h.01M244.2,810.4h.01M210.3,837.0h.01M204.0,840.2h.01M212.6,834.6h.01M212.9,804.1h.01M238.3,790.2h.01M245.7,788.1h.01M204.5,852.3h.01M198.8,857.4h.01M196.4,819.6h.01M217.1,793.0h.01M212.9,839.5h.01M199.0,844.0h.01M199.1,851.5h.01M200.8,843.7h.01M210.5,816.5h.01M210.4,852.6h.01M181.2,846.1h.01M208.0,826.8h.01M241.9,857.9h.01M187.5,818.7h.01M189.2,858.6h.01M195.8,854.0h.01M245.7,823.7h.01M205.7,836.4h.01M208.4,807.9h.01M231.1,834.0h.01M236.9,815.6h.01M195.2,818.2h.01M199.2,798.8h.01M222.7,810.5h.01M211.2,834.5h.01M218.3,798.0h.01M213.0,823.8h.01M206.8,821.8h.01M192.3,839.7h.01M211.9,836.7h.01M217.1,833.3h.01M222.2,816.7h.01M221.9,818.0h.01M182.1,841.3h.01M226.3,835.6h.01M201.5,813.5h.01M210.3,824.1h.01M225.0,823.9h.01M228.9,804.7h.01M211.1,835.1h.01M237.1,850.8h.01M223.7,828.4h.01M208.6,813.0h.01M250.3,823.6h.01M238.7,800.3h.01M209.7,852.6h.01M209.6,830.4h.01M236.9,804.2h.01M196.5,822.7h.01M203.7,846.7h.01M221.6,826.8h.01M251.3,838.6h.01M198.3,860.2h.01M228.2,796.6h.01M209.9,810.8h.01M215.9,804.5h.01M203.0,831.4h.01M242.3,801.8h.01M213.8,831.0h.01M207.2,840.7h.01M187.6,807.6h.01M201.6,802.3h.01M193.8,853.3h.01M198.2,851.4h.01M195.9,795.4h.01M195.8,859.3h.01M251.9,835.0h.01M218.4,819.9h.01M208.8,818.0h.01M206.6,832.4h.01M203.2,841.7h.01M190.5,854.9h.01M255.8,794.7h.01M197.2,811.9h.01M219.7,845.4h.01M267.1,796.2h.01M211.1,821.7h.01M211.0,848.8h.01M204.3,845.0h.01M263.6,853.5h.01M212.9,843.4h.01M253.2,806.3h.01M198.8,840.4h.01M248.0,797.7h.01M197.5,848.3h.01M222.1,815.0h.01M198.5,853.4h.01M228.6,827.9h.01M229.4,798.0h.01M216.7,841.1h.01M258.5,801.6h.01M233.6,795.1h.01M218.2,795.8h.01M220.0,799.1h.01M231.8,855.5h.01M217.4,816.2h.01M257.5,802.2h.01M238.9,827.8h.01M216.2,814.6h.01M211.1,826.4h.01M224.6,820.0h.01M207.3,839.9h.01M251.8,803.8h.01M228.9,845.9h.01M217.5,821.3h.01M207.6,837.6h.01M235.9,809.1h.01M188.0,851.7h.01M202.9,854.6h.01M220.9,830.7h.01M227.8,841.6h.01M224.7,854.1h.01M217.4,819.3h.01M239.4,793.5h.01M206.5,838.7h.01M207.6,850.6h.01M206.1,852.5h.01M239.2,834.9h.01M209.8,821.6h.01M211.4,808.1h.01M218.1,828.2h.01M204.3,838.4h.01M237.1,806.2h.01M236.2,800.5h.01M214.1,819.9h.01M202.3,857.2h.01M198.3,830.5h.01M218.8,824.9h.01M222.1,793.9h.01M224.7,848.6h.01M198.2,845.2h.01M241.3,819.8h.01M197.3,854.6h.01M193.0,859.5h.01M247.2,800.1h.01M199.9,843.1h.01M219.3,809.5h.01M263.2,798.6h.01M220.6,814.8h.01M227.0,850.4h.01M211.7,816.3h.01M204.1,845.6h.01M211.0,828.3h.01M215.0,816.7h.01M240.7,799.7h.01M208.5,827.0h.01M219.5,807.1h.01M212.5,822.4h.01M189.8,855.8h.01M237.8,812.1h.01M234.0,790.6h.01M218.7,825.2h.01M222.7,850.8h.01M234.8,820.9h.01M247.2,807.0h.01M216.8,794.9h.01M210.1,822.9h.01M234.3,804.5h.01M209.0,841.6h.01M240.2,800.0h.01M195.8,858.1h.01M200.6,837.4h.01M194.7,856.9h.01M207.6,826.8h.01M226.6,812.1h.01M244.2,815.9h.01M226.4,807.6h.01M243.1,826.9h.01M213.8,804.5h.01M194.0,859.7h.01M216.9,822.0h.01M208.6,846.7h.01M190.1,853.7h.01M249.8,795.6h.01M208.0,845.8h.01M200.2,853.5h.01M239.3,804.4h.01M187.7,843.9h.01M223.2,801.5h.01M203.4,840.8h.01M235.0,824.3h.01M229.7,786.6h.01M228.8,800.1h.01M227.6,788.8h.01M205.3,835.0h.01M209.7,806.3h.01M185.4,826.0h.01M235.6,813.3h.01M202.5,855.2h.01M232.2,807.8h.01M204.0,828.5h.01M246.0,802.9h.01M221.6,832.8h.01M233.2,819.9h.01M204.9,846.1h.01M238.7,820.9h.01M210.4,835.2h.01M210.9,806.0h.01M188.5,858.7h.01M199.6,858.4h.01M205.1,836.6h.01M218.6,833.9h.01M222.7,806.6h.01M205.7,782.4h.01M225.2,825.9h.01M203.0,835.5h.01M231.4,813.5h.01M195.1,859.7h.01M222.1,837.0h.01M227.7,796.5h.01M228.0,827.9h.01M205.8,855.8h.01M209.7,853.7h.01M205.8,832.8h.01M225.7,801.7h.01M241.4,808.9h.01M225.7,794.5h.01M199.2,845.8h.01M220.8,809.9h.01M202.9,783.0h.01M199.0,850.1h.01M261.1,829.7h.01M201.9,805.6h.01M206.2,843.4h.01M191.1,857.6h.01M208.0,833.8h.01M199.2,821.2h.01M213.7,817.8h.01M217.9,831.1h.01M216.9,842.4h.01M210.7,835.7h.01M223.0,812.4h.01M257.8,803.8h.01M234.0,802.1h.01M185.8,854.3h.01M236.3,805.2h.01M207.8,844.9h.01M216.7,844.6h.01M249.8,817.1h.01M206.4,792.0h.01M196.8,857.9h.01M210.4,839.5h.01M211.0,834.5h.01M198.1,833.2h.01M201.7,835.1h.01M206.5,856.3h.01M245.5,816.7h.01M199.0,824.7h.01M211.5,821.4h.01M184.8,848.7h.01M248.2,840.2h.01M208.4,832.9h.01M241.9,813.0h.01M219.2,810.2h.01M207.7,815.8h.01M233.9,803.5h.01M237.6,794.9h.01M220.4,818.7h.01M196.6,802.6h.01M216.0,848.5h.01M201.1,857.4h.01M211.1,844.2h.01M208.8,813.4h.01M220.0,796.5h.01M208.7,846.7h.01M215.4,831.7h.01M229.8,794.4h.01M199.1,834.8h.01M232.8,810.4h.01M227.4,811.8h.01M212.6,846.7h.01M192.8,860.5h.01M242.7,809.9h.01M215.1,846.2h.01M212.1,804.7h.01M228.3,801.3h.01M231.6,798.6h.01M208.2,829.9h.01M202.1,855.0h.01M213.1,855.7h.01M208.9,836.2h.01M190.2,846.0h.01M202.8,823.8h.01M252.7,794.9h.01M187.3,854.1h.01M227.9,789.3h.01M232.9,811.8h.01M233.0,809.9h.01M244.5,796.2h.01M197.6,844.4h.01M209.2,816.9h.01M208.6,844.8h.01M205.8,833.4h.01M197.9,838.4h.01M211.7,825.1h.01M189.4,859.1h.01M212.5,784.8h.01M221.4,821.9h.01M240.8,823.3h.01M230.4,823.3h.01M215.2,827.6h.01M210.7,801.1h.01M222.0,806.1h.01M217.5,825.7h.01M219.5,828.0h.01M233.8,802.1h.01M223.6,848.3h.01M247.0,825.6h.01M244.9,812.8h.01M218.9,829.0h.01M252.7,831.5h.01M225.9,813.4h.01M194.6,856.6h.01M223.2,839.9h.01M243.0,813.5h.01M217.9,804.7h.01M206.7,844.4h.01M206.3,812.8h.01M204.6,829.9h.01M218.2,816.1h.01M251.0,816.9h.01M235.9,787.7h.01M188.8,855.2h.01M194.5,852.3h.01M200.0,821.9h.01M247.2,784.1h.01M247.7,809.6h.01M257.6,797.1h.01M226.2,800.9h.01M212.5,813.4h.01M225.5,808.9h.01M220.9,801.9h.01M236.7,797.4h.01M236.6,797.5h.01M186.5,857.2h.01M256.7,809.3h.01M200.2,843.8h.01M210.1,828.1h.01M224.8,784.8h.01M188.1,855.5h.01M214.5,830.1h.01M210.7,843.5h.01M217.8,801.1h.01M214.9,834.2h.01M248.5,836.9h.01M218.0,861.4h.01M189.7,852.5h.01M234.2,814.2h.01M210.0,836.4h.01M208.7,795.2h.01M219.9,800.3h.01M228.5,850.8h.01M213.4,795.6h.01M217.9,809.3h.01M186.1,856.7h.01M193.7,857.4h.01M207.9,837.1h.01M241.1,794.5h.01M220.1,815.9h.01M212.8,834.1h.01M186.6,833.9h.01M199.1,854.6h.01M225.3,810.8h.01M211.1,856.9h.01M199.9,835.2h.01M203.0,843.6h.01M206.0,796.1h.01M204.1,806.5h.01M228.8,801.1h.01M211.8,817.9h.01M208.6,827.1h.01M220.0,807.9h.01M221.5,790.1h.01M217.8,827.5h.01M214.6,844.4h.01M220.6,801.3h.01M221.9,821.5h.01M218.0,836.1h.01M208.2,825.1h.01M205.7,848.0h.01M216.9,787.5h.01M220.9,804.8h.01M210.8,849.2h.01M190.1,855.8h.01M256.7,794.8h.01M248.1,792.6h.01M203.4,834.9h.01M246.4,829.8h.01M189.2,855.5h.01M196.5,828.4h.01M224.8,806.5h.01M218.3,842.8h.01M203.1,824.9h.01M206.7,805.4h.01M200.1,833.7h.01M234.6,840.1h.01M217.1,805.2h.01M206.4,826.4h.01M229.5,785.6h.01M206.1,856.0h.01M234.7,808.4h.01M222.4,807.5h.01M198.9,841.1h.01M203.3,814.2h.01M185.4,857.5h.01M259.5,799.3h.01M226.4,801.3h.01M212.8,785.9h.01M237.7,802.7h.01M214.7,835.1h.01M185.2,806.7h.01M247.0,798.8h.01M201.9,801.7h.01M203.2,840.0h.01M215.1,841.6h.01M235.0,826.3h.01M206.0,837.2h.01M217.9,843.2h.01M220.6,814.7h.01M238.3,837.8h.01M211.7,822.5h.01M217.3,814.6h.01M221.9,835.3h.01M215.3,822.6h.01M231.5,796.2h.01M232.8,811.3h.01M228.8,811.8h.01M210.7,856.5h.01M210.6,797.2h.01M223.2,830.0h.01M201.3,845.9h.01M205.1,850.2h.01M212.5,841.8h.01M235.2,810.0h.01M260.5,795.7h.01M257.3,859.4h.01M213.5,803.2h.01M205.0,826.8h.01M205.2,850.9h.01M207.9,832.1h.01M214.6,829.7h.01M238.4,821.6h.01M239.1,805.0h.01M242.9,825.3h.01M213.3,804.4h.01M214.3,832.0h.01M198.5,840.3h.01M211.4,824.3h.01M227.5,787.9h.01M242.2,810.8h.01M225.4,799.9h.01M249.4,792.5h.01M190.6,859.6h.01M197.7,817.3h.01M227.8,798.1h.01M204.0,850.3h.01M209.9,848.9h.01M214.5,838.0h.01M224.6,844.6h.01M203.2,819.0h.01M233.1,805.7h.01M248.7,849.1h.01M220.1,840.9h.01M204.4,819.9h.01M231.5,798.8h.01M232.0,793.8h.01M193.7,854.7h.01M211.4,824.3h.01M223.4,817.8h.01M235.7,795.1h.01M222.9,816.7h.01M229.4,847.9h.01M187.4,856.7h.01M213.2,837.0h.01M194.2,856.6h.01M201.1,831.3h.01M202.4,853.2h.01M228.2,828.7h.01M201.1,829.3h.01M209.4,785.6h.01M214.3,852.1h.01M191.5,860.0h.01M225.2,796.4h.01M219.7,817.5h.01M250.6,801.9h.01M218.5,815.2h.01M244.7,801.1h.01M231.2,830.2h.01M211.2,837.9h.01M202.4,833.3h.01M212.9,851.7h.01M210.0,811.0h.01M220.2,795.8h.01M206.3,794.6h.01" stroke="#333" stroke-width="0.5" stroke-linecap="round" stroke-opacity="0.75"/>
<path d="M236.1,785.4 236.6,785.4 237.7,785.4 238.8,785.4 239.4,785.4 240.5,785.5 241.5,785.6 242.6,785.8 243.5,785.9 244.3,786.1 245.4,786.5 245.9,786.7 246.7,787.0 247.6,787.5 248.1,787.9 248.7,788.3 249.2,788.8 249.8,789.3 250.3,790.1 250.7,790.9 250.9,791.4 251.1,792.5 251.1,793.6 250.8,794.5 250.6,795.2 250.3,795.9 249.8,796.8 249.4,797.4 248.9,798.0 248.4,798.5 247.9,799.1 247.3,799.6 246.7,800.2 246.0,800.7 245.4,801.2 244.8,801.6 244.3,802.0 243.7,802.4 242.7,802.9 242.1,803.3 241.5,803.5 240.6,804.0 239.9,804.3 239.4,804.6 238.3,805.0 237.7,805.2 236.6,805.6 236.1,805.8 235.0,806.2 234.4,806.3 233.3,806.7 232.8,806.8 231.7,807.2 231.2,807.4 230.1,807.7 229.5,808.0 228.6,808.4 227.9,808.8 227.3,809.2 226.8,809.6 226.2,810.2 225.7,810.9 225.2,811.7 225.0,812.2 224.6,813.1 224.3,813.8 224.0,814.4 223.5,815.5 223.2,816.0 222.9,816.6 222.4,817.3 221.8,818.0 221.3,818.8 221.0,819.3 220.7,819.9 220.2,820.9 220.0,821.5 219.8,822.6 219.7,823.7 219.6,824.2 219.6,825.3 219.5,826.4 219.5,827.5 219.5,828.6 219.4,829.7 219.3,830.8 219.2,831.9 219.1,833.0 219.0,833.5 218.9,834.6 218.7,835.7 218.6,836.3 218.3,837.4 218.0,838.4 217.8,839.0 217.5,840.1 217.3,840.7 216.9,841.5 216.6,842.3 216.3,842.8 215.8,843.8 215.5,844.5 215.2,845.0 214.7,845.7 214.2,846.6 213.7,847.2 213.3,847.8 212.9,848.3 212.4,848.9 211.9,849.4 211.4,850.0 210.8,850.5 210.2,851.1 209.5,851.6 208.8,852.2 208.2,852.5 207.6,852.9 206.9,853.2 206.0,853.6 205.4,853.8 204.3,854.1 203.2,854.2 202.2,854.1 201.1,853.9 200.5,853.7 199.5,853.2 198.9,852.8 198.3,852.3 197.8,851.6 197.4,851.1 197.1,850.5 196.7,849.5 196.5,848.9 196.2,847.8 196.1,846.9 196.1,846.1 196.1,845.0 196.1,844.1 196.2,843.4 196.4,842.3 196.6,841.2 196.8,840.7 197.1,839.6 197.3,839.0 197.7,837.9 197.9,837.4 198.3,836.4 198.6,835.7 198.9,835.2 199.4,834.2 199.7,833.5 200.0,833.0 200.5,832.2 200.9,831.4 201.3,830.8 201.6,830.2 202.2,829.3 202.5,828.6 202.8,828.1 203.2,827.4 203.8,826.4 204.1,825.9 204.4,825.3 204.9,824.6 205.4,823.7 205.7,823.2 206.1,822.6 206.5,821.8 207.0,821.0 207.3,820.4 207.6,819.7 208.0,818.8 208.2,818.2 208.3,817.1 208.2,816.0 208.1,815.5 207.8,814.4 207.6,813.8 207.3,812.8 207.1,811.9 206.9,811.1 206.5,810.0 206.4,809.5 206.0,808.4 205.8,807.8 205.4,807.0 205.1,806.2 204.9,805.6 204.5,804.5 204.3,804.0 204.1,802.9 204.0,801.8 204.1,800.7 204.3,799.8 204.6,799.1 204.9,798.4 205.4,797.4 205.7,796.9 206.1,796.3 206.6,795.8 207.1,795.2 207.6,794.7 208.2,794.2 208.8,793.6 209.5,793.1 210.3,792.5 210.9,792.1 211.5,791.8 212.1,791.4 213.1,790.9 213.6,790.6 214.2,790.3 215.3,789.8 215.8,789.6 216.7,789.2 217.5,788.9 218.3,788.7 219.1,788.4 220.0,788.1 220.8,787.9 221.8,787.6 222.4,787.5 223.5,787.2 224.1,787.0 225.1,786.8 226.2,786.6 226.8,786.5 227.9,786.3 229.0,786.1 230.1,785.9 230.6,785.9 231.7,785.7 232.8,785.6 233.9,785.5 235.0,785.4 236.1,785.4 M233.8,787.6 234.4,787.5 235.5,787.4 236.6,787.3 237.7,787.3 238.8,787.3 239.9,787.4 241.0,787.5 241.5,787.6 242.6,787.9 243.3,788.1 244.3,788.6 244.8,788.9 245.4,789.2 246.0,789.8 246.5,790.3 247.0,791.1 247.4,792.0 247.6,792.9 247.6,793.6 247.5,794.2 247.3,795.2 247.0,795.8 246.5,796.8 246.0,797.4 245.6,798.0 245.1,798.5 244.6,799.1 244.0,799.6 243.3,800.2 242.6,800.6 242.1,801.0 241.5,801.4 240.8,801.8 239.9,802.3 239.4,802.5 238.5,802.9 237.7,803.2 237.1,803.5 236.1,803.8 235.5,804.0 234.4,804.3 233.6,804.5 232.8,804.8 231.7,805.0 231.2,805.2 230.1,805.5 229.4,805.6 228.4,805.9 227.7,806.2 226.8,806.5 226.2,806.8 225.2,807.3 224.6,807.6 224.0,808.0 223.5,808.4 222.9,808.9 222.4,809.5 221.8,810.3 221.4,811.1 221.2,811.7 220.8,812.7 220.5,813.3 220.2,813.9 219.7,814.9 219.3,815.5 219.0,816.0 218.6,816.8 218.2,817.7 218.0,818.5 217.9,819.3 217.9,820.4 218.0,821.5 218.0,822.2 218.1,823.2 218.2,824.2 218.2,825.3 218.3,826.4 218.3,827.5 218.3,828.6 218.2,829.7 218.1,830.8 218.0,831.9 218.0,832.5 217.8,833.5 217.6,834.6 217.5,835.3 217.3,836.3 217.0,837.4 216.8,837.9 216.4,839.0 216.3,839.6 215.8,840.6 215.6,841.2 215.3,841.9 214.8,842.8 214.5,843.4 214.2,843.9 213.6,844.8 213.1,845.6 212.7,846.1 212.3,846.7 211.9,847.2 211.4,847.8 210.8,848.3 210.3,848.9 209.6,849.4 208.9,850.0 208.2,850.4 207.6,850.8 207.0,851.1 206.0,851.5 205.4,851.6 204.3,851.8 203.2,851.8 202.5,851.6 201.6,851.3 201.1,851.0 200.4,850.5 199.8,850.0 199.4,849.4 198.9,848.5 198.6,847.8 198.3,846.8 198.2,846.1 198.1,845.0 198.1,843.9 198.2,842.8 198.3,841.9 198.4,841.2 198.7,840.1 198.9,839.5 199.2,838.5 199.4,837.9 199.8,836.8 200.0,836.3 200.5,835.2 200.7,834.6 201.1,834.0 201.5,833.0 201.8,832.5 202.2,831.8 202.6,830.8 202.9,830.3 203.2,829.6 203.8,828.6 204.1,828.1 204.4,827.5 204.9,826.6 205.3,825.9 205.7,825.3 206.0,824.8 206.5,824.0 207.1,823.2 207.5,822.6 207.9,822.1 208.3,821.5 208.7,820.9 209.3,820.2 209.8,819.4 210.3,818.8 210.6,818.2 211.0,817.7 211.4,816.6 211.5,816.0 211.5,814.9 211.5,814.3 211.3,813.3 211.0,812.2 210.9,811.7 210.6,810.6 210.4,809.7 210.1,808.9 209.8,808.2 209.4,807.3 209.1,806.7 208.7,806.1 208.2,805.1 207.9,804.5 207.6,803.8 207.3,802.9 207.2,801.8 207.2,800.7 207.4,799.6 207.6,798.8 208.0,798.0 208.3,797.4 208.7,796.8 209.3,796.1 209.8,795.5 210.4,795.0 210.9,794.5 211.5,794.0 212.1,793.6 212.9,793.1 213.6,792.6 214.2,792.3 214.9,792.0 215.8,791.5 216.4,791.3 217.5,790.9 218.0,790.7 219.1,790.3 219.7,790.2 220.8,789.9 221.3,789.7 222.4,789.5 223.5,789.3 224.0,789.1 225.1,788.9 226.2,788.7 226.8,788.6 227.9,788.5 229.0,788.3 229.9,788.1 230.6,788.0 231.7,787.9 232.8,787.7 233.8,787.6 M234.5,789.2 235.5,789.1 236.6,789.0 237.7,788.9 238.8,788.9 239.9,789.1 240.8,789.2 241.5,789.4 242.3,789.8 243.2,790.3 243.7,790.7 244.3,791.3 244.7,792.0 245.0,792.5 245.1,793.6 245.0,794.7 244.8,795.3 244.4,796.3 244.1,796.9 243.6,797.4 243.2,798.0 242.6,798.5 242.0,799.1 241.3,799.6 240.5,800.2 239.9,800.5 239.4,800.8 238.5,801.3 237.7,801.6 237.2,801.8 236.1,802.2 235.4,802.4 234.4,802.6 233.3,802.9 232.8,803.0 231.7,803.2 230.6,803.4 230.1,803.5 229.0,803.7 227.9,804.0 227.3,804.2 226.2,804.5 225.7,804.7 224.7,805.1 224.0,805.4 223.3,805.6 222.4,806.0 221.8,806.2 220.8,806.7 220.2,806.9 219.1,807.2 218.6,807.4 217.5,807.7 216.4,807.7 215.3,807.5 214.7,807.3 213.6,806.8 213.1,806.4 212.5,806.0 212.0,805.5 211.5,805.0 210.9,804.3 210.4,803.5 210.1,802.9 209.8,802.2 209.6,801.3 209.6,800.2 209.8,799.3 210.1,798.5 210.4,797.9 210.9,797.1 211.5,796.4 212.0,795.8 212.5,795.3 213.1,794.8 213.6,794.4 214.2,794.1 215.0,793.6 215.8,793.2 216.4,792.9 217.5,792.5 218.0,792.3 219.1,792.0 219.7,791.8 220.8,791.6 221.6,791.4 222.4,791.3 223.5,791.1 224.6,791.0 225.5,790.9 226.2,790.8 227.3,790.6 228.4,790.5 229.2,790.3 230.1,790.1 231.2,789.9 231.8,789.8 232.8,789.5 233.9,789.3 234.5,789.2 M212.3,819.9 213.1,819.6 214.2,819.6 214.8,819.9 215.4,820.4 215.8,821.1 216.3,822.1 216.5,822.6 216.8,823.7 216.9,824.6 217.0,825.3 217.2,826.4 217.2,827.5 217.2,828.6 217.2,829.7 217.1,830.8 217.0,831.9 216.9,832.5 216.8,833.5 216.5,834.6 216.4,835.3 216.2,836.3 215.8,837.3 215.7,837.9 215.3,838.9 215.1,839.6 214.7,840.3 214.3,841.2 214.0,841.8 213.6,842.5 213.1,843.4 212.7,843.9 212.4,844.5 212.0,845.0 211.5,845.7 210.9,846.3 210.4,846.8 209.8,847.3 209.3,847.8 208.5,848.3 207.6,848.8 207.1,849.1 206.1,849.4 205.4,849.5 204.3,849.6 203.5,849.4 202.7,849.1 202.2,848.8 201.6,848.3 201.1,847.6 200.6,846.7 200.3,846.1 200.1,845.0 200.0,844.1 199.9,843.4 200.0,842.4 200.0,841.8 200.2,840.7 200.4,839.6 200.5,839.0 200.9,837.9 201.1,837.3 201.4,836.3 201.6,835.7 202.0,834.6 202.3,834.1 202.7,833.1 203.0,832.5 203.2,831.9 203.7,830.8 204.0,830.3 204.3,829.6 204.9,828.6 205.1,828.1 205.5,827.5 206.0,826.7 206.5,825.9 206.8,825.3 207.2,824.8 207.6,824.2 208.2,823.5 208.7,822.9 209.3,822.3 209.8,821.7 210.4,821.2 210.9,820.7 211.5,820.3 212.3,819.9 M233.9,790.9 235.0,790.6 236.1,790.4 237.2,790.3 238.3,790.3 239.4,790.5 240.5,790.8 241.0,791.0 241.7,791.4 242.3,792.0 242.7,792.5 243.1,793.6 243.1,794.7 242.7,795.8 242.5,796.3 242.1,796.9 241.5,797.6 241.0,798.1 240.5,798.6 239.7,799.1 238.8,799.6 238.3,799.9 237.7,800.2 236.6,800.6 236.1,800.8 235.0,801.0 233.9,801.2 233.3,801.3 232.2,801.4 231.2,801.5 230.1,801.6 229.0,801.8 228.4,801.9 227.3,802.2 226.8,802.4 225.7,802.8 225.1,803.0 224.1,803.5 223.5,803.7 222.6,804.0 221.8,804.3 220.9,804.5 220.2,804.7 219.1,804.9 218.0,805.0 216.9,805.0 215.8,804.8 215.0,804.5 214.2,804.2 213.6,803.8 213.1,803.4 212.5,802.8 212.0,801.8 211.8,801.3 211.7,800.2 211.9,799.1 212.1,798.5 212.5,797.7 213.1,796.9 213.6,796.4 214.2,795.9 214.7,795.5 215.3,795.1 216.0,794.7 216.9,794.2 217.5,794.0 218.6,793.6 219.1,793.5 220.2,793.2 221.1,793.1 221.8,793.0 222.9,792.9 224.0,792.8 225.1,792.8 226.2,792.8 227.3,792.7 228.4,792.5 229.0,792.4 230.1,792.1 230.6,791.9 231.7,791.5 232.2,791.4 233.3,791.0 233.9,790.9 M211.9,822.1 212.5,821.9 213.6,822.0 214.2,822.3 214.7,822.8 215.3,823.6 215.5,824.2 215.8,825.1 216.0,825.9 216.2,827.0 216.3,828.1 216.3,829.2 216.2,830.3 216.2,831.4 216.0,832.5 215.8,833.5 215.7,834.1 215.5,835.2 215.3,835.9 215.0,836.8 214.7,837.7 214.4,838.5 214.2,839.1 213.7,840.1 213.5,840.7 213.1,841.3 212.5,842.3 212.2,842.8 211.8,843.4 211.4,843.9 210.9,844.5 210.4,845.1 209.8,845.6 209.1,846.1 208.3,846.7 207.6,847.1 207.1,847.3 206.0,847.6 204.9,847.5 203.9,847.2 203.2,846.8 202.7,846.2 202.3,845.6 202.0,845.0 201.7,843.9 201.6,843.4 201.5,842.3 201.5,841.2 201.6,840.6 201.7,839.6 202.0,838.5 202.2,837.7 202.4,836.8 202.7,835.9 202.9,835.2 203.2,834.3 203.5,833.5 203.8,832.9 204.2,831.9 204.5,831.4 204.9,830.4 205.2,829.7 205.5,829.2 206.0,828.4 206.5,827.5 206.8,827.0 207.2,826.4 207.6,825.8 208.2,825.1 208.7,824.4 209.3,823.9 209.8,823.3 210.4,822.9 210.9,822.5 211.9,822.1 M235.3,792.0 236.1,791.8 237.2,791.7 238.3,791.8 239.1,792.0 239.9,792.3 240.5,792.7 241.0,793.4 241.2,794.2 241.1,795.2 240.9,795.8 240.5,796.6 239.9,797.2 239.4,797.7 238.8,798.1 238.1,798.5 237.2,799.0 236.6,799.2 235.5,799.5 235.0,799.6 233.9,799.8 232.8,799.8 231.7,799.7 230.7,799.6 230.1,799.5 229.0,799.5 228.1,799.6 227.3,799.8 226.6,800.2 225.7,800.7 225.1,801.0 224.6,801.3 223.7,801.8 222.9,802.1 222.4,802.4 221.3,802.8 220.8,802.9 219.7,803.2 218.6,803.3 217.5,803.2 216.4,803.0 215.8,802.8 215.1,802.4 214.5,801.8 214.1,801.3 213.8,800.2 213.9,799.1 214.2,798.3 214.7,797.5 215.3,796.9 215.8,796.5 216.4,796.1 216.9,795.8 218.0,795.3 218.6,795.1 219.7,794.8 220.2,794.7 221.3,794.6 222.4,794.5 223.5,794.6 224.4,794.7 225.1,794.8 226.2,795.0 227.3,795.1 228.4,794.9 229.0,794.7 230.1,794.2 230.6,793.9 231.2,793.6 232.2,793.1 232.8,792.8 233.5,792.5 234.4,792.2 235.3,792.0 M211.9,823.7 212.5,823.6 213.1,823.8 213.8,824.2 214.3,824.8 214.7,825.6 215.0,826.4 215.2,827.5 215.3,828.1 215.4,829.2 215.4,830.3 215.3,831.4 215.3,831.9 215.1,833.0 214.9,834.1 214.7,834.7 214.5,835.7 214.2,836.6 213.9,837.4 213.6,838.1 213.3,839.0 213.0,839.6 212.5,840.4 212.1,841.2 211.7,841.8 211.3,842.3 210.9,842.8 210.4,843.4 209.8,844.0 209.2,844.5 208.3,845.0 207.6,845.4 207.0,845.6 206.0,845.7 205.4,845.6 204.4,845.0 203.8,844.5 203.5,843.9 203.2,843.3 203.0,842.3 202.9,841.2 202.9,840.1 203.0,839.0 203.2,837.9 203.3,837.4 203.6,836.3 203.8,835.5 204.1,834.6 204.3,833.8 204.6,833.0 204.9,832.4 205.3,831.4 205.6,830.8 206.0,830.0 206.4,829.2 206.8,828.6 207.1,828.1 207.6,827.3 208.2,826.5 208.7,825.9 209.2,825.3 209.8,824.8 210.4,824.4 210.9,824.0 211.9,823.7 M235.8,793.6 236.1,793.6 236.6,793.5 237.2,793.6 237.4,793.6 237.7,793.7 238.3,794.0 238.4,794.2 238.7,794.7 238.8,795.2 238.6,795.8 238.3,796.2 238.2,796.3 237.7,796.8 237.6,796.9 237.2,797.1 236.6,797.4 236.6,797.4 236.1,797.6 235.5,797.8 235.0,797.8 234.4,797.8 233.9,797.8 233.3,797.6 232.9,797.4 232.8,797.3 232.4,796.9 232.3,796.3 232.5,795.8 232.8,795.3 232.8,795.2 233.3,794.8 233.4,794.7 233.9,794.4 234.3,794.2 234.4,794.1 235.0,793.8 235.5,793.7 235.8,793.6 M218.9,796.9 219.7,796.7 220.8,796.6 221.8,796.7 222.5,796.9 223.3,797.4 223.6,798.0 223.5,798.7 222.9,799.6 222.4,800.0 221.8,800.4 221.3,800.7 220.2,801.1 219.1,801.2 218.0,801.1 217.1,800.7 216.6,800.2 216.5,799.1 216.9,798.2 217.5,797.7 218.0,797.3 218.9,796.9 M210.4,825.9 211.5,825.4 212.5,825.5 213.1,825.9 213.6,826.5 214.1,827.5 214.2,828.1 214.4,829.2 214.5,830.3 214.4,831.4 214.3,832.5 214.2,833.2 214.0,834.1 213.7,835.2 213.6,835.7 213.2,836.8 213.0,837.4 212.5,838.3 212.2,839.0 211.9,839.6 211.5,840.3 210.9,841.0 210.4,841.7 209.8,842.3 209.3,842.7 208.7,843.1 208.2,843.4 207.1,843.7 206.0,843.5 205.4,843.2 204.9,842.6 204.5,841.8 204.3,841.2 204.2,840.1 204.2,839.0 204.3,837.9 204.4,837.4 204.6,836.3 204.9,835.2 205.0,834.6 205.4,833.5 205.6,833.0 206.0,832.0 206.3,831.4 206.5,830.8 207.1,829.8 207.4,829.2 207.8,828.6 208.2,828.1 208.7,827.4 209.3,826.8 209.8,826.3 210.4,825.9 M210.7,827.5 211.5,827.4 212.0,827.5 212.6,828.1 213.1,829.0 213.3,829.7 213.4,830.8 213.3,831.9 213.2,833.0 213.1,833.7 212.9,834.6 212.5,835.7 212.3,836.3 212.0,837.1 211.6,837.9 211.3,838.5 210.9,839.0 210.4,839.7 209.8,840.3 209.3,840.8 208.6,841.2 207.6,841.5 206.7,841.2 206.1,840.7 205.9,840.1 205.6,839.0 205.5,837.9 205.6,836.8 205.8,835.7 206.0,835.0 206.2,834.1 206.5,833.2 206.8,832.5 207.1,831.9 207.6,830.8 208.0,830.3 208.3,829.7 208.7,829.2 209.3,828.5 209.8,828.0 210.7,827.5 M210.2,829.7 210.9,829.5 211.5,829.7 212.0,830.6 212.1,831.4 212.2,832.5 212.1,833.5 211.9,834.1 211.6,835.2 211.4,835.7 210.9,836.8 210.5,837.4 210.1,837.9 209.6,838.5 208.8,839.0 208.2,839.1 207.6,838.9 207.1,838.0 206.9,837.4 206.9,836.3 207.1,835.2 207.2,834.6 207.5,833.5 207.7,833.0 208.2,832.0 208.6,831.4 209.0,830.8 209.5,830.3 210.2,829.7" fill="none" stroke="#4a4a4a" stroke-width="0.4" stroke-linejoin="round"/>
<rect x="179.70" y="767.50" width="93.00" height="95.30" fill="none" stroke="#666" stroke-width="0.6"/>
<path d="M179.7,776.8h-2.2M179.7,797.8h-2.2M179.7,820.0h-2.2M179.7,842.5h-2.2M179.7,854.6h-2.2M179.7,791.5h-1.2M179.7,787.8h-1.2M179.7,785.2h-1.2M179.7,783.1h-1.2M179.7,781.5h-1.2M179.7,780.1h-1.2M179.7,778.8h-1.2M179.7,777.8h-1.2M179.7,813.3h-1.2M179.7,809.4h-1.2M179.7,806.6h-1.2M179.7,804.5h-1.2M179.7,802.7h-1.2M179.7,801.2h-1.2M179.7,800.0h-1.2M179.7,798.8h-1.2M179.7,835.7h-1.2M179.7,831.8h-1.2M179.7,829.0h-1.2M179.7,826.8h-1.2M179.7,825.0h-1.2M179.7,823.5h-1.2M179.7,822.2h-1.2M179.7,821.0h-1.2M179.7,858.5h-1.2M179.7,861.0h-1.2M179.7,850.0h-1.2" stroke="#444" stroke-width="0.5"/>
<text x="175.70" y="779.00" font-size="6.2" text-anchor="end">10<tspan font-size="4.3" dy="-2.6">5</tspan></text>
<text x="175.70" y="800.00" font-size="6.2" text-anchor="end">10<tspan font-size="4.3" dy="-2.6">4</tspan></text>
<text x="175.70" y="822.20" font-size="6.2" text-anchor="end">10<tspan font-size="4.3" dy="-2.6">3</tspan></text>
<text x="175.70" y="844.70" font-size="6.2" text-anchor="end">10<tspan font-size="4.3" dy="-2.6">2</tspan></text>
<text x="175.70" y="856.80" font-size="6.2" text-anchor="end">0</text>
<path d="M187.2,862.8v2.2M215.9,862.8v2.2M235.0,862.8v2.2M254.0,862.8v2.2M221.6,862.8v1.2M225.0,862.8v1.2M227.4,862.8v1.2M229.3,862.8v1.2M230.8,862.8v1.2M232.0,862.8v1.2M233.1,862.8v1.2M234.1,862.8v1.2M240.7,862.8v1.2M244.1,862.8v1.2M246.4,862.8v1.2M248.3,862.8v1.2M249.8,862.8v1.2M251.1,862.8v1.2M252.2,862.8v1.2M253.1,862.8v1.2M259.7,862.8v1.2M263.1,862.8v1.2M265.4,862.8v1.2M267.3,862.8v1.2M268.8,862.8v1.2M183.0,862.8v1.2M192.0,862.8v1.2M197.0,862.8v1.2M202.0,862.8v1.2M207.0,862.8v1.2M211.0,862.8v1.2" stroke="#444" stroke-width="0.5"/>
<text x="187.20" y="873.8" font-size="6.2" text-anchor="middle">0</text>
<text x="215.90" y="873.8" font-size="6.2" text-anchor="middle">10<tspan font-size="4.3" dy="-2.6">3</tspan></text>
<text x="235.00" y="873.8" font-size="6.2" text-anchor="middle">10<tspan font-size="4.3" dy="-2.6">4</tspan></text>
<text x="254.00" y="873.8" font-size="6.2" text-anchor="middle">10<tspan font-size="4.3" dy="-2.6">5</tspan></text>
<path d="M194.4,815.4 H229.9 V853.4 H194.4 Z" fill="none" stroke="#3BAA35" stroke-width="1.2" />
<text x="182.70" y="776.17" font-size="6.2" >CD11c– CD11b–</text>
<text x="182.70" y="783.17" font-size="6.2" >52.6%</text>
<text x="157.50" y="817.21" font-size="6.6" text-anchor="middle" transform="rotate(-90 157.50 814.90)" >CD11b-BUV395</text>
<text x="220.10" y="884.98" font-size="6.8" text-anchor="middle" >CD11c-PerCPCy5.5</text>
<path d="M277.60,851.10 L291.80,851.10 M287.20,846.50 L291.80,851.10 L287.20,855.70" fill="none" stroke="#3BAA35" stroke-width="1.25" stroke-linecap="round" stroke-linejoin="round"/>
<text x="363.20" y="762.25" font-size="7" text-anchor="middle" >Young</text>
<path d="M331.1,810.4h.01M332.3,786.9h.01M351.2,813.7h.01M334.1,798.7h.01M326.4,804.5h.01M354.7,807.5h.01M358.9,809.8h.01M322.6,796.2h.01M350.3,795.8h.01M332.7,816.4h.01M340.3,810.7h.01M323.1,778.6h.01M343.1,800.5h.01M338.3,800.1h.01M324.3,797.9h.01M336.0,799.4h.01M329.3,796.6h.01M358.6,790.2h.01M352.7,814.4h.01M332.6,804.4h.01M358.6,804.3h.01M333.5,798.0h.01M338.4,792.4h.01M322.6,817.0h.01M324.3,806.0h.01M324.2,786.1h.01M341.5,804.3h.01M333.8,803.7h.01M333.1,799.0h.01M357.3,791.6h.01M328.2,800.1h.01M323.4,799.0h.01M347.4,790.0h.01M325.3,793.0h.01M354.9,802.4h.01M346.9,795.2h.01M335.0,788.6h.01M355.2,798.0h.01M352.6,811.5h.01M359.2,791.2h.01M346.4,800.0h.01M352.6,801.0h.01M341.2,781.1h.01M340.2,779.7h.01M328.3,773.3h.01M343.8,795.5h.01M332.7,773.2h.01M346.6,783.6h.01M347.1,777.5h.01M334.1,795.8h.01M345.5,796.3h.01M356.1,808.9h.01M341.8,772.5h.01M342.5,791.3h.01M334.9,816.2h.01M341.3,801.0h.01M350.7,800.5h.01M340.1,773.8h.01M348.8,808.4h.01M333.2,800.4h.01M352.9,795.6h.01M347.6,780.2h.01M334.0,800.5h.01M354.7,774.2h.01M336.4,810.8h.01M330.6,789.3h.01" stroke="#333" stroke-width="0.5" stroke-linecap="round" stroke-opacity="0.85"/>
<path d="M350.2,831.7h.01M327.1,832.2h.01M355.5,829.7h.01M332.4,832.7h.01M345.0,833.2h.01M323.7,831.1h.01M320.5,833.0h.01M348.4,837.0h.01M332.7,833.3h.01M338.1,835.3h.01M355.9,832.5h.01M333.3,834.5h.01M337.5,839.2h.01M354.7,833.1h.01M329.1,831.8h.01M341.3,831.1h.01M332.9,831.0h.01M326.0,841.2h.01M331.3,833.1h.01M333.4,833.7h.01M325.3,830.9h.01M335.1,825.2h.01M347.7,829.7h.01M320.4,835.9h.01M334.6,832.9h.01M323.3,832.4h.01M323.3,829.4h.01M339.0,831.1h.01M330.4,831.4h.01M329.3,836.1h.01M351.8,828.8h.01M335.9,825.7h.01M359.1,831.1h.01M326.2,830.5h.01M320.5,833.2h.01M330.2,837.1h.01M327.2,831.4h.01M351.3,833.8h.01M356.4,835.5h.01M350.2,826.5h.01M337.4,834.0h.01M331.4,831.1h.01M326.9,837.0h.01M324.9,834.0h.01M327.7,828.5h.01M351.2,831.5h.01M350.4,838.5h.01M347.7,832.0h.01M347.6,835.3h.01M339.4,836.6h.01M326.7,836.3h.01M359.2,826.2h.01M327.1,832.9h.01M328.1,836.7h.01M343.0,835.0h.01M345.4,828.9h.01M330.7,837.3h.01M329.1,832.4h.01M335.6,829.8h.01M343.2,827.1h.01M339.6,839.2h.01M332.6,833.2h.01M335.6,826.5h.01M337.2,837.3h.01M346.4,830.4h.01M328.3,832.4h.01M328.0,834.4h.01M330.7,833.0h.01M330.0,832.0h.01M338.0,836.9h.01M329.5,827.8h.01M349.1,834.7h.01" stroke="#333" stroke-width="0.45" stroke-linecap="round" stroke-opacity="0.7"/>
<path d="M369.7,824.3h.01M376.4,837.5h.01M364.8,835.0h.01M378.9,825.8h.01M378.8,837.7h.01M378.2,835.7h.01" stroke="#333" stroke-width="0.5" stroke-linecap="round" stroke-opacity="0.85"/>
<path d="M316.7,828.1 317.1,827.7 317.5,827.4 317.9,827.1 318.2,826.8 318.6,826.6 319.0,826.3 319.4,826.1 319.8,825.9 320.2,825.6 320.6,825.4 321.2,825.2 321.7,824.9 322.1,824.8 322.6,824.6 323.3,824.3 323.7,824.2 324.2,824.1 324.8,823.9 325.2,823.8 326.0,823.6 326.4,823.5 327.1,823.3 327.7,823.2 328.3,823.1 329.1,823.0 329.5,822.9 330.2,822.8 331.0,822.7 331.6,822.7 332.2,822.6 332.9,822.5 333.7,822.5 334.5,822.4 334.9,822.4 335.7,822.3 336.4,822.3 337.2,822.3 338.0,822.3 338.7,822.3 339.5,822.3 340.3,822.3 341.1,822.3 341.8,822.3 342.6,822.4 343.0,822.4 343.8,822.5 344.5,822.5 345.3,822.6 346.1,822.6 346.9,822.6 347.6,822.6 348.4,822.6 349.2,822.7 349.6,822.7 350.4,822.7 351.1,822.8 351.9,822.9 352.3,823.0 353.1,823.2 353.4,823.3 354.1,823.5 354.6,823.7 355.0,823.9 355.4,824.1 355.9,824.3 356.4,824.6 356.8,824.9 357.2,825.2 357.6,825.4 357.9,825.7 358.2,826.0 358.5,826.3 358.9,826.6 359.2,827.0 359.6,827.4 359.9,827.6 360.1,827.9 360.4,828.4 360.7,828.8 360.9,829.0 361.2,829.6 361.3,829.9 361.6,830.4 361.7,830.7 361.8,831.2 361.9,831.8 361.9,832.4 361.9,832.9 361.8,833.5 361.7,834.0 361.6,834.4 361.4,834.8 361.2,835.2 360.9,835.7 360.7,835.9 360.4,836.4 360.1,836.8 359.9,837.1 359.6,837.3 359.2,837.7 358.9,838.0 358.5,838.4 358.1,838.7 357.7,838.9 357.3,839.2 356.9,839.5 356.5,839.7 356.2,839.9 355.8,840.1 355.2,840.4 354.6,840.6 354.2,840.8 353.8,840.9 353.1,841.2 352.7,841.3 351.9,841.5 351.5,841.6 350.7,841.7 350.3,841.8 349.6,841.9 348.8,842.0 348.2,842.0 347.6,842.1 346.9,842.2 346.1,842.3 345.7,842.3 344.9,842.4 344.2,842.5 343.4,842.5 342.7,842.6 342.2,842.6 341.5,842.7 340.7,842.7 339.9,842.7 339.1,842.7 338.4,842.7 337.6,842.7 336.8,842.7 336.0,842.7 335.3,842.6 334.9,842.6 334.1,842.5 333.3,842.5 332.6,842.4 332.1,842.3 331.4,842.2 330.6,842.1 330.0,842.0 329.5,842.0 328.7,841.8 328.3,841.7 327.5,841.6 327.0,841.5 326.4,841.3 325.8,841.2 325.2,841.0 324.8,840.9 324.0,840.7 323.7,840.6 323.1,840.4 322.5,840.2 322.1,840.0 321.6,839.8 321.0,839.5 320.6,839.3 320.2,839.1 319.8,838.9 319.4,838.7 318.9,838.4 318.5,838.2 318.1,837.9 317.7,837.6 317.4,837.3 317.1,837.1 316.7,836.7 M332.4,824.3 332.9,824.3 333.7,824.2 334.5,824.2 335.3,824.2 336.0,824.2 336.8,824.1 337.6,824.1 338.4,824.1 339.1,824.1 339.9,824.1 340.7,824.2 341.5,824.2 342.2,824.2 343.0,824.3 343.5,824.3 344.2,824.4 344.9,824.4 345.7,824.4 346.5,824.4 347.3,824.4 348.0,824.3 348.4,824.3 349.2,824.3 350.0,824.3 350.7,824.3 351.1,824.4 351.9,824.5 352.5,824.6 353.1,824.8 353.4,824.9 354.1,825.2 354.6,825.4 355.0,825.7 355.4,825.9 355.8,826.2 356.2,826.5 356.5,826.8 356.8,827.1 357.0,827.4 357.3,827.7 357.6,828.2 357.8,828.5 358.1,828.9 358.3,829.3 358.5,829.8 358.6,830.1 358.8,830.7 358.9,831.2 358.9,831.5 358.9,832.1 358.9,832.6 358.9,833.2 358.8,833.5 358.7,834.0 358.5,834.6 358.4,834.8 358.1,835.4 357.9,835.7 357.7,836.0 357.3,836.5 357.1,836.8 356.8,837.1 356.5,837.3 356.2,837.7 355.8,838.0 355.4,838.3 355.0,838.5 354.6,838.7 354.0,839.0 353.4,839.3 353.1,839.4 352.6,839.5 351.9,839.7 351.4,839.8 350.7,839.9 350.0,840.0 349.4,840.1 348.8,840.2 348.0,840.2 347.3,840.3 346.5,840.3 346.0,840.4 345.3,840.4 344.5,840.5 343.8,840.6 343.2,840.7 342.6,840.7 341.8,840.8 341.1,840.8 340.3,840.8 339.5,840.8 338.7,840.9 338.0,840.8 337.2,840.8 336.4,840.8 335.7,840.8 334.9,840.7 334.3,840.7 333.7,840.6 332.9,840.5 332.2,840.5 331.4,840.4 331.0,840.3 330.2,840.2 329.5,840.1 329.1,840.1 328.3,839.9 327.8,839.8 327.1,839.7 326.6,839.5 326.0,839.4 325.6,839.3 324.8,839.0 324.4,838.9 324.0,838.7 323.3,838.4 322.9,838.3 322.5,838.1 322.1,837.9 321.7,837.6 321.2,837.3 320.8,837.1 320.5,836.8 320.1,836.5 319.8,836.2 319.4,835.8 319.1,835.4 318.9,835.1 318.6,834.8 318.4,834.3 318.2,834.0 318.1,833.5 318.0,832.9 317.9,832.4 317.9,831.8 318.0,831.2 318.2,830.7 318.3,830.4 318.6,829.9 318.8,829.6 319.0,829.3 319.4,828.8 319.7,828.5 320.0,828.2 320.4,827.9 320.7,827.6 321.1,827.4 321.5,827.1 322.0,826.8 322.5,826.6 322.9,826.4 323.3,826.2 323.8,826.0 324.4,825.7 324.8,825.6 325.4,825.4 326.0,825.3 326.4,825.2 327.1,825.0 327.7,824.9 328.3,824.8 329.1,824.7 329.5,824.6 330.2,824.5 331.0,824.4 331.8,824.4 332.4,824.3 M329.5,825.7 330.2,825.6 331.0,825.6 331.8,825.5 332.6,825.5 333.3,825.5 334.1,825.5 334.9,825.5 335.7,825.5 336.4,825.5 337.2,825.5 338.0,825.5 338.7,825.5 339.5,825.6 340.3,825.6 341.1,825.6 341.8,825.7 342.2,825.7 343.0,825.8 343.8,825.8 344.5,825.8 345.3,825.9 346.1,825.8 346.9,825.8 347.4,825.7 348.0,825.6 348.8,825.6 349.6,825.5 350.4,825.5 351.1,825.6 351.9,825.7 352.3,825.8 352.9,826.0 353.4,826.2 353.8,826.4 354.2,826.6 354.6,826.9 355.0,827.2 355.4,827.5 355.8,827.9 356.0,828.2 356.2,828.5 356.5,829.0 356.7,829.3 356.9,829.8 357.0,830.1 357.2,830.7 357.3,831.2 357.3,831.5 357.4,832.1 357.3,832.6 357.3,832.9 357.2,833.5 357.0,834.0 356.9,834.3 356.7,834.8 356.5,835.1 356.2,835.7 355.9,835.9 355.7,836.2 355.4,836.5 355.0,836.9 354.6,837.2 354.2,837.4 353.8,837.7 353.4,837.9 352.7,838.2 352.3,838.3 351.7,838.4 351.1,838.6 350.4,838.7 349.9,838.7 349.2,838.8 348.4,838.8 347.6,838.8 346.9,838.9 346.1,838.9 345.3,839.0 344.9,839.0 344.2,839.1 343.4,839.2 342.6,839.2 342.1,839.3 341.5,839.3 340.7,839.4 339.9,839.4 339.1,839.4 338.4,839.4 337.6,839.4 336.8,839.4 336.0,839.4 335.3,839.4 334.5,839.3 333.7,839.3 333.3,839.3 332.6,839.2 331.8,839.2 331.0,839.1 330.2,839.0 329.9,839.0 329.1,838.9 328.3,838.7 327.9,838.6 327.1,838.5 326.8,838.4 326.0,838.2 325.6,838.0 325.2,837.9 324.5,837.6 324.0,837.4 323.7,837.2 323.3,837.0 322.9,836.8 322.4,836.5 322.1,836.2 321.7,835.9 321.3,835.6 321.0,835.2 320.7,834.8 320.5,834.6 320.2,834.0 320.0,833.7 319.9,833.2 319.8,832.7 319.8,832.4 319.8,831.8 319.8,831.5 320.0,831.0 320.2,830.5 320.4,830.1 320.6,829.8 321.0,829.3 321.2,829.0 321.5,828.8 321.8,828.5 322.2,828.2 322.6,827.9 323.0,827.6 323.6,827.4 324.0,827.1 324.4,827.0 324.8,826.8 325.6,826.5 326.0,826.4 326.5,826.3 327.1,826.1 327.7,826.0 328.3,825.9 329.1,825.8 329.5,825.7 M329.9,826.5 330.6,826.5 331.4,826.4 332.2,826.4 332.9,826.4 333.7,826.5 334.5,826.5 335.3,826.5 335.7,826.6 336.4,826.6 337.2,826.6 338.0,826.7 338.7,826.7 339.5,826.8 340.2,826.8 340.7,826.9 341.5,826.9 342.2,827.0 343.0,827.1 343.5,827.1 344.2,827.1 344.9,827.1 345.7,827.1 346.1,827.1 346.9,827.0 347.6,826.9 348.0,826.8 348.8,826.7 349.6,826.6 350.4,826.6 351.1,826.6 351.9,826.8 352.3,826.9 352.9,827.1 353.4,827.4 353.8,827.6 354.2,827.9 354.5,828.2 354.8,828.5 355.0,828.8 355.4,829.3 355.6,829.6 355.8,830.0 355.9,830.4 356.1,831.0 356.1,831.5 356.2,831.8 356.2,832.2 356.1,832.6 356.0,833.2 355.9,833.7 355.7,834.0 355.5,834.6 355.3,834.8 355.0,835.3 354.6,835.7 354.3,835.9 354.0,836.2 353.6,836.5 353.1,836.8 352.7,837.0 352.3,837.1 351.6,837.3 351.1,837.4 350.4,837.5 349.6,837.6 348.8,837.6 348.0,837.6 347.3,837.6 346.5,837.6 345.8,837.6 345.3,837.6 344.5,837.7 343.8,837.8 343.0,837.9 342.6,837.9 341.8,838.0 341.1,838.1 340.3,838.1 339.6,838.2 339.1,838.2 338.4,838.2 337.6,838.2 336.8,838.2 336.0,838.2 335.3,838.2 334.5,838.2 333.7,838.2 332.9,838.2 332.2,838.2 331.4,838.2 331.0,838.1 330.2,838.1 329.5,838.0 328.8,837.9 328.3,837.8 327.5,837.6 327.1,837.5 326.4,837.3 326.0,837.2 325.6,837.0 325.0,836.8 324.4,836.5 324.0,836.3 323.7,836.1 323.3,835.8 322.9,835.5 322.5,835.2 322.2,834.8 322.0,834.6 321.7,834.2 321.5,833.7 321.3,833.4 321.2,832.9 321.1,832.4 321.2,831.8 321.3,831.2 321.4,831.0 321.7,830.4 321.8,830.1 322.1,829.8 322.5,829.3 322.8,829.0 323.2,828.8 323.6,828.5 324.0,828.2 324.4,828.0 324.8,827.8 325.2,827.6 325.9,827.4 326.4,827.2 326.8,827.1 327.5,826.9 327.9,826.8 328.7,826.7 329.5,826.6 329.9,826.5 M330.3,827.4 331.0,827.3 331.8,827.3 332.6,827.4 332.9,827.4 333.7,827.4 334.5,827.5 335.3,827.6 335.8,827.6 336.4,827.7 337.2,827.8 338.0,827.9 338.4,828.0 339.1,828.0 339.9,828.1 340.5,828.2 341.1,828.3 341.8,828.4 342.6,828.5 343.0,828.5 343.8,828.6 344.5,828.7 345.3,828.6 346.1,828.5 346.5,828.5 347.3,828.3 347.6,828.2 348.4,828.0 348.8,827.9 349.6,827.8 350.4,827.8 351.1,827.8 351.7,827.9 352.3,828.1 352.7,828.3 353.1,828.6 353.4,828.9 353.8,829.2 354.1,829.6 354.3,829.9 354.6,830.4 354.7,830.7 354.8,831.2 354.9,831.8 354.9,832.4 354.8,832.9 354.6,833.5 354.5,833.7 354.2,834.2 354.0,834.6 353.7,834.8 353.4,835.1 353.1,835.4 352.6,835.7 352.0,835.9 351.5,836.1 351.0,836.2 350.4,836.3 349.6,836.3 348.8,836.3 348.0,836.2 347.6,836.2 346.9,836.1 346.1,836.1 345.3,836.1 344.5,836.2 344.2,836.2 343.4,836.3 342.6,836.5 342.2,836.5 341.5,836.6 340.7,836.7 340.0,836.8 339.5,836.8 338.7,836.9 338.0,836.9 337.2,837.0 336.4,837.1 336.0,837.1 335.3,837.1 334.5,837.2 333.7,837.2 332.9,837.2 332.2,837.3 331.4,837.2 330.6,837.2 329.9,837.1 329.2,837.1 328.7,837.0 327.9,836.8 327.5,836.7 326.8,836.5 326.4,836.4 326.0,836.2 325.4,835.9 324.9,835.7 324.5,835.4 324.1,835.1 323.8,834.8 323.5,834.6 323.3,834.3 322.9,833.7 322.8,833.5 322.6,832.9 322.5,832.4 322.5,832.1 322.5,831.8 322.7,831.2 322.9,830.8 323.1,830.4 323.3,830.1 323.7,829.8 324.0,829.4 324.4,829.1 324.8,828.9 325.2,828.6 325.6,828.5 326.2,828.2 326.8,828.0 327.1,827.9 327.9,827.7 328.3,827.6 329.1,827.5 329.9,827.4 330.3,827.4 M329.7,828.2 330.2,828.2 331.0,828.1 331.8,828.1 332.6,828.2 332.9,828.2 333.7,828.3 334.5,828.4 334.9,828.5 335.7,828.7 336.1,828.8 336.8,828.9 337.4,829.0 338.0,829.2 338.7,829.3 339.1,829.4 339.9,829.6 340.3,829.7 341.1,829.8 341.5,829.9 342.2,830.1 342.6,830.2 343.4,830.4 343.8,830.5 344.5,830.6 345.3,830.5 345.9,830.4 346.5,830.2 346.9,830.1 347.3,829.9 348.0,829.6 348.4,829.4 348.8,829.3 349.6,829.1 350.4,829.0 351.1,829.1 351.7,829.3 352.3,829.6 352.6,829.9 352.9,830.1 353.1,830.4 353.4,831.0 353.5,831.2 353.5,831.8 353.5,832.4 353.4,832.7 353.3,833.2 353.1,833.5 352.7,834.0 352.3,834.3 351.9,834.6 351.5,834.7 351.1,834.9 350.4,835.0 349.6,835.0 348.8,834.9 348.4,834.8 347.6,834.6 347.3,834.5 346.5,834.3 346.1,834.3 345.3,834.2 344.5,834.3 344.2,834.3 343.4,834.5 343.0,834.6 342.2,834.8 341.8,834.9 341.1,835.1 340.7,835.2 339.9,835.3 339.5,835.4 338.7,835.5 338.0,835.7 337.6,835.7 336.8,835.9 336.3,835.9 335.7,836.0 334.9,836.2 334.3,836.2 333.7,836.3 332.9,836.4 332.2,836.4 331.4,836.4 330.6,836.4 329.9,836.3 329.1,836.2 328.7,836.2 327.9,836.0 327.5,835.9 326.9,835.7 326.4,835.4 326.0,835.2 325.6,835.0 325.2,834.7 324.8,834.4 324.4,834.0 324.2,833.7 324.0,833.4 323.8,832.9 323.7,832.4 323.8,831.8 323.9,831.2 324.1,831.0 324.4,830.5 324.7,830.1 325.0,829.9 325.4,829.6 325.9,829.3 326.4,829.0 326.8,828.9 327.1,828.7 327.9,828.5 328.3,828.4 329.1,828.3 329.7,828.2 M330.4,829.0 331.0,829.0 331.4,829.0 332.2,829.1 332.9,829.2 333.5,829.3 334.1,829.5 334.6,829.6 335.3,829.8 335.7,829.9 336.2,830.1 336.8,830.4 337.2,830.6 337.6,830.8 338.0,831.1 338.4,831.3 338.7,831.7 339.0,832.1 339.1,832.6 338.7,833.1 338.4,833.5 338.0,833.7 337.6,833.9 337.2,834.1 336.8,834.3 336.1,834.6 335.7,834.7 335.3,834.8 334.5,835.1 334.1,835.1 333.3,835.3 332.7,835.4 332.2,835.4 331.4,835.5 330.6,835.5 329.9,835.4 329.5,835.4 328.7,835.2 328.2,835.1 327.5,834.9 327.1,834.7 326.8,834.5 326.4,834.2 326.0,833.9 325.6,833.5 325.4,833.2 325.2,832.7 325.2,832.4 325.2,831.8 325.3,831.5 325.6,831.0 325.8,830.7 326.1,830.4 326.5,830.1 326.9,829.9 327.5,829.6 327.9,829.5 328.4,829.3 329.1,829.2 329.9,829.1 330.4,829.0 M350.2,831.8 350.4,831.7 350.5,831.8 350.5,832.1 350.4,832.2 350.0,832.1 350.0,832.1 350.0,832.0 350.2,831.8 M329.1,830.1 329.9,830.0 330.6,830.0 331.4,830.0 332.2,830.1 332.6,830.2 333.3,830.4 333.7,830.6 334.1,830.8 334.5,831.0 334.9,831.3 335.3,831.8 335.4,832.1 335.3,832.6 335.2,832.9 334.9,833.3 334.5,833.6 334.1,833.8 333.6,834.0 332.9,834.2 332.6,834.3 331.8,834.5 331.0,834.5 330.2,834.5 329.5,834.4 329.0,834.3 328.3,834.1 327.9,833.9 327.5,833.6 327.1,833.3 326.9,832.9 326.8,832.6 326.7,832.1 326.8,831.8 327.1,831.2 327.4,831.0 327.7,830.7 328.3,830.4 328.7,830.3 329.1,830.1" fill="none" stroke="#4a4a4a" stroke-width="0.4" stroke-linejoin="round"/>
<rect x="316.20" y="767.60" width="92.60" height="95.20" fill="none" stroke="#666" stroke-width="0.6"/>
<path d="M316.2,779.6h-2.2M316.2,810.7h-2.2M316.2,839.3h-2.2M316.2,801.3h-1.2M316.2,795.9h-1.2M316.2,792.0h-1.2M316.2,789.0h-1.2M316.2,786.5h-1.2M316.2,784.4h-1.2M316.2,782.6h-1.2M316.2,781.0h-1.2M316.2,815.5h-1.2M316.2,813.7h-1.2M316.2,812.1h-1.2M316.2,843.5h-1.2M316.2,847.0h-1.2M316.2,851.0h-1.2M316.2,855.0h-1.2M316.2,859.0h-1.2M316.2,775.5h-1.2M316.2,771.5h-1.2" stroke="#444" stroke-width="0.5"/>
<path d="M316.8,834.5v1.6M316.8,837.2v2.4M316.8,840.6v1.5M336.7,862.2h1.2M338.7,862.2h2.2M342.2,862.2h1.0" stroke="#111" stroke-width="1.3"/>
<text x="312.40" y="781.80" font-size="6.2" text-anchor="end">10<tspan font-size="4.3" dy="-2.6">4</tspan></text>
<text x="312.40" y="812.90" font-size="6.2" text-anchor="end">10<tspan font-size="4.3" dy="-2.6">3</tspan></text>
<text x="312.40" y="841.50" font-size="6.2" text-anchor="end">0</text>
<path d="M340.1,862.8v2.2M366.6,862.8v2.2M383.6,862.8v2.2M400.4,862.8v2.2M371.7,862.8v1.2M374.7,862.8v1.2M376.8,862.8v1.2M378.5,862.8v1.2M379.8,862.8v1.2M381.0,862.8v1.2M382.0,862.8v1.2M382.8,862.8v1.2M388.7,862.8v1.2M391.6,862.8v1.2M393.7,862.8v1.2M395.3,862.8v1.2M396.7,862.8v1.2M397.8,862.8v1.2M398.8,862.8v1.2M399.6,862.8v1.2M405.5,862.8v1.2M408.4,862.8v1.2M410.5,862.8v1.2M322.2,862.8v1.2M328.2,862.8v1.2M334.2,862.8v1.2M346.2,862.8v1.2M352.2,862.8v1.2M359.2,862.8v1.2" stroke="#444" stroke-width="0.5"/>
<text x="340.10" y="873.7" font-size="6.2" text-anchor="middle">0</text>
<text x="366.60" y="873.7" font-size="6.2" text-anchor="middle">10<tspan font-size="4.3" dy="-2.6">3</tspan></text>
<text x="383.60" y="873.7" font-size="6.2" text-anchor="middle">10<tspan font-size="4.3" dy="-2.6">4</tspan></text>
<text x="400.40" y="873.7" font-size="6.2" text-anchor="middle">10<tspan font-size="4.3" dy="-2.6">5</tspan></text>
<path d="M319.30,769.7 H360.80 V818.8 H319.30 Z" fill="none" stroke="#F0962A" stroke-width="1.2" />
<path d="M361.20,820.0 H406.70 V845.1 H361.20 Z" fill="none" stroke="#E8559C" stroke-width="1.2" />
<text x="363.30" y="777.67" font-size="6.2" >TCRβ+</text>
<text x="363.30" y="784.87" font-size="6.2" >6.9%</text>
<text x="406.80" y="852.97" font-size="6.2" text-anchor="end" >CD19+</text>
<text x="406.80" y="859.47" font-size="6.2" text-anchor="end" >1.9%</text>
<text x="477.40" y="762.25" font-size="7" text-anchor="middle" >Old</text>
<path d="M445.1,799.7h.01M460.7,778.5h.01M438.0,794.5h.01M452.1,808.1h.01M458.2,803.1h.01M445.5,801.7h.01M455.1,790.3h.01M453.4,798.4h.01M452.2,804.3h.01M460.4,778.0h.01M460.4,793.4h.01M458.0,806.8h.01M456.5,797.9h.01M455.3,793.5h.01M446.6,803.6h.01M452.0,788.6h.01M441.1,778.9h.01M457.3,790.4h.01M457.4,807.1h.01M437.7,777.1h.01M454.9,792.6h.01M469.4,788.6h.01M441.6,794.0h.01M465.1,797.9h.01M453.5,791.6h.01M446.2,805.2h.01M463.5,805.0h.01M464.6,802.8h.01M462.2,778.5h.01M465.0,773.5h.01M437.7,801.9h.01M454.5,797.6h.01M451.8,792.1h.01M450.7,808.8h.01M436.8,804.7h.01M441.5,796.3h.01M453.6,798.4h.01M446.7,800.1h.01M459.3,788.5h.01M463.3,798.4h.01M456.4,792.8h.01M461.9,797.5h.01M460.0,812.7h.01M452.8,797.6h.01M459.9,791.8h.01M456.8,816.2h.01M440.7,815.7h.01M454.1,809.8h.01M473.5,787.7h.01M447.8,793.5h.01M441.8,779.8h.01M456.7,786.8h.01M458.1,789.7h.01M448.7,782.2h.01M457.7,785.4h.01M449.0,795.2h.01M457.0,812.6h.01M446.4,795.0h.01M450.9,790.2h.01M450.6,783.1h.01M453.6,788.8h.01M446.4,802.2h.01M435.9,781.8h.01M445.7,797.4h.01M462.5,804.2h.01M436.3,801.2h.01M454.6,799.4h.01M453.2,790.3h.01M460.5,796.5h.01M452.3,795.6h.01M467.5,790.1h.01M459.8,804.6h.01M457.3,780.6h.01M444.0,789.2h.01M450.5,801.1h.01M453.5,786.8h.01M444.0,795.9h.01M459.2,805.4h.01M443.6,795.5h.01M458.2,786.8h.01M437.8,789.5h.01M457.0,792.2h.01M463.1,773.5h.01M440.4,800.8h.01M464.2,815.8h.01M465.4,804.9h.01M457.3,792.6h.01M445.2,784.7h.01M450.9,798.6h.01M441.9,795.4h.01M449.2,799.9h.01M459.5,803.9h.01M461.7,792.5h.01M454.7,817.2h.01M465.9,811.9h.01M459.3,796.8h.01M451.5,780.2h.01M447.5,805.2h.01M458.4,811.4h.01M458.8,780.8h.01M464.2,810.2h.01M447.5,799.4h.01M445.9,797.4h.01M463.2,815.0h.01M460.2,801.7h.01" stroke="#333" stroke-width="0.5" stroke-linecap="round" stroke-opacity="0.85"/>
<path d="M464.1,803.4h.01M457.1,805.3h.01M462.7,808.3h.01M446.9,812.0h.01M440.6,814.8h.01M447.5,805.9h.01M450.2,813.8h.01M472.4,813.9h.01M462.4,813.0h.01M436.0,808.4h.01M435.0,799.3h.01M452.4,815.2h.01M451.3,812.0h.01M441.8,811.5h.01M444.5,809.2h.01M440.2,810.4h.01M459.0,809.8h.01M438.4,816.7h.01M445.0,810.9h.01M445.1,807.2h.01M472.5,817.5h.01M445.6,802.1h.01M448.0,810.7h.01M464.9,810.6h.01M441.6,809.6h.01M440.2,807.5h.01M457.3,813.6h.01M438.6,807.3h.01M466.0,812.5h.01M444.4,815.8h.01M463.8,808.5h.01M452.9,815.7h.01M455.8,807.5h.01M445.0,811.5h.01M472.0,809.9h.01M472.4,809.3h.01M450.4,803.9h.01M447.6,812.9h.01M444.8,808.6h.01M459.9,808.5h.01M450.3,808.1h.01M464.4,815.3h.01M450.7,803.1h.01M458.5,815.8h.01M463.7,817.4h.01M461.3,812.7h.01M455.2,816.7h.01M464.4,817.6h.01M461.1,808.5h.01M451.7,815.7h.01M449.1,797.8h.01M446.8,805.3h.01M450.4,808.4h.01M446.7,808.5h.01M464.1,809.6h.01M448.5,806.2h.01M454.3,801.9h.01M443.5,817.4h.01M458.2,812.1h.01M454.1,807.7h.01M453.3,809.1h.01M453.2,806.9h.01M456.9,812.5h.01M455.4,816.3h.01M472.7,815.6h.01M452.9,808.1h.01M454.6,808.8h.01M469.0,809.9h.01M471.4,816.4h.01M440.4,806.6h.01M459.6,810.1h.01M456.2,817.6h.01M463.2,817.3h.01M442.6,812.9h.01M446.1,805.8h.01M454.5,805.7h.01M436.9,813.4h.01M463.0,812.7h.01M444.5,806.8h.01M451.2,810.7h.01M458.5,807.6h.01M451.1,809.1h.01M466.6,815.1h.01M442.1,811.0h.01M471.1,807.1h.01M443.8,808.2h.01M464.4,812.1h.01M463.2,812.2h.01M462.4,812.3h.01M440.7,810.7h.01M455.9,813.1h.01M469.1,811.9h.01M466.4,810.6h.01M441.3,814.5h.01M438.0,799.4h.01M457.0,815.8h.01M451.4,799.6h.01M470.4,808.1h.01M451.3,809.7h.01M439.6,813.4h.01M445.7,802.9h.01M464.8,807.7h.01M446.2,810.4h.01M440.7,814.1h.01M445.7,810.3h.01M470.8,810.1h.01M457.3,805.8h.01M440.7,809.5h.01M459.1,811.3h.01M446.2,809.3h.01M437.5,807.7h.01M444.4,811.5h.01M447.5,812.8h.01M460.8,807.9h.01M455.7,811.3h.01M463.9,808.7h.01M450.1,817.0h.01M445.0,812.9h.01M446.1,809.7h.01M466.0,809.9h.01M445.2,808.9h.01M447.0,795.3h.01M463.3,813.7h.01M460.0,809.8h.01M458.2,810.3h.01M467.7,817.4h.01M442.7,804.0h.01M444.7,815.0h.01M457.5,799.9h.01M459.9,812.5h.01M457.7,816.9h.01M436.3,815.3h.01M443.4,808.4h.01M455.7,807.1h.01M452.5,816.5h.01M470.7,812.0h.01" stroke="#333" stroke-width="0.5" stroke-linecap="round" stroke-opacity="0.85"/>
<path d="M447.9,821.1h.01M441.0,825.1h.01M451.0,827.1h.01M443.5,819.7h.01M451.0,834.4h.01M467.9,825.3h.01M449.6,824.6h.01M479.1,822.1h.01M459.7,827.5h.01M449.6,822.7h.01M450.3,821.9h.01M462.4,828.1h.01M441.4,828.4h.01M437.8,821.2h.01M452.6,835.3h.01M452.9,819.7h.01M452.8,827.0h.01M452.7,827.2h.01M436.3,824.4h.01M447.6,820.4h.01M456.5,826.2h.01M446.0,822.8h.01M463.3,830.3h.01M442.2,822.2h.01M443.1,819.4h.01M439.2,823.3h.01M452.9,831.1h.01M455.0,828.4h.01M469.8,817.7h.01M453.0,824.1h.01M441.1,821.4h.01M442.5,822.6h.01M444.9,827.0h.01M456.0,826.1h.01M454.1,828.3h.01M441.7,826.2h.01M444.5,822.0h.01M445.8,821.5h.01M453.2,828.5h.01M445.4,830.7h.01M455.4,821.1h.01M459.1,823.4h.01M463.9,820.9h.01M467.4,826.0h.01M446.0,824.4h.01M460.4,825.9h.01M447.2,823.7h.01M457.0,835.2h.01M447.3,821.1h.01M446.4,822.2h.01M448.9,824.0h.01M456.9,817.1h.01M454.6,830.5h.01M459.3,833.0h.01M450.2,829.8h.01M445.8,822.2h.01M459.0,820.9h.01M460.1,828.6h.01M454.2,820.6h.01M445.5,829.7h.01M460.7,831.1h.01M451.0,828.4h.01M447.4,819.5h.01M450.1,822.7h.01M465.1,817.0h.01M440.6,822.0h.01M448.8,826.4h.01M453.7,821.3h.01M454.3,832.4h.01M450.3,838.8h.01M453.5,824.0h.01M451.9,824.5h.01M439.7,825.6h.01M445.7,826.1h.01M451.6,822.7h.01M454.5,832.0h.01M450.8,829.9h.01M438.0,822.2h.01M456.6,829.6h.01M458.6,820.9h.01M461.1,827.1h.01M444.0,824.4h.01M446.9,829.3h.01M464.1,826.8h.01M444.9,823.3h.01M447.6,827.3h.01M453.1,836.0h.01M444.7,827.1h.01M440.8,823.1h.01M442.7,818.4h.01M475.2,831.1h.01M434.0,829.9h.01M440.2,821.6h.01M440.0,825.5h.01M437.5,819.3h.01M462.4,827.7h.01M447.7,834.4h.01M450.6,822.8h.01M446.0,828.7h.01M431.9,826.6h.01M467.5,830.7h.01M446.9,821.3h.01M442.1,823.1h.01M444.6,827.5h.01M459.7,826.1h.01M440.6,834.5h.01M440.3,824.5h.01M445.7,827.0h.01M440.4,825.6h.01M462.8,824.3h.01M465.7,830.7h.01M449.3,824.8h.01M447.3,823.3h.01M456.4,825.3h.01M440.4,826.9h.01M434.2,824.5h.01M473.6,832.7h.01M444.9,829.2h.01M475.8,833.9h.01M455.6,837.0h.01M458.6,828.3h.01M448.0,830.1h.01M436.7,828.9h.01M441.7,817.8h.01M458.2,830.5h.01M445.2,832.1h.01M438.3,821.5h.01M441.1,822.7h.01M438.7,816.3h.01M456.0,828.9h.01M436.8,822.5h.01M448.7,825.9h.01M447.8,824.2h.01M447.8,831.9h.01M442.6,822.0h.01M456.8,830.5h.01" stroke="#333" stroke-width="0.45" stroke-linecap="round" stroke-opacity="0.7"/>
<path d="M489.1,834.7h.01M489.2,842.6h.01M488.7,831.0h.01M488.0,840.5h.01M486.8,839.8h.01M483.9,831.2h.01M477.8,832.0h.01M486.6,834.1h.01" stroke="#333" stroke-width="0.5" stroke-linecap="round" stroke-opacity="0.85"/>
<path d="M430.9,817.4 431.3,817.2 431.7,817.0 432.1,816.8 432.5,816.6 433.1,816.3 433.6,816.1 434.0,815.9 434.4,815.7 435.2,815.5 435.5,815.3 436.0,815.2 436.7,815.0 437.1,814.9 437.9,814.7 438.2,814.6 439.0,814.4 439.4,814.3 440.2,814.1 440.6,814.1 441.3,813.9 442.1,813.8 442.5,813.7 443.3,813.6 444.0,813.5 444.4,813.5 445.2,813.4 446.0,813.3 446.6,813.3 447.1,813.2 447.9,813.2 448.7,813.1 449.5,813.1 450.2,813.1 451.0,813.0 451.8,813.0 452.6,813.1 453.3,813.1 454.1,813.1 454.9,813.1 455.7,813.2 456.3,813.3 456.8,813.3 457.6,813.4 458.4,813.5 458.7,813.5 459.5,813.7 460.3,813.8 460.7,813.9 461.5,814.0 461.9,814.1 462.6,814.3 463.1,814.4 463.8,814.5 464.2,814.6 464.9,814.9 465.3,815.0 466.0,815.2 466.5,815.4 466.9,815.5 467.6,815.7 468.0,815.9 468.4,816.1 468.9,816.3 469.6,816.6 470.0,816.8 470.4,817.0 470.7,817.2 471.2,817.4 471.7,817.7 472.2,818.0 472.6,818.2 473.1,818.5 473.4,818.8 473.8,819.1 474.2,819.3 474.6,819.6 474.9,819.9 475.2,820.2 475.5,820.5 475.8,820.7 476.2,821.1 476.5,821.5 476.8,821.8 477.0,822.1 477.3,822.5 477.6,822.9 477.8,823.2 478.1,823.8 478.2,824.1 478.5,824.6 478.6,824.9 478.8,825.4 478.9,825.8 479.0,826.3 479.1,826.8 479.1,827.4 479.2,827.9 479.1,828.5 479.1,829.0 479.0,829.6 478.9,830.1 478.8,830.4 478.6,831.0 478.5,831.3 478.3,831.8 478.1,832.1 477.8,832.6 477.6,832.9 477.3,833.4 477.1,833.7 476.8,834.0 476.5,834.4 476.2,834.8 475.8,835.1 475.5,835.4 475.2,835.7 474.9,835.9 474.5,836.2 474.2,836.5 473.8,836.8 473.3,837.1 472.9,837.3 472.4,837.6 471.9,837.9 471.5,838.1 471.1,838.3 470.7,838.5 470.2,838.7 469.6,839.0 469.2,839.1 468.7,839.3 468.0,839.5 467.6,839.6 467.0,839.8 466.5,840.0 465.9,840.1 465.3,840.2 464.6,840.4 464.2,840.4 463.4,840.6 462.8,840.7 462.2,840.7 461.5,840.8 460.7,840.9 459.9,840.9 459.3,840.9 458.7,840.9 458.0,841.0 457.2,840.9 456.6,840.9 456.0,840.9 455.3,840.9 454.5,840.8 453.7,840.8 452.9,840.7 452.6,840.6 451.8,840.5 451.0,840.4 450.6,840.4 449.9,840.3 449.1,840.1 448.7,840.1 447.9,839.9 447.5,839.8 446.8,839.7 446.1,839.5 445.6,839.4 444.9,839.3 444.4,839.2 443.7,839.0 443.3,838.9 442.6,838.7 442.1,838.6 441.6,838.4 441.0,838.3 440.6,838.2 439.8,837.9 439.4,837.8 438.8,837.6 438.2,837.4 437.9,837.3 437.2,837.1 436.7,836.9 436.3,836.7 435.7,836.5 435.2,836.3 434.8,836.1 434.4,835.9 433.8,835.7 433.2,835.4 432.8,835.2 432.4,835.0 432.1,834.8 431.7,834.6 431.2,834.3 M430.9,821.5 431.2,821.0 431.4,820.7 431.7,820.4 432.1,820.0 432.4,819.7 432.8,819.3 433.2,819.1 433.6,818.8 434.0,818.6 434.4,818.3 434.8,818.1 435.2,817.9 435.7,817.7 436.3,817.5 436.7,817.3 437.3,817.1 437.9,816.9 438.2,816.8 439.0,816.7 439.4,816.6 440.2,816.4 440.9,816.3 441.3,816.2 442.1,816.1 442.9,816.0 443.3,816.0 444.1,815.9 444.8,815.9 445.6,815.8 446.4,815.8 446.8,815.7 447.5,815.7 448.3,815.6 449.1,815.6 449.9,815.6 450.6,815.6 451.4,815.6 452.2,815.6 452.9,815.6 453.7,815.6 454.5,815.6 455.3,815.7 456.0,815.7 456.4,815.8 457.2,815.8 458.0,815.9 458.7,816.0 459.1,816.1 459.9,816.2 460.3,816.3 461.1,816.5 461.6,816.6 462.2,816.7 462.7,816.9 463.4,817.1 463.8,817.2 464.5,817.4 464.9,817.5 465.3,817.7 466.0,818.0 466.5,818.1 466.9,818.3 467.3,818.5 467.9,818.8 468.4,819.1 468.8,819.3 469.2,819.5 469.6,819.7 470.0,820.0 470.4,820.2 470.7,820.5 471.1,820.8 471.5,821.1 471.9,821.4 472.3,821.8 472.7,822.1 472.9,822.4 473.2,822.7 473.4,823.0 473.8,823.5 474.0,823.8 474.2,824.1 474.5,824.6 474.7,824.9 474.9,825.4 475.0,825.7 475.2,826.3 475.4,826.8 475.4,827.1 475.5,827.6 475.5,828.2 475.5,828.8 475.4,829.3 475.4,829.6 475.2,830.1 475.1,830.7 475.0,831.0 474.7,831.5 474.6,831.8 474.2,832.4 474.1,832.6 473.8,832.9 473.4,833.4 473.1,833.7 472.9,834.0 472.6,834.3 472.3,834.6 471.9,834.9 471.5,835.2 471.1,835.5 470.7,835.7 470.3,835.9 469.9,836.2 469.3,836.5 468.8,836.8 468.4,836.9 468.0,837.1 467.5,837.3 466.9,837.5 466.5,837.7 465.8,837.9 465.3,838.0 464.7,838.2 464.2,838.3 463.4,838.4 463.0,838.5 462.2,838.6 461.5,838.7 461.1,838.8 460.3,838.8 459.5,838.9 458.7,838.9 458.0,838.9 457.2,838.9 456.4,838.8 455.7,838.8 454.9,838.7 454.5,838.7 453.7,838.6 452.9,838.5 452.5,838.4 451.8,838.3 451.0,838.2 450.6,838.1 449.9,838.0 449.4,837.9 448.7,837.7 448.2,837.6 447.5,837.4 447.1,837.3 446.4,837.1 446.0,837.0 445.2,836.8 444.8,836.7 444.3,836.5 443.7,836.3 443.3,836.2 442.6,835.9 442.1,835.8 441.7,835.6 441.2,835.4 440.6,835.2 440.2,835.0 439.8,834.8 439.2,834.6 438.6,834.3 438.2,834.1 437.9,833.9 437.5,833.7 437.0,833.5 436.5,833.2 436.1,832.9 435.6,832.6 435.2,832.4 434.8,832.1 434.4,831.8 434.1,831.5 433.7,831.2 433.4,831.0 433.1,830.7 432.8,830.4 432.4,830.0 432.1,829.6 431.8,829.3 431.6,829.0 431.3,828.5 431.1,828.2 430.9,827.9 M443.4,817.4 444.1,817.4 444.8,817.3 445.6,817.3 446.4,817.3 447.1,817.3 447.9,817.3 448.7,817.3 449.5,817.3 450.2,817.4 451.0,817.4 451.8,817.4 452.6,817.4 452.9,817.4 453.7,817.4 454.5,817.5 455.3,817.5 456.0,817.6 456.8,817.7 457.2,817.7 458.0,817.8 458.7,817.9 459.1,818.0 459.9,818.1 460.4,818.2 461.1,818.4 461.5,818.5 462.2,818.7 462.6,818.8 463.3,819.1 463.8,819.2 464.2,819.4 464.8,819.6 465.3,819.8 465.7,820.0 466.1,820.2 466.6,820.5 467.1,820.7 467.5,821.0 468.0,821.3 468.4,821.6 468.8,821.8 469.1,822.1 469.4,822.4 469.8,822.7 470.0,822.9 470.4,823.3 470.7,823.7 471.0,824.1 471.2,824.3 471.5,824.8 471.8,825.2 471.9,825.5 472.1,826.0 472.3,826.4 472.4,826.8 472.5,827.4 472.6,827.9 472.6,828.5 472.6,829.0 472.5,829.6 472.3,830.1 472.2,830.4 472.0,831.0 471.8,831.2 471.5,831.8 471.3,832.1 471.1,832.4 470.7,832.8 470.4,833.2 470.0,833.5 469.7,833.7 469.4,834.0 469.0,834.3 468.6,834.6 468.1,834.8 467.6,835.1 467.3,835.3 466.9,835.5 466.4,835.7 465.7,835.9 465.3,836.1 464.9,836.2 464.2,836.4 463.8,836.5 463.0,836.7 462.6,836.8 461.8,836.9 461.1,837.0 460.6,837.1 459.9,837.1 459.1,837.2 458.4,837.2 457.6,837.2 456.8,837.1 456.0,837.1 455.4,837.1 454.9,837.0 454.1,836.9 453.3,836.8 452.9,836.7 452.2,836.6 451.6,836.5 451.0,836.4 450.3,836.2 449.9,836.1 449.2,835.9 448.7,835.8 448.2,835.7 447.5,835.5 447.1,835.4 446.4,835.1 446.0,835.0 445.6,834.8 444.9,834.6 444.4,834.4 444.1,834.3 443.5,834.0 442.9,833.8 442.5,833.6 442.1,833.4 441.5,833.2 441.0,832.9 440.6,832.7 440.2,832.5 439.8,832.3 439.3,832.1 438.8,831.8 438.4,831.5 437.9,831.2 437.5,831.0 437.1,830.7 436.7,830.4 436.3,830.1 435.9,829.9 435.6,829.6 435.3,829.3 435.0,829.0 434.7,828.8 434.4,828.4 434.0,827.9 433.8,827.6 433.6,827.4 433.2,826.8 433.1,826.5 432.8,826.0 432.7,825.7 432.6,825.2 432.5,824.6 432.5,824.1 432.5,823.5 432.6,822.9 432.8,822.4 432.9,822.1 433.2,821.6 433.4,821.3 433.7,821.0 434.0,820.7 434.4,820.3 434.8,820.0 435.2,819.7 435.5,819.5 435.9,819.2 436.3,819.0 436.8,818.8 437.5,818.5 437.9,818.4 438.4,818.2 439.0,818.1 439.4,818.0 440.2,817.8 440.8,817.7 441.3,817.6 442.1,817.5 442.9,817.4 443.4,817.4 M442.4,818.5 442.9,818.5 443.7,818.4 444.4,818.4 445.2,818.4 446.0,818.4 446.8,818.5 447.5,818.5 447.9,818.5 448.7,818.6 449.5,818.6 450.2,818.7 451.0,818.8 451.5,818.8 452.2,818.8 452.9,818.9 453.7,818.9 454.5,819.0 455.3,819.1 455.7,819.1 456.4,819.2 457.2,819.3 457.6,819.3 458.4,819.5 459.1,819.6 459.5,819.7 460.3,819.9 460.7,820.0 461.4,820.2 461.8,820.3 462.2,820.5 463.0,820.7 463.4,820.9 463.8,821.1 464.3,821.3 464.8,821.6 465.3,821.8 465.7,822.1 466.1,822.3 466.5,822.6 466.9,822.9 467.3,823.2 467.6,823.5 467.9,823.8 468.2,824.1 468.4,824.3 468.8,824.8 469.0,825.2 469.2,825.4 469.5,826.0 469.6,826.3 469.8,826.8 469.9,827.4 470.0,827.6 470.0,828.2 470.0,828.8 470.0,829.0 469.8,829.6 469.6,830.1 469.5,830.4 469.2,831.0 469.1,831.2 468.8,831.6 468.4,832.0 468.1,832.4 467.8,832.6 467.5,832.9 467.1,833.2 466.7,833.5 466.2,833.7 465.7,834.0 465.3,834.2 464.9,834.3 464.4,834.6 463.8,834.8 463.4,834.9 462.6,835.1 462.2,835.2 461.5,835.3 461.1,835.4 460.3,835.5 459.5,835.6 458.7,835.6 458.0,835.6 457.2,835.6 456.4,835.6 455.7,835.5 454.9,835.5 454.4,835.4 453.7,835.3 452.9,835.2 452.6,835.1 451.8,834.9 451.4,834.8 450.6,834.7 450.2,834.6 449.5,834.4 449.1,834.2 448.3,834.0 447.9,833.9 447.5,833.7 446.8,833.5 446.4,833.4 445.9,833.2 445.2,832.9 444.8,832.8 444.4,832.6 443.7,832.4 443.3,832.2 442.9,832.0 442.4,831.8 441.8,831.5 441.3,831.3 441.0,831.1 440.6,830.9 440.1,830.7 439.5,830.4 439.1,830.1 438.6,829.9 438.2,829.6 437.9,829.4 437.5,829.1 437.1,828.8 436.7,828.5 436.4,828.2 436.1,827.9 435.8,827.6 435.5,827.3 435.2,826.8 435.0,826.5 434.8,826.2 434.5,825.7 434.4,825.3 434.3,824.9 434.2,824.3 434.2,823.8 434.3,823.2 434.4,822.8 434.5,822.4 434.8,822.0 435.1,821.6 435.3,821.3 435.6,821.0 435.9,820.7 436.3,820.4 436.7,820.2 437.2,819.9 437.7,819.6 438.2,819.4 438.6,819.3 439.3,819.1 439.8,818.9 440.4,818.8 441.0,818.7 441.7,818.6 442.4,818.5 M441.4,819.6 442.1,819.5 442.9,819.4 443.7,819.4 444.4,819.4 445.2,819.4 446.0,819.5 446.8,819.5 447.5,819.6 447.9,819.7 448.7,819.8 449.5,819.9 449.9,819.9 450.6,820.0 451.4,820.2 451.8,820.2 452.6,820.3 453.3,820.4 453.7,820.5 454.5,820.6 455.3,820.7 455.7,820.7 456.4,820.8 457.2,821.0 457.6,821.0 458.4,821.2 458.8,821.3 459.5,821.5 459.9,821.6 460.7,821.8 461.1,822.0 461.5,822.1 462.1,822.4 462.6,822.6 463.0,822.8 463.4,823.0 463.8,823.3 464.2,823.5 464.6,823.8 464.9,824.1 465.3,824.5 465.7,824.8 466.0,825.2 466.2,825.4 466.5,825.9 466.7,826.3 466.9,826.7 467.0,827.1 467.1,827.6 467.1,828.2 467.1,828.8 466.9,829.3 466.8,829.6 466.6,830.1 466.4,830.4 466.1,830.8 465.7,831.2 465.4,831.5 465.1,831.8 464.7,832.1 464.2,832.4 463.8,832.6 463.4,832.8 463.0,832.9 462.3,833.2 461.8,833.3 461.4,833.5 460.7,833.6 459.9,833.7 459.5,833.8 458.7,833.9 458.0,833.9 457.2,833.9 456.4,833.9 455.7,833.8 454.9,833.7 454.5,833.7 453.7,833.6 453.0,833.5 452.6,833.4 451.8,833.2 451.4,833.1 450.6,832.9 450.2,832.8 449.6,832.6 449.1,832.5 448.6,832.4 447.9,832.1 447.5,832.0 446.8,831.8 446.4,831.7 445.9,831.5 445.2,831.3 444.8,831.2 444.2,831.0 443.7,830.8 443.3,830.6 442.7,830.4 442.1,830.2 441.7,830.0 441.3,829.8 440.8,829.6 440.2,829.3 439.8,829.1 439.4,828.8 439.0,828.6 438.6,828.3 438.2,828.1 437.9,827.7 437.5,827.4 437.2,827.1 436.9,826.8 436.7,826.5 436.3,826.0 436.2,825.7 436.0,825.2 435.9,824.9 435.8,824.3 435.8,823.8 435.9,823.2 436.0,822.9 436.3,822.4 436.4,822.1 436.7,821.8 437.1,821.4 437.5,821.1 437.9,820.9 438.2,820.6 438.6,820.4 439.3,820.2 439.8,820.0 440.2,819.9 441.0,819.7 441.4,819.6 M441.9,820.5 442.5,820.4 443.3,820.3 444.1,820.3 444.8,820.3 445.6,820.3 446.4,820.4 446.8,820.5 447.5,820.6 448.3,820.7 448.7,820.8 449.5,821.0 449.9,821.1 450.6,821.2 451.0,821.3 451.8,821.5 452.2,821.6 452.9,821.8 453.3,821.9 454.1,822.0 454.6,822.1 455.3,822.3 455.9,822.4 456.4,822.5 457.2,822.7 457.6,822.8 458.2,822.9 458.7,823.1 459.1,823.2 459.9,823.5 460.3,823.7 460.7,823.9 461.1,824.1 461.5,824.3 461.9,824.6 462.3,824.9 462.6,825.2 463.0,825.5 463.4,826.0 463.5,826.3 463.8,826.7 463.9,827.1 464.0,827.6 464.0,828.2 463.9,828.8 463.8,829.1 463.5,829.6 463.3,829.9 463.0,830.2 462.6,830.5 462.2,830.8 461.8,831.0 461.4,831.2 460.7,831.5 460.3,831.6 459.6,831.8 459.1,831.9 458.4,832.0 457.6,832.1 457.2,832.1 456.4,832.1 456.0,832.1 455.3,832.0 454.5,831.9 453.7,831.8 453.3,831.8 452.6,831.6 451.9,831.5 451.4,831.4 450.6,831.2 450.2,831.2 449.5,831.0 449.1,830.9 448.3,830.7 447.9,830.7 447.1,830.5 446.8,830.4 446.0,830.2 445.6,830.1 444.8,829.9 444.4,829.8 443.8,829.6 443.3,829.4 442.9,829.3 442.2,829.0 441.7,828.8 441.3,828.7 441.0,828.5 440.5,828.2 440.0,827.9 439.6,827.6 439.2,827.4 438.9,827.1 438.6,826.8 438.2,826.5 437.9,826.0 437.7,825.7 437.5,825.3 437.3,824.9 437.2,824.3 437.2,823.8 437.4,823.2 437.5,822.9 437.9,822.4 438.1,822.1 438.4,821.8 438.8,821.6 439.3,821.3 439.8,821.0 440.2,820.9 440.7,820.7 441.3,820.6 441.9,820.5 M443.5,821.3 444.1,821.3 444.8,821.3 445.2,821.3 446.0,821.4 446.8,821.5 447.1,821.6 447.9,821.8 448.3,821.9 449.1,822.1 449.5,822.2 449.9,822.4 450.6,822.6 451.0,822.8 451.4,822.9 452.1,823.2 452.6,823.4 452.9,823.5 453.5,823.8 454.1,824.0 454.5,824.2 455.0,824.3 455.7,824.6 456.0,824.8 456.4,824.9 456.9,825.2 457.5,825.4 457.9,825.7 458.3,826.0 458.6,826.3 458.9,826.5 459.1,827.0 459.2,827.4 459.2,827.9 459.0,828.2 458.7,828.5 458.4,828.8 458.0,829.0 457.2,829.3 456.8,829.4 456.0,829.5 455.3,829.6 454.5,829.6 453.7,829.5 452.9,829.5 452.2,829.5 451.4,829.4 450.6,829.4 449.9,829.3 449.5,829.3 448.7,829.2 447.9,829.2 447.1,829.1 446.8,829.0 446.0,828.9 445.2,828.8 444.8,828.7 444.1,828.5 443.7,828.4 443.2,828.2 442.5,827.9 442.1,827.8 441.7,827.6 441.3,827.4 440.9,827.1 440.5,826.8 440.1,826.5 439.8,826.2 439.4,825.8 439.2,825.4 439.0,825.1 438.9,824.6 438.9,824.1 439.0,823.5 439.1,823.2 439.4,822.8 439.8,822.5 440.2,822.2 440.6,822.0 441.0,821.8 441.7,821.6 442.1,821.5 442.9,821.3 443.5,821.3 M443.3,822.4 443.7,822.3 444.4,822.3 445.2,822.4 445.6,822.4 446.4,822.5 446.9,822.7 447.5,822.9 447.9,823.0 448.4,823.2 449.0,823.5 449.5,823.8 449.9,824.0 450.2,824.3 450.6,824.6 450.9,824.9 451.1,825.2 451.4,825.7 451.4,826.3 451.0,826.7 450.6,827.0 450.2,827.2 449.8,827.4 449.1,827.5 448.3,827.6 447.9,827.7 447.1,827.7 446.4,827.7 446.0,827.6 445.2,827.5 444.4,827.4 444.1,827.3 443.5,827.1 442.9,826.9 442.5,826.7 442.1,826.4 441.7,826.2 441.3,825.8 441.0,825.4 440.8,825.2 440.6,824.6 440.7,824.1 440.9,823.5 441.2,823.2 441.6,822.9 442.1,822.7 442.5,822.6 443.3,822.4" fill="none" stroke="#4a4a4a" stroke-width="0.4" stroke-linejoin="round"/>
<rect x="430.40" y="767.60" width="92.60" height="95.20" fill="none" stroke="#666" stroke-width="0.6"/>
<path d="M430.4,779.6h-2.2M430.4,810.7h-2.2M430.4,839.3h-2.2M430.4,801.3h-1.2M430.4,795.9h-1.2M430.4,792.0h-1.2M430.4,789.0h-1.2M430.4,786.5h-1.2M430.4,784.4h-1.2M430.4,782.6h-1.2M430.4,781.0h-1.2M430.4,815.5h-1.2M430.4,813.7h-1.2M430.4,812.1h-1.2M430.4,843.5h-1.2M430.4,847.0h-1.2M430.4,851.0h-1.2M430.4,855.0h-1.2M430.4,859.0h-1.2M430.4,775.5h-1.2M430.4,771.5h-1.2" stroke="#444" stroke-width="0.5"/>
<path d="M431.0,834.5v1.6M431.0,837.2v2.4M431.0,840.6v1.5M450.9,862.2h1.2M452.9,862.2h2.2M456.4,862.2h1.0" stroke="#111" stroke-width="1.3"/>
<text x="426.60" y="781.80" font-size="6.2" text-anchor="end">10<tspan font-size="4.3" dy="-2.6">4</tspan></text>
<text x="426.60" y="812.90" font-size="6.2" text-anchor="end">10<tspan font-size="4.3" dy="-2.6">3</tspan></text>
<text x="426.60" y="841.50" font-size="6.2" text-anchor="end">0</text>
<path d="M454.3,862.8v2.2M480.8,862.8v2.2M497.8,862.8v2.2M514.6,862.8v2.2M485.9,862.8v1.2M488.9,862.8v1.2M491.0,862.8v1.2M492.7,862.8v1.2M494.0,862.8v1.2M495.2,862.8v1.2M496.2,862.8v1.2M497.0,862.8v1.2M502.9,862.8v1.2M505.8,862.8v1.2M507.9,862.8v1.2M509.5,862.8v1.2M510.9,862.8v1.2M512.0,862.8v1.2M513.0,862.8v1.2M513.8,862.8v1.2M519.7,862.8v1.2M522.6,862.8v1.2M524.7,862.8v1.2M436.4,862.8v1.2M442.4,862.8v1.2M448.4,862.8v1.2M460.4,862.8v1.2M466.4,862.8v1.2M473.4,862.8v1.2" stroke="#444" stroke-width="0.5"/>
<text x="454.30" y="873.7" font-size="6.2" text-anchor="middle">0</text>
<text x="480.80" y="873.7" font-size="6.2" text-anchor="middle">10<tspan font-size="4.3" dy="-2.6">3</tspan></text>
<text x="497.80" y="873.7" font-size="6.2" text-anchor="middle">10<tspan font-size="4.3" dy="-2.6">4</tspan></text>
<text x="514.60" y="873.7" font-size="6.2" text-anchor="middle">10<tspan font-size="4.3" dy="-2.6">5</tspan></text>
<path d="M433.50,769.7 H475.00 V818.8 H433.50 Z" fill="none" stroke="#2FA8DC" stroke-width="1.2" />
<path d="M475.40,820.0 H520.90 V845.1 H475.40 Z" fill="none" stroke="#E8559C" stroke-width="1.2" />
<text x="477.50" y="777.67" font-size="6.2" >TCRβ+</text>
<text x="477.50" y="784.87" font-size="6.2" >25.8%</text>
<text x="521.00" y="852.97" font-size="6.2" text-anchor="end" >CD19+</text>
<text x="521.00" y="859.47" font-size="6.2" text-anchor="end" >1.88%</text>
<text x="591.30" y="762.25" font-size="7" text-anchor="middle" >Geriatric</text>
<path d="M561.9,780.7h.01M555.8,809.0h.01M550.7,779.1h.01M560.9,796.3h.01M565.1,802.3h.01M550.4,783.5h.01M572.6,809.1h.01M556.4,807.7h.01M557.8,794.0h.01M558.2,776.0h.01M551.7,791.4h.01M569.4,783.2h.01M554.2,805.9h.01M553.3,804.1h.01M565.7,782.2h.01M562.2,802.4h.01M561.0,792.9h.01M573.3,786.8h.01M560.7,809.9h.01M574.0,781.5h.01M571.5,795.1h.01M570.2,803.7h.01M567.8,791.7h.01M551.4,810.5h.01M568.1,792.9h.01M559.3,808.5h.01M567.3,794.2h.01M573.4,786.3h.01M564.7,809.1h.01M568.5,811.8h.01M557.4,784.3h.01M580.1,812.4h.01M564.8,782.3h.01M548.3,772.6h.01M576.3,808.6h.01M551.1,800.3h.01M565.4,816.5h.01M576.5,787.7h.01M582.9,815.1h.01M565.7,788.9h.01M578.4,808.4h.01M580.8,817.6h.01M572.0,784.2h.01M565.6,801.6h.01M561.3,803.1h.01M554.2,797.2h.01M572.6,784.6h.01M566.0,789.6h.01M576.5,802.3h.01M574.0,796.7h.01M566.9,801.8h.01M560.0,791.2h.01M560.0,789.9h.01M587.0,789.2h.01M565.6,793.1h.01M551.5,806.0h.01M566.9,785.4h.01M568.7,797.1h.01M570.1,790.4h.01M563.1,811.8h.01M559.3,800.6h.01M570.4,775.1h.01M570.1,786.8h.01M563.3,795.1h.01M570.0,801.5h.01M568.8,796.9h.01M557.1,806.0h.01M566.4,791.2h.01M555.8,780.9h.01M586.1,811.4h.01M574.9,803.6h.01M576.9,781.5h.01M583.2,785.8h.01M580.4,798.2h.01M580.4,784.9h.01M569.8,793.9h.01M563.2,803.7h.01M565.1,782.3h.01M576.7,787.1h.01M565.3,787.4h.01M583.9,800.6h.01M571.1,788.2h.01M572.2,810.9h.01M561.7,798.5h.01M577.7,792.2h.01M550.2,789.9h.01M571.8,782.4h.01M556.0,816.6h.01M563.3,800.2h.01M564.5,808.9h.01M567.5,802.5h.01M550.6,785.8h.01M558.9,794.6h.01M555.7,780.6h.01M582.1,784.0h.01M579.5,771.9h.01M563.5,798.7h.01M567.8,802.1h.01M574.5,806.2h.01M564.6,805.0h.01M563.1,783.0h.01M560.4,794.2h.01M563.5,799.2h.01M581.4,783.9h.01M568.6,788.3h.01M554.3,815.8h.01M572.7,806.6h.01M551.5,806.8h.01M566.3,810.1h.01" stroke="#333" stroke-width="0.5" stroke-linecap="round" stroke-opacity="0.85"/>
<path d="M560.2,816.2h.01M568.0,808.3h.01M576.8,805.8h.01M564.3,816.1h.01M575.7,811.4h.01M568.8,805.1h.01M552.7,814.2h.01M566.6,807.0h.01M574.1,806.0h.01M559.9,806.1h.01M568.9,809.3h.01M572.5,806.8h.01M559.8,811.9h.01M557.1,817.9h.01M571.9,815.5h.01M561.8,805.9h.01M551.4,813.8h.01M553.0,805.1h.01M572.8,810.6h.01M549.2,808.9h.01M560.9,810.7h.01M555.0,815.8h.01M567.0,807.8h.01M565.7,806.6h.01M565.5,809.6h.01M551.7,806.5h.01M554.6,815.0h.01M560.6,815.0h.01M575.0,811.3h.01M578.4,812.0h.01M560.2,805.1h.01M582.9,812.8h.01M551.3,814.2h.01M573.5,813.4h.01" stroke="#333" stroke-width="0.5" stroke-linecap="round" stroke-opacity="0.85"/>
<path d="M564.0,830.4h.01M559.1,833.3h.01M553.7,830.4h.01M568.9,837.2h.01M558.1,831.2h.01M559.0,834.1h.01M573.7,831.7h.01M559.1,831.0h.01M565.5,841.4h.01M568.9,832.7h.01M577.6,830.0h.01M562.3,836.0h.01M558.7,834.6h.01M567.8,835.7h.01M559.5,832.5h.01M562.6,837.9h.01M571.6,835.5h.01M567.8,830.2h.01M572.4,833.5h.01M558.9,832.7h.01M557.5,837.4h.01M571.5,836.6h.01M556.8,836.7h.01M580.1,834.1h.01M583.2,852.1h.01M556.7,832.0h.01M578.0,830.5h.01M574.4,829.4h.01M569.7,833.2h.01M570.8,834.6h.01M561.6,834.6h.01M570.2,837.2h.01M553.4,834.7h.01M570.9,835.9h.01M576.5,837.4h.01M563.4,832.4h.01M576.5,831.1h.01M563.2,829.9h.01M551.7,829.5h.01M553.5,836.1h.01M556.3,833.5h.01M558.5,833.9h.01M570.8,834.8h.01M572.2,832.2h.01M557.4,831.9h.01M550.2,834.0h.01M569.1,836.6h.01M554.6,835.6h.01M556.5,834.7h.01M573.3,820.5h.01M570.6,831.1h.01M573.7,836.4h.01M569.7,836.9h.01M553.0,829.6h.01M574.0,832.5h.01M555.4,827.6h.01M571.5,832.4h.01M578.7,840.3h.01M566.2,830.6h.01M585.4,837.7h.01M553.8,834.9h.01M557.2,836.3h.01M567.6,835.2h.01M561.1,826.9h.01M569.6,834.3h.01M560.4,828.0h.01M561.9,831.0h.01M562.8,831.0h.01M555.4,829.5h.01M560.7,832.4h.01M561.1,829.0h.01M567.9,836.5h.01M584.7,831.5h.01M570.4,832.0h.01M549.8,835.5h.01M555.1,834.8h.01M550.7,833.6h.01M569.6,822.9h.01M557.5,830.5h.01M568.9,838.2h.01M573.4,835.4h.01M575.8,834.3h.01M553.2,833.0h.01M567.9,834.1h.01M555.6,826.7h.01M569.6,833.8h.01M571.7,831.4h.01M577.3,836.2h.01M559.0,830.9h.01M574.2,835.1h.01M561.8,835.1h.01M571.9,830.9h.01M576.7,836.1h.01M552.1,833.9h.01M563.1,839.2h.01M561.3,835.7h.01M561.0,829.3h.01M566.9,831.1h.01M570.7,836.4h.01M572.8,838.8h.01M576.1,843.6h.01" stroke="#333" stroke-width="0.45" stroke-linecap="round" stroke-opacity="0.7"/>
<path d="M604.5,841.4h.01M598.2,833.3h.01M596.3,832.0h.01M594.4,840.1h.01M604.3,832.6h.01M601.6,834.6h.01M600.7,835.8h.01M609.5,837.9h.01M601.0,841.1h.01M596.5,830.8h.01M603.0,836.2h.01M597.8,823.7h.01" stroke="#333" stroke-width="0.5" stroke-linecap="round" stroke-opacity="0.85"/>
<path d="M544.8,824.8 545.2,824.5 545.6,824.2 546.0,824.0 546.3,823.7 546.7,823.5 547.1,823.2 547.6,822.9 548.1,822.7 548.7,822.4 549.1,822.2 549.4,822.0 549.9,821.8 550.5,821.6 551.0,821.4 551.4,821.2 552.0,821.0 552.5,820.8 552.9,820.7 553.7,820.5 554.1,820.4 554.9,820.2 555.2,820.1 556.0,820.0 556.4,819.9 557.2,819.8 558.0,819.7 558.3,819.6 559.1,819.5 559.9,819.4 560.7,819.4 561.1,819.3 561.8,819.3 562.6,819.3 563.4,819.3 564.1,819.2 564.9,819.2 565.7,819.2 566.5,819.3 567.2,819.3 568.0,819.3 568.8,819.3 569.6,819.3 569.9,819.3 570.7,819.3 571.1,819.3 571.9,819.3 572.6,819.3 573.4,819.2 574.2,819.1 574.9,819.1 575.4,819.0 576.1,818.9 576.9,818.9 577.7,818.8 578.5,818.8 579.2,818.9 580.0,818.9 580.8,819.0 581.2,819.1 581.9,819.3 582.3,819.4 582.9,819.6 583.5,819.9 583.9,820.0 584.3,820.3 584.6,820.5 585.0,820.7 585.4,821.0 585.8,821.3 586.2,821.6 586.6,822.0 587.0,822.3 587.3,822.7 587.5,822.9 587.7,823.2 588.1,823.7 588.4,824.1 588.5,824.3 588.9,824.9 589.0,825.2 589.3,825.6 589.5,826.0 589.7,826.4 589.8,826.8 590.0,827.4 590.1,827.6 590.3,828.2 590.4,828.8 590.4,829.0 590.5,829.6 590.6,830.1 590.6,830.7 590.6,831.2 590.6,831.8 590.6,832.4 590.5,832.9 590.4,833.2 590.3,833.7 590.2,834.3 590.1,834.7 589.9,835.1 589.7,835.7 589.5,835.9 589.3,836.4 589.1,836.8 588.9,837.1 588.6,837.6 588.4,837.9 588.1,838.2 587.7,838.7 587.4,839.0 587.2,839.3 586.9,839.5 586.6,839.8 586.2,840.2 585.8,840.5 585.4,840.7 585.0,841.0 584.6,841.3 584.2,841.5 583.7,841.8 583.2,842.0 582.7,842.3 582.3,842.4 581.9,842.6 581.2,842.8 580.8,843.0 580.1,843.1 579.6,843.3 579.0,843.4 578.5,843.5 577.7,843.7 577.3,843.8 576.5,843.9 575.9,844.0 575.4,844.1 574.6,844.2 573.8,844.2 573.4,844.3 572.6,844.4 571.9,844.4 571.1,844.5 570.4,844.5 569.9,844.6 569.2,844.6 568.4,844.6 567.6,844.7 566.8,844.7 566.1,844.7 565.3,844.7 564.5,844.8 563.8,844.7 563.0,844.7 562.2,844.7 561.4,844.7 560.7,844.6 559.9,844.5 559.5,844.5 558.7,844.4 558.0,844.3 557.6,844.2 556.8,844.1 556.1,844.0 555.6,843.9 554.9,843.7 554.5,843.6 553.7,843.4 553.3,843.3 552.8,843.1 552.1,843.0 551.8,842.8 551.1,842.6 550.6,842.4 550.2,842.2 549.7,842.0 549.1,841.8 548.7,841.6 548.3,841.4 547.9,841.2 547.5,840.9 547.0,840.7 546.5,840.4 546.1,840.1 545.7,839.8 545.3,839.5 545.0,839.3 M575.3,821.8 575.7,821.8 576.5,821.7 577.3,821.6 578.1,821.6 578.8,821.6 579.6,821.7 580.4,821.8 580.8,821.9 581.5,822.1 581.9,822.2 582.3,822.4 582.9,822.7 583.4,822.9 583.8,823.2 584.2,823.5 584.5,823.8 584.8,824.1 585.1,824.3 585.4,824.7 585.8,825.2 586.0,825.4 586.2,825.8 586.5,826.3 586.6,826.5 586.9,827.1 587.0,827.4 587.2,827.9 587.3,828.4 587.4,828.8 587.6,829.3 587.6,829.9 587.7,830.4 587.7,831.0 587.7,831.5 587.6,832.1 587.5,832.6 587.4,833.2 587.3,833.5 587.1,834.0 587.0,834.5 586.8,834.8 586.6,835.3 586.4,835.7 586.2,836.0 585.8,836.5 585.6,836.8 585.4,837.1 585.0,837.5 584.6,837.8 584.3,838.2 584.0,838.4 583.6,838.7 583.3,839.0 582.8,839.3 582.4,839.5 581.9,839.8 581.5,840.0 581.2,840.2 580.8,840.4 580.2,840.7 579.6,840.9 579.2,841.0 578.7,841.2 578.1,841.4 577.7,841.5 576.9,841.7 576.5,841.8 575.7,841.9 575.1,842.0 574.6,842.1 573.8,842.2 573.0,842.3 572.3,842.3 571.7,842.3 571.1,842.3 570.5,842.3 569.9,842.3 569.2,842.3 568.4,842.2 567.6,842.2 566.8,842.2 566.1,842.1 565.3,842.1 564.5,842.0 564.1,842.0 563.4,842.0 562.6,842.0 561.8,841.9 561.0,841.9 560.3,841.9 559.5,841.8 559.1,841.7 558.3,841.7 557.6,841.6 557.2,841.5 556.4,841.3 555.8,841.2 555.2,841.1 554.7,840.9 554.1,840.7 553.7,840.6 553.1,840.4 552.5,840.2 552.1,840.0 551.8,839.8 551.2,839.5 550.7,839.3 550.3,839.0 549.8,838.7 549.4,838.4 549.1,838.2 548.7,837.9 548.4,837.6 548.1,837.3 547.9,837.1 547.5,836.7 547.1,836.2 546.9,835.9 546.7,835.7 546.4,835.1 546.3,834.8 546.0,834.3 545.9,834.0 545.7,833.5 545.6,832.9 545.6,832.5 545.5,832.1 545.6,831.5 545.6,831.2 545.7,830.7 545.8,830.1 546.0,829.6 546.1,829.3 546.3,828.8 546.5,828.5 546.7,828.1 547.0,827.6 547.2,827.4 547.5,827.0 547.9,826.6 548.2,826.3 548.5,826.0 548.8,825.7 549.1,825.4 549.5,825.2 549.9,824.9 550.3,824.6 550.8,824.3 551.2,824.1 551.8,823.8 552.1,823.6 552.5,823.4 553.1,823.2 553.7,823.0 554.1,822.9 554.8,822.7 555.2,822.5 555.9,822.4 556.4,822.3 557.2,822.2 557.6,822.1 558.3,822.0 559.1,822.0 559.9,821.9 560.7,821.9 561.4,821.9 562.2,821.9 563.0,821.9 563.8,822.0 564.5,822.0 565.3,822.0 566.1,822.1 566.8,822.1 567.2,822.1 568.0,822.2 568.8,822.2 569.6,822.2 570.3,822.2 571.1,822.2 571.9,822.2 572.6,822.1 573.0,822.1 573.8,822.0 574.6,821.9 575.3,821.8 M556.8,823.8 557.6,823.7 558.3,823.6 559.1,823.6 559.9,823.6 560.7,823.7 561.4,823.8 561.8,823.8 562.6,823.9 563.4,824.0 563.8,824.1 564.5,824.2 565.0,824.3 565.7,824.4 566.5,824.6 566.8,824.6 567.6,824.7 568.4,824.8 569.2,824.8 569.9,824.8 570.7,824.8 571.5,824.8 572.3,824.8 573.0,824.7 573.8,824.6 574.2,824.6 575.0,824.5 575.7,824.4 576.5,824.3 576.9,824.3 577.7,824.3 578.5,824.3 579.2,824.3 579.6,824.4 580.4,824.6 580.8,824.7 581.3,824.9 581.8,825.2 582.2,825.4 582.6,825.7 582.9,826.0 583.2,826.3 583.5,826.6 583.9,827.1 584.1,827.4 584.3,827.7 584.5,828.2 584.6,828.6 584.8,829.0 584.9,829.6 585.0,830.1 585.0,830.6 585.0,831.0 585.0,831.3 585.0,831.8 584.9,832.4 584.8,832.9 584.6,833.4 584.5,833.7 584.3,834.3 584.1,834.6 583.9,835.1 583.7,835.4 583.5,835.7 583.1,836.2 582.8,836.5 582.6,836.8 582.3,837.1 581.9,837.4 581.5,837.7 581.2,838.1 580.8,838.3 580.4,838.6 580.0,838.9 579.6,839.1 579.2,839.3 578.7,839.5 578.1,839.8 577.7,840.0 577.3,840.1 576.5,840.4 576.1,840.5 575.4,840.6 575.0,840.7 574.2,840.8 573.4,840.9 573.0,840.9 572.3,841.0 571.5,840.9 571.1,840.9 570.3,840.9 569.6,840.8 568.8,840.7 568.4,840.6 567.6,840.4 567.2,840.3 566.5,840.2 566.1,840.1 565.3,840.0 564.5,839.9 564.0,839.8 563.4,839.8 562.6,839.8 561.8,839.8 561.4,839.8 560.7,839.9 559.9,839.9 559.1,839.8 558.7,839.8 558.0,839.8 557.2,839.7 556.5,839.5 556.0,839.5 555.3,839.3 554.9,839.2 554.4,839.0 553.7,838.7 553.3,838.6 552.9,838.4 552.5,838.2 552.1,837.9 551.6,837.6 551.2,837.3 550.9,837.1 550.6,836.8 550.2,836.4 549.8,836.0 549.6,835.7 549.4,835.4 549.1,834.9 548.9,834.6 548.7,834.2 548.5,833.7 548.3,833.2 548.3,832.9 548.2,832.4 548.1,831.8 548.2,831.2 548.2,830.7 548.3,830.4 548.4,829.9 548.6,829.3 548.8,829.0 549.1,828.5 549.2,828.2 549.4,827.9 549.8,827.4 550.1,827.1 550.3,826.8 550.6,826.5 551.0,826.2 551.4,825.9 551.8,825.7 552.1,825.4 552.6,825.2 553.1,824.9 553.7,824.6 554.1,824.5 554.5,824.3 555.2,824.1 555.6,824.0 556.4,823.8 556.8,823.8 M556.9,824.9 557.6,824.8 558.3,824.8 559.1,824.8 559.9,824.9 560.3,824.9 561.0,825.0 561.6,825.2 562.2,825.3 562.6,825.4 563.4,825.7 563.8,825.8 564.1,826.0 564.8,826.3 565.3,826.4 565.7,826.6 566.4,826.8 566.8,826.9 567.6,827.0 568.4,827.1 569.2,827.1 569.9,827.0 570.7,827.0 571.5,826.9 572.3,826.9 573.0,826.8 573.4,826.8 574.2,826.8 575.0,826.8 575.7,826.8 576.5,826.8 576.9,826.8 577.7,826.9 578.5,827.1 578.8,827.1 579.5,827.4 580.0,827.6 580.4,827.8 580.8,828.1 581.1,828.5 581.4,828.8 581.6,829.0 581.9,829.6 582.0,829.9 582.2,830.4 582.3,830.9 582.4,831.2 582.4,831.8 582.4,832.4 582.3,832.8 582.2,833.2 582.1,833.7 581.9,834.2 581.8,834.6 581.5,835.1 581.4,835.4 581.2,835.7 580.8,836.2 580.6,836.5 580.3,836.8 580.0,837.1 579.6,837.4 579.2,837.8 578.8,838.0 578.5,838.3 578.1,838.5 577.7,838.7 577.1,839.0 576.5,839.2 576.1,839.4 575.5,839.5 575.0,839.7 574.2,839.8 573.8,839.9 573.0,839.9 572.3,839.9 571.5,839.9 570.8,839.8 570.3,839.8 569.6,839.6 569.2,839.5 568.4,839.3 568.0,839.2 567.5,839.0 566.8,838.7 566.5,838.6 566.0,838.4 565.3,838.2 564.9,838.1 564.1,838.0 563.4,838.0 562.6,838.1 562.2,838.2 561.4,838.3 560.7,838.4 560.1,838.4 559.5,838.5 558.7,838.5 558.0,838.5 557.5,838.4 556.8,838.4 556.0,838.2 555.6,838.1 554.9,837.9 554.5,837.7 554.1,837.5 553.6,837.3 553.1,837.1 552.7,836.8 552.3,836.5 552.0,836.2 551.7,835.9 551.4,835.6 551.0,835.2 550.7,834.8 550.5,834.6 550.2,834.0 550.1,833.7 549.9,833.2 549.8,832.8 549.7,832.4 549.7,831.8 549.7,831.2 549.8,830.7 549.8,830.4 550.0,829.9 550.2,829.3 550.3,829.0 550.6,828.6 550.9,828.2 551.1,827.9 551.4,827.6 551.8,827.2 552.1,826.9 552.5,826.6 552.9,826.3 553.3,826.1 553.7,825.9 554.1,825.7 554.7,825.4 555.2,825.2 555.6,825.1 556.4,825.0 556.9,824.9 M556.6,826.0 557.2,825.9 558.0,825.9 558.7,825.9 559.5,825.9 559.9,826.0 560.7,826.2 561.0,826.3 561.7,826.5 562.2,826.7 562.6,826.9 563.0,827.1 563.4,827.4 563.8,827.6 564.2,827.9 564.6,828.2 565.0,828.5 565.4,828.8 565.9,829.0 566.5,829.2 567.2,829.3 568.0,829.2 568.8,829.0 569.2,829.0 569.9,828.8 570.3,828.7 571.1,828.6 571.9,828.5 572.4,828.5 573.0,828.5 573.7,828.5 574.2,828.5 575.0,828.6 575.7,828.7 576.1,828.8 576.8,829.0 577.3,829.2 577.7,829.4 578.1,829.6 578.5,829.9 578.8,830.2 579.2,830.7 579.4,831.0 579.6,831.3 579.8,831.8 580.0,832.4 580.0,832.6 580.0,833.2 580.0,833.7 580.0,834.0 579.8,834.6 579.6,835.0 579.4,835.4 579.2,835.7 578.9,836.2 578.6,836.5 578.4,836.8 578.1,837.1 577.7,837.4 577.3,837.6 576.9,837.9 576.3,838.2 575.7,838.4 575.4,838.5 574.6,838.7 574.2,838.8 573.4,838.9 572.6,838.9 571.9,838.9 571.1,838.8 570.5,838.7 569.9,838.6 569.5,838.4 568.8,838.2 568.4,838.0 568.0,837.8 567.6,837.6 567.2,837.3 566.8,837.1 566.3,836.8 565.9,836.5 565.3,836.3 564.9,836.2 564.1,836.1 563.6,836.2 563.0,836.4 562.6,836.5 561.8,836.8 561.4,836.9 560.7,837.1 560.3,837.1 559.5,837.3 558.7,837.3 558.0,837.3 557.2,837.3 556.4,837.1 556.0,837.0 555.2,836.8 554.9,836.7 554.5,836.5 554.0,836.2 553.6,835.9 553.2,835.7 552.9,835.4 552.5,835.1 552.1,834.6 551.9,834.3 551.7,834.0 551.4,833.5 551.3,833.2 551.2,832.6 551.1,832.1 551.0,831.5 551.1,831.0 551.2,830.4 551.4,829.9 551.5,829.6 551.8,829.1 552.0,828.8 552.2,828.5 552.5,828.1 552.9,827.7 553.3,827.4 553.7,827.1 554.1,826.9 554.5,826.7 554.9,826.5 555.5,826.3 556.0,826.1 556.6,826.0 M557.5,826.8 558.0,826.8 558.6,826.8 559.1,826.9 559.9,827.0 560.3,827.1 560.9,827.4 561.4,827.6 561.8,827.8 562.2,828.1 562.6,828.4 563.0,828.7 563.3,829.0 563.6,829.3 563.8,829.6 564.1,830.1 564.3,830.4 564.5,830.8 564.8,831.2 564.9,831.6 565.1,832.1 565.2,832.6 564.9,833.1 564.6,833.5 564.3,833.7 564.0,834.0 563.6,834.3 563.3,834.6 562.8,834.8 562.4,835.1 561.9,835.4 561.4,835.6 561.0,835.8 560.5,835.9 559.9,836.1 559.4,836.2 558.7,836.3 558.0,836.3 557.2,836.3 556.8,836.2 556.0,836.0 555.6,835.9 555.1,835.7 554.6,835.4 554.2,835.1 553.8,834.8 553.5,834.6 553.2,834.3 552.9,833.9 552.7,833.5 552.5,833.2 552.3,832.6 552.2,832.1 552.2,831.5 552.2,831.0 552.4,830.4 552.5,829.9 552.7,829.6 552.9,829.2 553.3,828.8 553.6,828.5 553.9,828.2 554.3,827.9 554.7,827.6 555.2,827.4 555.6,827.2 556.0,827.1 556.8,826.9 557.5,826.8 M571.2,829.9 571.9,829.8 572.6,829.7 573.4,829.7 574.2,829.8 574.6,829.9 575.4,830.1 575.7,830.2 576.2,830.4 576.7,830.7 577.0,831.0 577.4,831.2 577.7,831.6 578.0,832.1 578.1,832.4 578.3,832.9 578.4,833.5 578.4,834.0 578.3,834.6 578.1,835.1 577.9,835.4 577.7,835.7 577.3,836.2 577.0,836.5 576.6,836.8 576.2,837.1 575.7,837.3 575.4,837.5 575.0,837.6 574.2,837.9 573.8,837.9 573.0,838.0 572.3,838.0 571.5,837.9 571.1,837.8 570.3,837.6 569.9,837.5 569.6,837.3 569.1,837.1 568.7,836.8 568.3,836.5 568.0,836.2 567.6,835.9 567.2,835.4 567.0,835.1 566.8,834.8 566.5,834.3 566.3,834.0 566.1,833.5 566.1,833.2 566.1,832.9 566.4,832.4 566.7,832.1 567.0,831.8 567.4,831.5 567.8,831.2 568.2,831.0 568.8,830.7 569.2,830.5 569.6,830.3 570.1,830.1 570.7,830.0 571.2,829.9 M557.0,827.9 557.6,827.8 558.3,827.8 559.0,827.9 559.5,828.0 560.0,828.2 560.6,828.5 561.0,828.8 561.4,829.0 561.7,829.3 561.9,829.6 562.2,830.0 562.4,830.4 562.6,830.8 562.7,831.2 562.7,831.8 562.6,832.4 562.6,832.6 562.3,833.2 562.1,833.5 561.8,833.7 561.4,834.1 561.0,834.4 560.7,834.6 560.2,834.8 559.5,835.1 559.1,835.2 558.3,835.3 557.6,835.2 556.8,835.1 556.4,835.0 555.9,834.8 555.3,834.6 554.9,834.3 554.6,834.0 554.3,833.7 554.1,833.5 553.7,832.9 553.6,832.6 553.5,832.1 553.4,831.5 553.5,831.0 553.6,830.4 553.8,830.1 554.1,829.6 554.3,829.3 554.6,829.0 555.0,828.8 555.4,828.5 556.0,828.2 556.4,828.1 557.0,827.9 M571.1,831.2 571.9,831.1 572.6,831.0 573.4,831.0 574.2,831.2 574.6,831.3 575.1,831.5 575.6,831.8 575.9,832.1 576.2,832.4 576.5,832.9 576.6,833.2 576.7,833.7 576.7,834.3 576.5,834.8 576.4,835.1 576.1,835.4 575.7,835.9 575.4,836.2 575.0,836.4 574.6,836.6 573.9,836.8 573.4,836.9 572.6,836.9 571.9,836.9 571.5,836.8 570.7,836.5 570.3,836.3 569.9,836.1 569.6,835.7 569.2,835.4 569.0,835.1 568.8,834.6 568.7,834.3 568.7,833.7 568.8,833.2 568.9,832.9 569.2,832.5 569.6,832.1 569.9,831.8 570.3,831.6 570.7,831.4 571.1,831.2 M557.0,829.0 557.6,828.9 558.3,829.0 558.8,829.0 559.5,829.3 559.9,829.5 560.3,829.8 560.6,830.1 560.8,830.4 561.0,830.9 561.1,831.2 561.1,831.8 561.0,832.2 560.9,832.6 560.7,832.9 560.3,833.3 559.9,833.6 559.5,833.8 558.9,834.0 558.3,834.1 557.6,834.1 556.9,834.0 556.4,833.8 556.0,833.6 555.6,833.3 555.2,832.9 555.0,832.6 554.9,832.2 554.8,831.8 554.8,831.2 554.9,830.8 555.0,830.4 555.2,830.1 555.6,829.7 556.0,829.4 556.4,829.2 557.0,829.0 M571.9,832.6 572.6,832.5 573.4,832.6 573.8,832.7 574.2,832.9 574.6,833.3 574.8,833.7 574.7,834.3 574.6,834.7 574.2,835.1 573.8,835.3 573.4,835.5 572.6,835.5 571.9,835.4 571.5,835.2 571.1,834.9 570.9,834.6 570.7,834.0 570.9,833.5 571.1,833.1 571.5,832.8 571.9,832.6" fill="none" stroke="#4a4a4a" stroke-width="0.4" stroke-linejoin="round"/>
<rect x="544.30" y="767.60" width="92.60" height="95.20" fill="none" stroke="#666" stroke-width="0.6"/>
<path d="M544.3,779.6h-2.2M544.3,810.7h-2.2M544.3,839.3h-2.2M544.3,801.3h-1.2M544.3,795.9h-1.2M544.3,792.0h-1.2M544.3,789.0h-1.2M544.3,786.5h-1.2M544.3,784.4h-1.2M544.3,782.6h-1.2M544.3,781.0h-1.2M544.3,815.5h-1.2M544.3,813.7h-1.2M544.3,812.1h-1.2M544.3,843.5h-1.2M544.3,847.0h-1.2M544.3,851.0h-1.2M544.3,855.0h-1.2M544.3,859.0h-1.2M544.3,775.5h-1.2M544.3,771.5h-1.2" stroke="#444" stroke-width="0.5"/>
<path d="M544.9,834.5v1.6M544.9,837.2v2.4M544.9,840.6v1.5M564.8,862.2h1.2M566.8,862.2h2.2M570.3,862.2h1.0" stroke="#111" stroke-width="1.3"/>
<text x="540.50" y="781.80" font-size="6.2" text-anchor="end">10<tspan font-size="4.3" dy="-2.6">4</tspan></text>
<text x="540.50" y="812.90" font-size="6.2" text-anchor="end">10<tspan font-size="4.3" dy="-2.6">3</tspan></text>
<text x="540.50" y="841.50" font-size="6.2" text-anchor="end">0</text>
<path d="M568.2,862.8v2.2M594.7,862.8v2.2M611.7,862.8v2.2M628.5,862.8v2.2M599.8,862.8v1.2M602.8,862.8v1.2M604.9,862.8v1.2M606.6,862.8v1.2M607.9,862.8v1.2M609.1,862.8v1.2M610.1,862.8v1.2M610.9,862.8v1.2M616.8,862.8v1.2M619.7,862.8v1.2M621.8,862.8v1.2M623.4,862.8v1.2M624.8,862.8v1.2M625.9,862.8v1.2M626.9,862.8v1.2M627.7,862.8v1.2M633.6,862.8v1.2M636.5,862.8v1.2M638.6,862.8v1.2M550.3,862.8v1.2M556.3,862.8v1.2M562.3,862.8v1.2M574.3,862.8v1.2M580.3,862.8v1.2M587.3,862.8v1.2" stroke="#444" stroke-width="0.5"/>
<text x="568.20" y="873.7" font-size="6.2" text-anchor="middle">0</text>
<text x="594.70" y="873.7" font-size="6.2" text-anchor="middle">10<tspan font-size="4.3" dy="-2.6">3</tspan></text>
<text x="611.70" y="873.7" font-size="6.2" text-anchor="middle">10<tspan font-size="4.3" dy="-2.6">4</tspan></text>
<text x="628.50" y="873.7" font-size="6.2" text-anchor="middle">10<tspan font-size="4.3" dy="-2.6">5</tspan></text>
<path d="M547.40,769.7 H588.90 V818.8 H547.40 Z" fill="none" stroke="#8B2B9C" stroke-width="1.2" />
<path d="M589.30,820.0 H634.80 V845.1 H589.30 Z" fill="none" stroke="#E8559C" stroke-width="1.2" />
<text x="591.40" y="777.67" font-size="6.2" >TCRβ+</text>
<text x="591.40" y="784.87" font-size="6.2" >16.5%</text>
<text x="634.90" y="852.97" font-size="6.2" text-anchor="end" >CD19+</text>
<text x="634.90" y="859.47" font-size="6.2" text-anchor="end" >4.1%</text>
<text x="295.10" y="816.71" font-size="6.6" text-anchor="middle" transform="rotate(-90 295.10 814.40)" >TCRβ-APC</text>
<text x="317.20" y="885.68" font-size="6.8" textLength="40.20" lengthAdjust="spacingAndGlyphs" >CD19-BV650</text>
<path d="M365.60,883.30 L636.00,883.30 M633.00,880.30 L636.00,883.30 L633.00,886.30" fill="none" stroke="#4a5878" stroke-width="0.8" stroke-linecap="round" stroke-linejoin="round"/>
</g>
</svg>
</body></html>
